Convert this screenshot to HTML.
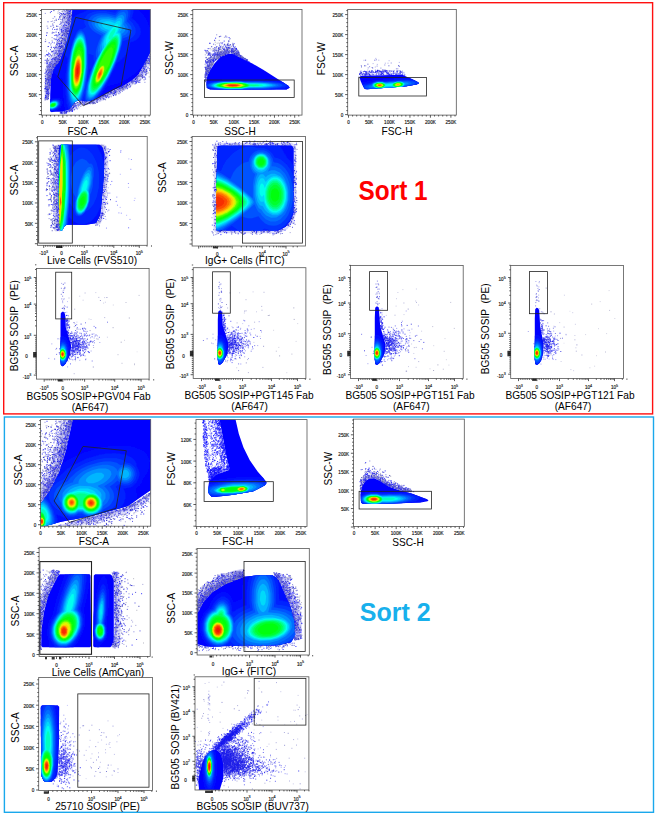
<!DOCTYPE html>
<html><head><meta charset="utf-8"><style>
html,body{margin:0;padding:0;background:#fff;width:659px;height:816px;overflow:hidden}
svg{display:block;font-family:"Liberation Sans",sans-serif}
</style></head><body>
<svg width="659" height="816" viewBox="0 0 659 816">
<defs><filter id="bl" x="-5%" y="-5%" width="110%" height="110%"><feGaussianBlur stdDeviation="0.45"/></filter></defs>

<rect x="3.7" y="2.7" width="648.9" height="411.2" fill="none" stroke="#ff1010" stroke-width="1.4"/>
<rect x="4.4" y="417" width="649.1" height="395.3" fill="none" stroke="#1aa8ec" stroke-width="1.4"/>
<text transform="translate(358.6 200) scale(1 1.12)" font-size="24.35" font-weight="bold" fill="#ff0000">Sort 1</text>
<text transform="translate(359.8 620.7) scale(1 1.06)" font-size="25" font-weight="bold" fill="#18b0ec">Sort 2</text>

<clipPath id="c0"><rect x="41.4" y="9.4" width="108.9" height="105.7"/></clipPath><g clip-path="url(#c0)"><path fill="#2020e0" fill-opacity="0.20" fill-rule="evenodd" d="M72.5 9.2l-8.3 0-1.7 2-.7 9-2 10.3-4 13.7-4 10.6-4.6 6.7-1 2.3-1 10.7 0 25 .6.7 2 0 1-1.4 2-14.6 0-3.7 1.7-8 3-5.7 5.3-7.6 7.7-23 3-15z"/><path fill="#2020e0" fill-opacity="0.20" fill-rule="evenodd" d="M71.8 9.2l-3 0-1.3 1.6-1 10.7-2.3 11.7-3.7 12.3-4.3 11.7-5 7-3.7 7.3-1 5.7-.3 21.6.6.7 1-.3 3.7-25.7 2.7-5.7 6-8.6 3.6-9.7 4-13.3 3-14.4z"/><path fill="#2020e0" fill-opacity="0.20" fill-rule="evenodd" d="M70.8 10.8l-.6 2-.7 8.4-3.3 15.6-3.7 12-3.7 9.7-6 8.7-2.6 5.6-1 5 0 5.4.6-6.4 1.4-5 3-5.6 5.3-7.7 7.3-22 3-14.3z"/><path fill="#2020e0" fill-opacity="0.15" fill-rule="evenodd" d="M61.2 54.8l-4 .4-2.7 1-6 8.3-2.3 4.7-1.4 8-.3 21.3.7 1.3 2.6.4.7-.7 3.3-25 3-6.7 5.7-8 1.3-3.6z"/><path fill="#2020e0" fill-opacity="0.15" fill-rule="evenodd" d="M60.5 55.5l-2.7 1-1 2.3-4.6 6.4-3.4 6.6-1.3 6.7-.3 5.3 0 15 .6-.6.7-6 1-3.7.7-8 1.3-7.3 3-6 4.7-6.4 1.6-3.6z"/><path fill="#2020e0" fill-opacity="0.17" fill-rule="evenodd" d="M151.8 52.5l-.6-.3-1.4 1-11.3 21.3-6.7 5.7-9.6 6.3-9.7 4-19.7 9.7-5 1-6.3-.4-2 1-5.3 1.4-5 6-6.4 2.3-2.3.3-.7 1 .4 1 2.3.4 10-2.4 3-2 4.3-4 3.4 0 2.6-1 8.4-1.3 6-1.7 23.6-11 12.7-8.3 3.3-1.3 2-1.7 2-2.7 6-11.3 1.4-6.3.6-1z"/><path fill="#2020e0" fill-opacity="0.17" fill-rule="evenodd" d="M76.8 103.8l-2.3 0-4.7 5.7-5.6 2.3-3 .7-.4.7 1.4.3 9-2.3 2.6-2.7zM150.8 54.2l-.6 0-11.4 21-7.6 6.3-10 6.3-7 2.7-19.7 9.7-6.7 1.6-6-.3-1.3 1.3 2.3 1 4 0 9-2 18.7-9 8.3-3.3 11.4-7.3 4.3-3.4 3-3.6 8.3-15.7z"/><g filter="url(#bl)"><path fill="#0000ff" fill-rule="evenodd" d="M151.8 9.2l-79.3 0-1.3 13.3-2.4 11.7-4 13.6-4.3 11.7-5.7 8-3.3 7.7-.7 4-.6 15.6 0 16 .6 1 11.4 0 6.6-2.3 2.4-2 4.3-6 3-1.3 2.7 0 3.6 1.3 8.4-1.3 19.6-9.7 9.7-4 9.7-6.3 6.3-5.4 12-22.6 1.3-1.4z"/><path fill="#0010ff" fill-rule="evenodd" d="M60.8 98.8l-2.3-1-4.3 0-4 1.4 0 11.6.6 1 1 .4 3.4-1 3-1.7 2.6-2.3 2-4-.3-2.4zM138.2 9.2l-65.7 0-1.3 13.3-2.4 11.7-4 13.6-4.6 12.4-5.4 7.3-2 4 3.4 3 7.3 5-.3 12.7.6 9.6 1.4 8.7 4.3-1.3 1.7-1.7 3-4.7 1.3-1.3 3-1.3 2.7 0 3.6 1.3 3.7-.3 4.7-1 6.3-3 7.3-11 11.4-3 8.6-4 8.7-6 7.3-7.7 3.4-5 4-9.3 1.3-6.7 0-9-1.3-6.7-4-9.3-3.4-5z"/><path fill="#0020ff" fill-rule="evenodd" d="M59.8 100.2l-2-1-4.3 0-3.3 1.3 0 10.3 2.3 0 2-.6 3-1.7 2.7-2.7.6-1.3 0-3zM133.5 9.2l-17.7 0-1 1-3.3-1-21.3 0-3 1-4 2.3-4.4 1.3-7.3 4.4-.3 4.3-2.4 11.7-4 13.6-1.6 4 1.3 3 3 3.4-2 18 0 16 1.3 11.3 1.7 6 2.7-2 4.3-6 3-1.3 2.7 0 4.3 1.3 6.7-1 5-2.3 5.3-7.4 5.3-9 6-12 2.7-6.6 3-2 5-5 1.7-2.4 2.3-4.6 1.3-4.4 0-2 5.7-2.3 3.7-3.3 1.6-4.4-.6-4.6-2.4-4.4-3.3-3.6-2.7-2 1.7-6.7zM90.2 68.8l.3 1.4-1.3 3 0-4z"/><path fill="#0036ff" fill-rule="evenodd" d="M58.8 100.5l-1.6-.7-3.7 0-3.3 1.4 0 9 2.3 0 2-.7 3.7-2.3 2-3.7-.4-1.7zM130.5 9.2l-11.7 0-3.6 3.6-11.4-2-9.3.7-5.3 2-2 1.3-2 2.4-1 2.6.3 4 1.7 3-3.7 2.4-2.3-.4-1.4.7-2.6 3.3-4 10-4 17.7-1.4 12-.3 14.7 1 11.3 1.3 6 1.7 3.7 5-6.7 3-1.3 3.7.3 2.3-7.3.3 6.3.7 2 6.7-1 2.3-1 2.3-2.3 6.7-9.4 4.7-8 8.6-18.6 3.7-10.4 2.3-9.6 8-2.7 2-1.3 2.4-3 .6-2-.3-4-2.7-4.7-3.6-3.7 1.3-6zM88.5 53.8l5 1.4 0 4.6 1 2-4.3 10.4-3 9.6-.4-2.3 1.4-10z"/><path fill="#0052ff" fill-rule="evenodd" d="M58.8 101.5l-3-1.3-3 .3-2.3 1-.3 8.3 3-.3 3.3-1.7 2.7-3 .3-1.6zM81.2 30.5l-1.7.3-2 1.7-3.3 6.3-2.4 7.4-3.3 18-1 10.6 0 14.4 1.3 10.3 2.7 7 4-5 3-1.3 2.7 0 3.6-12.4 1.7-10 1-10.6-.3-21.7-2-10-1.7-3.3zM126.8 9.2l-5 .3-3.3 2.3-3.3 3.4-9.4-2-5.6 0-4 .6-4.7 2-3 3.4-.3 4.3 1.6 3.7 2.7 3 3 2.3 6 3.3-3 6.4-2 6.3-.7 3.7 0 4 .7 2.3-5.7 13.3-4 13.7-1 6 0 6.7.7 2 1 1 3.3-.4 2-1 4.7-4.6 5.3-7.4 6-10.3 5.7-12 5.3-14.3 3-12.7 5.7-2.3 3-3.4.3-4.3-.6-2-2.4-3.3-2-1.7 1.4-5.7 0-4z"/><path fill="#006eff" fill-rule="evenodd" d="M58.5 102.2l-1.7-1.4-3.6 0-3 1.4 0 7 2.6 0 4-2 2-3zM81.5 32.2l-2.3.3-2 2-3.7 7.7-2.7 10.6-2 14-.6 7.7.3 17.3 1.3 7.4 1 3 1.7 2.6 3-3.3 3-1.3 1.7 0 2.6-7.4 1.4-5.3 2-12.3 1-17.7-.4-10.3-1.3-8.4-1-3-1.3-2.3zM123.8 11.8l-3 .7-1.6 1-4 3.7-6-1.7-8-.3-3.4.6-3.6 1.7-2.4 2.7-.3 3.6 2.3 4.4 3 2.6 5.7 3 .7 1-2 4-2.7 7.7-.7 4 .7 4.7-5.3 11.6-5.4 16.7-1.3 8 0 4.3.3 1.7 1.7 2.3 2 0 3-1.6 5.7-6 6-9 6.3-12 5.3-12.7 4.4-14 1-7.7.6-1 3-1.3 2.4-2.7.3-3.6-1.3-3-2-2.4 1-7.6-.7-2z"/><path fill="#0092ff" fill-rule="evenodd" d="M58.2 102.5l-1.7-1.3-3.3 0-3 1.3 0 6.3 2.6 0 3-1.3 2.4-3zM81.5 33.5l-1.7 0-1.6 1-3.4 5.7-3 9.6-1.6 9.7-1.4 13 0 16 1.4 8.7 1.6 4.3 1.7 2 2-2 3.3-1.3 2-3.7 3-10.3 1.7-10 1-12.4 0-15.6-1-7-1.3-4.4-1.7-2.6zM122.2 14.8l-3.4 1-3.6 3-6.7-1.6-8.3.3-3 1.3-2.4 2.7 0 3.3 1.4 2.4 2.6 2.6 6.4 3.4-2.7 5.3-2.3 7-.4 5.3.7 1.4-3.7 7-4 9.6-4.3 14-1.3 10.7.6 3.3 1.7 1.7 1.3 0 3-1.7 6.7-7.3 6.7-10.7 5-10 4-9.6 4.3-14 1.3-8.7-.3-2.7 1.3-.6 2.4-2.7 0-3.3-2-3 1-3.7 0-3.3-.4-1z"/><path fill="#00b6ff" fill-rule="evenodd" d="M57.5 102.5l-1.3-1-3 0-2.4 1-.6.7 0 5.3 2.6 0 3.4-1.7 1.6-2.3zM81.5 34.8l-2.7.4-3.3 4.6-3.3 10.4-2 12.3-1 12.7.3 14 2 9.3 1.3 2.3 1.4 1 1 0 2.6-1.6 3-5.7 2.7-9.3 2-13.4.7-8 0-15-1.4-8-1.6-4.3zM120.8 17.8l-1.3 0-2 1-2.3 2-5.7-1.6-6.3 0-2.4.6-2.6 2.7 0 2.7.6 1.3 2.7 2.7 5 2.3.3.7-2.3 4.3-2.7 8 .4 5.3-6.7 13.4-5.3 15-1.7 7-.7 6.3.7 4 .7 1 1.3.7 2.3-.7 2.7-2 5.3-6.3 7.4-12 7.3-16.4 3.3-10 2-9.3 0-7-1-1.7 2-2.3-.3-4.3.7-1.7 0-4.3z"/><path fill="#00dafa" fill-rule="evenodd" d="M57.2 102.8l-1.4-1-2.6 0-2.4 1-.6.7 0 4.7 2.6 0 2.4-1 2-2zM80.5 35.8l-1.3.4-2 2-2.7 5.3-2.3 8.3-1.7 10.7-.7 9 0 15.7.7 5 1.3 4.6 1 2 1.7 1.4 2-.4 1.7-1.6 3-6.4 2.3-9 2-15.3 0-21-1.7-7-1-2zM119.5 20.8l-2.3.4-2.4 2-4.3-1.7-4-.3-3.3 1-1.4 1.6.7 2.7 2.7 2.3 3 1 .6 1-3.3 6-1.3 3.7-.7 3.3.7 3.4-2 3-5 10-6 16-2.4 10.3 0 6.7 1.4 2.3 2.3 0 2.3-1.3 6.7-7.7 5.3-8.7 7.7-16.3 4-12 1.7-8 0-6.7-.7-1.6-1.7-1 1.4-2.7 1.3-5.3-.3-2.7z"/><path fill="#00fff0" fill-rule="evenodd" d="M56.8 103.2l-1-1-3 0-2.6 1.6 0 4 3 0 2-1 1.6-2zM80.8 37.2l-1 0-2.3 1.6-3 6-2.3 8.7-1.4 9-.6 10 0 13 1.6 9.3 1.4 2.7 1.3 1 1.7 0 1.3-1 3.7-7.3 2.3-9.7 1.7-13 0-20.3-1.7-6.7-1-2zM117.5 24.2l-2.3.6-3.4 3.4-2.6 4-2.4 4.6-1 3.4 0 3 .7 1-5 8-7 15.3-3.7 11.3-1.3 6.7 0 6.3 1.3 2.4 2.4 0 1.6-1 6.4-7 6.3-10.4 7-15.3 3.7-11.3 1.3-6.7-.3-7.3-1-1.4-2.4-.3 1.4-2.3 1-3.4 0-3z"/><path fill="#00ffbe" fill-rule="evenodd" d="M56.5 103.2l-1-.7-3.7.3-1.6 1.4 0 3 4 0 2-1.7zM80.8 38.5l-2 .3-1.6 1.7-2 4-2.4 7.7-1.6 10.3-.7 11 .3 14 1.7 7 1 1.7 1.3 1 1.7-.4 1.7-1.6 2.3-4.7 2.3-8.7 2-14.3 0-19.7-1.3-5.6-1.3-2.7zM115.2 28.5l-1.4.3-3.3 4-2 5 .3 1.7 1.7 0-4 5-3.7 6-5.3 10.7-3.3 8.3-2.4 7.3-1.6 7.7 0 6.3 1.3 2 2 0 2.7-1.6 6.3-7.7 6.7-11.7 5.6-13.3 2.4-7.3 1.6-7.7 0-6.3-1.3-2-2 0-2.3 1.6-.7-.3 2.3-4 .7-2.3z"/><path fill="#00ff8c" fill-rule="evenodd" d="M56.2 103.5l-.7-.7-3.7.4-1.6 1.6 0 2 4 0 2-2zM80.8 39.8l-1.6 0-2 2-1.4 2.4-2.6 8.3-1.7 10-.7 11.7.4 12.3 1.3 6 1 2 1.7 1.3 1.3-.3 1.7-1.7 3-7 1.6-7 1.7-12.3 0-18.7-1.3-5.6zM116.8 36.5l-1.6 0-2.4 1.3-4.3 4.7-5 7.7-5 9.6-3.3 8-3.4 10.7-1 5.3 0 5.4 1.4 2.3 1.6 0 2.4-1.3 4.3-4.7 5-7.7 5-9.6 3.3-8 3.4-10.7 1-5.3 0-5.4z"/><path fill="#00ff57" fill-rule="evenodd" d="M55.8 103.8l-1.6-1-1.7.4-2 1.6-.3 1.4 1.6 1 1.7-.4 2-1.6zM80.5 41.2l-1.3 0-2 2-1.7 3.3-2 6.3-1.7 10-.6 11.7.3 11 1.3 6 1 2 1.4 1 2.3-1 2-3.3 1.3-3.7 1.7-7 1.7-12.3 0-17.4-1.4-5.6-1-2zM115.5 37.8l-3 1.4-6 7-3.7 6-6.3 13.3-3.7 11-1.3 7 0 4 .7 1.7 1.3 1 3-1.4 6-7 3.7-6 6.3-13.3 3.7-11 1.3-7 0-4-.7-1.7z"/><path fill="#00ff2d" fill-rule="evenodd" d="M55.2 103.8l-1-.6-2.4.6-1 1 0 1.4 1 .6 2.4-.6 1-1zM79.8 42.5l-2.3 1.7-2.3 4.6-1.7 6-1.3 8.7-.7 11 .3 10.3 1.4 5.7 2 2.7 1 0 1.6-1.4 2.7-5.6 2-8.7 1.3-11 0-15.3-1.3-5.7-1-2zM114.8 39.5l-3.3 1.7-4.3 5-4 6.3-4.7 9.3-4 10.7-2 8.3 0 6 1.7 1.7 3.3-1.7 4.3-5 4-6.3 4.7-9.3 4-10.7 2-8.3 0-6z"/><path fill="#00ff0f" fill-rule="evenodd" d="M51.2 105.2l.3 1 2 0 1-.7.3-1.3-2.3-.4zM80.5 44.5l-1.7 0-2.6 3.7-2.4 7.6-1 6-1 18 1.4 9 2 3 1.3 0 1.7-1.6 1.3-2.7 2-6.7 1-5.6 1-10.4 0-11.3-.7-4.3-1-3zM114.2 41.5l-2.7 1-4 4.3-4.7 7.4-3.3 6.6-4.3 11.4-1.7 7 0 6 1.3 1.3 2.7-1 4-4.3 4.7-7.4 3.3-6.6 4.3-11.4 1.7-7 0-6z"/><path fill="#12ff00" fill-rule="evenodd" d="M54.2 104.5l-1.4-.3-1 .6 0 .7 1.4.3 1-.6zM79.8 46.5l-2 1-2.6 5.7-1.7 8-1 8.6 0 13.4 1.3 5.6 1.4 1.7 2-.3 2.3-4 2-7 1-7 .3-18.4-1-4.6-1-2zM113.2 43.8l-2 .7-3.4 3.3-3.6 5.4-4 7.6-3.4 8.4-2 7.3-.3 6 1 2 1.7 0 2.3-2 5.3-7.7 4-7.6 3.4-8.4 2-7.3.3-6z"/><path fill="#36ff00" fill-rule="evenodd" d="M79.8 49.8l-1.3 0-1 1-1.7 3.7-3 15 0 13 1.4 5.3 1.6 1.7 2-1.3 1.7-3.4 1.3-4.3 1.4-8 0-15.3-.7-4.4zM111.8 47.2l-2 .6-3.3 3.7-3.3 5.3-3.4 7-4.6 14-.4 3.4.4 1.6 1 1 2-.6 3-3.7 8-15.3 2.3-6.4 1.3-6 0-3z"/><path fill="#5aff00" fill-rule="evenodd" d="M103.8 65.2l-2 .3-1.6 1.7-3.4 6-1.3 4.6 0 4 .7 1 2-.3 1.6-1.7 3.4-6 1.3-4.6 0-4zM79.2 53.8l-.7 0-1.7 1.7-1 2-1.6 5.7-1 6.3 0 12.3 1 4.4 1.6 2 .7 0 1.7-1.7 1-2 1.6-5.7 1-6.3 0-12.3-1-4.4z"/><path fill="#b2ff00" fill-rule="evenodd" d="M103.2 65.8l-1.4.4-2 2-2.6 5-1.4 5 0 2.6 1 1.4 1.4-.4 2-2 2.6-5 1.4-5 0-2.6zM79.2 55.2l-2 1-1.4 2.6-2.3 10.7 0 11.7 1 4 1.3 1.6 2-1 1.4-2.6 2.3-10.7 0-11.7-1-4z"/><path fill="#e9f000" fill-rule="evenodd" d="M103.2 66.8l-1.4 0-2 2-2.3 4.4-1.3 5.6.6 2.4 1.4 0 2-2 2.3-4.4 1.3-5.6zM79.2 56.5l-1 0-1 1-1.4 2.7-2 9.3 0 11 .7 3 1.3 2 1 0 1-1 1.4-2.7 2-9.3 0-11-.7-3z"/><path fill="#ffcf00" fill-rule="evenodd" d="M102.8 67.8l-1.3 0-1.7 1.7-1.6 3-1.4 4.3.4 3.4 1.3 0 1.7-1.7 1.6-3 1.4-4.3zM78.8 57.8l-.6 0-1 1-1 2-2 9 0 9.7.6 3 1.4 1.7.6 0 1-1 1-2 2-9 0-9.7-.6-3z"/><path fill="#ffa000" fill-rule="evenodd" d="M102.2 68.8l-1.7.7-2.3 4-.7 2.3.3 3.4 1.7-.7 2.3-4 .7-2.3zM78.8 59.2l-.6 0-1 1-1 2-1.7 8 0 8.3 1 3.7.7.6.6 0 1-1 1-2 1.7-8 0-8.3-1-3.7z"/><path fill="#ff7200" fill-rule="evenodd" d="M101.8 70.2l-1 0-2.3 3.6-.3 4 1 0 2.3-3.6zM78.8 60.8l-1 0-1 1.4-1.6 6-.4 9 1.4 4 1 0 1-1.4 1.6-6 .4-9z"/><path fill="#fd4900" fill-rule="evenodd" d="M100.8 71.8l-1.6 2 0 2.4 1.6-2zM78.5 62.5l-.7 0-1 1.3-1.3 5-.3 6 .3 2.7 1 2 .7 0 1-1.3 1.3-5 .3-6-.3-2.7z"/><path fill="#f72f00" fill-rule="evenodd" d="M78.2 64.5l-1.4 1.3-1 4.7 0 4.7 1 2.3 1.4-1.3 1-4.7 0-4.7z"/><path fill="#f01400" fill-rule="evenodd" d="M78.2 67.5l-.7 0-.7 1.7 0 5.3.7 0 .7-1.7z"/></g><path stroke="#0808a0" stroke-opacity="0.90" stroke-width=".9" stroke-linecap="square" d="m63.6 9.6h0m4.3.3h0m.2.2h0m-14.2.5h0m12.9.2h0m-3.8 4h0m8.5.9h0m-2 .5h0m-10 .8h0m10 .2h0m-5 .4h0m3.6 2h0m-11.9.7h0m9.8 1.2h0m4.3.1h0m-2.5 1.5h0m1.3.4h0m-4.4 2.5h0m-8.2.2h0m10.7 2.2h0m1.4.4h0m-1.9 1.8h0m1.3.2h0m-.5.1h0m1.4.4h0m0 0h0m-2.1.1h0m-.9.4h0m-7.4.8h0m8.1.3h0m1 .6h0m-.9 2.7h0m-2 2.4h0m-2.1 0h0m-1.1 2.1h0m-4.2 4.3h0m2.1 1.4h0m2.4 1h0m-7.1 1.2h0m8.8.3h0m-2.4 2h0m-9.1.3h0m-.1.8h0m5.7 1.5h0m1.7 1.4h0m-4.6.1h0m-3.3.9h0m5 1.2h0m-.8.6h0m4.1 1.8h0m-.7.7h0m-10.9.2h0m9.8.2h0m-11.1 1.1h0m7.6 2.2h0m-.2.5h0m-3.4.6h0m5 .1h0m-7.1 1h0m4 .1h0m-3.8 2.9h0m-.9.2h0m5.6.5h0m-5.6 5.3h0m0 2.1h0m2.4.2h0m.1 1.2h0m-2.4.7h0m-2.2 1.1h0m3 .7h0m-1.1 1.7h0m2.3 2.6h0m-4.4 2.2h0m.7 1.6h0m1.1 4.3h0m-2.4 6.4h0"/><path stroke="#1a1aff" stroke-opacity="1.00" stroke-width=".9" stroke-linecap="square" d="m72.2 9.6h0m-5.5 0h0m4 .8h0m-.5.3h0m.1.6h0m-.8.1h0m-18.2.1h0m17.5.3h0m.6 1.4h0m0 .2h0m-5.7.1h0m-2.8.1h0m7.3.3h0m.7.1h0m.6 1.7h0m-8.7 0h0m10.6.1h0m-3.4 0h0m2.7.6h0m-7 .5h0m-3.6.1h0m6.1 1h0m2.6.3h0m-10.2 1h0m10.1.3h0m.1 1h0m1.5.9h0m-.2.3h0m-2.2 0h0m1.9.1h0m-2.9.5h0m3.2 1.6h0m-5.6.1h0m-4.5.3h0m8.5.2h0m-3.2.4h0m-1.7.4h0m3 .1h0m3.5.1h0m-1.7.7h0m-1.2 1.4h0m-2.3 0h0m3.2.2h0m-5.9.2h0m1.7.6h0m3.5.1h0m-1.3.4h0m-4.9.2h0m-6.4.1h0m6.9.2h0m4.6.1h0m-4.9.2h0m7.5.1h0m-3.3 0h0m1.8.5h0m-4.2.2h0m.3.1h0m-1.9.3h0m.5.1h0m6.1 0h0m-1.4.5h0m-10.7.3h0m-3.9 1h0m14.9.1h0m-2.6.3h0m.1.1h0m-.6.2h0m1.3.3h0m1.2 0h0m-2.6.4h0m-4.6 0h0m8.9.3h0m-5.7.3h0m-4.4 0h0m-11.6.3h0m8.4.1h0m7.7.1h0m-.9.1h0m2.9 0h0m-7.4.4h0m8.2.7h0m1.6.5h0m-6.9.6h0m1 .1h0m-4.8 1.1h0m8.5.8h0m-.4.3h0m-7 .2h0m2.2.6h0m5.8.7h0m-13.1.4h0m-3.1.7h0m12.4 0h0m-.2.4h0m-.2.3h0m-2.5.2h0m6.2.3h0m-8.3.3h0m8.5.6h0m-3.2.6h0m.4.8h0m-3.3.2h0m4.1 0h0m-14.7 0h0m13.5.4h0m-5.7.1h0m7.4.1h0m-9.9.3h0m9.4.5h0m-2.5.1h0m-1.6 1.1h0m3.5.4h0m1.2 0h0m-4.4 1.3h0m3.8.1h0m-9.4.1h0m-1.4.5h0m6.6 0h0m1 .5h0m3 .4h0m-14.4.7h0m5.7.1h0m1.5.2h0m2 0h0m4.2.3h0m-1 0h0m-1 0h0m1.2.1h0m-11.4 0h0m12.1.2h0m-1.8.2h0m-13.3.4h0m.6.2h0m12.3.1h0m-9.2 0h0m8.2.5h0m-.4 0h0m2.8 1.1h0m-11.9.1h0m10.5.8h0m-4.4.6h0m-2.1.8h0m-.6.1h0m5.7 0h0m-1.4 0h0m-5.1.7h0m-6.5.7h0m10.1.5h0m1.1.8h0m.3.3h0m-6.1.3h0m-1.1.7h0m-2.4.2h0m9.3.2h0m-9.2.4h0m9.2.3h0m-6.1 0h0m-1.3.7h0m7.4 0h0m-6.9.1h0m4.6 0h0m-1.4.1h0m1 0h0m1.9.9h0m.2.1h0m-2.6 1.2h0m.5 0h0m-5.8.1h0m6.6.2h0m-4.6 2.4h0m1.1.4h0m-1.8.5h0m.3.5h0m-3 0h0m4.3.2h0m1.6.5h0m-1.1.2h0m-2.6.4h0m-3.7.8h0m2.9.5h0m3.5 1.1h0m-1.5.7h0m.4 1.2h0m-1.4.3h0m1.4 1.2h0m-4.6.3h0m-.3.1h0m4.8.6h0m-1.7.9h0m1.6.3h0m-1.6 1.7h0m1.8.3h0m-2.8.7h0m-2 .4h0m4.8.4h0m-3 .1h0m2.2 0h0m-.7 1.1h0m-2.6 1.5h0m-.5.5h0m3.3 1.1h0m-3.3.1h0m-.6.1h0m-.1.4h0m3 .6h0m-.6.3h0m-.1.3h0m.1.9h0m.3.1h0m0 .7h0m-1 .1h0m2 .3h0m-2.2 1.2h0m.8.2h0m1.2.7h0m-2.5 1.2h0m.2 1.2h0m-.5.2h0m.1.4h0m-.3.3h0m-.4.6h0m3.3.4h0"/><path stroke="#2b2bd8" stroke-opacity="0.90" stroke-width=".9" stroke-linecap="square" d="m72.1 9.5h0m-5.6.4h0m-7.6.1h0m8.9 1.9h0m-17.4.7h0m9.4.1h0m7.3.1h0m.3.4h0m1.3.1h0m-2.6 0h0m-4.8.2h0m2 .1h0m7.1.1h0m-1.2.2h0m-4 .3h0m-.6.4h0m3.7 0h0m-6.6.1h0m3.5 0h0m6.2 0h0m-4.2 1.1h0m-1.8.6h0m-10.7.4h0m14.2.4h0m-4.7 0h0m5.1.6h0m1.7.2h0m-.5.7h0m-1.2.1h0m-6.8.3h0m5.6.3h0m-5.3.7h0m6.7.1h0m1.8 0h0m-3.5.4h0m-19.8 1.2h0m14.2.2h0m1.9.2h0m4.4.4h0m-2 .1h0m-5.1.3h0m7.9 1.1h0m-.1.1h0m-16.1 1.5h0m16.4.5h0m-6.4.1h0m-12.2 0h0m6.9 0h0m5.5.9h0m-9.6.2h0m15.5.4h0m-3.5 0h0m-17.9.4h0m18.7.6h0m-9.4.2h0m12.5.1h0m-17.1 0h0m4.5.6h0m8.1 0h0m0 .4h0m.2 1.6h0m-.4.3h0m-3 .7h0m.9.1h0m-15.9.1h0m21.7.3h0m-4.7.4h0m4.3 0h0m-.2.2h0m-.8.2h0m1.1.2h0m-12.3.7h0m.4.3h0m10.3 0h0m-1.8.2h0m-3.5 2.5h0m1.6.6h0m2.6.5h0m-10.8 0h0m4.4 0h0m6.1.1h0m-7 .4h0m4.9.1h0m-7.3.1h0m6.5.5h0m3.1.1h0m.7.9h0m-.8 0h0m-4.5.2h0m-15.6.2h0m16.1.5h0m-.2.1h0m5 .1h0m-.7.2h0m-7.7.3h0m-3.5.1h0m11.3.5h0m-6.4.1h0m4.4.2h0m-3.8 0h0m4.7.3h0m-4.5 0h0m-.4.2h0m5.8.4h0m-5.6.1h0m-.4.7h0m2.5.1h0m-1.7.8h0m.1.1h0m1.7.2h0m-1.3 0h0m-.1.1h0m1.5 0h0m-10.7.4h0m7.3.1h0m-1.7.1h0m-1.3.2h0m7.3.3h0m1.2.3h0m-5 .2h0m1.3.2h0m2.5.1h0m-5.9.2h0m-6.6.9h0m12.6.5h0m-5.1.4h0m1.1.1h0m1.9.1h0m-4.9 0h0m3.3.1h0m1.5.5h0m-4.4.7h0m5.6.9h0m-.9.1h0m-1.3.2h0m.1 0h0m-2.2.7h0m-.7.1h0m5.2.2h0m-14.1.2h0m-.8.7h0m13.9 0h0m-16 .7h0m13.5.2h0m1.7.1h0m-2.1.3h0m-10.9 2.3h0m-.2.3h0m12.3 0h0m-2 .1h0m-2.9 0h0m.2 0h0m4 .1h0m-3.7.4h0m-1 0h0m1.3.6h0m-8.7.3h0m10.3.7h0m1.3.2h0m-6.5 0h0m6.7.5h0m-11.6.9h0m10.8.2h0m-2.4.3h0m-4 0h0m4.7.6h0m-1.2 0h0m.6.2h0m-.8 1.2h0m-4.8.7h0m.6.4h0m2.3.2h0m-5.8.2h0m2.5.4h0m2.5.6h0m-.6 1.6h0m2.1.1h0m-.7.7h0m-5.1.2h0m4.5.6h0m-5.9.1h0m2.8.7h0m-2.9.4h0m5.8.3h0m-1.6.3h0m1.1.7h0m-.4.1h0m-1.1 0h0m.4.6h0m-3.6.1h0m4.2.3h0m-1.1 1.3h0m-4.7.1h0m3.9.5h0m-.1.2h0m1.9.6h0m-3.3 1.2h0m-.5.4h0m2.1.3h0m-2.3 0h0m.2.1h0m3.1 1.1h0m-4.4.4h0m.4.1h0m-.3.6h0m4.4.4h0m-.5.4h0m-.1 1.2h0m-.8 1.8h0m.2.9h0m-1.5.5h0m-1.6.4h0m3.3.5h0m-1.6 1h0m-2.4.1h0m3.1.3h0m-1.6.3h0m1.5.2h0m-.9.9h0m-.8.9h0m1.2 1.9h0m1.4.1h0m-.5.8h0m-.7.1h0m.3 1h0m-2.8.1h0m3 1.2h0m-2 .5h0m.4 0h0m1.2 1h0"/><path stroke="#5a5ad0" stroke-opacity="0.80" stroke-width=".9" stroke-linecap="square" d="m69.3 10.4h0m-4.8.3h0m-2.4.6h0m8.9 1.2h0m-.3.2h0m-3.1.3h0m1.2.3h0m-23.5.1h0m16.6.8h0m8.9 1h0m0 1.8h0m-3.1.5h0m-4.4.7h0m-3.5 0h0m-6.7.2h0m11.2.1h0m2.9.2h0m-2.2.4h0m-8.8.1h0m4.7.2h0m9.2.3h0m-.6 1.5h0m-3.1 0h0m-15.2.3h0m18.8.2h0m-9.5.2h0m8.3.1h0m-14.6.4h0m6.3 1h0m-7.7 1.3h0m12.6.8h0m-18.3.6h0m13 .9h0m7 .6h0m-7.5.7h0m4.5 1.5h0m-4.7.1h0m2.8.1h0m4.1 1.6h0m-4.7.5h0m-9 .1h0m1.3.3h0m9.6.1h0m-9.7.1h0m-6.6.1h0m11.5.5h0m6.1.4h0m-.3.1h0m-2 .7h0m3.7 1.7h0m-.1.5h0m1 .2h0m-15 .7h0m12.1.8h0m-10.3.3h0m8 1.6h0m-2.4.2h0m6.1.7h0m-8.7.7h0m7.9.2h0m.4.5h0m.6.4h0m-1.7 0h0m.8.1h0m-4.9.2h0m-2.7.1h0m-.5.6h0m7.7.4h0m-13.8.5h0m10.9.6h0m-1.5 1.7h0m-5.3.1h0m-3.5.2h0m.1.4h0m12.9.2h0m-2.4 1.7h0m-2.4.4h0m-4 .6h0m1.4.1h0m6.3 0h0m-3.5.2h0m2.4.9h0m-2.9.2h0m-3.6.3h0m2.9.3h0m-1.3.6h0m-.6 3.8h0m-1.6.4h0m-.1.6h0m4.3.1h0m-4.9.1h0m-.8.1h0m1.1.1h0m1.3.1h0m-.2 1.7h0m-3.5.3h0m.5.6h0m3.4.5h0m-8.5.2h0m10.9.2h0m-.8 0h0m-5.3.7h0m5.2.3h0m-6.8 1.2h0m2.9 1.1h0m.8.8h0m-7.2.3h0m1.5.4h0m2.4.2h0m1.9 0h0m.6.2h0m-.7 1.4h0m-5.5.1h0m-2 .4h0m4.1.5h0m.8.4h0m1.2.8h0m-1.5 1.4h0m-4.2 0h0m1.9 1.2h0m3.1.6h0m-3.2.6h0m3.1.9h0m-5.3.8h0m4 .3h0m-.7 1.3h0m-1.4 1h0m-1.2 1h0m.6.2h0m-1.7 2.2h0m2.2 1.1h0m-1.8 1.2h0m-.5 1.4h0m2.1 1.2h0m2.3 1.1h0m-4.3 2.7h0m.9.6h0m1.3 2.1h0m-.4 4.1h0m-.6 1h0m1.3.5h0"/><path stroke="#8080c8" stroke-opacity="0.80" stroke-width=".9" stroke-linecap="square" d="m60.8 9.7h0m8.6.3h0m-6.4.7h0m2.1.6h0m.6.1h0m3.2 1h0m-.5.5h0m-10.4.4h0m8.8.9h0m-7.1 0h0m9.2.5h0m-9.4 0h0m7 .4h0m2.5 0h0m-4.3 1.1h0m-3.9.2h0m10.7.1h0m-1.2 1.8h0m-.6.2h0m0 .2h0m-9.5.6h0m8.3.1h0m-6.6.3h0m5.6.3h0m-2.6.2h0m-10.2.4h0m7.9.4h0m-10 .1h0m14.1.3h0m1.6 0h0m.8.1h0m1.9.3h0m-.2.1h0m-1.6.1h0m-6.1.3h0m2.4.3h0m2 0h0m2.6.3h0m-4.7.1h0m-12.7.7h0m17.2.6h0m-.1.9h0m-5.2.2h0m3.8 1.1h0m.8.1h0m-1.9.2h0m-.1.8h0m.7.1h0m.2.1h0m-2.8.4h0m1.4.7h0m-10.1.6h0m10.8.1h0m1.4 0h0m-6.1 2.3h0m6.2 0h0m-3.7.6h0m2.6.1h0m-7.6 1.1h0m5.9.7h0m-1.5.4h0m-.9.3h0m2.2.7h0m-4.3.4h0m6 .1h0m-10.7 1h0m4.9.4h0m-.4.2h0m4.3 0h0m-1.1.3h0m.6.2h0m.3.5h0m1.4 0h0m-.8.1h0m.8.8h0m-3.2 1h0m-5.6.2h0m5.1.2h0m-17.4 0h0m15.9 0h0m1.1.9h0m1.4.4h0m.3.7h0m-13.4.3h0m8.6 1h0m2.6.5h0m1.4.6h0m-.4 0h0m.1.4h0m-15.6.6h0m15.6.3h0m.7.1h0m-1.4 0h0m1.2.7h0m-6.1.2h0m6.8.1h0m-2 .1h0m.9.3h0m-9 .1h0m8.1 1h0m-.2.2h0m.6.3h0m-1.5.1h0m1.5.4h0m-16.5.5h0m13.4.7h0m1.8.1h0m.3.1h0m-6.2 1.6h0m2.8.4h0m-9.9 1.5h0m10.3 1.7h0m-5.4.3h0m6.4.9h0m-.6.1h0m-2.6 1.3h0m-10.2.3h0m1.6.4h0m9.2.2h0m1.2 0h0m-3.6.7h0m-3.5.5h0m-6.4 1.2h0m11.9.7h0m-.4 0h0m-1.1.3h0m-6.1.4h0m5 .4h0m.4.3h0m-3 .1h0m-4.3.2h0m5.4 1h0m-1 1.3h0m-1.8.2h0m2.6.6h0m-4.2 1.1h0m-2.3 1.2h0m4.5.1h0m-1.9.7h0m1.9 2.1h0m-.7.6h0m-.5.2h0m-1.1 2.1h0m2 .9h0m.5.5h0m-5.1 2.1h0m4.4.4h0m-3.9.8h0m.2.7h0m1.3.1h0m2 1.2h0m-3.1.2h0m.4.8h0m-1.2 1.1h0m2.4.6h0m-2.9 1.5h0m2.8.4h0m.7.4h0m.1.5h0m-1.3 2.8h0m-1.4 5.2h0m1.1 2.6h0"/><path stroke="#8c8ca0" stroke-opacity="0.70" stroke-width=".9" stroke-linecap="square" d="m67.7 11.2h0m-5.4.5h0m-4.2.1h0m12.9 1.9h0m-3.1.9h0m3.4.3h0m-3.8.1h0m-1.6 2h0m-4 0h0m5.3.8h0m-3.2.4h0m6.6.4h0m.4 1.9h0m-1.3 3.9h0m-8.3 1.2h0m8.3 0h0m-.6.2h0m-2.3 1.3h0m-.2 3h0m.8.5h0m-.7 1.3h0m-.9 1.3h0m-2.4.6h0m3.1.3h0m-1.6 0h0m-3.8 1.1h0m.5 1.5h0m2.3 1h0m1.5.2h0m.7 1.1h0m-20.6.4h0m16.6.9h0m-10 .1h0m6.4 1.2h0m7.7.1h0m-.8.5h0m-9.9 3.7h0m6.4 3.9h0m-8.2 1.2h0m3.5 2.8h0m3.7.3h0m-3.5.1h0m-.8.3h0m-4 .6h0m7.1 3.4h0m-4.5 2.3h0m-4.5 3.2h0m3.4.5h0m.9.6h0m-1 .4h0m-7.1.9h0m2.5 3.6h0m-1.4.6h0m1.9.5h0m.1 3h0m-2.9 1.2h0m2.8 1.1h0m.3 1.4h0m-2.7.5h0m3 4.3h0m-2.4 2.1h0m.3 1.2h0m.8 2.7h0m-2.6 1.8h0m.8 4.4h0m1.6.5h0m-.6 1.6h0m-1.9 1.1h0m.5.7h0"/><path stroke="#0808a0" stroke-opacity="0.90" stroke-width=".9" stroke-linecap="square" d="m146.5 60.4h0m-.2.6h0m2.6 2.3h0m-5.7 3.2h0m1.5 2.5h0m1.1 2h0m-8.7 5.5h0m0 .8h0m5.5.3h0m-7.4.7h0m.3.8h0m-.1.3h0m-3.3 1.9h0m4.4.9h0m-8.4 3.6h0m-1.6.1h0m4.1.2h0m-7.7.9h0m-1.2 1h0m-1.8.3h0m3 .7h0m-6.8 2h0m-1.4 1h0m-4.1 0h0m5.4.2h0m-2.6 1.1h0m-13.8 4.6h0m-1.3 1.2h0m2.5.1h0m-9.2 1.6h0m1.6 1.4h0m3.9 0h0m-5.2 0h0m2.3.4h0m-16.6.1h0m12 .4h0m5.6.2h0m-20.7.1h0m14.5 0h0m4.3.2h0m-18.3.3h0m-2.3 1.6h0m.8 2h0m-4 2.5h0m1.6.3h0m-4.5 1.1h0m-2 .2h0m1.8.7h0m-4.8.1h0m-.9 0h0"/><path stroke="#1a1aff" stroke-opacity="1.00" stroke-width=".9" stroke-linecap="square" d="m149.8 56.7h0m-2.2 1.8h0m.9.4h0m1.6 0h0m-2.4 0h0m1.9.1h0m-.8 1.7h0m.7 1h0m-.6 1.1h0m-3.4.7h0m3.4.1h0m-4.2.5h0m.7.2h0m-.4.1h0m-1.5 1.3h0m7.4.5h0m-6.9.7h0m1 .1h0m3 .9h0m-5 .3h0m.7.2h0m1.1.7h0m-.7.6h0m-.6 1h0m-2.6 0h0m3.2.5h0m2.9.1h0m-5.1.9h0m3.3.2h0m1.6.9h0m-5.2 1h0m4.4.5h0m-7.4.8h0m3.9.4h0m2.1 1h0m.5.9h0m-9.1.3h0m.1.7h0m1.5.9h0m-4.6.3h0m-1.4.6h0m4.8.2h0m-2.1.1h0m-3.2.1h0m3.9.2h0m.8.2h0m-4.4.3h0m6.9.5h0m1.5.1h0m-3.4.6h0m-.8 0h0m-8.7 1.4h0m.6.2h0m2 0h0m-5.9 1.9h0m1.7.4h0m1.2.1h0m3.4.1h0m-7.5.4h0m-3.4.9h0m8.3.3h0m-4.4.1h0m-3.3 0h0m-1.8.7h0m-2.9.9h0m.1.7h0m-1.1.2h0m-3.4.7h0m4.9.1h0m0 .5h0m-3.6.2h0m-3.2.5h0m5.8.2h0m-6.7.3h0m5.8 1.4h0m-5.8.1h0m-3.6.1h0m-.3.1h0m1.4 0h0m.9.8h0m-.6.5h0m-4.3.2h0m5.2.4h0m2.3.3h0m-10.8.4h0m2.5 0h0m3.6 1h0m-7 .1h0m.3.7h0m-3.9.9h0m-3 .3h0m-.1.5h0m-7.4.1h0m-5.5.7h0m12.5.1h0m-9.5.3h0m9.4.5h0m-5.7.6h0m-3.8.1h0m3.9.7h0m-5.4.2h0m-2.8.7h0m-2.8 0h0m2.7.3h0m-1 .5h0m-1 .4h0m-.8.9h0m-.8.6h0m-1.3.5h0m1.7.2h0m-2.3.1h0m-2 .6h0m1.6.3h0m2.5.5h0m-6.5.6h0m3.4.2h0m3 .2h0m-5.3 0h0m-4 .4h0m2 .1h0m-.4.2h0m-.1.2h0m.5.1h0m-4.3 0h0m.3.3h0m-.5.1h0m5.2.1h0m-3.6 0h0m4.3 0h0"/><path stroke="#2b2bd8" stroke-opacity="0.90" stroke-width=".9" stroke-linecap="square" d="m150.3 54.6h0m-1.5 1.5h0m1.8.7h0m-.5.4h0m-1.7 1.1h0m2 .4h0m-1.4 1.3h0m.7.3h0m-2.7.1h0m.5.8h0m-2 .8h0m1 .3h0m-1 .1h0m.6.9h0m-1.4.6h0m.6 2.1h0m-2.2 1.7h0m6.2 1h0m-2.9.8h0m4.1.5h0m-3.8.2h0m2.9.1h0m-8.2.1h0m5 1h0m-2.1.6h0m-1.6.2h0m0 1.8h0m3.1 0h0m-4.4.7h0m4.2.2h0m-3.3.6h0m-1.9.4h0m-1 .1h0m.8.1h0m1.5.3h0m-3.3 0h0m4.7 1h0m-6.8.4h0m.7.6h0m8.6.7h0m-10.6 0h0m9.1.7h0m-11.5.2h0m7.1.7h0m-1.7 0h0m-5.3.2h0m.9.3h0m4.2.2h0m-6.1.9h0m-2.6.8h0m-1.9.9h0m7.8 0h0m-9 1h0m1.5.1h0m-2.5 1.1h0m1.1.6h0m-3.4.6h0m-1.8.1h0m1.1.1h0m-1.6.5h0m3.5 1.8h0m-5 .1h0m1.7.1h0m-6.1.3h0m-.1.9h0m5.2.1h0m-8 .2h0m-.9.7h0m.9.4h0m8.6 0h0m-5.6.2h0m-3.7.7h0m8 .1h0m-6.3.3h0m3.4.1h0m-6.2.2h0m5.1.4h0m-9.2.4h0m10.1.1h0m-2.3.3h0m-8.3.1h0m8.3 0h0m-11 .5h0m1.1 0h0m3.8.2h0m-4.4.1h0m.5 2h0m.3.5h0m-6.9.7h0m-2.4.5h0m-12 1.2h0m14.3.1h0m-16.4 0h0m9.8.2h0m-3.4.1h0m5.5.5h0m-7 .3h0m4.4 0h0m-7.4.2h0m.5 0h0m-2.3.2h0m8.6 0h0m-4.2.2h0m-8.7.2h0m-2.2.5h0m6 .1h0m-4.9 0h0m11.9.4h0m-2.9.1h0m1.7.2h0m-12.2 2.2h0m2.7 1.1h0m-4 .2h0m-1.7.6h0m6.7.2h0m-5.7.6h0m2.9.2h0m-3.7.7h0m-3.7.4h0m4.2.3h0m-10.8.9h0m1 1.2h0m3.1.4h0m-1.7.3h0"/><path stroke="#5a5ad0" stroke-opacity="0.80" stroke-width=".9" stroke-linecap="square" d="m149.4 55.5h0m-2.1 5h0m2.8 2.5h0m-2.9.1h0m.4.2h0m3.1.1h0m-5.7.4h0m-1 2.5h0m2.4.1h0m4.2 1.3h0m-8.4 3.3h0m1.4.5h0m2.7.7h0m-6.4 1.1h0m2.9 2.9h0m-1 .2h0m-1.5 2.8h0m-.6 1.4h0m-8.4.9h0m1.5.7h0m12.1.1h0m-12.2.1h0m0 1.2h0m-6.2 2h0m-2.1.4h0m.1.1h0m-.1.7h0m.5.6h0m2.9.4h0m-3.5.1h0m1.4.8h0m-4.7.1h0m-3.1.2h0m4.6 2.2h0m-4.6.6h0m-8.8 1.1h0m-1.9 2.2h0m-.3.3h0m.5 0h0m-2.9.2h0m-.1.7h0m3.8.3h0m1.4.2h0m-9 .6h0m2 .5h0m-3 .7h0m-1.7.4h0m7.4.6h0m-9.1.4h0m1.1.4h0m2.6.3h0m-15.8 1.5h0m5.3.3h0m8 0h0m-7.4.1h0m2.3.8h0m-18 .2h0m19.9 0h0m-15.3.3h0m4.1 0h0m-8.9.1h0m-.2 1h0m3.3.3h0m1.8.2h0m-4.5.2h0m.1.2h0m1.6 1.1h0m-5.5 1.2h0m1.6.1h0m0 1.6h0m-3.7.4h0m1.8.3h0m-2.3.5h0m-3 2.5h0m-3.9 0h0"/><path stroke="#8080c8" stroke-opacity="0.80" stroke-width=".9" stroke-linecap="square" d="m150.1 54.6h0m-2.6 6.1h0m-1.2 1.7h0m1.2.2h0m1.8 1.5h0m-4.1.8h0m4.8.1h0m.4.2h0m-6 1.1h0m1 1h0m5 .7h0m-5.8 3.1h0m-1.7.3h0m-2.2.3h0m2.2.1h0m-3.1.6h0m1.1 2h0m-2 .1h0m1 .1h0m.8 0h0m.9.3h0m-1.8.1h0m2 .7h0m-2.7.4h0m-.1.4h0m1.7 0h0m3.1 0h0m5.4.4h0m-7.3.1h0m.6 1.4h0m-7.3.3h0m2.7.1h0m-3.6.2h0m3 0h0m.1.4h0m-4.2 1.1h0m1.3.3h0m3.3.9h0m-6.7.5h0m-5.1 2.4h0m-1.9 1.1h0m-.1.6h0m1.4 0h0m-.7.3h0m-1.2.7h0m-3 .5h0m3.3.6h0m-5.2 0h0m4.2.9h0m-4.3.1h0m-3.9 1.5h0m-.2.8h0m-1.2.9h0m-4.9 1.3h0m2 .1h0m-2.2.6h0m-2.2 2.1h0m5.4.1h0m-9.7.4h0m1 .5h0m1.1.4h0m-1 .7h0m-4.4 0h0m-.2.1h0m5.5.8h0m2 .1h0m-12.5.8h0m-.8.8h0m-4.7.2h0m3.7.1h0m1 0h0m4.5.1h0m-5.7.1h0m-9.2.1h0m-.3.1h0m-2.9.3h0m-.8.5h0m9 0h0m4.2.3h0m-4.9 0h0m6.2.6h0m-1.9 0h0m-2.7.1h0m-4.4.4h0m-10.6 1.4h0m5.8.6h0m2.2.2h0m-10.5 2.7h0m3.9.2h0m-9.1 3.3h0m-4.9.3h0"/><path stroke="#8c8ca0" stroke-opacity="0.70" stroke-width=".9" stroke-linecap="square" d="m148.2 61.8h0m-1.3.6h0m2 .2h0m-2.6 2.4h0m-4.2 4.4h0m1.9.7h0m3 2.7h0m1.5.1h0m-1.9 1h0m-6 1.6h0m-1.8.3h0m1.2 4h0m-6.7 3h0m-10.4 5.7h0m0 .5h0m-6.3.5h0m5 .9h0m-8.5 1.3h0m.1.5h0m-5.3 1.1h0m8.6.9h0m-30.8 7.5h0m-6.2.8h0m.3.5h0m5.9.1h0m-8.1 1.4h0m-4.5 1.7h0m5.8 1.7h0m-7.6 2.6h0m-6.9 1.9h0m-4.2.5h0"/></g><polygon points="75.7,17.4 130.9,30.1 121.2,85.4 83.3,105.8 57.8,76.8" fill="none" stroke="#222" stroke-width="0.8"/><rect x="41.4" y="9.4" width="108.9" height="105.7" fill="none" stroke="#555" stroke-width=".8"/><path stroke="#333" stroke-width=".8" fill="none" d="M46.41 115.1v1.4M50.52 115.1v1.4M54.62 115.1v1.4M58.73 115.1v1.4M66.95 115.1v1.4M71.06 115.1v1.4M75.16 115.1v1.4M79.27 115.1v1.4M87.49 115.1v1.4M91.6 115.1v1.4M95.7 115.1v1.4M99.81 115.1v1.4M108.03 115.1v1.4M112.14 115.1v1.4M116.24 115.1v1.4M120.35 115.1v1.4M128.57 115.1v1.4M132.68 115.1v1.4M136.78 115.1v1.4M140.89 115.1v1.4M149.11 115.1v1.4M42.3 115.1v2.6M62.84 115.1v2.6M83.38 115.1v2.6M103.92 115.1v2.6M124.46 115.1v2.6M145 115.1v2.6M41.4 110.6h-1.4M41.4 106.59h-1.4M41.4 102.59h-1.4M41.4 98.58h-1.4M41.4 90.58h-1.4M41.4 86.57h-1.4M41.4 82.57h-1.4M41.4 78.56h-1.4M41.4 70.56h-1.4M41.4 66.55h-1.4M41.4 62.55h-1.4M41.4 58.54h-1.4M41.4 50.54h-1.4M41.4 46.53h-1.4M41.4 42.53h-1.4M41.4 38.52h-1.4M41.4 30.52h-1.4M41.4 26.51h-1.4M41.4 22.51h-1.4M41.4 18.5h-1.4M41.4 10.5h-1.4M41.4 114.6h-2.6M41.4 94.58h-2.6M41.4 74.56h-2.6M41.4 54.54h-2.6M41.4 34.52h-2.6M41.4 14.5h-2.6"/><text x="42.3" y="124" text-anchor="middle" font-size="4.6" fill="#111" stroke="#111" stroke-width="0.14">0</text><text x="62.84" y="124" text-anchor="middle" font-size="4.6" fill="#111" stroke="#111" stroke-width="0.14">50K</text><text x="83.38" y="124" text-anchor="middle" font-size="4.6" fill="#111" stroke="#111" stroke-width="0.14">100K</text><text x="103.92" y="124" text-anchor="middle" font-size="4.6" fill="#111" stroke="#111" stroke-width="0.14">150K</text><text x="124.46" y="124" text-anchor="middle" font-size="4.6" fill="#111" stroke="#111" stroke-width="0.14">200K</text><text x="145" y="124" text-anchor="middle" font-size="4.6" fill="#111" stroke="#111" stroke-width="0.14">250K</text><text x="37" y="96.98" text-anchor="end" font-size="4.6" fill="#111" stroke="#111" stroke-width="0.14">50K</text><text x="37" y="76.96" text-anchor="end" font-size="4.6" fill="#111" stroke="#111" stroke-width="0.14">100K</text><text x="37" y="56.94" text-anchor="end" font-size="4.6" fill="#111" stroke="#111" stroke-width="0.14">150K</text><text x="37" y="36.92" text-anchor="end" font-size="4.6" fill="#111" stroke="#111" stroke-width="0.14">200K</text><text x="37" y="16.9" text-anchor="end" font-size="4.6" fill="#111" stroke="#111" stroke-width="0.14">250K</text><text x="82.6" y="134.5" text-anchor="middle" font-size="10.15">FSC-A</text><text transform="translate(18.3 60.9) rotate(-90)" text-anchor="middle" font-size="10.15">SSC-A</text>
<clipPath id="c1"><rect x="192.8" y="9.5" width="109.2" height="105.6"/></clipPath><g clip-path="url(#c1)"><path fill="#2020e0" fill-opacity="0.13" fill-rule="evenodd" d="M248.2 60.8l-2-2-5-3.3-1.7-1.7-3-4.6-2.3-2-7.4 0-7.3 2.3-3 1.7-3.7 3.6-5 6-1.6 3-1.4 9.7.4 7.3 1.3-1.6 1-3.7 7.3-14.3 1.4-1.4 2-.6 4-3 4-1.4 3.6-2 1 0 16 8z"/><path fill="#2020e0" fill-opacity="0.13" fill-rule="evenodd" d="M243.8 58.5l-3-2.3-4-4.4-3.3-1.3-5.7 0-3.6 1-5.4 2.3-6.3 6.7-5.3 7.7-1.4 4-.3 5.6.7 0 .6-2.3 6-11.3 1.4-3.7 1.3-1.3 3-1 2.3-2 5.4-2 3.6-2.4 1 0 2.4 1.7z"/><g filter="url(#bl)"><path fill="#0000ff" fill-rule="evenodd" d="M206.5 80.2l.3 7 1 1.3 2.4 1 76.3 0 3-1.7 0-.6-2-2-24.3-15.4-11.4-6.6-19-9.4-4.3 0-8 3-6 6.7-4.7 7-2.3 4.7z"/><path fill="#0010ff" fill-rule="evenodd" d="M206.5 81.5l.3 5.7 1 1.3 2.4 1 76.3 0 3-1.7 0-.6-2-2-7.3-4.7-16-1-41.4 0-11.6 1z"/><path fill="#0020ff" fill-rule="evenodd" d="M206.5 82.8l.3 4.4.7 1 6.7 1.3 57.3 0 12.7-1.3 5-1.4-5.7-4.3-16.7-1.7-44.3-.3-12 1.3z"/><path fill="#0036ff" fill-rule="evenodd" d="M206.5 84.2l.7 3 5 1.3 7.3 1 45.3-.3 14.7-1.4 4.7-1 2.3-1.3-.7-1-2.6-1-8.4-1.3-19-1-10.3.3-5.7-.7-19 .4-9.6 1.3z"/><path fill="#0052ff" fill-rule="evenodd" d="M207.5 84.8l0 1 .7.7 2.3 1 6.7 1.3 7.3.7 17 0 4.7-.7 20.6-.3 11.4-1.3 2.6-.7 1.7-1-.3-.7-2.4-1-8.3-1.3-9.7-.7-17 0-5.6-.6-12.4 0-8.6.6-6 1z"/><path fill="#006eff" fill-rule="evenodd" d="M209.2 84.8l0 1 .6.7 2.7 1 11.3 1.7 18.4 0 4-.7 18.3-.3 11.3-1.4 3-1.3-.6-1-8.7-1.7-10.7-.6-14 0-5-.7-18.3.3-7 1-3.7 1z"/><path fill="#0092ff" fill-rule="evenodd" d="M210.5 85.2l1 1.3 2.7 1 5.6 1 9.4.7 13.6-.4 6-1 14.4 0 9-1 3.6-1.3-.3-.7-1.7-.6-6-1-10.6-.7-12 0-4-.7-20 .4-7.7 1.3z"/><path fill="#00b6ff" fill-rule="evenodd" d="M211.8 85.2l.4 1 2.3 1 12 1.6 13 0 9.3-1.3 13 0 6.7-.7 4.3-1.3-1-1-5.3-1-20.7-.7-9.6-1-15.7.7-6.7 1.3z"/><path fill="#00dafa" fill-rule="evenodd" d="M213.2 84.8l.3 1.4 2.3 1 9 1.3 16.4 0 8-1.3 15.3-.4 5.3-1.3-.3-.7-4.3-1-10.4-.6-6.3.3-9.3-1.3-16.7.3-4.7.7z"/><path fill="#00fff0" fill-rule="evenodd" d="M214.2 85.2l.3 1 4 1.3 9.3 1 15-.3 6.4-1.4 10.3 0 7.3-1.3-.6-.7-2.7-.6-15-.4-7.3-1.3-16.4 0-7 1-2.3.7z"/><path fill="#00ffbe" fill-rule="evenodd" d="M215.2 85.2l.3 1 1.7.6 8.3 1.4 15 0 5.3-.7 3.4-1 8.6 0 5.7-1-2-1-12.7-.3-3.6-1-6.7-.7-15.3.3-5.7 1z"/><path fill="#00ff8c" fill-rule="evenodd" d="M216.2 85.2l.3 1 1.7.6 10 1.4 14-.4 5.6-1 2-1 3.7.4 5.7-.7-1-.7-9.7-.3-2.7-1-5-.7-15.6 0-6.4 1z"/><path fill="#00ff57" fill-rule="evenodd" d="M216.8 85.5l1.4 1 7.6 1.3 14.4 0 7.6-1.3 1.4-1-.4-.7-2.6-1-7.7-1-14.7.4-4 .6-2.6 1z"/><path fill="#00ff2d" fill-rule="evenodd" d="M217.8 85.2l1.4 1.3 8.6 1.3 14-.3 5-1 1.4-1-.4-.7-2.6-1-10.4-1-12 .7z"/><path fill="#00ff0f" fill-rule="evenodd" d="M218.8 85.2l0 .6 2.7 1 10.3 1 11-.6 4.4-1.4-.4-1-1.6-.6-6.4-1-11.6 0-5 .6z"/><path fill="#12ff00" fill-rule="evenodd" d="M219.5 85.5l3 1.3 5.3.7 13.7-.3 3.3-.7 1.7-1-1.3-1-2.4-.7-7-.6-10.3.3-3.7.7z"/><path fill="#36ff00" fill-rule="evenodd" d="M220.5 85.2l.7 1 9.3 1.3 9.7-.3 3.6-.7 1.7-1-1-1-5.7-1-11.6 0-4.4.7z"/><path fill="#5aff00" fill-rule="evenodd" d="M221.2 85.5l2 1 4.3.7 11 0 4.3-.7 2-1-2.6-1.3-5.7-.7-10.7.3-3.3.7z"/><path fill="#b2ff00" fill-rule="evenodd" d="M222.2 85.2l.3.6 1.7.7 5.6.7 10-.4 4-1.3-1.3-1-3.7-.7-11.6 0z"/><path fill="#e9f000" fill-rule="evenodd" d="M223.2 85.2l1 1 3.6.6 10.4 0 3.6-.6 1-.7-1.3-1-4.7-.7-7.6 0-4.7.7z"/><path fill="#ffcf00" fill-rule="evenodd" d="M224.2 85.2l1 1 4.6.6 6.4 0 4.6-.6 1-.7-.3-.7-3-.6-11 0z"/><path fill="#ffa000" fill-rule="evenodd" d="M224.8 85.5l3.4 1 9.6 0 3.4-1-2-1-2.7-.3-7 0-2.7.3z"/><path fill="#ff7200" fill-rule="evenodd" d="M226.2 85.2l.3.6 3.7.7 5.6 0 4-1-.6-.7-1.7-.3-9 0z"/><path fill="#fd4900" fill-rule="evenodd" d="M227.2 85.5l2 .7 7.6 0 2-.7-1-.7-7.3-.3-2.3.3z"/><path fill="#f72f00" fill-rule="evenodd" d="M228.5 85.5l4 .7 5-.7-1.7-.7-5.6 0z"/></g><path stroke="#0808a0" stroke-opacity="0.90" stroke-width=".9" stroke-linecap="square" d="m219.4 36.7h0m9.4 4.2h0m-4.2 3.4h0m8.5.4h0m-5.7.1h0m.4 0h0m2.3.3h0m-18.4 1.6h0m16.1.5h0m-8.8.2h0m7.4.5h0m9.3.6h0m-8.8.6h0m.8.1h0m-1.4.7h0m-2 .4h0m7 .4h0m-12.8.1h0m15.4 0h0m.5.1h0m-4.8.1h0m-.8.2h0m5.2.2h0m-15.2 0h0m11.9.4h0m1.2 0h0m1.7.3h0m-5.3.2h0m.9.2h0m3.5.5h0m-4.2.1h0m-2.9.1h0m-17.4.1h0m29.1 0h0m-2.7.1h0m2.3.1h0m-.6.2h0m-26.6.3h0m26.8.1h0m-14.4.1h0m12.4 0h0m-9 .1h0m-2 0h0m15.7.6h0m-15.7.4h0m-10.8.1h0m9.6.1h0m.6.1h0m-5.6 1.3h0m-6.2.3h0m32.1.8h0m-29.4.4h0m2.6.3h0m28.2.1h0m.2.4h0m-31.7.2h0m-2.1.2h0m36 .5h0m-.3.2h0m-32.7 1.3h0m-6.8.1h0m6.4.2h0m-2 .3h0m.3.1h0m-2.2 2.3h0m.2.4h0m-1.5 1.5h0m-2.6 1.7h0m1.5 2.7h0m-1.3.7h0m3.3 0h0m-1.8 0h0m-.9 2.3h0m-1.3 1.9h0m.3 5.9h0"/><path stroke="#1a1aff" stroke-opacity="1.00" stroke-width=".9" stroke-linecap="square" d="m229.1 37.6h0m-13.5.6h0m-1.1 2.1h0m9.7.8h0m-14.2 2.2h0m12.1.4h0m12 0h0m-10 1.4h0m4 .3h0m-2.2.8h0m7.6.1h0m-13.2.3h0m5.4.3h0m8.5.4h0m-5.8.1h0m-1.7.4h0m2.3.1h0m-10.5.3h0m17.9.2h0m-28.2.2h0m24.4 0h0m3.9.1h0m-17.5.2h0m11 0h0m-6.4.6h0m13 .1h0m-12.4 0h0m8.8.4h0m-.8.2h0m-27.2.1h0m2.2.2h0m30.7.5h0m-24.9 0h0m19.3.1h0m.3.2h0m2.1 0h0m-9.2.1h0m6.4.2h0m-4 .1h0m-3.3 0h0m7.2 0h0m-8.6.1h0m3.2.2h0m11.9.2h0m-12 .2h0m3 .1h0m2.3.1h0m-11.4 0h0m8.5 0h0m-9.8.1h0m-1.2.1h0m18.5.1h0m1.7.1h0m1.2 0h0m-13.8 0h0m-7.5.2h0m6.2 0h0m-6.8.1h0m-2.4 0h0m10.5.1h0m8.7 0h0m-13.4.3h0m14.3 0h0m-9.8.1h0m-2.2 0h0m4.1 0h0m-4.6.1h0m-7.3 0h0m-2 .1h0m8.1 0h0m6.1 0h0m-16.4 0h0m-2.3.1h0m16.1 0h0m10.7.2h0m-10.8 0h0m-8.1.1h0m8.5 0h0m9.8 0h0m-16.3 0h0m-1.1.1h0m19.8.2h0m-18.2.2h0m-5.6 0h0m2.7 0h0m3.4.1h0m-1.8 0h0m1 .2h0m-10.8 0h0m29.4.1h0m-16.8.1h0m16.6 0h0m.3 0h0m2 0h0m-29.1.1h0m7.5 0h0m-3.4.1h0m25.8 0h0m-21.1.1h0m22.7.6h0m-21.5.2h0m20.3.1h0m-29.4.1h0m9.1 0h0m0 .1h0m-1.2.1h0m22 .1h0m-.4.1h0m0 .1h0m2 .1h0m-32.6.2h0m33.2.1h0m-1.1.1h0m-29.2.1h0m4.9.1h0m24.5 0h0m-24.2 0h0m-3.6 0h0m-5.7.7h0m2.2.8h0m4.5.2h0m-8.2 0h0m.4.1h0m8 .1h0m-.1.2h0m-2.1 0h0m33.8 0h0m-38.1 0h0m38.3.2h0m-32.7.3h0m-1.3.2h0m-.2 0h0m-.7.1h0m-4.2 0h0m1.1.2h0m-1.4 0h0m.6.3h0m-3.1.2h0m43.2 0h0m-35.3.1h0m-3.3 0h0m-2 .2h0m-1.5.8h0m.1.4h0m4.4.7h0m-4 .4h0m5.2.4h0m-3.4 0h0m2.8 0h0m-4 .9h0m1.8.2h0m1.7.1h0m-3 .2h0m-1.2.5h0m2.5 0h0m-4.5.8h0m.1.4h0m5.2.1h0m-1.7.3h0m-.3.4h0m-.1.1h0m.5.1h0m-.5.1h0m1.2.3h0m-4 .1h0m4.6 0h0m-3.7.2h0m3 .6h0m-2.4.2h0m2 .1h0m-2.6.7h0m1.1.1h0m.3.3h0m1.4 0h0m-.3.4h0m-.5.1h0m.3.3h0m-2.7.2h0m.1.3h0m-.2.5h0m1.7.2h0m.3.2h0m-2.1 1h0m0 .2h0m.5.1h0m.5.1h0m.6 0h0m-2.4 2.1h0m.7.6h0m.7.3h0m-.9.1h0m-.4 1.8h0m.8.1h0"/><path stroke="#2b2bd8" stroke-opacity="0.90" stroke-width=".9" stroke-linecap="square" d="m220.7 36.3h0m5.1.5h0m3 4.6h0m-7.8 1.4h0m-11.3.5h0m18.1.5h0m-14.1.4h0m16.6.3h0m2.9.7h0m-13.6 0h0m9.5.5h0m-12.2.9h0m18.4.3h0m-12.7.1h0m7.2.2h0m-13.4 0h0m3.9.5h0m-5.8.1h0m14.3.1h0m-13.4.1h0m13.9.2h0m-4.9 0h0m-5.7.2h0m4.1.1h0m10.4.4h0m-1.6 0h0m1.4.3h0m-5.5 0h0m-3.3.5h0m3.5 0h0m-8.6 0h0m-4 .1h0m16.4.1h0m-14.8.1h0m14.8.1h0m4.3 0h0m-9.8.1h0m9.6 0h0m-7.9.1h0m7.4 0h0m-7.9.1h0m-11 .2h0m-10.4.1h0m21.1 0h0m11 .3h0m-5.2.1h0m-14.6.1h0m3.8.1h0m10.9.1h0m1.6.1h0m-8.4.1h0m7.6.1h0m-13 0h0m15.9 0h0m-30.6.1h0m18.8 0h0m-10.3 0h0m24.3.2h0m-17.9.1h0m-.2.1h0m11.6.1h0m-8.3 0h0m.2.1h0m11.6 0h0m-9.6 0h0m-4.5 0h0m-11.8.1h0m13.6 0h0m-8.2 0h0m16.7.1h0m-10.4 0h0m3.4 0h0m13.7.1h0m-21.4.1h0m14.3.1h0m-2.2 0h0m8.3.1h0m-10.8.1h0m-18 0h0m27.2.2h0m-10.7.1h0m-5.9.2h0m19.4 0h0m-4.4.1h0m.5 0h0m-25.2.1h0m27.7 0h0m-23.6.1h0m23.6 0h0m-27.7 0h0m26.7.1h0m1.9 0h0m-12.4 0h0m-10.2.2h0m1.9 0h0m-.3.1h0m19.6 0h0m-.2.1h0m-15.5.1h0m-1 0h0m18.8 0h0m-1.5.1h0m-29 .1h0m5.9 0h0m1.5 0h0m8.7 0h0m14 .1h0m-26.2.1h0m5.4 0h0m2.9.2h0m-4.7.1h0m22.2 0h0m-1.9 0h0m4.1.2h0m-2.3 0h0m-14.9.1h0m-5.8.1h0m23.6.2h0m-26 0h0m24.1.1h0m-.9 0h0m-18.1.1h0m-1.1.2h0m-2.2.1h0m-2.2.3h0m26.3 0h0m-1 .2h0m.9.5h0m.2 0h0m-34.8.1h0m34.5.2h0m1.5.3h0m-32 0h0m33.5.1h0m-29.6.2h0m.2.1h0m2 0h0m28.7.1h0m-2.2 0h0m-33.8.2h0m5.6.1h0m-1.3.2h0m3.2.3h0m-2.9 0h0m-6.4.2h0m8.2 0h0m31.2.2h0m-34.4.5h0m34.2.1h0m-35.7.2h0m-5.2.2h0m7.1 0h0m-3.5.2h0m.7.1h0m1.5 0h0m-.7.4h0m-.2.2h0m-.4 0h0m-1.8.3h0m.5.2h0m4.6 0h0m-3.6.4h0m-2 0h0m-1.9 0h0m4.7.2h0m-2.8 0h0m3.8.1h0m-5.4.5h0m3.2.2h0m.3.3h0m3.4.1h0m-5.5 1.4h0m1.1.7h0m-1.2.2h0m2.5 1.4h0m-3.6 0h0m1.6.3h0m1.6.4h0m1.5.2h0m-2.6 0h0m-.8.1h0m1.1 0h0m-.8 0h0m2.7.1h0m-3.6.4h0m-1.2.3h0m.9.5h0m2.8.1h0m-3.4.5h0m2.4.2h0m-1.7.4h0m.7.7h0m1.5.2h0m-.8 0h0m.6.4h0m-.7.3h0m-.4.3h0m-1.8.5h0m2.4.1h0m-1.7.2h0m-1.4.5h0m0 1h0m1.8.5h0m-1.7 1.3h0m-.2.3h0m.6 0h0m.1.5h0"/><path stroke="#5a5ad0" stroke-opacity="0.80" stroke-width=".9" stroke-linecap="square" d="m216.7 34.8h0m10.2 2.3h0m3.3 1.6h0m-7.5 3.8h0m5.6.6h0m4.4.2h0m-5 1.4h0m5.4.3h0m-11.9 1.1h0m-.2 1.8h0m13.9.3h0m-6.5.3h0m-14.7.2h0m21.2.1h0m-3.4 0h0m-11.6.3h0m-1.6.1h0m9 0h0m-7.6.1h0m.7 0h0m6.1 0h0m-7.5.2h0m13.7.3h0m-18.2 0h0m12.5.1h0m8.1.1h0m-9.4.2h0m-10.6.1h0m20.7.2h0m-9.5 0h0m-1.6 0h0m9.9.1h0m-21.2 0h0m3.7 0h0m15.8 0h0m-17.9.3h0m-7.9.2h0m14.7 0h0m-5.6.1h0m9.4.1h0m-4.7 0h0m16.7 0h0m-29.3.1h0m29.6.2h0m-12.4 0h0m2.2.1h0m-3.6.4h0m-2.8.2h0m-13.2 0h0m25.7.2h0m-8.2.1h0m1.1.1h0m-6.8 0h0m12.8.1h0m-14.8.1h0m4.2 0h0m-4.9 0h0m7.9.1h0m-.1.1h0m8.1 0h0m-5.8 0h0m-6.7.1h0m2.5.3h0m-.7 0h0m11.1.1h0m-14.1.1h0m5.4.1h0m-9 0h0m4.1 0h0m4.2.1h0m14.6.3h0m-19.4.3h0m16.6 0h0m0 .1h0m-25.1.1h0m13.5.1h0m-7.8 0h0m22.7.1h0m-15.4.1h0m13.7.1h0m-15.5.2h0m-12.7.1h0m13 .2h0m-3.4.2h0m22 .1h0m-2.4 0h0m-27.8.3h0m9 .3h0m20 .1h0m-28 .1h0m7.8 0h0m-3.3.5h0m26.7 0h0m-36.8.4h0m36.8 0h0m-28.6.2h0m3.6 0h0m.1.1h0m24 .1h0m-24.5.2h0m.9.2h0m26.9.1h0m-32.3 0h0m1.7.2h0m29.6.2h0m-27.5 0h0m29.2.2h0m-35.8 0h0m35.1.1h0m-32.7.3h0m33 .1h0m-39 .2h0m-.2 1.9h0m3.4.2h0m1.8.6h0m-1.7.2h0m.3 1.6h0m-5.1 0h0m5.8.6h0m1.4.1h0m-.2.1h0m-2.5.1h0m-2 .3h0m1.1 0h0m.2.3h0m.7.2h0m-1.8 1.7h0m-1.4.2h0m1.2.2h0m3.2 0h0m-2.6.4h0m-2.6.3h0m3.4.1h0m.5.3h0m-2.1.6h0m2.2.4h0m-1.7.2h0m-.8.9h0m-.7.4h0m1 .8h0m-.9 2.8h0m-.1 1.9h0"/><path stroke="#8080c8" stroke-opacity="0.80" stroke-width=".9" stroke-linecap="square" d="m225.8 35.6h0m-1.4 1.7h0m5.2 1.8h0m-10.3 1.3h0m.3 3.4h0m5.9 1.4h0m6.5.9h0m-.8.4h0m-7.6.1h0m.1 1.5h0m5.9.1h0m-10.2.1h0m-9.2.1h0m25.2.2h0m-8.9 0h0m-17.4.1h0m14.5.2h0m11 0h0m-8.1.3h0m.1.3h0m10.9.5h0m-2.7.3h0m-1.1.1h0m-19.4.5h0m23 0h0m-7.8 0h0m-3.3.1h0m11.7.3h0m-19.4.1h0m1.7.2h0m1.9.1h0m-.3.1h0m2.2 0h0m.6.1h0m-17.7.1h0m22.5.1h0m3.3.1h0m-7.6 0h0m3.5.5h0m-22 .1h0m16.5 0h0m-4.6 0h0m6.3.2h0m10.7 0h0m-14.6.1h0m5.9.1h0m-20.4 0h0m20.4.1h0m-6.3.2h0m12.2.1h0m-14.3.2h0m17.7.1h0m-14.1.2h0m-.8.2h0m2.3.1h0m14.1.3h0m-32.3.1h0m17.8 0h0m.9 0h0m.2.3h0m-7.3 0h0m22.1 0h0m-18.1.4h0m-4.4.1h0m.2.2h0m22.1.1h0m-25 .1h0m24.4.2h0m-27.1.1h0m30.4 0h0m.3 0h0m-24.7.5h0m-3.7.2h0m26.7 0h0m-22.3.1h0m-4.4.2h0m3.9.2h0m26.1.1h0m-29.4 0h0m-5.6.6h0m5 .3h0m2.9.1h0m-2.2 0h0m-6.7.2h0m2.6 0h0m.2.5h0m-.2.3h0m34.7 0h0m2.8.5h0m-32.9.9h0m-5.4.1h0m-.2.2h0m.2 0h0m2.5.8h0m-3.6.5h0m4.6 0h0m-.8.4h0m-.7 0h0m1.1.7h0m1 .1h0m-3.8.3h0m1.6 1.4h0m.4.4h0m-.3 1h0m.4.1h0m-1.7.7h0m-3.7 2.3h0m3.4.3h0m-3.2.6h0m2.7 0h0m0 .4h0m-.2.5h0m-1.7.7h0m.3.1h0m.4.8h0m.3.1h0m-3.1 1.4h0m2.1.6h0m-1.9 1.8h0"/><path stroke="#8c8ca0" stroke-opacity="0.70" stroke-width=".9" stroke-linecap="square" d="m214.9 40.6h0m.4 1.6h0m3.6.8h0m-1.7.2h0m16.1 1.2h0m-17.8.4h0m11.1.3h0m-4.3 2.3h0m8.3.5h0m-13.8.6h0m-4.2.4h0m8.6.5h0m7.4.1h0m-15 .4h0m-2.6 0h0m11.5.8h0m12.3.7h0m-14.3.3h0m14.3.3h0m-16.7 0h0m13.8.1h0m-2.3.3h0m-4.3.6h0m13.6.2h0m-1.2.5h0m-19.7.1h0m2.4 1.6h0m1.8 0h0m-3.4.1h0m20.5.3h0m2.7.8h0m-24 .1h0m1.4.2h0m22.5.1h0m.2.4h0m-25.1.2h0m-8.3.3h0m10.5 0h0m-13 .2h0m12.2.4h0m-2.1.1h0m-4.5 0h0m5.6.1h0m-.3.5h0m-8.7 1.7h0m3.7 2.8h0m-2 .3h0m1 .4h0m.7 0h0m1 0h0m-.2.7h0m-6.6.8h0m3.9.8h0m-1.9.5h0m-1.7.2h0m2.8 1.4h0m-1.1.7h0m1.5.5h0m-1.8 1.2h0m-2 .2h0m.4 3.4h0m.3 2.9h0m-.5.6h0m-.3 2.1h0"/></g><rect x="204.4" y="80" width="89.8" height="17.5" fill="none" stroke="#222" stroke-width="0.8"/><rect x="192.8" y="9.5" width="109.2" height="105.6" fill="none" stroke="#555" stroke-width=".8"/><path stroke="#333" stroke-width=".8" fill="none" d="M197.55 115.1v1.4M201.6 115.1v1.4M205.64 115.1v1.4M209.69 115.1v1.4M217.79 115.1v1.4M221.84 115.1v1.4M225.88 115.1v1.4M229.93 115.1v1.4M238.03 115.1v1.4M242.08 115.1v1.4M246.12 115.1v1.4M250.17 115.1v1.4M258.27 115.1v1.4M262.32 115.1v1.4M266.36 115.1v1.4M270.41 115.1v1.4M278.51 115.1v1.4M282.56 115.1v1.4M286.6 115.1v1.4M290.65 115.1v1.4M298.75 115.1v1.4M193.5 115.1v2.6M213.74 115.1v2.6M233.98 115.1v2.6M254.22 115.1v2.6M274.46 115.1v2.6M294.7 115.1v2.6M192.8 110.6h-1.4M192.8 106.6h-1.4M192.8 102.6h-1.4M192.8 98.6h-1.4M192.8 90.6h-1.4M192.8 86.6h-1.4M192.8 82.6h-1.4M192.8 78.6h-1.4M192.8 70.6h-1.4M192.8 66.6h-1.4M192.8 62.6h-1.4M192.8 58.6h-1.4M192.8 50.6h-1.4M192.8 46.6h-1.4M192.8 42.6h-1.4M192.8 38.6h-1.4M192.8 30.6h-1.4M192.8 26.6h-1.4M192.8 22.6h-1.4M192.8 18.6h-1.4M192.8 10.6h-1.4M192.8 114.6h-2.6M192.8 94.6h-2.6M192.8 74.6h-2.6M192.8 54.6h-2.6M192.8 34.6h-2.6M192.8 14.6h-2.6"/><text x="193.5" y="124" text-anchor="middle" font-size="4.6" fill="#111" stroke="#111" stroke-width="0.14">0</text><text x="213.74" y="124" text-anchor="middle" font-size="4.6" fill="#111" stroke="#111" stroke-width="0.14">50K</text><text x="233.98" y="124" text-anchor="middle" font-size="4.6" fill="#111" stroke="#111" stroke-width="0.14">100K</text><text x="254.22" y="124" text-anchor="middle" font-size="4.6" fill="#111" stroke="#111" stroke-width="0.14">150K</text><text x="274.46" y="124" text-anchor="middle" font-size="4.6" fill="#111" stroke="#111" stroke-width="0.14">200K</text><text x="294.7" y="124" text-anchor="middle" font-size="4.6" fill="#111" stroke="#111" stroke-width="0.14">250K</text><text x="188.4" y="117" text-anchor="end" font-size="4.6" fill="#111" stroke="#111" stroke-width="0.14">0</text><text x="188.4" y="97" text-anchor="end" font-size="4.6" fill="#111" stroke="#111" stroke-width="0.14">50K</text><text x="188.4" y="77" text-anchor="end" font-size="4.6" fill="#111" stroke="#111" stroke-width="0.14">100K</text><text x="188.4" y="57" text-anchor="end" font-size="4.6" fill="#111" stroke="#111" stroke-width="0.14">150K</text><text x="188.4" y="37" text-anchor="end" font-size="4.6" fill="#111" stroke="#111" stroke-width="0.14">200K</text><text x="188.4" y="17" text-anchor="end" font-size="4.6" fill="#111" stroke="#111" stroke-width="0.14">250K</text><text x="240" y="135" text-anchor="middle" font-size="10.15">SSC-H</text><text transform="translate(172.6 58) rotate(-90)" text-anchor="middle" font-size="10.15">SSC-W</text>
<clipPath id="c2"><rect x="347.7" y="9.5" width="108.6" height="105.6"/></clipPath><g clip-path="url(#c2)"><g filter="url(#bl)"><path fill="#0000ff" fill-rule="evenodd" d="M418.8 83.5l-.6-1.3-15.7-7.4-40 1-2 .4-.7.6 0 1.7 1 3 3.4 6.7 1.6 1 40.7-3 10-1.7z"/><path fill="#0010ff" fill-rule="evenodd" d="M418.8 83.5l-.6-1.3-8.7-4.4-12.7.4-15.3 1.6-5 0-15 3 2.7 5.4 1.6 1 40.7-3 10-1.7z"/><path fill="#0020ff" fill-rule="evenodd" d="M418.8 82.8l-6-3.3-15.6 0-12.7 1.3-8.7 0-5.3 2-7.3 1.4-.7.6 2.3 4 2.7.4 39-3 10-1.7 2-.7z"/><path fill="#0036ff" fill-rule="evenodd" d="M418.8 82.8l-3.3-2-5.7-.6-10.6 0-13.7 1.3-8.7-.3-3.6 1-3 1.6-6.7 1.7-.3.7 1.6 2.6 2.7.4 39-3 10-1.7 2-1z"/><path fill="#0052ff" fill-rule="evenodd" d="M415.2 82.5l-2.4-1-5.6-.7-15.4.4-7.3 1-2-.7-5.7 0-2.6.7-3.4 2.3-4 1-1.3.7-.7 1.3 4 1.3 4 0 33.7-2.6 6.7-1.7 1.3-.7z"/><path fill="#006eff" fill-rule="evenodd" d="M411.8 83.2l-2.6-1.4-9.4-.6-13.6 1.3-3.4-.7-6 0-3.3 1-1.7 1.4-.3 1-1.7.3-1.6 1.3 1.3 1 4 .7 14.7-.7 14.6-1.3 7.4-2z"/><path fill="#0092ff" fill-rule="evenodd" d="M408.5 83.2l-1.3-.7-4.4-.3-2-.7-3.6 0-2 .7-7.7.6-9-1-2.3.4-3 1.3-1 1 0 1.3-.7.4 0 .6 6.7 1.7 24.6-2 2-1.3 3.7-1.4z"/><path fill="#00b6ff" fill-rule="evenodd" d="M405.5 83.5l-4-1.7-5 0-3.3 1-4.4 0-3.3.7-3.7-1.3-4.3 0-3.3 1-1 .6-.7 1.7 1 1.3 2.3 1 6.7.4 4.3-1 8.7 0 7-.7z"/><path fill="#00dafa" fill-rule="evenodd" d="M404.2 83.5l-2-1.3-4.4-.4-3.3.7-1 .7-8 .6-3-1.3-3-.3-5.3 1.3-1 1 0 1.3 1.3 1.4 4 1 4.3-.4 2.4-1 7.6-.3 2.7.7 6.3-.7 2.4-1.7z"/><path fill="#00fff0" fill-rule="evenodd" d="M403.8 83.5l-2.6-1.3-4.7 0-4 1.6-6.7.7-2.6-1.7-5.4-.3-3.6 1.3-.7.7 0 1.3 1 1 2.7 1 5 0 3.3-1.6 6.7-.4 3.3 1.4 6.7-1 1.6-1.4z"/><path fill="#00ffbe" fill-rule="evenodd" d="M373.8 84.5l0 1.3.7.7 4 1.3 4.3-.3 2.7-1.7 0-1.3-.7-.7-2.3-1-2.7-.3-3 .3zM392.2 85.2l.6 1 1.7.6 4.7 0 3.6-1.3.7-.7 0-1-1.7-1.3-4.3-.3-3.7 1-1.3 1z"/><path fill="#00ff8c" fill-rule="evenodd" d="M374.2 85.8l.6.7 2.7 1 4.7 0 3-1.7 0-1.3-.7-.7-2.7-1-5.3.4-2 1zM392.5 85.2l1.7 1.3 4.3.3 4-1.3.7-1.7-2.4-1.3-4.3 0-3.3 1.3z"/><path fill="#00ff57" fill-rule="evenodd" d="M374.5 85.8l.7.7 3 1 3 0 2.3-.7 1.3-1-.3-1.6-4-1.4-3.7.4-2 1zM392.8 85.2l2 1.3 4.7 0 3-1.3.3-1.4-1.3-1-4-.3-4 1.3z"/><path fill="#00ff2d" fill-rule="evenodd" d="M374.8 84.8l.4 1.4 2.3 1 4.7 0 2.3-1.4 0-1.3-2.7-1.3-4.3 0-2.3 1zM393.2 85.2l2.3 1.3 3.3 0 3.4-1.3.3-1.4-1.7-1-4.3 0-2.7 1z"/><path fill="#00ff0f" fill-rule="evenodd" d="M375.2 84.8l.3 1.4 2.7 1 3.3 0 2.7-1.4-.4-1.6-3-1-4 .3zM393.5 84.8l1.3 1.4 2.7.3 4.3-1.3.4-1.4-2-1-3 0-2.4.7z"/><path fill="#12ff00" fill-rule="evenodd" d="M375.5 85.8l1.7 1 3 .4 2-.4 1.3-.6.7-1-.7-1-1.7-.7-4.3 0-2 1.3zM393.8 84.8l1.7 1.4 3.3 0 2.7-1 .3-1.4-1.3-.6-4.3 0-2 1z"/><path fill="#36ff00" fill-rule="evenodd" d="M375.8 85.8l2 1 3.7 0 1.7-.6.6-1-.3-.7-2.3-1-3 0-1.7.7-.7.6zM394.2 84.8l1 1 3 .4 2.3-.7 1-1.3-1.3-1-3.4 0z"/><path fill="#5aff00" fill-rule="evenodd" d="M376.2 84.8l0 1 2.6 1 3.4-.3 1.3-1.3-1.7-1.4-2-.3-2.3.3zM401.2 84.2l-.7-.7-2.7-.3-1.6.3-1.7 1.3 1.3 1 3.4 0 1-.3z"/><path fill="#b2ff00" fill-rule="evenodd" d="M376.5 85.8l1.3.7 3.7 0 1.7-1.3-.4-.7-1.6-.7-3 0-1.7 1zM395.2 85.2l1.3.6 1.7 0 2-.6.6-1-1-.7-3 0-1 .3z"/><path fill="#e9f000" fill-rule="evenodd" d="M376.8 84.8l0 .7 1.7 1 2.3 0 1.7-.7.3-.6-1-1-1.3-.4-2.7.4zM400.5 84.5l-.7-.7-2-.3-2 .7-.3 1 3.3.3z"/><path fill="#ffcf00" fill-rule="evenodd" d="M377.2 84.8l0 .7 1 .7 3.3 0 1-1-1.3-1-3 0zM395.8 84.5l1.4 1 2.6-.7 0-.6-.6-.4-2 0z"/><path fill="#ffa000" fill-rule="evenodd" d="M396.5 84.8l2 .4 1-.7-2.7-.3zM377.5 84.8l0 .7 1.3.7 1.7 0 1.3-.7-.3-1-1.3-.3z"/><path fill="#ff7200" fill-rule="evenodd" d="M377.8 85.2l.7.6 3-.3 0-.7-.7-.3-2.3 0z"/><path fill="#fd4900" fill-rule="evenodd" d="M378.5 84.8l0 .7 1 .3 1.7-.6z"/></g><path stroke="#1818e8" stroke-opacity="0.30" stroke-width=".9" stroke-linecap="square" d="m396.5 71h0m-25.3.3h0m12.7.2h0m-22.9 1h0m32.8.3h0m-22.5.2h0m7.7 2.1h0"/><path stroke="#1818e8" stroke-opacity="0.50" stroke-width=".9" stroke-linecap="square" d="m383.1 70.2h0m-4.3.1h0m11.3.2h0m-12.3.2h0m11.3 0h0m-17.5.1h0m20.5 0h0m-14.6 0h0m24.9.3h0m-5.3.2h0m-32.4.1h0m21.3.1h0m-14.5 0h0m-11.2.1h0m25.3.1h0m-18.3 0h0m26 .1h0m-.2.1h0m-30 0h0m8.5.1h0m-2.9.1h0m21.6 0h0m-12.5.1h0m19 0h0m-23.7.1h0m30.8.1h0m-30.5 0h0m1.9.1h0m-.2 0h0m13.7.1h0m6.3.2h0m-18.1.1h0m16.6 0h0m-26.2 0h0m21 .1h0m-1.3.1h0m-8.7 0h0m19.1 0h0m2.5.1h0m-11.5 0h0m-26.8.1h0m17.4 0h0m-10.4.1h0m-.4.1h0m-.5.3h0m-6.8 0h0m41.9.2h0m-12.2.1h0m6.6 0h0m7 0h0m-21.7.1h0m-14.3 0h0m1.3.1h0m5.4 0h0m25.5 0h0m-12 .1h0m-7 .1h0m11.6 0h0m-26.6 0h0m5.6.2h0m1.1 0h0m13.6 0h0m-25.3.1h0m43.4 0h0m-19.8.1h0m-22 .3h0m3.9 0h0m-1.6.1h0m4.3.1h0m-9 .5h0m-1.7.4h0"/><path stroke="#1818e8" stroke-opacity="0.75" stroke-width=".9" stroke-linecap="square" d="m377.5 70.3h0m8.8.2h0m-6.5 0h0m5 .2h0m14.2.1h0m-11.4 0h0m-9.1 0h0m5.7.1h0m-1.2.1h0m10.9 0h0m6.4 0h0m-39.3.1h0m8.6.1h0m20.1.1h0m-20.1 0h0m7.3 0h0m8.3 0h0m15 0h0m-20.5.1h0m-13.4.1h0m19.6.2h0m-22.4 0h0m9.3.1h0m11.1 0h0m-8.4.1h0m12.3 0h0m-19 0h0m14 0h0m2.1.1h0m-6.2 0h0m1 0h0m-3.9.2h0m11 0h0m15.5.1h0m-19 0h0m3.7.1h0m-21.4.1h0m1 0h0m20.1 0h0m-5.5 0h0m-6.3.1h0m6.3 0h0m-10.1.1h0m28.4.2h0m-39.2.1h0m6.1 0h0m-5.8.1h0m12.2 0h0m-6 0h0m33.3.2h0m-17.3 0h0m4.4.1h0m-23.3.1h0m2.5.1h0m-5.4.1h0m37.6 0h0m-2 .1h0m-37 .1h0m32.4 0h0m-2.3.1h0m-26 0h0m38.8 0h0m-37.7.1h0m-4.9 0h0m23.8.1h0m7.5 0h0m-11.4 0h0m-20.1 0h0m-.1.1h0m31.8 0h0m4.8 0h0m-28.6 0h0m13.1.1h0m1 0h0m-15.6 0h0m3.1 0h0m12 .1h0m20.7 0h0m-2.2.1h0m-10 0h0m8.4 0h0m-21.8.1h0m19.3 0h0m-25.7.1h0m19.3 0h0m-1.9.1h0m-22.7.2h0m6.4 0h0m5.9.1h0m-7.7.1h0m35.4.1h0m-34.3.3h0m-9.6.2h0"/><path stroke="#1818e8" stroke-opacity="1.00" stroke-width=".9" stroke-linecap="square" d="m377.6 70.4h0m-5.5.2h0m13.4.2h0m-8.1.1h0m8.9 0h0m-10.6.2h0m21.6.1h0m-6 0h0m-26.7.1h0m15.5.1h0m-4 .1h0m-10.4 0h0m14.9.1h0m-3.3.1h0m16.3 0h0m-11.8 0h0m-8.7.1h0m27.5 0h0m-18.9 0h0m1.3.1h0m14.1.1h0m4.4.1h0m-31.5.2h0m1 0h0m-9.6.2h0m39.1.4h0m-23.8.2h0m4.7.1h0m.6.1h0m.6.1h0m-16.8.1h0m21.4.1h0m7.8.1h0m-6.8 0h0m5.1 0h0m-12.3.3h0m-18.3 0h0m25.9.1h0m-9.9.1h0m-9.1.1h0m13.8 0h0m-14.1.1h0m-3.5.1h0m7.3.2h0m16.6.1h0m-24.8 0h0m-2.4 0h0m33.8.2h0m-30.5.2h0"/><path stroke="#5050d0" stroke-opacity="0.50" stroke-width=".9" stroke-linecap="square" d="m375.8 58.4h0m3 1.8h0m-14.8.1h0m25.1.4h0m10.2 1.7h0m-11.3.8h0m-2.7 0h0m-12.2.4h0m4.2.8h0m21.6 1.1h0m-23.6 1.5h0m.1 2.9h0m10.2 0h0m-17.8.1h0m26.3.4h0m-12 0h0m15.2.2h0"/><path stroke="#5050d0" stroke-opacity="0.75" stroke-width=".9" stroke-linecap="square" d="m376.4 59.8h0m14.8 3.2h0m-6.4 2h0m13.7.5h0m-37.2.1h0m4.4.2h0m11.4.3h0m-7.5.6h0m2.5.8h0m-3.9.4h0m12.7.2h0m15.5.7h0m1.4 0h0"/><path stroke="#5050d0" stroke-opacity="1.00" stroke-width=".9" stroke-linecap="square" d="m365.6 60.2h0m9.2 0h0m-6.9 4h0m-3.4 1.6h0m24.4 0h0m10.3.7h0m-37.7.4h0m11.2 1.1h0m10.1 1.9h0m1.5.2h0"/></g><rect x="358.8" y="77.4" width="67.6" height="18.6" fill="none" stroke="#222" stroke-width="0.8"/><rect x="347.7" y="9.5" width="108.6" height="105.6" fill="none" stroke="#555" stroke-width=".8"/><path stroke="#333" stroke-width=".8" fill="none" d="M352.6 115.1v1.4M356.69 115.1v1.4M360.79 115.1v1.4M364.88 115.1v1.4M373.08 115.1v1.4M377.17 115.1v1.4M381.27 115.1v1.4M385.36 115.1v1.4M393.56 115.1v1.4M397.65 115.1v1.4M401.75 115.1v1.4M405.84 115.1v1.4M414.04 115.1v1.4M418.13 115.1v1.4M422.23 115.1v1.4M426.32 115.1v1.4M434.52 115.1v1.4M438.61 115.1v1.4M442.71 115.1v1.4M446.8 115.1v1.4M455 115.1v1.4M348.5 115.1v2.6M368.98 115.1v2.6M389.46 115.1v2.6M409.94 115.1v2.6M430.42 115.1v2.6M450.9 115.1v2.6M347.7 110.6h-1.4M347.7 106.6h-1.4M347.7 102.6h-1.4M347.7 98.6h-1.4M347.7 90.6h-1.4M347.7 86.6h-1.4M347.7 82.6h-1.4M347.7 78.6h-1.4M347.7 70.6h-1.4M347.7 66.6h-1.4M347.7 62.6h-1.4M347.7 58.6h-1.4M347.7 50.6h-1.4M347.7 46.6h-1.4M347.7 42.6h-1.4M347.7 38.6h-1.4M347.7 30.6h-1.4M347.7 26.6h-1.4M347.7 22.6h-1.4M347.7 18.6h-1.4M347.7 10.6h-1.4M347.7 114.6h-2.6M347.7 94.6h-2.6M347.7 74.6h-2.6M347.7 54.6h-2.6M347.7 34.6h-2.6M347.7 14.6h-2.6"/><text x="348.5" y="124" text-anchor="middle" font-size="4.6" fill="#111" stroke="#111" stroke-width="0.14">0</text><text x="368.98" y="124" text-anchor="middle" font-size="4.6" fill="#111" stroke="#111" stroke-width="0.14">50K</text><text x="389.46" y="124" text-anchor="middle" font-size="4.6" fill="#111" stroke="#111" stroke-width="0.14">100K</text><text x="409.94" y="124" text-anchor="middle" font-size="4.6" fill="#111" stroke="#111" stroke-width="0.14">150K</text><text x="430.42" y="124" text-anchor="middle" font-size="4.6" fill="#111" stroke="#111" stroke-width="0.14">200K</text><text x="450.9" y="124" text-anchor="middle" font-size="4.6" fill="#111" stroke="#111" stroke-width="0.14">250K</text><text x="343.3" y="117" text-anchor="end" font-size="4.6" fill="#111" stroke="#111" stroke-width="0.14">0</text><text x="343.3" y="97" text-anchor="end" font-size="4.6" fill="#111" stroke="#111" stroke-width="0.14">50K</text><text x="343.3" y="77" text-anchor="end" font-size="4.6" fill="#111" stroke="#111" stroke-width="0.14">100K</text><text x="343.3" y="57" text-anchor="end" font-size="4.6" fill="#111" stroke="#111" stroke-width="0.14">150K</text><text x="343.3" y="37" text-anchor="end" font-size="4.6" fill="#111" stroke="#111" stroke-width="0.14">200K</text><text x="343.3" y="17" text-anchor="end" font-size="4.6" fill="#111" stroke="#111" stroke-width="0.14">250K</text><text x="397" y="135" text-anchor="middle" font-size="10.15">FSC-H</text><text transform="translate(325.3 58.7) rotate(-90)" text-anchor="middle" font-size="10.15">FSC-W</text>
<clipPath id="c3"><rect x="37.5" y="136.4" width="109.7" height="108.9"/></clipPath><g clip-path="url(#c3)"><path fill="#2020e0" fill-opacity="0.17" fill-rule="evenodd" d="M58.2 144.2l-3.7 1.6-.7 1.7-.3 59.3 1 22.4 1.7 1.6 3.3.7.7-.3.3-1.7-.7-2-1-23 0-43.7.4-11.3 1-5z"/><path fill="#2020e0" fill-opacity="0.17" fill-rule="evenodd" d="M58.5 144.8l-1.3 1-.7 2.4-.3 57.6 1 23 .6 1.4 1.7.3.3-1-.6-2-1-23 0-43.7.3-11.3 1-4-.3-.7z"/><path fill="#2020e0" fill-opacity="0.15" fill-rule="evenodd" d="M101.8 143.8l-1.3.4-.3.6 3 4 1.3 6-.7 22-3.3 36.4-3.7 8.3-2 2.7.7 1.6 2 0 3-2 3.3-6.6 2-14.4 2-24.3.7-17.3-.3-9.7-1.7-5.7-2-1.3z"/><path fill="#2020e0" fill-opacity="0.15" fill-rule="evenodd" d="M102.5 144.8l-1 0 0 .7 2.3 3 1.4 6-.7 22.7-3.3 36.3-3.7 8.3-1.7 2 .4.7 1.3-.3 1.3-1.7 2.7-5.3 1-3.4 3.3-36.3.7-23.3-1.7-7z"/><g filter="url(#bl)"><path fill="#0000ff" fill-rule="evenodd" d="M99.5 144.8l-38.7 0-1.3 1.7-.7 13.7 0 45 1 23 1 2.3 1.4-.3 2-3.7 2-1.7 20 0 9.3-1.6 1.3-1.4 3-6 .7-2.3 3.3-36.3.7-22.7-1.7-6.7-2-2.3z"/><path fill="#0010ff" fill-rule="evenodd" d="M99.5 144.8l-38.7 0-1.3 1.7-.7 13.7 0 45 1 23 1 2.3 1.4-.3 2-3.7 2-1.7 20 0 9.3-1.6 1.3-1.4 3-6 .7-2.3 3.3-36.3.7-22.7-1.7-6.7-2-2.3z"/><path fill="#0020ff" fill-rule="evenodd" d="M96.5 144.8l-35.7 0-1.3 1.7-.7 13.7 0 45 1 23 1 2.3 1.4-.3 2-3.7 1.3-1.3 2.7-.4.3-5.3.7-2.3 4.3 4.3 3.7 2 2.3.7 5 0 5-2 2.7-2 4.3-5 4.7-9 2.6-29 .4-12.7-3-10.7z"/><path fill="#0036ff" fill-rule="evenodd" d="M69.5 144.8l-8.7 0-1.6 9-.4 51.4 1 23 1 2.3 1.4-.3 2-3.7 1.3-1.3 2-.4 2-21.3.3-.3 1.7 2.6 2.3 2.7.4 3.7 1 2.6 1.3 1.4 3.7.3 1.6-.7 4-4.3 3-1.7 4.4-5 3.3-7 2.3-10 .4-12.3-.7-5.3-2-8-4-8-5-5-3-1.4-3-.3-3 .7-3.3 2-2.7 2.6-2 3-.7-2.6z"/><path fill="#0052ff" fill-rule="evenodd" d="M82.8 158.8l-3 .4-4 3-3 5.3-2 9 0 7 .7 4.3 1.3 4.7 2.7 4.7-.7 8 .4 5.6 1.3 3.4 2.3 1.6 3.4-1 2.3-2.3 3.7-6.7 1.6-6.3.4-5.3 1-1.7 1.6-6.3.4-7 .6-3.4 0-6.6-1-4-1.6-1.7-2 .3-2.7-3.3zM68.5 144.8l-7.7 0 0 3.7-2 13.7 0 43 1 23 1 2.3 1.4-.3 2-3.7 1.3-1.3 1.3-.4 1.7-14.3 1.3-21.7 0-30.3z"/><path fill="#006eff" fill-rule="evenodd" d="M90.2 166.8l-2.4.7-4 5.3-3 6.7-2.6 8.7-1.4 9.3-1.3 5-.3 5 1 5 2.3 2.3 2.3 0 3.7-3 3-5.3 1.7-5.3.6-5-.3-4.4 2-7 1-6.6-.3-8.7-.7-1.7zM67.8 144.8l-6.6 0-.7 10-1.7 12.7 0 37.7 1 23 1 2.3 1.4-.3 2-3.7 2-1.7 2.3-20.3 1-19.3 0-21.7-.7-11.3z"/><path fill="#0092ff" fill-rule="evenodd" d="M89.2 169.8l-1.4.4-2.3 2.3-1.7 2.7-3 7-2 7-1 7-2 6.3 0 7.3 1 2.7 1.7 1.7 2.3 0 3.7-3 2.7-4.7 1.6-5.3 0-10.4 2-7.3.7-6.3-.7-5.7zM66.8 144.8l-5.6 0-2.4 28 .4 42.4.6 13 1 2.3 1.4-.3 3.3-5.4 2.7-22 1-32.3-.7-15z"/><path fill="#00b6ff" fill-rule="evenodd" d="M88.2 172.8l-2.7 2-3.3 6.4-2.4 7.6-.6 5-1 1.7-1.7 5.3-.3 8.7.6 2 2 2 2.4 0 3.3-3 2.3-4 1.7-5.3.3-8.7-.6-2.3 1.6-6.4.4-8-.7-2zM65.2 144.8l-4 0-2.4 30.7.4 39.7.6 13 1 2.3 1.4-.3 1.6-2.7 1.4-5 1.6-11 1.4-16.3 0-35.4-1-8.6z"/><path fill="#00dafa" fill-rule="evenodd" d="M87.8 176.2l-1.3.3-1.3 1.3-2 3.7-2 5.7-.7 4.6-2.7 5.4-1 3.6-.3 8 1 2.7 1.3 1.3 2.4 0 2.3-1.6 2.7-4 2-6 .3-8-1.3-3 1.6-6.4 0-6zM64.5 144.8l-3 0-.3.7-1 18.7-1.4 13.6.4 37.4.6 13 1 2.3 1.4-.3.6-1.7.7-5.3 1-2.4 1-5 1.3-10.6 1-14.7-.3-29.3z"/><path fill="#00fff0" fill-rule="evenodd" d="M86.5 179.8l-1.7 1.4-1.6 3.3-1.4 4.7 0 1.6-3.3 5.7-1.3 4-.4 8 .7 2 1.7 1.7 2 0 2.6-2 2.7-4.7 1.3-4 .4-8-.7-2-1.3-1.7 1.3-5 0-3.6zM63.2 144.8l-1.7 0-2.7 36 .4 34.4.6 13 1 2.3 1.4-.7 1.3-7 .7-8 2-11.6 1-15 0-17-.7-8.4-.7-2.6 0-5.4-1-7.3-.6-1.7-1-.3z"/><path fill="#00ffbe" fill-rule="evenodd" d="M85.5 190.5l-1.7 0-2.3 1.7-1.7 2.3-2 5-.6 3 0 5.3 1 2.7 1.3 1 1.7 0 2.3-1.7 1.7-2.3 2-5 .6-3 0-5.3-1-2.7zM63.2 144.8l-1.7 0-2.7 39 .4 31.4.6 13 1 2.3 1-1.3.7-2.4 1.7-11 1.3-16.6.7-17-.4-24-1-8.7-.6-1.7-1-.6z"/><path fill="#00ff8c" fill-rule="evenodd" d="M85.2 191.2l-2 .3-2.4 2.3-2.6 5.7-.7 3.3 0 4 1 3 1.3 1 2-.3 2.4-2.3 2.6-5.7.7-3.3 0-4-1-3zM63.2 144.8l-1.4 0-.3.7-2.7 42.3.4 27.4.6 13 .7 2 0-1.4 1-.6.7-1.7 1.3-7 1.3-13 1-18.3 0-25.7-1-10.7-.6-2-1-.6z"/><path fill="#00ff57" fill-rule="evenodd" d="M84.8 192.2l-1 0-2.3 1.6-2.7 5-.6 2.7 0 5.7.6 1.6 1.4 1 1 0 2.3-1.6 2.7-5 .6-2.7 0-5.7-.6-1.6zM62.8 144.8l-1 0-1 8.7-2 38.7.4 23 1 14.3.3-2.7 1-.6.7-1.7 1-5 1.3-11.3 1-16 0-31-1-8.4-1.3-1.6z"/><path fill="#00ff2d" fill-rule="evenodd" d="M84.5 193.5l-1.7.3-1.6 1.7-2 4.3-.4 6.7.7 1.3 1 .7 1.7-.3 1.6-1.7 2-4.3.4-6.7-.7-1.3zM62.8 144.8l-.6 0-.4.7-1 9.3-2 39 .4 21.4 1 14.3.3-4.7 1.7-2.6 1.6-10 1.7-25.7-.3-25.3-1-6.7-1-1z"/><path fill="#00ff0f" fill-rule="evenodd" d="M84.2 196.2l-1.4 0-2 2.6-.6 2 0 4 .6 1 1.4 0 2-2.6.6-2 0-4zM62.5 145.2l-.7 1.6-1 9-2 40 .4 19.4 1 14.3.6-8 1-1 .7-2.3 1.3-9 1.4-20.7 0-21-1.4-10.3-1-.7z"/><path fill="#12ff00" fill-rule="evenodd" d="M62.2 146.8l-1.7 14.7-1.7 36.7.4 17 1 14 .6-11.4 1.4-2.3 1.3-8 1.3-20.7-.3-20.6-.7-4-1-1.4 0-11z"/><path fill="#36ff00" fill-rule="evenodd" d="M62.2 148.5l-1 6.3-1 13.4-1.4 33 1 27 1.4-12 1.3-28 .3-35.4z"/><path fill="#5aff00" fill-rule="evenodd" d="M62.2 150.5l-1.7 14-1.7 40.7 1 23 1.4-13.7 1.3-28.7.3-27.6z"/><path fill="#b2ff00" fill-rule="evenodd" d="M62.2 153.2l-1.4 8.6-1.6 33.4 0 20 .6 11 1.7-19 1-25z"/><path fill="#e9f000" fill-rule="evenodd" d="M61.8 156.2l-1 8-1.3 24.6-.3 26.4.6 8.3 1.4-13.3 1-21 .3-28.7z"/><path fill="#ffcf00" fill-rule="evenodd" d="M61.8 160.5l-1.3 11.7-1 22.3.3 24.7 1-7.7 1-18z"/><path fill="#ffa000" fill-rule="evenodd" d="M60.8 195.5l-.6 2.7.3 8.3.7-2z"/><path fill="#ff7200" fill-rule="evenodd" d="M60.8 196.2l-.6 3 .3 6.6.7-2.3z"/><path fill="#fd4900" fill-rule="evenodd" d="M60.8 197.2l-.6 3.6.3 4 .7-2.6z"/></g><path stroke="#0808a0" stroke-opacity="0.90" stroke-width=".9" stroke-linecap="square" d="m56.9 148.2h0m.9.1h0m1.5.2h0m-4 .3h0m2.9 0h0m-3.2.1h0m-.2 1.4h0m-1.3 5.4h0m-2.4 3.8h0m-1.3 1.5h0m.9.1h0m5.2.3h0m.6 3.5h0m-.4 2.1h0m-6.2.4h0m-2.8 1.8h0m7.9.1h0m-.1.1h0m1.9 2.4h0m-1.5 1h0m2.1.4h0m-1.6 0h0m-2.7 1.9h0m-5.1 1.5h0m-1.1 1.6h0m5.9 4.7h0m-3.5 3.7h0m3.3 0h0m-6.1 2.4h0m1 .6h0m8.2.1h0m.4 4.1h0m2.5.4h0m-5.3.4h0m5 .9h0m-6.9 1.5h0m3.4.2h0m-4.4 1.9h0m6.2.2h0m-2 .9h0m-3.2.9h0m4.7.4h0m-1.9.2h0m3.4.9h0m-3.3 4.4h0m3.6 2.5h0m-.4 10.2h0m-2.7.4h0m-.5.4h0m3 .4h0m.9 1h0m-3.5 1.5h0m-2 .1h0m3.9 1.8h0m-5.5.3h0m5.9 1.3h0m0 .4h0m-3.8.3h0"/><path stroke="#1a1aff" stroke-opacity="1.00" stroke-width=".9" stroke-linecap="square" d="m53 145h0m6.2 1.7h0m-4.9 1.4h0m2 .2h0m2 .1h0m-.2.1h0m-2.5 1.5h0m.7.6h0m2.5 0h0m-2.4 1.4h0m-6.3.5h0m3.2.1h0m5.5.4h0m-3.5.8h0m-5 .1h0m4 .3h0m4.5.1h0m-3.2 1.4h0m.7 1.8h0m.6.1h0m-.6.6h0m-4.7.2h0m6.7 1h0m-1.4 0h0m-2.3.6h0m-3.3 0h0m3.8.4h0m2.4.1h0m-5.1 0h0m1.1.4h0m4.5.3h0m.3.1h0m-3.3 0h0m1.3 2.1h0m-1.4.1h0m-6.8.1h0m1.2.5h0m8.3.1h0m.5.1h0m-7.8.2h0m-2.1.8h0m9 .2h0m-6.4 1.3h0m7.7 1.8h0m-.6.3h0m-2 .3h0m2 .6h0m-3.7.2h0m-3.6.3h0m6.6 1.2h0m1 .6h0m-2.3.2h0m1.9 1h0m-6.5 1h0m7.3.2h0m-2.2.4h0m-1.4 1.2h0m2.7.6h0m.9.3h0m-.4.6h0m-4.8.5h0m-5.2.7h0m2.7.5h0m7.3.6h0m-1.9.1h0m-.7 1h0m-.4.6h0m-6.5 0h0m8 1.4h0m-1.8.1h0m2.7.5h0m-6.4.1h0m7.1 1h0m-11.3 1h0m2.4.1h0m8.5 1.2h0m-1.1.4h0m-4.7.2h0m2.1.3h0m0 1.9h0m-7.8.1h0m6.8.1h0m1.2.3h0m3.5 1.1h0m-2.2 1.7h0m-1.2 1.4h0m1.4.8h0m-8.9.3h0m4.5 0h0m4.6.1h0m-2.3 2.1h0m-4 1.8h0m8 .4h0m-2.2.1h0m.9 1h0m-2.9 1.2h0m3.1.3h0m-.3.8h0m1.1.1h0m-2.1.2h0m.8.4h0m-1.2.1h0m-3.7.3h0m1.9.3h0m-.6.1h0m-3.7 0h0m6.5.9h0m1.3.8h0m.1.6h0m1.4 1.3h0m-1.5.3h0m1.9.1h0m-4.7.4h0m3 .2h0m-2.2.1h0m2.7 1h0m-.1.5h0m-3.4.5h0m3.8.8h0m-1.6 1.5h0m-6.7.4h0m9.4.4h0m-5.4.8h0m2.5.6h0m1.9.8h0m.5.7h0m.5 1.2h0m-1.5.4h0m-.7.3h0m.8 1.2h0m1.3.3h0m-.3 2.4h0m.5.7h0m-1 0h0m-4.6.6h0m3.9.1h0m-5.7.4h0m7 .1h0m-1.8 1h0m-.1.2h0m-.5.2h0m3.1.2h0m-1.5.1h0m-6.8.3h0m4.2.3h0m3.6 1.2h0m-1.8.6h0m.6.2h0m.6.7h0"/><path stroke="#2b2bd8" stroke-opacity="0.90" stroke-width=".9" stroke-linecap="square" d="m53.3 145.6h0m5.7 0h0m-.5 0h0m-2.6.6h0m-.6.4h0m-.7.2h0m-1.3.4h0m2.2.3h0m-1.3.7h0m1.8 1.7h0m-4.7 1.1h0m5.3.3h0m-.8 0h0m-1 .2h0m3.7 2.1h0m-3.9.1h0m3.6 1.3h0m-2 1h0m-3.3.8h0m2.6.1h0m3 1h0m-10.1 1h0m5.7 1.8h0m1 .7h0m.4 0h0m.9.2h0m-4 .8h0m5.6.9h0m-4.3 1.8h0m-2.8.5h0m4.3.7h0m-.5.3h0m-2.5.7h0m2.9.7h0m-.6.5h0m3.5 1.3h0m-1.8.8h0m.5.1h0m-7.5.3h0m-1.8 0h0m9.9.5h0m-6.5.2h0m3.7.4h0m-3.6.1h0m6.2.7h0m-1.4 0h0m-3.7.3h0m3.5.6h0m-7.1 0h0m5.5.5h0m-2 .1h0m4.5.8h0m-2.5.7h0m4.5 1.2h0m-9.3 1.3h0m-.3.1h0m3.5.3h0m2.3.1h0m-1 .3h0m2.8.4h0m.7.2h0m.6.1h0m.7.6h0m-4.4.1h0m4.6.1h0m-7.1.1h0m6 1h0m-4.9.7h0m3.3.1h0m-8.2.3h0m-.6.1h0m6.7 0h0m4.7.2h0m-2.9.2h0m-8.6.5h0m8.4 1h0m1.5.3h0m-.2 1.3h0m-3.2.3h0m5.1 0h0m-2.3 0h0m-1.4.2h0m1.4 1.4h0m-1.2.7h0m-3.4 1h0m5.4.1h0m-4.7.8h0m-.2.4h0m1.3 1.4h0m3.8.7h0m-.5.1h0m-6.7.3h0m0 .5h0m8.2.1h0m-.4.4h0m-1.7 0h0m-1.7.4h0m2.1 1h0m.8.5h0m-3.1 1.3h0m-.6 1.1h0m-5.3.6h0m2.5.1h0m5.8 4.1h0m-.2 2.6h0m1.5.9h0m-1.6 0h0m-3.5.6h0m2.5.7h0m2.8.1h0m.7.7h0m-7.6.6h0m5.8.3h0m-4.8.3h0m6.1.3h0m-1.5.3h0m.1 1.8h0m-6.9.9h0m8.2.6h0m-1.4.7h0m1.9 0h0m-1.7.5h0m-2.7.7h0m-.8 1.7h0m-1 .7h0m4.2.4h0m.7.6h0m-6.3.1h0m1.4 1.2h0m4.2.3h0m-4.7.7h0m6.7 2.1h0m-1.8.2h0m-.4 0h0m2.4.2h0m-1.5.3h0m-1.3.9h0m0 1h0m.6.1h0m-2.9.7h0m5.2.1h0m-.3.2h0m-4.7.3h0m4.4.8h0m-.2.4h0m1.5.1h0m-2.1.8h0m-.4.1h0"/><path stroke="#5a5ad0" stroke-opacity="0.80" stroke-width=".9" stroke-linecap="square" d="m59.6 145.7h0m-1.3 2.4h0m.2 3.7h0m-5.4.1h0m-3.2 2.3h0m9.1 1.2h0m-.8 1.5h0m-7.9.2h0m7.6.3h0m.1.6h0m-8 .8h0m4.3.2h0m1.9.4h0m-3.5.5h0m-3.1.3h0m4.6.3h0m3.6.3h0m-10.9 2.1h0m7.2.4h0m-.2 1.6h0m1.9 1.6h0m-3 1h0m2.2.1h0m-2.4 0h0m2.8.5h0m2.8.2h0m-10.8.6h0m8.8 1.3h0m-8.9 2.1h0m.4 1h0m8.4 0h0m-2.3 0h0m-2.4.4h0m-.2.2h0m-1.1 1.4h0m6.8.7h0m-1.1 1.4h0m-2.9 1.1h0m1.9 1.1h0m3.1 1.1h0m-4.8.9h0m1.4.9h0m-.7 1.3h0m0 .6h0m-1.6.7h0m6.3 1.3h0m-1.7.7h0m1.6.1h0m0 .8h0m-8.7.9h0m4.9.2h0m2.3.1h0m-4.9.9h0m-5.7.5h0m10.9 2.1h0m-7.4.3h0m4 .7h0m3.7.1h0m.1.8h0m-1.1 1.3h0m1.2 4.5h0m-6.2 1.5h0m1.8 1.6h0m1.3.4h0m.6.2h0m2.4.4h0m-3.4.3h0m1.7 0h0m-6.2.1h0m8.9.6h0m-1.2.4h0m-8.5.1h0m8.6 1.5h0m-.1 3.3h0m-3.8 0h0m-1.7.2h0m4.1.7h0m-2.4 4.1h0m-4.5 2.8h0m6.4.2h0m-.4.5h0m.2.2h0m.3 0h0m1.5 0h0m1.7 1.2h0m-4 1h0m1.6 1.4h0m2.2.7h0m-5.6.7h0m1.9.7h0m3.4.8h0m-6.5.3h0m7.7 3.2h0m-2.3.2h0"/><path stroke="#8080c8" stroke-opacity="0.80" stroke-width=".9" stroke-linecap="square" d="m54 145.9h0m3.2.4h0m-.8 2h0m-.5.1h0m.9.1h0m-3.3.1h0m-3.4.4h0m7 .9h0m-4.7 3.7h0m-1.4 3.5h0m7.7 0h0m-1.5.6h0m-1.6 1.2h0m-6.4.5h0m1 .2h0m7.8 1.1h0m-7.4.7h0m6 .7h0m-3.7 2.3h0m2.9.1h0m2.6 4.3h0m0 2.3h0m-7.7.2h0m2.7.8h0m-2.4 2.6h0m7.2.4h0m-5.6 0h0m1.3.2h0m3.1 1.2h0m-.8.8h0m-3.9.9h0m5.1 1.3h0m-.2.4h0m-1 .2h0m2.4.1h0m-5.5.3h0m-2.5.5h0m3.7.4h0m-5.7.2h0m2.4.9h0m2.5 2.4h0m-.9 1.2h0m-2.6.4h0m6.8.1h0m-2.8 1h0m3.6.8h0m.3.2h0m-8.1 1.5h0m6.4 0h0m-1.1 6.1h0m-4 0h0m-.4 1.7h0m7.9.2h0m-4.9.5h0m4.1.2h0m0 .4h0m-.4.7h0m-2.4 0h0m-3.4.3h0m2.7.5h0m.4.2h0m2.4 1.2h0m-2.5.3h0m3.2.9h0m-5.2 3.8h0m.5 0h0m3.9.2h0m-1.4.9h0m-3 .7h0m3 0h0m.6.1h0m1 0h0m-.7.2h0m-5.3 1.1h0m7.2 0h0m0 1.3h0m-1.6.2h0m1.5 1.4h0m-4.4.1h0m-4.7.2h0m4.5.8h0m-5.5.4h0m8.9.1h0m-.3 1.4h0m-1.4 1.7h0m-4.5 1.7h0m.6 0h0m7.4.9h0m-5.9.1h0m.5.1h0m2.3.3h0m-3.1 1.4h0m1.9.5h0m.1.5h0m.2.3h0m3.9 1.3h0m-4.5 2.5h0m1.2 0h0m-.3.7h0m-.4 1.7h0m-2.5.8h0m-.1 0h0m3.8.1h0"/><path stroke="#8c8ca0" stroke-opacity="0.70" stroke-width=".9" stroke-linecap="square" d="m56.5 146.3h0m-1.4.5h0m-1.1 1h0m4.4 2.4h0m-.4 1.9h0m-3.5.7h0m1.8 1.7h0m.8 4.6h0m-1 2.7h0m-4.3.7h0m4.1.3h0m1.3.6h0m1.5.5h0m-9.5 1.3h0m2.9 3.4h0m2 1h0m3.9 2.4h0m-5.8 2.3h0m-4.7 0h0m7.5 1h0m-1.5 7.4h0m.1 3.4h0m3.2 1.6h0m.1.5h0m-5 .3h0m-2 .2h0m6 .5h0m1.7.3h0m.9 5.6h0m-4.5 1.5h0m0 1.6h0m-2.8.1h0m5.1 1.3h0m.8 4.5h0m-1.6.2h0m-2.1.5h0m5.1 6.3h0m-6.9 2.2h0m6.9 2.9h0m-7.5 3h0m6 .2h0m2 3.6h0m-.6.6h0m.9 1.9h0m-.1.1h0m.5 2.8h0m-1.1.2h0m1.2 2h0"/><path stroke="#0808a0" stroke-opacity="0.90" stroke-width=".9" stroke-linecap="square" d="m104.5 148.2h0m4.1 3.4h0m-1.6 1.8h0m-1.5 5.1h0m-.7 5.7h0m1.4 7.4h0m3 1.8h0m-3.4 1.3h0m-.9 2.8h0m0 .2h0m1.4 6.9h0m-3.1 1.3h0m-.3 6.9h0m1.2 3.1h0m6.4 3.8h0m-7.9 13.7h0m.4.2h0m-3.2 2.5h0m-.9 2.3h0m1.2 3.3h0"/><path stroke="#1a1aff" stroke-opacity="1.00" stroke-width=".9" stroke-linecap="square" d="m105.4 147h0m-.5 1.6h0m5.2.9h0m-4.8.5h0m3.3 1.9h0m-2.4.6h0m3.4 2.9h0m-4.3 1.6h0m.6.3h0m.4.4h0m-1.3 1.8h0m5.1 1.2h0m-5.5 7.8h0m1.5 6.3h0m1.6 3.5h0m-2.1 1.6h0m1.6 0h0m-3.1 5.4h0m-.2 2.1h0m1.5 2.3h0m-.8 1.8h0m-1.1 1.1h0m1.5 4.3h0m1.8.2h0m-3.8 2.3h0m3.4.1h0m-2.6 3h0m.6 0h0m-2.6.7h0m5.8.5h0m-2.2.5h0m-3.3 8.5h0m-.5.9h0m.6 1.5h0m-1.1.3h0m.2.9h0m2.4 2.2h0m-5 2.2h0"/><path stroke="#2b2bd8" stroke-opacity="0.90" stroke-width=".9" stroke-linecap="square" d="m101 145.3h0m3.4 1.8h0m3.7 1.8h0m1.3 2.2h0m-3.9 12.6h0m.6 1.2h0m2.2 3.6h0m-3.3 1.4h0m3.1 5h0m-.3 1.2h0m-3.1 1h0m-.5 1.9h0m3.7 2.6h0m-2.9 6h0m-1.2 2h0m.1 1h0m4 2.5h0m-4.9 2.1h0m2.7 3.6h0m-2.8.5h0m-1 7.7h0m3.3.7h0m-3.6.6h0m4.8 1.2h0m-2.3 4.8h0m-1.6.8h0m-1.4 2.1h0m.3.1h0m.1 1h0m-1.9.6h0m1.3 1.2h0m-4.3 2.4h0m.6 2.4h0"/><path stroke="#5a5ad0" stroke-opacity="0.80" stroke-width=".9" stroke-linecap="square" d="m101.9 145.7h0m1.7 3.2h0m1 4.2h0m2 4h0m.6 4.4h0m-.2 1.1h0m-1.5.3h0m.5 5.6h0m-1.7 4.8h0m3.8 2.8h0m-1.7 4.8h0m-1.6.9h0m-.6 4.4h0m2.3.7h0m-.4 15.7h0m-.4.8h0m-1.6 1.2h0m.5 2h0m4.2 3.5h0m-3.3 2h0m-2.4 3.2h0m2.1 1.1h0m-4.3 1.2h0m-1.4 8.3h0"/><path stroke="#8080c8" stroke-opacity="0.80" stroke-width=".9" stroke-linecap="square" d="m103.2 145.5h0m-2 .1h0m2.8 3.2h0m1.4.8h0m-.1.7h0m-.5 2.5h0m4.3 16.7h0m.5 3.5h0m-2.3 1.6h0m-.4.7h0m-.9 2.4h0m-1.6 1.5h0m-.1 4.3h0m.8 2.6h0m1.6 5.7h0m.8 3.3h0m-4.8 9h0m3.1 0h0m-6.3 13h0m-2.9 6.2h0m-.8 1.9h0m-.1.2h0"/><path stroke="#8c8ca0" stroke-opacity="0.70" stroke-width=".9" stroke-linecap="square" d="m104.6 146.9h0m-1.8.1h0m3.2 1.9h0m.4 4.4h0m3.3 20.3h0m-5 6.4h0m2.1 10.3h0m-1.9 3.3h0m-1.4.7h0m4.1 7.8h0m-4.9 6.2h0m-4.5 13.2h0m1.1 1.3h0"/><path stroke="#6060ff" stroke-opacity="0.50" stroke-width=".9" stroke-linecap="square" d="m128.8 158.9h0m-8.5 15.4h0m-13.3.2h0m1.5 2h0m-2.8 1.7h0m22.9 9.2h0m-20.4.4h0m26.8 10.5h0m-.7 2.2h0m-14.1 6.9h0m-12.5 3.7h0m18.9 4.2h0m-20.7 4h0"/><path stroke="#6060ff" stroke-opacity="0.75" stroke-width=".9" stroke-linecap="square" d="m120.9 150.6h0m10.5 8.9h0m-23 8.9h0m22.4.9h0m-2.4 14.2h0m-17.8 1.1h0m-.8 8.5h0m7 4h0m.7 8.1h0m1.4 7.7h0m2.4.3h0m8.7 6.2h0m-23.5 8.7h0"/><path stroke="#6060ff" stroke-opacity="1.00" stroke-width=".9" stroke-linecap="square" d="m120.7 152.1h0m-8.9 29.3h0m4.4 20h0m12.4 26.4h0"/></g><rect x="38.7" y="140.9" width="33.6" height="102.2" fill="none" stroke="#222" stroke-width="0.8"/><rect x="37.5" y="136.4" width="109.7" height="108.9" fill="none" stroke="#555" stroke-width=".8"/><path stroke="#333" stroke-width=".8" fill="none" d="M43.7 245.3v2.6M61.5 245.3v2.6M84.3 245.3v2.6M113.8 245.3v2.6M139.3 245.3v2.6M45.48 245.3v1.4M47.26 245.3v1.4M49.04 245.3v1.4M50.82 245.3v1.4M52.6 245.3v1.4M54.38 245.3v1.4M56.16 245.3v1.4M57.94 245.3v1.4M59.72 245.3v1.4M63.78 245.3v1.4M66.06 245.3v1.4M68.34 245.3v1.4M70.62 245.3v1.4M72.9 245.3v1.4M75.18 245.3v1.4M77.46 245.3v1.4M79.74 245.3v1.4M82.02 245.3v1.4M93.18 245.3v1.4M98.38 245.3v1.4M102.06 245.3v1.4M104.92 245.3v1.4M107.26 245.3v1.4M109.23 245.3v1.4M110.94 245.3v1.4M112.45 245.3v1.4M121.48 245.3v1.4M125.97 245.3v1.4M129.15 245.3v1.4M131.62 245.3v1.4M133.64 245.3v1.4M135.35 245.3v1.4M136.83 245.3v1.4M138.13 245.3v1.4M146.98 245.3v1.4M151.47 245.3v1.4M37.5 239.62h-1.4M37.5 235.55h-1.4M37.5 231.47h-1.4M37.5 227.4h-1.4M37.5 219.24h-1.4M37.5 215.17h-1.4M37.5 211.09h-1.4M37.5 207.02h-1.4M37.5 198.86h-1.4M37.5 194.79h-1.4M37.5 190.71h-1.4M37.5 186.64h-1.4M37.5 178.48h-1.4M37.5 174.41h-1.4M37.5 170.33h-1.4M37.5 166.26h-1.4M37.5 158.1h-1.4M37.5 154.03h-1.4M37.5 149.95h-1.4M37.5 145.88h-1.4M37.5 137.72h-1.4M37.5 243.7h-2.6M37.5 223.32h-2.6M37.5 202.94h-2.6M37.5 182.56h-2.6M37.5 162.18h-2.6M37.5 141.8h-2.6"/><text x="43.7" y="255.3" text-anchor="middle" font-size="4.6" fill="#111" stroke="#111" stroke-width="0.14">-10<tspan dy="-2.4" font-size="3.68">3</tspan></text><text x="61.5" y="255.3" text-anchor="middle" font-size="4.6" fill="#111" stroke="#111" stroke-width="0.14">0</text><text x="84.3" y="255.3" text-anchor="middle" font-size="4.6" fill="#111" stroke="#111" stroke-width="0.14">10<tspan dy="-2.4" font-size="3.68">3</tspan></text><text x="113.8" y="255.3" text-anchor="middle" font-size="4.6" fill="#111" stroke="#111" stroke-width="0.14">10<tspan dy="-2.4" font-size="3.68">4</tspan></text><text x="139.3" y="255.3" text-anchor="middle" font-size="4.6" fill="#111" stroke="#111" stroke-width="0.14">10<tspan dy="-2.4" font-size="3.68">5</tspan></text><text x="33.1" y="225.72" text-anchor="end" font-size="4.6" fill="#111" stroke="#111" stroke-width="0.14">50K</text><text x="33.1" y="205.34" text-anchor="end" font-size="4.6" fill="#111" stroke="#111" stroke-width="0.14">100K</text><text x="33.1" y="184.96" text-anchor="end" font-size="4.6" fill="#111" stroke="#111" stroke-width="0.14">150K</text><text x="33.1" y="164.58" text-anchor="end" font-size="4.6" fill="#111" stroke="#111" stroke-width="0.14">200K</text><text x="33.1" y="144.2" text-anchor="end" font-size="4.6" fill="#111" stroke="#111" stroke-width="0.14">250K</text><rect x="56" y="245.6" width="6.5" height="2.4" fill="#111" fill-opacity="0.85"/><text x="92" y="264" text-anchor="middle" font-size="10.15">Live Cells (FVS510)</text><text transform="translate(18 180) rotate(-90)" text-anchor="middle" font-size="10.15">SSC-A</text>
<clipPath id="c4"><rect x="192.1" y="136.4" width="113.3" height="109.6"/></clipPath><g clip-path="url(#c4)"><path fill="#2020e0" fill-opacity="0.17" fill-rule="evenodd" d="M216.2 143.8l-1.4 2.4-1.3 45.3 0 38.3 1 2 2.3 1.4 62.4 0 8-4 6-7 3-9 0-65.4-1.4-3-3-2-73.6 0zM218.5 145.8l72.3-.3 2 1.7.7 1.3 0 64-2.3 7.3-6.4 7.4-6.6 3.3-60.4 0-1.3-1 0-51.7 1-30.6z"/><g filter="url(#bl)"><path fill="#0000ff" fill-rule="evenodd" d="M218.2 145.8l-.7 1-1.3 46 .3 37 1 .7 60.7 0 7.3-3.7 5.3-6.3 2.7-8 0-64-.7-1.7-1.6-1.3z"/><path fill="#0010ff" fill-rule="evenodd" d="M218.2 145.8l-.7 1-1.3 46 .3 37 1 .7 60.7 0 7.3-3.7 5.3-6.3 2.7-8 0-64-.7-1.7-1.6-1.3z"/><path fill="#0020ff" fill-rule="evenodd" d="M220.8 145.5l-3 3.7-.6 2.6-1 41 .3 37 1 .7 60.7 0 7.3-3.7 5.3-6.3 2.7-8 0-46.7-3-4.6-3.7-4-5.3-9-2.3-2.7z"/><path fill="#0036ff" fill-rule="evenodd" d="M286.5 164.2l-5.7-4.7-3-1.3-3.3-.7-2-3.7-3.3-3.3-4.7-2.3-6.7 0-5-1.4-5.6 0-7.4 2-7 4.4-6.6 7.3-3 5-2 5-.7.7-3.7-2-.6 23.6.3 37 1 .7 7.3 0 7-4.7 6.7 4.7 23 0 3-2 6.7 2 3.6 0 4.7-1.3 5-3.4 5-6 4-8.6 0-34.4-3-7z"/><path fill="#0052ff" fill-rule="evenodd" d="M266.8 151.5l-3.3-1.3-5 0-3.3 1.3-2.4 1.7-2.3 3-1.3 2.6-.4 2.4-.6.6-3.4.7-3 1.3-5.6 4.7-2.7 3.7-3 6.6-.7 0-8.3-5.3-4.7-2-.6 21.3 0 36.4.6 1 4.7.3 11.7-7.3 9-7 2.6 1.3 3 .7 4.4 0 6.3-2 2.3 3.3 4 3.7 4 2 5 .6 3.4-.6 4-2 4-3.7 3-4.3 3.6-9.4 1.4-8.6-.4-9.7-2-8.7-2.6-6-3-4.3-2.7-2.7-3-2-2.3-1-3-.3-1-1.3-.4-2.4-3-5z"/><path fill="#006eff" fill-rule="evenodd" d="M266.5 153.5l-4.7-1.7-4.3.7-3 1.7-1.7 1.6-2.3 4.7-.3 5.3.6 2.7 2 3.7 2.4 2-1.4 4.3-1 6.3 0 13.4-8.6-7.7-10.7-8-10.7-6.7-6-2.6-.6 19.6 0 36.4.6 1 1 .3 5-2.3 10.7-6.7 14.3-11 6.7-6.3 2.7 6 1.6 2 1.7 1 1.3 2.3 3.7 3.7 5 2.3 5 0 2-.7 3-1.6 4.7-5 3-6 2-7.7.3-10.3-1.3-7.4-1.7-4.6-2.3-4.4-4.7-5-5-2.3-4-.3.3-4-.6-2.7-2-3.7z"/><path fill="#0092ff" fill-rule="evenodd" d="M216.8 174.5l-.6 18.3.3 36.7 8.7-4 11.3-7.3 14-11.4 3-4 0-1.6-2-3-11-9.4-13-9zM259.2 153.2l-4 2.3-2.4 3.3-1 3 0 4.4 1 3 1.4 2 3.3 2.6-1.7 3.7-1.6 9.3.3 9.7 1.3 6 3 5.7 2.4 1.3 2.3 3.3 2.7 2.7 5 2.3 5-.3 5.6-3.3 2.4-2.7 2.3-4.3 2-7.7 0-9-1-4.7-3-7.6-2-3-2.7-2.7-5-2.3-3.6 0-3 1.3-.4-.3 1.4-2 1-3 0-4.4-1-3-2.4-3.3-1.6-1.3-2.4-1z"/><path fill="#00b6ff" fill-rule="evenodd" d="M216.8 175.8l-.6 17 0 35.4 1.6-.4 7-3.3 13.4-8.7 8.3-6.6 3.7-3.7 1.6-3-.3-2-1.3-2-3.7-3.7-7-5.6-12.3-8.4zM260.8 174.2l-1.3 1-2 3.3-1.7 7 0 9 1.7 7 2.3 3.7 3 1 2 3.6 2.7 2.7 5 2.7 5 0 2.7-1.4 3-3 3.3-6.6 1-4.4.3-6-.6-5.3-1.7-5.3-2.3-4-3-3-5.4-2.4-3.6 0-3.7 1.7-1.7 1.7-2.6-3zM259.2 153.8l-2.4 1-2.6 3-1 4 .3 4.7 1 2.3 1.7 2 3.3 1.7 3 0 3.3-1.7 2.4-3.3.6-3.3-.3-4.4-.7-2-2.6-3-2.4-1z"/><path fill="#00dafa" fill-rule="evenodd" d="M217.2 177.2l-.7.6-.3 49 2-.3 7.6-3.7 10-6.3 9.7-7.7 3.7-4 1-2.3-.4-2-1.6-2.7-8.4-7.3-11.6-8zM261.2 178.2l-1 .6-1.7 3-1 4 0 8.4 1 4 1.7 3 1 .6 1.6 0 .7-.6 2.7 6.6 3.6 4.4 3.4 1.6 4.6-.3 2.4-1.3 3.6-4.4 2.7-7.6.3-7.7-2-8.3-2.3-4-2.3-2.4-3.4-1.6-3.6 0-2.4 1-2.6 2-2.4 2.6-.6-.3-1.4-2.7-1-.6zM260.2 154.2l-3.4 1.3-1.3 1.3-1.7 3.7 0 3 1 2.7 3 3.6 3.7 1 2.7-1 3-3.6 1-2.7 0-3-1-2.7-2-2.3-2-1z"/><path fill="#00fff0" fill-rule="evenodd" d="M216.5 178.5l-.3 47 1.6 0 12-6 11.7-8.3 6-6 1-2 0-2.4-1-2-3.3-3.6-8.4-6.7-10.6-6.7-7.4-3.3zM273.8 177.5l-2.6 1-3 2.7-2 3.3-1.4 3.7-1-3-1.3-1.7-1 0-1 1-1 3 0 5 .7 2.3 1.3 1.7 1 0 1.3-1.7.4.4.6 6.6 1.4 3.7 2 3.3 2 2 2.3 1.4 3.7.3 3.6-1.7 2-2 2-3.3 2-7.3 0-6.4-1.3-5.6-2.7-5-2-2-2.3-1.4zM259.8 154.8l-2.3 1-2 2-1 2.4 0 3.6 1 2.4 2 2 2.3 1 2.4 0 2.3-1 2-2 1-2.4 0-3.6-1-2.4-2-2-2.3-1z"/><path fill="#00ffbe" fill-rule="evenodd" d="M216.5 179.5l-.3 45 1.3 0 8.3-3.7 12.7-8.3 3.7-3 4-4.3 1-2.4 0-1.6-1-2.4-4-4.3-8.7-6.7-11-6.3zM273.2 179.2l-3.7 2.3-3 5-1.3 5 0 7 1.3 5 3 5 3.7 2.3 3.6 0 3.7-2.3 3-5 1.3-5 0-7-1.3-5-3-5-3.7-2.3zM259.5 155.5l-2 1-2 2.3-.7 4 .7 2.4 2 2.3 2 1 3 0 2-1 2-2.3.7-4-.7-2.4-2-2.3-2-1z"/><path fill="#00ff8c" fill-rule="evenodd" d="M273.2 180.8l-2.4 1.4-3 4-1.6 5.6 0 6.4 1 4 2.3 4.3 3.7 2.7 3.6 0 2.4-1.4 3-4 1.6-5.6 0-6.4-1-4-2.3-4.3-3.7-2.7zM216.5 180.5l-.3 43 1.3 0 9.7-4.3 9.6-6.4 7-6.3 1.7-2.7.3-2.3-2-4-8.3-7.3-8.3-5.4-7-3.3zM259.5 156.2l-2.3 1.3-1.4 2 0 5 2.7 3 4 .3 2.3-1.3 1.4-2 0-5-2.7-3z"/><path fill="#00ff57" fill-rule="evenodd" d="M273.8 182.5l-2 1-2 2-1.3 2.3-1 3.4-.3 5.3.6 3.7 2 4.3 3 2.7 3.4.3 2-1 2-2 1.3-2.3 1-3.4.3-5.3-.6-3.7-2-4.3-3-2.7zM216.5 181.5l-.3 41 1 0 4.6-1.7 6-3 9-6 6.7-6.6 1-3.7-2-4-4-4-4.3-3.3-6.4-4-6-3zM259.5 156.8l-2.3 1.7-1 2 0 3 2 3 1.3.7 3 0 2.3-1.7 1-2 0-3-2-3-1.3-.7z"/><path fill="#00ff2d" fill-rule="evenodd" d="M273.8 184.8l-3.3 2.7-1.7 4.3 0 6.4 1.7 4.3 2 2 1.3.7 2.4 0 3.3-2.7 1.7-4.3 0-6.4-1.7-4.3-2-2-1.3-.7zM216.5 182.5l-.3 39 1.3 0 9.3-4 10-6.7 4.7-4.6 1.3-2.4.4-2.3-1.7-3.7-4.7-4.6-4-3-10-5.7zM260.2 157.5l-2.7 2-.7 3.3.7 1.7 1.7 1.7 2.6.3 2.7-2 .7-3.3-.7-1.7-1.7-1.7z"/><path fill="#00ff0f" fill-rule="evenodd" d="M274.5 188.2l-2.3 1.6-1 2-.4 5 1.4 3.4 1 1 2.3.6 2.3-1.6 1-2 .4-5-1.4-3.4-1-1zM216.5 183.5l-.3 37 1.3 0 4.7-1.7 6-3 5.6-3.6 3.7-3 3-3.4 1-2 .3-2.3-1.3-3.3-1.3-1.7-5.4-4.7-5.6-3.6-6-3zM260.5 158.5l-2.3 1.7-.4 2.6 1.7 2.4 2 .3 2.3-1.7.4-2.6-1.7-2.4z"/><path fill="#12ff00" fill-rule="evenodd" d="M216.5 184.5l-.3 35 1.3 0 9.7-4 7-4.7 5-5 1.3-3 0-1.6-2.3-4.4-6.7-5.6-8.3-4.7z"/><path fill="#36ff00" fill-rule="evenodd" d="M216.5 185.5l-.3 33 1.3 0 5-1.7 5.3-2.6 5-3.4 4-3.6 1.7-2.4.7-3.6-.7-2-1.7-2.4-5.3-4.6-9-5z"/><path fill="#5aff00" fill-rule="evenodd" d="M216.5 186.5l-.3 31 1.3 0 5-1.7 5.3-2.6 5.7-4 3-3.4 1.3-3 0-1.6-2.3-4.4-6-5-7-3.6z"/><path fill="#b2ff00" fill-rule="evenodd" d="M216.5 187.5l-.3 29 1.3 0 5-1.7 5.3-2.6 3.4-2.4 3.6-3.6 1.4-2.4.3-2-1.7-4-5-4.6-7.3-4z"/><path fill="#e9f000" fill-rule="evenodd" d="M216.5 188.5l-.3 27 1 0 5.3-1.7 4-2 4.3-3 2.4-2.3 1.6-3 0-3-1.6-3-5-4.3-5.7-3z"/><path fill="#ffcf00" fill-rule="evenodd" d="M216.5 189.8l-.3 24.4 1.6 0 4.4-1.4 7.3-4.3 2.3-2.3 1.4-2.4 0-3.6-1.4-2.4-5.6-4.6-4-2z"/><path fill="#ffa000" fill-rule="evenodd" d="M216.5 191.2l-.3 21.6 2 0 5.6-2 3.7-2.3 3.7-4 .3-4-1-2-4.3-4-4.7-2.3z"/><path fill="#ff7200" fill-rule="evenodd" d="M216.5 192.5l-.3 19 1.6 0 4.4-1.3 4-2.4 3-3.3.6-3-1.3-3-2.3-2.3-4-2.4z"/><path fill="#fd4900" fill-rule="evenodd" d="M216.2 194.2l0 15.6 1.3 0 3.7-1 3-1.6 2.3-2.4 1-3.3-1-2.3-3.3-3-4-1.7z"/><path fill="#f72f00" fill-rule="evenodd" d="M216.2 196.5l0 11 1 0 4.6-1.7 2-2 .4-2.6-.4-1-2-2-3-1.4z"/></g><path stroke="#0808a0" stroke-opacity="0.90" stroke-width=".9" stroke-linecap="square" d="m266.6 141h0m-2.6.4h0m24.5.5h0m-34.5 0h0m12.1 1.7h0m.6.4h0m-12.5.1h0m16.3.3h0m-17.4 0h0m13.7.1h0m8.9 0h0m1.8.1h0m-62.1.1h0m81.3 0h0m-38.2.4h0m26.2.1h0m-67.8 1.4h0m-2.6.7h0m-1.4 2.4h0m.4.7h0m.4 7.1h0m1.5 5.6h0m1.1 8.4h0m78.2 5.1h0m-.4.6h0m-78.4 1.1h0m78.4 4.2h0m-79.4 1.4h0m81 .4h0m-.9 3.4h0m-82 8.2h0m84 4.6h0m-82.1 4.5h0m-1 1.4h0m80.8 1.3h0m2.1 1.2h0m-1 1.1h0m-82.1.7h0m1.6 2.3h0m77.9 5.1h0m-1.2.3h0m-3.4 6.3h0m-1.2.6h0m-4.4 4.3h0m-61.5 1.1h0m46.7.2h0m-14.8.1h0m24.9.7h0m-43 .3h0m43.3.6h0m-25.8.1h0m-39.7.2h0m28.5.1h0m34.8.5h0"/><path stroke="#1a1aff" stroke-opacity="1.00" stroke-width=".9" stroke-linecap="square" d="m254.8 141.1h0m-37.9.1h0m32.8 0h0m32.1.2h0m-31.7.8h0m13.1 0h0m20.6.1h0m-36.9.1h0m-7.6.3h0m48.2 0h0m-17 0h0m-35.2.1h0m46.4.3h0m-9.3 0h0m-45.7.1h0m45.9 0h0m.8.2h0m-28 0h0m11.9.4h0m-2.5 0h0m-29.8.2h0m28.3 0h0m16.5.1h0m-37.5 0h0m-2.9.1h0m37.9 0h0m22.9.1h0m-17.2 0h0m-2.1.1h0m-5.7.2h0m29.9 0h0m-30 .1h0m-9.9.1h0m-42.4.1h0m72.9.1h0m-61.7.1h0m19.8.1h0m23.1.1h0m-24.5 0h0m-26.9 5.2h0m78.6 1.1h0m-78 5.5h0m78.7 3.1h0m.4 1.1h0m-81.3 2.2h0m-1.3.2h0m81.7 1.5h0m-78.9 2h0m.8 2.5h0m80.3 2.1h0m-2.2 6h0m2 1.2h0m-1.7 1.4h0m-.3 1.9h0m1.2.2h0m.7 1.2h0m0 .7h0m-80.9 2.6h0m78.6.6h0m-80.7.2h0m2.1 1.7h0m.1.3h0m-.7.2h0m1.6.2h0m78.8 6.2h0m-81.1 1.6h0m80.6 2.1h0m-81.3.9h0m81.3.5h0m-79.6.3h0m1 2.9h0m-1.4.1h0m80 2.6h0m-.8 1.5h0m-78.8.2h0m81.3 2.4h0m-81.4 1h0m79.5.3h0m-81 .7h0m79.6.7h0m1 .4h0m-.5 2.8h0m.9 3.3h0m-79.4 2.4h0m.4.7h0m75 .6h0m-2 1.1h0m-74 .2h0m67.7 3.1h0m-1.3.9h0m4.2.5h0m-68.7.2h0m58.4.5h0m-6.2 0h0m9.1 0h0m-.6.1h0m-1.8.2h0m-55 .1h0m34.2.1h0m-15 .1h0m21.7 0h0m3 .1h0m-44.5.1h0m44.1 0h0m-7.2 0h0m.2.1h0m6.5.1h0m4.9.5h0m-41.4 0h0m-2 .1h0m52.2.3h0m-31.7.3h0m-1.1.3h0m28.9.1h0m-34.8.3h0m-17.3.8h0"/><path stroke="#2b2bd8" stroke-opacity="0.90" stroke-width=".9" stroke-linecap="square" d="m270.4 141.1h0m-47.6.4h0m64.8 0h0m-4.2.3h0m-13.8.8h0m2.3.1h0m15 .1h0m-2.8 0h0m-63.9 0h0m39.9.3h0m-41.7.1h0m78.1 0h0m-7.2.1h0m-39.7 0h0m35.4 0h0m-14.2.1h0m-2.3.1h0m9.3 0h0m-50.2.2h0m10.8 0h0m-4.2.1h0m21.2.1h0m21.8 0h0m-22.4.1h0m-24.8.1h0m5.1.1h0m-16.6.3h0m37.2.1h0m27.1 0h0m-62.5.2h0m62.6 0h0m4.3.2h0m-48 0h0m-.3 0h0m15.6 0h0m-23.3 0h0m23 .1h0m27.7.1h0m-67.7.8h0m79.8.9h0m.8.7h0m-80.5 1h0m1 4.7h0m-.3 1h0m1.9.9h0m-.2.5h0m78.9 0h0m-80.9.1h0m80.8 2h0m-.6 2.5h0m1.1 1.4h0m-81.3.2h0m1.5.1h0m-.8 1h0m79.3.7h0m-80.1 2.3h0m1.9 4h0m77.8.7h0m.2 0h0m-78.2 0h0m77.5 1.4h0m-80.2 0h0m81.8 1.3h0m-.6 4.7h0m-78.6 2.9h0m77.5.5h0m-78.9.2h0m1.4.5h0m79.5.3h0m0 4.8h0m-81.3.1h0m.8.3h0m1 1.7h0m-1.7.8h0m.8 1.1h0m80.6 1.6h0m.7 5.1h0m-1.3 4.5h0m-82.2.1h0m2.7 2.5h0m78.6.2h0m-79.4 1.8h0m79 .4h0m-78.2.5h0m-.9.3h0m0 1.3h0m79.5 1.1h0m-.2 1.1h0m-79.2 0h0m80.7.8h0m-1.2.5h0m-79.3 0h0m.5 3.3h0m76.9.5h0m.9.4h0m-.9 1.8h0m-77.7.3h0m.4.2h0m76.3 1.9h0m-.2.7h0m2.6.8h0m-.8.3h0m-3.1.4h0m-77.8 1.4h0m80.2 2.2h0m-11.3 2.5h0m-10.9 1h0m-39.5 0h0m-7 .4h0m57.2.1h0m-60.5 0h0m13.9 0h0m35 .1h0m-15.1.2h0m-42.2.1h0m55 0h0m-46.9.2h0m44 0h0m-29.8 0h0m-2.4.2h0m24.5.4h0m-29.9.5h0m-8.3.4h0m42.9 0h0m21 .1h0m-26.2.1h0m18.7.3h0m-30.7.1h0m-12.3 0h0m20.7.3h0m20.7.5h0m-59.4.2h0"/><path stroke="#5a5ad0" stroke-opacity="0.80" stroke-width=".9" stroke-linecap="square" d="m290.3 141.3h0m-63.9.6h0m31.5 0h0m23.5 1.2h0m-34.6.1h0m-31.4 0h0m20.5.3h0m6.7 0h0m19.4.1h0m-6.6.2h0m34.2.3h0m-38.8.1h0m24.9.1h0m-45.4 0h0m46.6.3h0m-32.4.6h0m39.4 0h0m-40.9.1h0m51.9.9h0m-79 2.2h0m79.2.3h0m-.9.2h0m2.8.5h0m-80 1.8h0m78.2.6h0m-80.5 1.9h0m80.3 1.2h0m1 3.9h0m-1.1.7h0m-79.7 5.5h0m-.7.2h0m1.1 5.9h0m80.8 7.1h0m-1.9 2.6h0m.5.2h0m0 2.5h0m-80.7 3.8h0m.1.5h0m81 4.5h0m-82 2.3h0m-.6.1h0m1.8.6h0m-.2 0h0m79.7 1.4h0m-81.2.2h0m2.5.6h0m79.2.8h0m-.6.7h0m0 .8h0m-.2.7h0m-78.4 2h0m-1.1 2.1h0m-1.6.4h0m83.3.3h0m-81 .6h0m79.2 2.9h0m-.3.3h0m2.2.2h0m-5.1 13.3h0m-75.6.8h0m79.7 1h0m-6.3.5h0m.4 1.4h0m-75.7 3.4h0m67.4.5h0m-16.9.5h0m-41.3.2h0m20.9.2h0m-25.8.1h0m62 .1h0m-.8 0h0m-9.8 0h0m-43.7 0h0m-6.9.2h0m22.1.5h0m14.5.1h0m-14.4.1h0m20.5.6h0m-16.1.3h0m24.7 0h0m-8.2.4h0m-26 0h0m-18.7.3h0m63.5 0h0m-23.6.4h0m-13.5.3h0m-27.6.1h0"/><path stroke="#8080c8" stroke-opacity="0.80" stroke-width=".9" stroke-linecap="square" d="m266.9 141.5h0m-6.6 1.7h0m-14.5.1h0m37.1.5h0m-48.6.1h0m24.5 0h0m-22.4.3h0m6.4.3h0m45.4.1h0m-26.8 0h0m-45.8.1h0m59 .2h0m-43.8.1h0m56.8 0h0m-55.1.1h0m25.5.1h0m-29.2 0h0m40.5.1h0m-53.3.9h0m-.1 1.6h0m79.2 1.3h0m-79.9.9h0m81 5.4h0m-1.1 2.5h0m-.1 1.1h0m-79.9.9h0m.4 2.5h0m79.7 3.3h0m-79.2 1.2h0m-1.4.2h0m-2 2.7h0m84 1.4h0m-82.9 4.5h0m80.5 4h0m-79.4 5.9h0m80.1 4.5h0m1.4.9h0m-2.6.6h0m-78 .5h0m-2.4 3.8h0m82.2.8h0m-1.1 1.4h0m-80.1.5h0m79.8 2.4h0m2.7 1.4h0m-84.2.1h0m81.2 7.8h0m-79.3.2h0m81 .6h0m-1.2 3.2h0m-2.1 3.2h0m1 0h0m-81.2.2h0m79 2.5h0m-75.8.1h0m75.1 6.2h0m-74.5 1.2h0m-.6 1.8h0m9.9 1.2h0m27.1.3h0m-20.9.1h0m43.6 0h0m-13.1.2h0m-3.8.3h0m20.5.3h0m-35.7 0h0m47.4.7h0m-22.7.1h0m-29.2.6h0m12.8.2h0m5.1.1h0m3.7.8h0"/><path stroke="#8c8ca0" stroke-opacity="0.70" stroke-width=".9" stroke-linecap="square" d="m235.7 142.4h0m-.3.3h0m38.9.6h0m-9.3.5h0m5.8.2h0m-20.7.2h0m4.7 0h0m-2.6.2h0m-14.6.3h0m24 0h0m-31.3.1h0m46.2.2h0m-59.8 16.8h0m78.7 1.5h0m-79.6 1.8h0m-.7 2.6h0m79.1 1.2h0m-79.2 3.9h0m-1.8 2h0m82.9 1.1h0m-80.6 4.2h0m79.8 9.9h0m-79.9 10.2h0m.3 1h0m-2.3 4.1h0m.8 1.1h0m-1.5 7.7h0m78.8 6h0m-75.7 2.3h0m-.1 3.9h0m7.9 4.5h0m43.8.1h0m-15.8.6h0m12.3 0h0m-45.9.1h0m50 .1h0m-5.8.5h0m14.9.2h0m-45.5.6h0"/></g><rect x="242.4" y="141.4" width="60.1" height="101.7" fill="none" stroke="#222" stroke-width="0.8"/><rect x="192.1" y="136.4" width="113.3" height="109.6" fill="none" stroke="#555" stroke-width=".8"/><path stroke="#333" stroke-width=".8" fill="none" d="M198.7 246v2.6M217.3 246v2.6M232.2 246v2.6M262.3 246v2.6M286 246v2.6M200.56 246v1.4M202.42 246v1.4M204.28 246v1.4M206.14 246v1.4M208 246v1.4M209.86 246v1.4M211.72 246v1.4M213.58 246v1.4M215.44 246v1.4M218.79 246v1.4M220.28 246v1.4M221.77 246v1.4M223.26 246v1.4M224.75 246v1.4M226.24 246v1.4M227.73 246v1.4M229.22 246v1.4M230.71 246v1.4M241.26 246v1.4M246.56 246v1.4M250.32 246v1.4M253.24 246v1.4M255.62 246v1.4M257.64 246v1.4M259.38 246v1.4M260.92 246v1.4M269.43 246v1.4M273.61 246v1.4M276.57 246v1.4M278.87 246v1.4M280.74 246v1.4M282.33 246v1.4M283.7 246v1.4M284.92 246v1.4M293.13 246v1.4M297.31 246v1.4M192.1 239.9h-1.4M192.1 235.8h-1.4M192.1 231.7h-1.4M192.1 227.6h-1.4M192.1 219.4h-1.4M192.1 215.3h-1.4M192.1 211.2h-1.4M192.1 207.1h-1.4M192.1 198.9h-1.4M192.1 194.8h-1.4M192.1 190.7h-1.4M192.1 186.6h-1.4M192.1 178.4h-1.4M192.1 174.3h-1.4M192.1 170.2h-1.4M192.1 166.1h-1.4M192.1 157.9h-1.4M192.1 153.8h-1.4M192.1 149.7h-1.4M192.1 145.6h-1.4M192.1 137.4h-1.4M192.1 244h-2.6M192.1 223.5h-2.6M192.1 203h-2.6M192.1 182.5h-2.6M192.1 162h-2.6M192.1 141.5h-2.6"/><text x="217.3" y="255.6" text-anchor="middle" font-size="4.6" fill="#111" stroke="#111" stroke-width="0.14">0</text><text x="262.3" y="255.6" text-anchor="middle" font-size="4.6" fill="#111" stroke="#111" stroke-width="0.14">10<tspan dy="-2.4" font-size="3.68">4</tspan></text><text x="286" y="255.6" text-anchor="middle" font-size="4.6" fill="#111" stroke="#111" stroke-width="0.14">10<tspan dy="-2.4" font-size="3.68">5</tspan></text><text x="187.7" y="225.9" text-anchor="end" font-size="4.6" fill="#111" stroke="#111" stroke-width="0.14">50K</text><text x="187.7" y="205.4" text-anchor="end" font-size="4.6" fill="#111" stroke="#111" stroke-width="0.14">100K</text><text x="187.7" y="184.9" text-anchor="end" font-size="4.6" fill="#111" stroke="#111" stroke-width="0.14">150K</text><text x="187.7" y="164.4" text-anchor="end" font-size="4.6" fill="#111" stroke="#111" stroke-width="0.14">200K</text><text x="187.7" y="143.9" text-anchor="end" font-size="4.6" fill="#111" stroke="#111" stroke-width="0.14">250K</text><rect x="212.9" y="246.4" width="4.9" height="2" fill="#111" fill-opacity="0.85"/><text x="244.8" y="264" text-anchor="middle" font-size="10.15">IgG+ Cells (FITC)</text><text transform="translate(166.3 177.6) rotate(-90)" text-anchor="middle" font-size="10.15">SSC-A</text>
<clipPath id="c5"><rect x="36.4" y="268.4" width="112.7" height="110.7"/></clipPath><g clip-path="url(#c5)"><g filter="url(#bl)"><path fill="#0000ff" fill-rule="evenodd" d="M63.5 311.8l-1.3 0-1.4 1.4-.3 7.6 0 39.4.3 4.6 1.4 1.4 1.3-.4 2-2 4.3-8.6 1.4-8.4-.4-3-5-16.6-.3-10-.7-3.7z"/><path fill="#0010ff" fill-rule="evenodd" d="M63.8 336.2l-2 0-1.3 1 0 23 .3 4.6 1.4 1.4 1.3-.4 2-2 4.7-9.6-.4-7-1.6-6-1.7-3z"/><path fill="#0020ff" fill-rule="evenodd" d="M63.5 339.5l-1.3 0-1.7 1.3 0 19.4.3 4.6 1.4 1.4 1.3-.4 2-2 3-6.3 0-8.7-.7-3-2.3-5z"/><path fill="#0036ff" fill-rule="evenodd" d="M62.2 341.5l-1.7 1.3 0 17.4.3 3.6 1.4 1 1.6 0 2-2 1.4-3.3.6-3.7 0-5.3-1.6-6.3-2-2.4z"/><path fill="#0052ff" fill-rule="evenodd" d="M62.8 342.8l-2.3 1.7 0 15.7.3 2 1.7 1.3 2-.7 1-1.3 1.7-5.3 0-5.7-.7-3.3-1-2.4z"/><path fill="#006eff" fill-rule="evenodd" d="M62.5 344.2l-2 2 0 14 1.3 1.6 1.7.4 1-.7 1.7-3 .6-2.3 0-4-1.6-6.4-1.4-1.3z"/><path fill="#0092ff" fill-rule="evenodd" d="M62.2 345.5l-1.7 2.3 0 12.4 1 .6 2.3 0 1.7-1.6 1-2.7 0-4.7-1-3.6-1.3-2.4z"/><path fill="#00b6ff" fill-rule="evenodd" d="M63.5 346.5l-1.7.3-1.3 2 0 10.7 1 1 2 0 1.7-1.3 1.3-4.4-.7-4.3-1.3-3z"/><path fill="#00dafa" fill-rule="evenodd" d="M63.2 347.5l-2.7 1.7 0 10 1.3 1 1.7 0 1-.7 1.7-3.7-.4-4.6z"/><path fill="#00fff0" fill-rule="evenodd" d="M61.8 348.5l-1.3 1 0 9.3 1.3 1 1.7 0 1.7-1.6.6-1.7 0-4.3-1-2.4-1-1z"/><path fill="#00ffbe" fill-rule="evenodd" d="M61.8 348.8l-1.3 1.4 0 8.3 1.3 1 1.7 0 2-2.7.3-4-1-2.6-1.6-1.4z"/><path fill="#00ff8c" fill-rule="evenodd" d="M61.8 349.2l-1.3 1.3 0 7.3 1.3 1.4 1.7 0 1.3-1.4.7-1.6 0-4-.7-1.7-1.3-1.3z"/><path fill="#00ff57" fill-rule="evenodd" d="M61.8 349.5l-1.3 1.3 0 6.7 1 1.3 1.3.4 2-1.7.7-4.3-1-2.7-1-1z"/><path fill="#00ff2d" fill-rule="evenodd" d="M62.5 349.5l-1.3.7-.7 1 0 6 1.7 1.6 1.3-.3 1.7-2.3-.4-4.7-1.3-1.7z"/><path fill="#00ff0f" fill-rule="evenodd" d="M62.2 349.8l-1.7 1.7 0 5.3 1 1.4 1.7.3 1.6-2 .4-3.3-.7-2-1-1z"/><path fill="#12ff00" fill-rule="evenodd" d="M62.2 350.2l-1 .6-.7 1.4 0 4 1.3 2 2-.4 1-2 0-3.3-1.6-2.3z"/><path fill="#36ff00" fill-rule="evenodd" d="M62.2 350.5l-1 .7-.7 1.3 0 3.3 1.3 2 1.4 0 1.3-1.6.3-3-.6-1.7-1-1z"/><path fill="#5aff00" fill-rule="evenodd" d="M63.2 350.8l-1.4 0-1.3 2.7.3 2.7 1.7 1.6 1-.3 1-1.7 0-3.3z"/><path fill="#b2ff00" fill-rule="evenodd" d="M62.5 350.8l-1.3 1-.4 1 0 3 1.4 1.7 1.3-.3 1-2-.3-3z"/><path fill="#e9f000" fill-rule="evenodd" d="M62.8 351.2l-1.3.6-.7 1.7.4 2.7 1 1 1.3-.4.7-1 0-3z"/><path fill="#ffcf00" fill-rule="evenodd" d="M62.2 351.5l-1 1.3 0 2.7 1 1.3 1 0 1-1.6 0-2-.7-1.4z"/><path fill="#ffa000" fill-rule="evenodd" d="M62.2 351.8l-.7.7-.3 2.3 1 1.7 1 0 .6-1 0-2.7-1-1z"/><path fill="#ff7200" fill-rule="evenodd" d="M62.2 352.2l-.7 1 0 2 .7 1 1 0 .6-2.7-1-1.3z"/><path fill="#fd4900" fill-rule="evenodd" d="M62.8 352.5l-1 .7-.3 1 .7 1.6 1.3-.6 0-2z"/><path fill="#f72f00" fill-rule="evenodd" d="M62.5 352.8l-.7 1.7 1 1 .4-2.3z"/><path fill="#f01400" fill-rule="evenodd" d="M62.5 353.5l-.3 1 .6.3z"/></g><path stroke="#1c1cf0" stroke-opacity="0.30" stroke-width=".9" stroke-linecap="square" d="m74.3 333.5h0m1.1.9h0m-2.3 1.2h0m-2.9.6h0m9.5 4.6h0m5.8 1.3h0m-14.3 1h0m7.8.6h0m3 .4h0m-4.3.4h0m-2.2 2.2h0m11.5 1h0m-11.8.6h0m7.4 2.6h0m1.1.4h0m-10.9 2h0m1.9 3.4h0"/><path stroke="#1c1cf0" stroke-opacity="0.50" stroke-width=".9" stroke-linecap="square" d="m71.7 331.6h0m2.7 1.3h0m.7.1h0m-2.6.2h0m11.8.4h0m9.6.3h0m-24.3.8h0m7.5.1h0m7 .1h0m-10.6 0h0m8.1 0h0m-7.3.7h0m3.3.2h0m10.4 0h0m-15.9.6h0m7.5 1.2h0m-1.6.2h0m-1.6.1h0m-6.7.1h0m5.8 0h0m3.6.2h0m-5.7.1h0m7.5.1h0m-3.2.5h0m2.7.1h0m-3.9.1h0m-4.9.1h0m-.5 0h0m2 .2h0m-2.1.1h0m5.7.1h0m-1.9.2h0m1.4.1h0m7.9 0h0m-12.2.2h0m-1.7.1h0m9.5.2h0m-6.7 0h0m21.4.1h0m-22.5 0h0m5.6 0h0m-.3.1h0m.5.1h0m2.5 0h0m-4.4.4h0m8.1 0h0m2.9.1h0m-11.5 0h0m7.5.1h0m0 .1h0m-7.2.1h0m-2.9.1h0m2.2.1h0m-1.4.1h0m-2.7 0h0m6.5 0h0m-4.7 0h0m3.5.1h0m3.5.1h0m3.1.1h0m-8.2.2h0m1 .5h0m3.1 0h0m7.6.2h0m3.3 0h0m-12.3.1h0m-4.2.1h0m12.4 0h0m-6.9.1h0m-1.7.1h0m8.2 0h0m-8.1.1h0m-.7.1h0m6.1.1h0m-6.8.1h0m.8.2h0m2.8.2h0m-5 0h0m8.6 0h0m2.7.1h0m-6.5 0h0m10.3.3h0m-16.7 0h0m1.7 0h0m-2.9.2h0m11.9.2h0m.9.9h0m-10.2.1h0m3.2.1h0m-.9 0h0m5 .2h0m-4.6 0h0m2.7 0h0m-3.1.1h0m3.7.1h0m-2.1 0h0m-.6 0h0m4.8 0h0m-1.6.1h0m-6.6.2h0m12.5 0h0m-9 .1h0m1.9 0h0m5.4.2h0m-10.9 0h0m-1.1.3h0m8.5.1h0m-9.1 0h0m14.8.2h0m-11.9 0h0m12.1 0h0m-5.9.7h0m-3.6 0h0m-3.8.1h0m5.3.1h0m-2.5.1h0m1.7.2h0m-2.5 0h0m7.4.1h0m-.5.1h0m-7.2.2h0m10 0h0m-7.9.1h0m-.1.4h0m-5 .5h0m.6.2h0m.4 0h0m6.1.2h0m-3.4.1h0m-4.4.1h0m.5.4h0m4 .4h0m9.3 0h0m-13.8 0h0m6.4 0h0m1.6.1h0m.7 1.4h0m-10.1.1h0m13.7.1h0m-3.5.6h0m-7.2.8h0m-3 .3h0m3.1.1h0m-3.2.1h0m.7.6h0m4.5.4h0m-5.9 1h0m0 1.7h0m16.4 0h0m-17.9 2.2h0"/><path stroke="#1c1cf0" stroke-opacity="0.75" stroke-width=".9" stroke-linecap="square" d="m77.3 327.7h0m-1.7 2.8h0m9.4.9h0m-9.2 1.5h0m4.1.3h0m-11.5.1h0m12.9.1h0m-13.2.3h0m2.3 0h0m6.2.1h0m8.5.9h0m-.2.7h0m-13.6.3h0m13 .2h0m-14.3.1h0m8.6 0h0m-7.6.1h0m8 1.4h0m-5.6 0h0m9.3.8h0m-10.7.1h0m-1.7.1h0m14.6.1h0m-15.3.3h0m12.4 0h0m-.2 0h0m-8.7 0h0m3.2.1h0m3.9.1h0m-7.4.2h0m3.1.6h0m-1.7 0h0m11.7.4h0m-9.3.1h0m.1.6h0m.5.1h0m-2 0h0m15.3.3h0m-6.1.1h0m-5.3 0h0m-3.7.2h0m-.1.1h0m7.5.2h0m-7.5 0h0m7.8.1h0m-12.4.2h0m7.7.2h0m-7.8 0h0m2.9.1h0m-1.6 0h0m-.6.1h0m.5.3h0m4.9.2h0m2 .3h0m.7 0h0m-.9 0h0m-4.8 0h0m1.4.2h0m11.2.2h0m-7.1.5h0m-6.5 0h0m10.2 0h0m-4.7.1h0m.4.1h0m.1 0h0m-3.1.1h0m-1 .1h0m1.2.2h0m8.1.1h0m-10.3.1h0m3.2.1h0m.2 0h0m-.1.1h0m-2.7 0h0m7.6.1h0m4.8 0h0m-14 .1h0m2.3 0h0m4.7 0h0m-4.4.2h0m-2.9.2h0m4.5.1h0m10.1 0h0m-11.7.1h0m-.8.1h0m1.5 0h0m-.8.2h0m3.3 0h0m8.5.2h0m-7 .2h0m4.7 0h0m-12.1.1h0m1.1.1h0m.3.4h0m9.2.1h0m-11.8 0h0m.8.1h0m2.6 0h0m11 .1h0m-.7.2h0m3 .1h0m-9.5 0h0m-6.3.3h0m1.1.2h0m4.1 0h0m-5.1.2h0m3.5.4h0m4.6.1h0m-5.1.1h0m-4.3.2h0m7.4.2h0m-4.8 0h0m3.2.1h0m8.1 0h0m-9.7.3h0m-1.4 0h0m6.7.1h0m-9.3.1h0m2.8 0h0m-2.9.2h0m5.9 0h0m5.7 0h0m-10.5.1h0m6.7 0h0m1.2.2h0m-5.8.4h0m-1.4.1h0m.5.3h0m1.3.4h0m2.6.2h0m-3 .2h0m15.1.1h0m-10.4 0h0m-7.6.6h0m1.5.4h0m-1.7.3h0m11.8.5h0m-7.3 0h0m-1.2.2h0m7.3 1h0m-9.2 1h0m5.2.8h0m-6.9 1.8h0m4.2.4h0m-4.6 4.3h0"/><path stroke="#1c1cf0" stroke-opacity="1.00" stroke-width=".9" stroke-linecap="square" d="m95.7 327.8h0m-11.5.4h0m-.5 2.7h0m-6.6 1.1h0m-9.4.7h0m3.4.9h0m-.2 1.9h0m1.3.1h0m14.2.4h0m-9.7 0h0m-3.3 1.7h0m-2.9.1h0m2.2.2h0m-2.2.6h0m6 .1h0m-4.4.1h0m4.4 1.5h0m2.3.3h0m-4.1.2h0m5.3 0h0m-1.3.1h0m-5.4.2h0m1.4.2h0m.3 0h0m-.5.2h0m-1.6.2h0m17.1.3h0m-5.5.2h0m-11.2 0h0m8.9.4h0m5.7 0h0m-17 0h0m7.1.1h0m-7 0h0m4.3.4h0m8.1.7h0m-9.7.1h0m-1.5.1h0m4.4.1h0m4.1.4h0m-2.2.1h0m.4.1h0m-5.8.2h0m4.7.3h0m11.3 0h0m-10.4.1h0m-5.7.2h0m4.5.3h0m-4.8.3h0m10.2.3h0m-5.9.1h0m-3.9.1h0m12.3.2h0m-7.2.1h0m-2.4.1h0m7.1.2h0m-4.5.2h0m-5.6.1h0m8 0h0m-2.3.2h0m-5.5.3h0m2.3.1h0m7.7.4h0m-6.1.4h0m-4.6.2h0m5.6.7h0m-5.7.3h0m8.1.3h0m-1.4.6h0m-4.6.2h0m-1.1.1h0m15 .2h0m.7.8h0m-11.3.1h0m-.5.5h0m-4.1 0h0m6.9.2h0m-2.7 1h0m-1.9.1h0m4.1.1h0m-9.2.3h0m2.5.3h0m10.9.4h0m-3 .6h0m-9.2 1h0m-2.2 1.7h0m6.2.3h0m-8 1.5h0"/><path stroke="#3a3ae0" stroke-opacity="0.30" stroke-width=".9" stroke-linecap="square" d="m76.9 322.1h0m-.6 20.2h0m6.9 11.7h0"/><path stroke="#3a3ae0" stroke-opacity="0.50" stroke-width=".9" stroke-linecap="square" d="m78.9 329.2h0m1.5.1h0m-10.3 3.8h0m19.4 2.6h0m7.9.2h0m-14.7.8h0m-2.6.1h0m2.4.6h0m8 .4h0m3.7.2h0m-23 1.5h0m8.2.7h0m11.5.5h0m-17.3.8h0m17.3.3h0m-11.2.4h0m-3 .1h0m5.2 0h0m-1.6.1h0m19.5.1h0m-48 1.4h0m21.2.2h0m11.1.2h0m-11.9 0h0m4.4 1.1h0m16.8.1h0m-13 1.6h0m-1.5 1h0m-3.4 1.1h0m-19.6.1h0m4.1.4h0m19.4.9h0m11.7.4h0m-10.8 1.2h0m-4.9.1h0m-16.3.5h0m11.4 1.7h0m14.5 1.4h0m-36.2 2.5h0m31 1.9h0"/><path stroke="#3a3ae0" stroke-opacity="0.75" stroke-width=".9" stroke-linecap="square" d="m107.5 322.2h0m-33.5.4h0m11.5.2h0m-8.8 1.9h0m-7.7 1.4h0m25.1.3h0m-26.3 3.8h0m.9 0h0m18.4 1.2h0m-15.5 1.4h0m3 2.1h0m13 .4h0m-5.9.5h0m13.3.3h0m-18.3.5h0m-1.2.4h0m-5.4.1h0m3.8.1h0m25.5.1h0m-21.7.8h0m-19.7.7h0m16.7.1h0m-14.4.1h0m27.2.1h0m-.1.3h0m-16.5.5h0m-.7.2h0m8.9.5h0m-4.7.7h0m16.8.1h0m1.9.1h0m-.6.7h0m-16.1 0h0m17.9.6h0m-14.3.8h0m8.2.6h0m-7.5.8h0m-7 1.5h0m-.7 0h0m10.8.1h0m-7.1 0h0m4 1.2h0m-3.4 0h0m-.8.4h0m-19.9.2h0m3 .3h0m26.5 1.1h0m-11.1.1h0m8.4 1h0m-23.9 1.8h0m.1 1.3h0m-3 .4h0m15.8.2h0m8.6.1h0m-8 .9h0m2.6 2.1h0m-21 1.3h0m31 .7h0m-12.8.1h0m19.4 1.2h0"/><path stroke="#3a3ae0" stroke-opacity="1.00" stroke-width=".9" stroke-linecap="square" d="m81.1 324.1h0m-5.6 1.5h0m7 2.8h0m3.1.6h0m-2.7.2h0m3.4 4h0m5.9 1h0m3.8.8h0m-6.3.1h0m-15.3.2h0m-1.3 1h0m7.6.1h0m-5.6 0h0m17 .4h0m-17.1 1.7h0m8.4 1.5h0m-6.3 1.3h0m-4.8 1.1h0m11.5.7h0m-10.6.6h0m-.4.1h0m8.3.7h0m-1.7 2.7h0m-3.2 1.9h0m8.6.2h0m-4.7.6h0m-5 1h0m9.4 1.6h0m-12.1.4h0m5.6 4.8h0"/><path stroke="#2020f0" stroke-opacity="0.30" stroke-width=".9" stroke-linecap="square" d="m67.5 301.6h0m-.6 10.6h0m.2 13.6h0"/><path stroke="#2020f0" stroke-opacity="0.50" stroke-width=".9" stroke-linecap="square" d="m64.2 309.8h0m.4 2.8h0m1.5 2.6h0m1.6.2h0m.8.5h0m-.7 2.4h0m-2 1h0m.7.2h0m2.4.6h0m-2.6.6h0m1.7.3h0m-2.2.1h0m3.3 0h0m-1.9 2.7h0m-.9.5h0m1.3 1h0m-1.2 1.5h0m.9.2h0m.4.3h0m-.6.8h0m.1.6h0m.7 3h0m0 .2h0m-.2.7h0m.5.1h0m-.6 34.2h0"/><path stroke="#2020f0" stroke-opacity="0.75" stroke-width=".9" stroke-linecap="square" d="m67.2 307.1h0m-2.1 5.5h0m2.2 7.1h0m-1.4.5h0m1.6.3h0m-1 .5h0m1.1.2h0m1.4 0h0m-2.3.1h0m.3 1.5h0m-.3.8h0m.8.3h0m-1.1 1.1h0m-.1 0h0m1.3 0h0m-1.3 1h0m1.9 1.7h0m-1.5.2h0m.7 4h0m.5.7h0m.7 2.4h0m-.2.5h0m1 2.1h0"/><path stroke="#2020f0" stroke-opacity="1.00" stroke-width=".9" stroke-linecap="square" d="m66.6 315.5h0m.8 4.7h0m-1.1.6h0m0 .4h0m1.6 1.5h0m1 2h0m-1.7.2h0m1.2.4h0m1.3 1.8h0m-.2.2h0m0 .8h0m-2 3.3h0m1.2 1.3h0m.3 2.9h0"/><path stroke="#4848d8" stroke-opacity="0.30" stroke-width=".9" stroke-linecap="square" d="m62.4 291.1h0"/><path stroke="#4848d8" stroke-opacity="0.50" stroke-width=".9" stroke-linecap="square" d="m61.6 283.4h0m2.1 6.9h0m.4 8.3h0m-.3 1h0m-1.1 3.1h0m1.9 2.8h0m.4 1.1h0m-1.3.7h0m-1.2 1h0"/><path stroke="#4848d8" stroke-opacity="0.75" stroke-width=".9" stroke-linecap="square" d="m64.9 283h0m-.1 4.3h0m.1.8h0m-3.5.2h0m2.1 4.1h0m-.4.2h0m-1.8 1.7h0m1.3 1.9h0m-.8 2.7h0m.8 2.2h0m1.4 7.1h0"/><path stroke="#4848d8" stroke-opacity="1.00" stroke-width=".9" stroke-linecap="square" d="m63.3 284.3h0m.8 4.4h0m-1.8 19.7h0m2.1.2h0"/><path stroke="#9090c8" stroke-opacity="0.50" stroke-width=".9" stroke-linecap="square" d="m95.8 292.6h0m-16.1 3.6h0m24.9 1.4h0m-21.5 2.6h0m22.3 2h0m-1.8.9h0m-14.6 15.9h0m2 .5h0m-16.9 3.1h0m3 6.6h0m.5 3h0m29.8 5h0m-31.9 23.6h0"/><path stroke="#9090c8" stroke-opacity="0.75" stroke-width=".9" stroke-linecap="square" d="m85.1 293h0m13.7 4.4h0m-29.8.6h0m5.7 11.2h0m30 8.4h0m-29.8 6.2h0m-.6 2.8h0m22.4 12.2h0m-3.1 8.7h0m-19.4 26.2h0"/><path stroke="#9090c8" stroke-opacity="1.00" stroke-width=".9" stroke-linecap="square" d="m106.9 297.5h0m-6.5 3h0m-23.4 28.4h0m13.1 1.7h0m-7.1 8h0m15 .5h0m-4.7 27.9h0"/><path stroke="#a0a0c0" stroke-opacity="0.30" stroke-width=".9" stroke-linecap="square" d="m137.1 351.8h0"/><path stroke="#a0a0c0" stroke-opacity="0.50" stroke-width=".9" stroke-linecap="square" d="m113.3 305h0m11.2 35.3h0m10 23.4h0"/><path stroke="#a0a0c0" stroke-opacity="0.75" stroke-width=".9" stroke-linecap="square" d="m139.1 295.4h0m-13.1 7.1h0m-8 52.2h0m4 8.6h0m12.5 1.4h0"/><path stroke="#a0a0c0" stroke-opacity="1.00" stroke-width=".9" stroke-linecap="square" d="m129.3 318h0m-16.2 9.7h0m8.1 14.5h0"/></g><rect x="55.7" y="272.2" width="16" height="46.7" fill="none" stroke="#222" stroke-width="0.8"/><rect x="36.4" y="268.4" width="112.7" height="110.7" fill="none" stroke="#555" stroke-width=".8"/><path stroke="#333" stroke-width=".8" fill="none" d="M44.2 379.1v2.6M62.8 379.1v2.6M84.6 379.1v2.6M114.7 379.1v2.6M141.1 379.1v2.6M46.06 379.1v1.4M47.92 379.1v1.4M49.78 379.1v1.4M51.64 379.1v1.4M53.5 379.1v1.4M55.36 379.1v1.4M57.22 379.1v1.4M59.08 379.1v1.4M60.94 379.1v1.4M64.98 379.1v1.4M67.16 379.1v1.4M69.34 379.1v1.4M71.52 379.1v1.4M73.7 379.1v1.4M75.88 379.1v1.4M78.06 379.1v1.4M80.24 379.1v1.4M82.42 379.1v1.4M93.66 379.1v1.4M98.96 379.1v1.4M102.72 379.1v1.4M105.64 379.1v1.4M108.02 379.1v1.4M110.04 379.1v1.4M111.78 379.1v1.4M113.32 379.1v1.4M122.65 379.1v1.4M127.3 379.1v1.4M130.59 379.1v1.4M133.15 379.1v1.4M135.24 379.1v1.4M137.01 379.1v1.4M138.54 379.1v1.4M139.89 379.1v1.4M149.05 379.1v1.4M153.7 379.1v1.4M36.4 375.1h-2.6M36.4 354.9h-2.6M36.4 335.3h-2.6M36.4 304.1h-2.6M36.4 277.5h-2.6M36.4 373.08h-1.4M36.4 371.06h-1.4M36.4 369.04h-1.4M36.4 367.02h-1.4M36.4 365h-1.4M36.4 362.98h-1.4M36.4 360.96h-1.4M36.4 358.94h-1.4M36.4 356.92h-1.4M36.4 352.94h-1.4M36.4 350.98h-1.4M36.4 349.02h-1.4M36.4 347.06h-1.4M36.4 345.1h-1.4M36.4 343.14h-1.4M36.4 341.18h-1.4M36.4 339.22h-1.4M36.4 337.26h-1.4M36.4 325.91h-1.4M36.4 320.41h-1.4M36.4 316.52h-1.4M36.4 313.49h-1.4M36.4 311.02h-1.4M36.4 308.93h-1.4M36.4 307.12h-1.4M36.4 305.53h-1.4M36.4 296.09h-1.4M36.4 291.41h-1.4M36.4 288.09h-1.4M36.4 285.51h-1.4M36.4 283.4h-1.4M36.4 281.62h-1.4M36.4 280.08h-1.4M36.4 278.72h-1.4M36.4 269.49h-1.4M36.4 264.81h-1.4"/><text x="44.2" y="389.9" text-anchor="middle" font-size="4.6" fill="#111" stroke="#111" stroke-width="0.14">-10<tspan dy="-2.4" font-size="3.68">3</tspan></text><text x="62.8" y="389.9" text-anchor="middle" font-size="4.6" fill="#111" stroke="#111" stroke-width="0.14">0</text><text x="84.6" y="389.9" text-anchor="middle" font-size="4.6" fill="#111" stroke="#111" stroke-width="0.14">10<tspan dy="-2.4" font-size="3.68">3</tspan></text><text x="114.7" y="389.9" text-anchor="middle" font-size="4.6" fill="#111" stroke="#111" stroke-width="0.14">10<tspan dy="-2.4" font-size="3.68">4</tspan></text><text x="141.1" y="389.9" text-anchor="middle" font-size="4.6" fill="#111" stroke="#111" stroke-width="0.14">10<tspan dy="-2.4" font-size="3.68">5</tspan></text><text x="31.4" y="378.5" text-anchor="end" font-size="4.6" fill="#111" stroke="#111" stroke-width="0.14">-10<tspan dy="-2.4" font-size="3.68">3</tspan></text><text x="27.9" y="358.3" text-anchor="end" font-size="4.6" fill="#111" stroke="#111" stroke-width="0.14">0</text><text x="31.4" y="338.7" text-anchor="end" font-size="4.6" fill="#111" stroke="#111" stroke-width="0.14">10<tspan dy="-2.4" font-size="3.68">3</tspan></text><text x="31.4" y="307.5" text-anchor="end" font-size="4.6" fill="#111" stroke="#111" stroke-width="0.14">10<tspan dy="-2.4" font-size="3.68">4</tspan></text><text x="31.4" y="280.9" text-anchor="end" font-size="4.6" fill="#111" stroke="#111" stroke-width="0.14">10<tspan dy="-2.4" font-size="3.68">5</tspan></text><rect x="33.1" y="352" width="3.3" height="5.5" fill="#111" fill-opacity="0.85"/><rect x="57.8" y="379.3" width="4.5" height="2.2" fill="#111" fill-opacity="0.85"/><text x="88.6" y="399.9" text-anchor="middle" font-size="10.15">BG505 SOSIP+PGV04 Fab</text><text x="90" y="410.7" text-anchor="middle" font-size="10.15">(AF647)</text><text transform="translate(17.8 325.7) rotate(-90)" text-anchor="middle" font-size="10.15">BG505 SOSIP &#160;(PE)</text>
<clipPath id="c6"><rect x="193.2" y="267.7" width="112.7" height="110.8"/></clipPath><g clip-path="url(#c6)"><g filter="url(#bl)"><path fill="#0000ff" fill-rule="evenodd" d="M220.8 310.5l-1.3 0-1.3 1.3-.4 8 0 39.4.4 4.6 1 1 1.3-.3 2-1.7 4.7-8.6 1.3-8.7-.3-3-5.4-16.7-.6-13.3z"/><path fill="#0010ff" fill-rule="evenodd" d="M220.8 334.8l-1.3 0-1.7 1 0 23.4.4 4.6 1 1 2.3-1 1.7-2 4-7.6.3-2-.7-7.4-1-3.6-2-4z"/><path fill="#0020ff" fill-rule="evenodd" d="M221.2 338.5l-2 0-1.4 1 0 19.7.4 4.6 1 1 1.3-.3 2-1.7 3-5.6.3-2 0-6.4-1-5-2-4z"/><path fill="#0036ff" fill-rule="evenodd" d="M219.8 340.2l-2 1.3 0 17.7.4 3.6 2 1 2-1 1.6-3 1-3.6.4-5-1.4-7-1.6-3z"/><path fill="#0052ff" fill-rule="evenodd" d="M219.5 341.8l-1.7 1.4 0 16 .4 2 1.3 1 1.3 0 2-2 1-2.7.7-3.3 0-3.7-1.7-6.7-1.3-1.6z"/><path fill="#006eff" fill-rule="evenodd" d="M219.2 343.2l-1.4 1.6 0 14.4 1.4 1.6 1.6 0 2.4-3 1-3.6 0-2.4-1.7-7-1-1.3z"/><path fill="#0092ff" fill-rule="evenodd" d="M219.5 344.2l-1.7 2 0 12.6 1.4 1 1.3 0 2-1.6 1-2 .3-4.7-2-6.3-1.3-1z"/><path fill="#00b6ff" fill-rule="evenodd" d="M220.2 345.2l-1 .3-1.4 2 0 11 1.7 1 2.7-1.3 1.3-3 0-4.4-1.7-4.3z"/><path fill="#00dafa" fill-rule="evenodd" d="M219.5 346.5l-1.7 1.3 0 10.4 2.4 1 1.3-.7 1-1.3 1-4.7-1-3.7-1.3-2z"/><path fill="#00fff0" fill-rule="evenodd" d="M219.5 347.2l-1.7 1 0 9.6 2.4 1 2-1.6.6-1.4.4-4.3-1-2.7-1.4-1.3z"/><path fill="#00ffbe" fill-rule="evenodd" d="M219.5 347.5l-1.7 1.3 0 8.4.4.6 2 .7 2.3-2.3.3-5.4-.6-1.6-1.4-1.4z"/><path fill="#00ff8c" fill-rule="evenodd" d="M219.5 347.8l-1.7 1.4 0 7.6.4.7 2 .7 1.6-1.4.7-1.3.3-3.7-1-2.6-1-1z"/><path fill="#00ff57" fill-rule="evenodd" d="M219.2 348.2l-1.4 1.3 0 7 1.4 1.3 1.3 0 1.3-1.3.7-1.7 0-3.6-.7-1.7-1.3-1.3z"/><path fill="#00ff2d" fill-rule="evenodd" d="M219.2 348.5l-1.4 1.3 0 6.4.7 1 2 .3 1.7-2 .3-3.7-.7-2-1.3-1.3z"/><path fill="#00ff0f" fill-rule="evenodd" d="M219.2 348.8l-1.4 1.4 0 5.6.7 1 2 .4 1.7-2.4 0-3.6-1.7-2.4z"/><path fill="#12ff00" fill-rule="evenodd" d="M219.8 348.8l-1 .4-1 1.3 0 5 1 1.3 1 .4 1.7-1.4.7-1.6-.4-3.4z"/><path fill="#36ff00" fill-rule="evenodd" d="M219.5 349.2l-1 .6-.7 1.4 0 3.6 1 1.7 1.4.3 1-.6.6-1.4 0-3.6-1-1.7z"/><path fill="#5aff00" fill-rule="evenodd" d="M219.5 349.5l-1 .7-.7 1.3 0 3 1 1.7 1.4.3 1.3-1.3.3-3.4-.6-1.6z"/><path fill="#b2ff00" fill-rule="evenodd" d="M219.2 349.8l-1 1.4-.4 2.3.7 2 .7.7 1.3 0 1-1.4 0-3.6-1-1.4z"/><path fill="#e9f000" fill-rule="evenodd" d="M219.2 350.2l-1 1.6 0 2.4 1 1.6 1.3 0 1-1.6 0-2.4-1-1.6z"/><path fill="#ffcf00" fill-rule="evenodd" d="M219.2 350.5l-1 3 1 2 1.3 0 .7-1 0-3-.7-1z"/><path fill="#ffa000" fill-rule="evenodd" d="M219.8 350.5l-1.3 1.3 0 2.4 1.3 1.3 1-.7.4-1-.4-2.6z"/><path fill="#ff7200" fill-rule="evenodd" d="M219.8 350.8l-.6.4-.7 1.6.7 2 .6.4 1-1 0-2.4z"/><path fill="#fd4900" fill-rule="evenodd" d="M219.8 351.2l-1 1 0 1.6 1 1 1-1.3 0-1z"/><path fill="#f72f00" fill-rule="evenodd" d="M219.5 351.8l-.3 2 1 .4.3-1.7-.3-.7z"/><path fill="#f01400" fill-rule="evenodd" d="M219.5 352.5l0 1 .7 0 0-1z"/></g><path stroke="#1c1cf0" stroke-opacity="0.30" stroke-width=".9" stroke-linecap="square" d="m228.3 334.4h0m7.3 1.7h0m-1.2 0h0m3.6 2.4h0m3 .8h0m-11.4.7h0m9.8.1h0m-6.9.5h0m-2.2.8h0m0 .9h0m4.4.1h0m-1.7 2h0m6.2 5.2h0m-8 .7h0m1.3.6h0m1.3.8h0"/><path stroke="#1c1cf0" stroke-opacity="0.50" stroke-width=".9" stroke-linecap="square" d="m248.8 325.8h0m-14.5 5.3h0m-.8.5h0m1.3.2h0m-5.2.2h0m17.7 0h0m-16.3.4h0m.9.5h0m4 .1h0m-1.8.3h0m3.2.1h0m.8 0h0m-7.1.5h0m4.5.7h0m-3.3.1h0m-1.7.8h0m4.9 0h0m11.2.9h0m-5.5 0h0m-1.9.3h0m-11.2.1h0m4 .2h0m-1.9.1h0m8.4.1h0m-1.7 0h0m-8.1.7h0m11.7.2h0m-6.3 0h0m-6.4.3h0m2 .2h0m0 0h0m.8 0h0m8.8.3h0m-.6 0h0m-3.6.4h0m-6.8.2h0m8.7.1h0m-4.2 0h0m-2 .1h0m2.7.1h0m8.4.3h0m-12.1.1h0m6 .2h0m4.7.2h0m-10.3.1h0m8.9 0h0m-4.3 0h0m-.6.1h0m-.5.1h0m-1.4 0h0m-.9.3h0m7.9.5h0m11 .2h0m-21.1 0h0m6.1 0h0m.6 0h0m4.5.3h0m.6.1h0m-13 0h0m3.2.3h0m1.1 0h0m1.7.1h0m6.8.1h0m-2.6.3h0m-9.2 0h0m21 .1h0m-19.6.1h0m4.7 0h0m1.8.3h0m-6.3 0h0m1.4.3h0m2.3 0h0m-3.9.3h0m1.2.1h0m6.4 0h0m-9 .1h0m1.8.1h0m2.5 0h0m-3.9.1h0m5.9.1h0m8.4 0h0m-12.6.1h0m2 .1h0m-4.2.4h0m6.6.2h0m2.1 0h0m-5.5.1h0m4.9.1h0m-4.8.2h0m16.5 0h0m-19.1.1h0m-.1.2h0m3.7 0h0m-3.8.1h0m14.7 0h0m-11.7 0h0m6.1.1h0m-9.8.1h0m9.5.1h0m7.3.2h0m-12.7.1h0m8.4 0h0m-9.1.1h0m10.8.1h0m-8.9.2h0m6.7.1h0m-7.6.3h0m4.5.1h0m-5.6 0h0m6 .2h0m-8 .1h0m1.7 0h0m5.8.3h0m15.5.3h0m-16.8.4h0m-5.1.2h0m7.1.3h0m-4.9.2h0m.5.2h0m8.8.3h0m-8.8 0h0m.1.3h0m-5 0h0m4.2.1h0m7.7 0h0m4.6.1h0m-15.8.1h0m-.4 0h0m1.1.1h0m-1.6 0h0m-.5.1h0m10.4.2h0m3 0h0m-12.6.3h0m1.2.3h0m.5.7h0m-1.4.2h0m3.5.4h0m.1.2h0m-5.3.1h0m6.7 0h0m-4.5.4h0m2.6.3h0m3.4.2h0m-3.3 0h0m3.9 1h0m3.2.3h0m-12.5.3h0m8.1.2h0m-8.1 0h0m1 1.4h0m6.8 1h0m1.2.4h0m-3.3 1.4h0m-5.1 0h0m2.7.5h0m10.4 3.1h0"/><path stroke="#1c1cf0" stroke-opacity="0.75" stroke-width=".9" stroke-linecap="square" d="m244.7 320.8h0m-13.9.5h0m2.7 9.7h0m1.1 0h0m.7 1.2h0m9.8.7h0m-7.2.3h0m4.1.1h0m-16.6.3h0m13.3.5h0m-5.7.1h0m4.6.1h0m-6 0h0m19.1.6h0m-21.1.2h0m5 0h0m2.6 0h0m-9.3.2h0m10.8.3h0m-4.3 0h0m6.2.6h0m-7.7.1h0m-.6.3h0m-5 .5h0m.9.4h0m2.4 0h0m6.8.2h0m-10.2.2h0m10.6 0h0m-5 .1h0m2.9.4h0m-.2.2h0m-.5.1h0m-2.5.2h0m-3.5 0h0m8.3.1h0m-8.5.1h0m12.6.2h0m-13 .1h0m.4.1h0m11.9.1h0m-8.1.1h0m7.2 0h0m-.3.3h0m-5.1 0h0m-6.1.2h0m20.5.1h0m-13.2.1h0m1.3.1h0m-4.3.6h0m10.7.1h0m5.9.2h0m-7.7.4h0m-6.3.2h0m6.4.1h0m-7.1.1h0m-2.4 0h0m8.8.1h0m-9.6 0h0m1.4 0h0m-4.3.2h0m8.6.3h0m-5.9 0h0m3.1.2h0m-1.2.1h0m5.4 0h0m3.7.1h0m-11.5.1h0m1.8.4h0m10.5.1h0m-13.7 0h0m3.1.1h0m-.9.1h0m2 0h0m2.4.1h0m-.9.1h0m4.7.1h0m-9.6 0h0m4.3 0h0m.3 0h0m-4.4.1h0m14.9 0h0m-12.2.5h0m-2.7.1h0m7.7 0h0m-4.5.1h0m3.3.1h0m2.8.2h0m-10 .1h0m12.9.1h0m-13.5 0h0m17.4 0h0m-6.4.1h0m8.4.1h0m-17.6.1h0m6.2.1h0m-3.2.1h0m2.5.2h0m-7.8.5h0m4.4.1h0m2.8.1h0m-4.8.3h0m1.8 0h0m-2.2.1h0m1.8 0h0m5.9.1h0m-6.4.2h0m-3 0h0m4.6 0h0m.6.2h0m9.2.1h0m-2.8.3h0m-9.5 0h0m4.5.2h0m1.1.1h0m-2.7.2h0m-4.2.1h0m-.1.2h0m-1.2 0h0m3.4.1h0m-2.2.2h0m-1.4.3h0m7.2.1h0m-1 0h0m-5 .5h0m13.2.1h0m-5.9 0h0m-1.4.7h0m-.7.2h0m-5.8.1h0m6 .4h0m-2 .1h0m9.8 0h0m-6.8.6h0m-5.7.1h0m-.1.3h0m-.6.2h0m4 .2h0m.1 0h0m-5.5.1h0m3.5.6h0m9.7.2h0m-8.5 2.8h0m7.1.5h0m-8.9 1.5h0m.6.3h0m-.4.7h0m-5.2 1h0m6.4 1.6h0"/><path stroke="#1c1cf0" stroke-opacity="1.00" stroke-width=".9" stroke-linecap="square" d="m238.5 327h0m-10.8 1.1h0m.9 4.4h0m2.9.5h0m8.5.5h0m-7.2 1.8h0m12.5.6h0m-10.9 0h0m3.1.3h0m-2.8.8h0m-3.8.4h0m22.9.1h0m-24.4.3h0m2.5.2h0m6.4.2h0m-3.8.1h0m-.7.1h0m.4 0h0m-3 .5h0m2.2.3h0m-5.9.9h0m5.1.2h0m-1.6.1h0m3.5.2h0m1.2.9h0m9.6.1h0m-12.5.3h0m2.3.1h0m-5.5.1h0m6.1 0h0m0 .3h0m-6.2 0h0m8.3.4h0m-2.1.1h0m-7.2 0h0m5.5 0h0m-2.4.6h0m.1.1h0m1.3.8h0m-3.9 0h0m7.4 0h0m-1.4.2h0m-3.2 0h0m16 .2h0m-11.7.3h0m-6.5.1h0m9.7.2h0m.9.1h0m-9 0h0m9.5 0h0m-1.3.1h0m-3 0h0m1.7.4h0m-9.8.8h0m24.1.1h0m-22.7.2h0m1.8.1h0m1.1.5h0m6.1.2h0m4.4 0h0m-13.4.1h0m12.8.1h0m-7 0h0m0 .1h0m1.8.1h0m-1.6.2h0m2.7.8h0m-10.4.9h0m12.5.7h0m-1.4.1h0m-5.9.7h0m0 0h0m-5.5.7h0m16.4.8h0m-5.9.1h0m-5.6.2h0m-.5 2h0m9.1.1h0"/><path stroke="#3a3ae0" stroke-opacity="0.30" stroke-width=".9" stroke-linecap="square" d="m242.7 323.6h0m-10.7 3h0m-2.4 13.2h0m1.2 5.6h0m21.2 4.1h0m-13.8 5.6h0"/><path stroke="#3a3ae0" stroke-opacity="0.50" stroke-width=".9" stroke-linecap="square" d="m243.6 320.3h0m15.6 1.4h0m-18.5 6.6h0m13.5.4h0m-13.8.6h0m10.9.1h0m-22.2.5h0m7.4.1h0m1.7.4h0m23.3 1.6h0m-23 .7h0m-6.2.8h0m14 .2h0m-11.1.1h0m-22.2.4h0m31.1.6h0m11.4.3h0m-21 1.1h0m-4.8 0h0m7.1.4h0m-4.4 1h0m-19.4.4h0m16.2.2h0m13.4.3h0m17.9 0h0m-17.2 1h0m-27.6.3h0m25.9.4h0m-8.9.1h0m-4.2.6h0m18.2.1h0m-11.5 0h0m-6.7 1h0m10.3.9h0m-27.2.2h0m31.5.3h0m-30 .3h0m4.4.3h0m15.3 0h0m6 0h0m7.1.1h0m11.8 1.5h0m-23.1.6h0m8.2.3h0m-8.8.3h0m14.2.4h0m-11.6.4h0m5.2.3h0m6.6 0h0m-16.2.3h0m11.3 4.4h0m-12 .7h0m-4.1 1.9h0m17.3 1.6h0m3.8 1.7h0m-23.6.9h0"/><path stroke="#3a3ae0" stroke-opacity="0.75" stroke-width=".9" stroke-linecap="square" d="m237.2 327.3h0m-4.2.4h0m14.8 2.2h0m-2.7.7h0m2.8.1h0m-14.6.6h0m-1 .9h0m17.7.9h0m-24.1.4h0m.9 2.4h0m20 .3h0m-17.5.8h0m4.7.3h0m8.4.4h0m-.1.3h0m-5.3 0h0m-29.9.8h0m20.3 1h0m19.1 0h0m-15.2.6h0m-27.9.1h0m31.4.4h0m9.9.2h0m-11.3.8h0m14.3.9h0m-1.5.3h0m4.1.9h0m-8.7.1h0m-6.8.2h0m-4.7.5h0m3.1 0h0m14.4.2h0m7.1.6h0m-37.4 0h0m23.3.2h0m-10.1.1h0m-1 1.8h0m-11.9.3h0m13.2 1h0m2.4.1h0m11.1.2h0m-15 .7h0m7.8.9h0m14.1.3h0m-14.5 1.3h0m1.8.4h0m-8 0h0m.8 4.3h0m4.1 1.2h0m3.2 5.5h0"/><path stroke="#3a3ae0" stroke-opacity="1.00" stroke-width=".9" stroke-linecap="square" d="m247.3 329h0m-11.3.8h0m24.8.7h0m-15.5 2.5h0m-14.6 1.4h0m26.5 1.9h0m-12.8 1.3h0m-2.4.5h0m-3.3.1h0m2.8.9h0m-11.1 2.3h0m17.6 0h0m-4.2 2.3h0m-5.2.9h0m2.2 1.4h0m-12.1.2h0m.5.9h0m8.6 1.7h0m-1.4.2h0m4.1 3.2h0m-25.8 6.7h0"/><path stroke="#2020f0" stroke-opacity="0.30" stroke-width=".9" stroke-linecap="square" d="m223.5 320h0m.2 7.9h0"/><path stroke="#2020f0" stroke-opacity="0.50" stroke-width=".9" stroke-linecap="square" d="m221.7 311.2h0m2.3 2.9h0m.1 1h0m.2 2.6h0m.2 0h0m-.2.6h0m0 .9h0m.6 1.7h0m-1.1.7h0m1 0h0m-1.4 0h0m1.1 0h0m.7 1.8h0m.3.2h0m-2.2.2h0m.6.1h0m.1.7h0m-.6.3h0m.4 0h0m.3.1h0m0 .1h0m.9.2h0m-1.6.5h0m.1 1.3h0m.6.7h0m3.3.8h0m-2.9.6h0m2.5.6h0m-1.9.5h0m-.3 1h0m1.2.4h0m1.4.8h0m-1.6 1.1h0"/><path stroke="#2020f0" stroke-opacity="0.75" stroke-width=".9" stroke-linecap="square" d="m222.3 312.2h0m6.7 3.6h0m-6.1 0h0m1.4 4.7h0m.2.2h0m-.8 2.3h0m1.2.9h0m-1.5.7h0m1.4 1.3h0m-1.5 0h0m1.9 1.1h0m-1.4.7h0m2 1.3h0m.4 4.1h0"/><path stroke="#2020f0" stroke-opacity="1.00" stroke-width=".9" stroke-linecap="square" d="m223.6 315.2h0m.2.5h0m.5 1.7h0m-.4 1.5h0m1.8.3h0m-3 .3h0m2 .3h0m-1.2 2.5h0m1.5 3.6h0m.7 1.2h0m-1.7.1h0m.3.3h0m-.5.8h0m.3.5h0m0 .2h0m.9.5h0m.6.9h0"/><path stroke="#4848d8" stroke-opacity="0.50" stroke-width=".9" stroke-linecap="square" d="m218.9 287.2h0m2.6 1.4h0m-2 10.6h0m1.4.6h0m-.7 1.3h0m1.9 5.5h0m-.7 1h0m-2.9.1h0m1.3.7h0"/><path stroke="#4848d8" stroke-opacity="0.75" stroke-width=".9" stroke-linecap="square" d="m219.3 282.3h0m1.6 1.7h0m-1.1.8h0m-1 1.7h0m.4 2.1h0m2.2 2.5h0m-2.1 1.6h0m-.4 2.6h0m1.9 3.1h0m-.5 7.6h0m.2 4.2h0"/><path stroke="#4848d8" stroke-opacity="1.00" stroke-width=".9" stroke-linecap="square" d="m221.3 292h0m.3.1h0m.4 10.4h0m-3.6 1.4h0m2.5 3.5h0"/><path stroke="#9090c8" stroke-opacity="0.50" stroke-width=".9" stroke-linecap="square" d="m253.1 291.9h0m-13.5.9h0m16.9 19h0m-12.1 1.2h0m-11.5 23.3h0m27.1.1h0m-6.1 6h0m-20.1 1.5h0m1.3 15.3h0m1.6 8.6h0"/><path stroke="#9090c8" stroke-opacity="0.75" stroke-width=".9" stroke-linecap="square" d="m264 292.3h0m-18 7.4h0m15.7 6.7h0m-34.1 1.6h0m34.4 2.2h0m-15.9.6h0m8.5 11.4h0m-17.5.7h0m-8.2 14.5h0m18.7 22.2h0m-20.4 2.3h0m35.7 5.5h0m-14.5 5.2h0"/><path stroke="#9090c8" stroke-opacity="1.00" stroke-width=".9" stroke-linecap="square" d="m230 292.9h0m-3.5 11.6h0m18.2 6.6h0m18.9 35.2h0m-23.6 12h0m6.3 4.6h0m-7.7 7.7h0"/><path stroke="#a0a0c0" stroke-opacity="0.50" stroke-width=".9" stroke-linecap="square" d="m297.7 323.6h0m-24.1 6.7h0m22.5 11.1h0m-17.3 6h0m8 25.3h0"/><path stroke="#a0a0c0" stroke-opacity="0.75" stroke-width=".9" stroke-linecap="square" d="m269.5 315.3h0m6.8 35.9h0m15.6 2.9h0"/><path stroke="#a0a0c0" stroke-opacity="1.00" stroke-width=".9" stroke-linecap="square" d="m293.8 307.9h0m-25.5 7.6h0m25.9 3.9h0m-14.6 36.5h0"/></g><rect x="212.6" y="271.8" width="17.7" height="41.4" fill="none" stroke="#222" stroke-width="0.8"/><rect x="193.2" y="267.7" width="112.7" height="110.8" fill="none" stroke="#555" stroke-width=".8"/><path stroke="#333" stroke-width=".8" fill="none" d="M201.5 378.5v2.6M219.8 378.5v2.6M242.5 378.5v2.6M271.5 378.5v2.6M297.5 378.5v2.6M203.33 378.5v1.4M205.16 378.5v1.4M206.99 378.5v1.4M208.82 378.5v1.4M210.65 378.5v1.4M212.48 378.5v1.4M214.31 378.5v1.4M216.14 378.5v1.4M217.97 378.5v1.4M222.07 378.5v1.4M224.34 378.5v1.4M226.61 378.5v1.4M228.88 378.5v1.4M231.15 378.5v1.4M233.42 378.5v1.4M235.69 378.5v1.4M237.96 378.5v1.4M240.23 378.5v1.4M251.23 378.5v1.4M256.34 378.5v1.4M259.96 378.5v1.4M262.77 378.5v1.4M265.07 378.5v1.4M267.01 378.5v1.4M268.69 378.5v1.4M270.17 378.5v1.4M279.33 378.5v1.4M283.91 378.5v1.4M287.15 378.5v1.4M289.67 378.5v1.4M291.73 378.5v1.4M293.47 378.5v1.4M294.98 378.5v1.4M296.31 378.5v1.4M305.33 378.5v1.4M309.91 378.5v1.4M193.2 374.7h-2.6M193.2 354.2h-2.6M193.2 334.4h-2.6M193.2 303.7h-2.6M193.2 277.5h-2.6M193.2 372.65h-1.4M193.2 370.6h-1.4M193.2 368.55h-1.4M193.2 366.5h-1.4M193.2 364.45h-1.4M193.2 362.4h-1.4M193.2 360.35h-1.4M193.2 358.3h-1.4M193.2 356.25h-1.4M193.2 352.22h-1.4M193.2 350.24h-1.4M193.2 348.26h-1.4M193.2 346.28h-1.4M193.2 344.3h-1.4M193.2 342.32h-1.4M193.2 340.34h-1.4M193.2 338.36h-1.4M193.2 336.38h-1.4M193.2 325.16h-1.4M193.2 319.75h-1.4M193.2 315.92h-1.4M193.2 312.94h-1.4M193.2 310.51h-1.4M193.2 308.46h-1.4M193.2 306.68h-1.4M193.2 305.1h-1.4M193.2 295.81h-1.4M193.2 291.2h-1.4M193.2 287.93h-1.4M193.2 285.39h-1.4M193.2 283.31h-1.4M193.2 281.56h-1.4M193.2 280.04h-1.4M193.2 278.7h-1.4M193.2 269.61h-1.4M193.2 265h-1.4"/><text x="201.5" y="389.3" text-anchor="middle" font-size="4.6" fill="#111" stroke="#111" stroke-width="0.14">-10<tspan dy="-2.4" font-size="3.68">3</tspan></text><text x="219.8" y="389.3" text-anchor="middle" font-size="4.6" fill="#111" stroke="#111" stroke-width="0.14">0</text><text x="242.5" y="389.3" text-anchor="middle" font-size="4.6" fill="#111" stroke="#111" stroke-width="0.14">10<tspan dy="-2.4" font-size="3.68">3</tspan></text><text x="271.5" y="389.3" text-anchor="middle" font-size="4.6" fill="#111" stroke="#111" stroke-width="0.14">10<tspan dy="-2.4" font-size="3.68">4</tspan></text><text x="297.5" y="389.3" text-anchor="middle" font-size="4.6" fill="#111" stroke="#111" stroke-width="0.14">10<tspan dy="-2.4" font-size="3.68">5</tspan></text><text x="188.2" y="378.1" text-anchor="end" font-size="4.6" fill="#111" stroke="#111" stroke-width="0.14">-10<tspan dy="-2.4" font-size="3.68">3</tspan></text><text x="184.7" y="357.6" text-anchor="end" font-size="4.6" fill="#111" stroke="#111" stroke-width="0.14">0</text><text x="188.2" y="337.8" text-anchor="end" font-size="4.6" fill="#111" stroke="#111" stroke-width="0.14">10<tspan dy="-2.4" font-size="3.68">3</tspan></text><text x="188.2" y="307.1" text-anchor="end" font-size="4.6" fill="#111" stroke="#111" stroke-width="0.14">10<tspan dy="-2.4" font-size="3.68">4</tspan></text><text x="188.2" y="280.9" text-anchor="end" font-size="4.6" fill="#111" stroke="#111" stroke-width="0.14">10<tspan dy="-2.4" font-size="3.68">5</tspan></text><rect x="189.9" y="350.8" width="3.3" height="5.5" fill="#111" fill-opacity="0.85"/><rect x="215" y="378.7" width="4.5" height="2.2" fill="#111" fill-opacity="0.85"/><text x="249" y="399.3" text-anchor="middle" font-size="10.15">BG505 SOSIP+PGT145 Fab</text><text x="249.6" y="410.1" text-anchor="middle" font-size="10.15">(AF647)</text><text transform="translate(173.6 323.8) rotate(-90)" text-anchor="middle" font-size="10.15">BG505 SOSIP &#160;(PE)</text>
<clipPath id="c7"><rect x="350.5" y="265.4" width="112.7" height="113.1"/></clipPath><g clip-path="url(#c7)"><g filter="url(#bl)"><path fill="#0000ff" fill-rule="evenodd" d="M376.5 306.5l-1.3 1.3-.4 10 0 41.4.4 4.6 1 1 1 0 2.6-2 4.4-8.6.6-2.4.7-7.6-5.3-18-1.4-18.7-1.3-1z"/><path fill="#0010ff" fill-rule="evenodd" d="M376.5 334.8l-1.7 1 0 23.4.4 4.6 1 1 1.6-.3 2-1.7 4.7-9.6-.3-7-1.4-5.4-1.6-3.3-2.4-2.3z"/><path fill="#0020ff" fill-rule="evenodd" d="M378.2 338.5l-2 0-1.4 1 0 19.7.4 4.6 1 1 1.6-.3 2-1.7 3-6.6 0-8.4-.6-3.3-1.4-3.3z"/><path fill="#0036ff" fill-rule="evenodd" d="M377.2 340.2l-1.7.6-.7 1 0 17.4.4 3.6 2.3 1 2-1.3 2-4.3.7-3.7 0-5-.7-3.7-1.3-3.3-1.4-1.7z"/><path fill="#0052ff" fill-rule="evenodd" d="M376.5 341.8l-1.7 1.7 0 15.7.4 2 1.3 1 1.3 0 1.7-1.4 1.3-3 .7-3 0-5.3-.7-3.3-1.3-3-1.7-1.4z"/><path fill="#006eff" fill-rule="evenodd" d="M376.5 343.2l-1.7 1.6 0 14.4 1 1.3 2 .3 1.4-1 1.3-2.6.7-2.4 0-3.6-.7-4-1.3-3-1.4-1z"/><path fill="#0092ff" fill-rule="evenodd" d="M377.5 344.2l-1.3.3-1.4 2 0 12.3 1.4 1 2.6-.6 2-4 0-4.4-1.6-5.3z"/><path fill="#00b6ff" fill-rule="evenodd" d="M377.2 345.2l-2.4 2.3 0 11 1.7 1 1.7-.3 1.3-1.4 1.3-4.6-1.3-5.4-.7-1.3z"/><path fill="#00dafa" fill-rule="evenodd" d="M377.8 346.5l-1.3 0-1.7 1.7 0 9.6 1.7 1.4 1.7-.4 1-1 1.3-3.3-.3-4.3z"/><path fill="#00fff0" fill-rule="evenodd" d="M376.5 347.2l-1.7 1.3 0 9 1 1 1.4.3 1.3-.6 1.3-2 .4-5.4-1-2.3z"/><path fill="#00ffbe" fill-rule="evenodd" d="M376.5 347.5l-1.7 1.3 0 8.4 1 1 1.4.3 1.6-1 1-2 .4-3.3-1.4-3.7z"/><path fill="#00ff8c" fill-rule="evenodd" d="M376.5 347.8l-1.7 1.4 0 7.6 1 1 1.7.4 1.3-1 .7-1.4.3-4.6-1-2.4-1.3-1z"/><path fill="#00ff57" fill-rule="evenodd" d="M376.5 348.2l-1.7 1.3 0 7 1 1 1.7.3 1.7-1.6.6-4-1.3-3.4z"/><path fill="#00ff2d" fill-rule="evenodd" d="M376.2 348.5l-1.4 1.3 0 6.4 1.4 1.3 1.3 0 1-.7 1-2 0-3.6-1.3-2.4z"/><path fill="#00ff0f" fill-rule="evenodd" d="M376.2 348.8l-1.4 1.7 0 5 1.4 1.7 1.3 0 1-.7.7-1.3.3-3-1-2.7-1-.7z"/><path fill="#12ff00" fill-rule="evenodd" d="M376.8 348.8l-2 2 0 4.4 2 2 1.7-1 .7-1.7-.4-4-1-1.3z"/><path fill="#36ff00" fill-rule="evenodd" d="M376.5 349.2l-1.7 2 0 3.6 1.7 2 .7 0 1.6-1.6.4-3-.7-2z"/><path fill="#5aff00" fill-rule="evenodd" d="M376.5 349.5l-1.3 1.3-.4 3.4 1 2 1.7.3 1.3-2 0-3-1.3-2z"/><path fill="#b2ff00" fill-rule="evenodd" d="M376.5 349.8l-1.3 1.7 0 3 .6 1.3 1.7.4 1-1.4.3-2.6-.6-1.7-.7-.7z"/><path fill="#e9f000" fill-rule="evenodd" d="M376.2 350.2l-1 2 0 1.6 1 2 1.3 0 1-1.3 0-3-1-1.3z"/><path fill="#ffcf00" fill-rule="evenodd" d="M376.2 350.5l-.7 1 0 3 .7 1 1.3 0 1-1.7 0-1.6-1-1.7z"/><path fill="#ffa000" fill-rule="evenodd" d="M376.8 350.5l-1.3 1.7 0 1.6 1.3 1.7 1.4-1.3 0-2.4z"/><path fill="#ff7200" fill-rule="evenodd" d="M376.8 350.8l-1 1 0 2.4 1 1 1-.7.4-1-.4-2z"/><path fill="#fd4900" fill-rule="evenodd" d="M376.5 351.5l-.7 1.7.7 1.3 1 0 .3-2.3-.3-.7z"/><path fill="#f72f00" fill-rule="evenodd" d="M376.5 351.8l-.3 1.7.3.7.7 0 .3-2z"/><path fill="#f01400" fill-rule="evenodd" d="M376.8 352.5l-.3.7.7.3z"/></g><path stroke="#1c1cf0" stroke-opacity="0.30" stroke-width=".9" stroke-linecap="square" d="m389.9 334.9h0m-2.7 1.8h0m15.2.7h0m-12.6.6h0m-.5 3.3h0m17.9.8h0m-19.5 2.6h0m1.6 1.4h0m3.3.2h0m.3.9h0m-1.5 1.5h0m1.9 1.9h0m-4.7.7h0"/><path stroke="#1c1cf0" stroke-opacity="0.50" stroke-width=".9" stroke-linecap="square" d="m396.7 328.4h0m-12.2.2h0m19.5.3h0m-8.7 2.4h0m7.8.6h0m-6.8.6h0m4 .5h0m-1.3.2h0m-4.2 0h0m-10.2 0h0m6.1.4h0m8 .2h0m-.5.1h0m-3.8.1h0m-.1.1h0m1.4 1.3h0m.5.2h0m-11.8.3h0m1.9.1h0m7.3.2h0m4.6 0h0m-3.2 1.5h0m-8.4.3h0m.8 0h0m.8.1h0m-3.2 0h0m5.9 0h0m-.3.1h0m-6.3.1h0m1.9 0h0m2.9 0h0m1.2.1h0m9.5.2h0m-12.3 0h0m1.6 0h0m10.3 0h0m2.1.1h0m-8.5 0h0m-3.9.1h0m3.3.1h0m-2.5 0h0m2.7.1h0m-1.3.3h0m-6.6.1h0m4.7 0h0m16.6.4h0m-11 0h0m6.3 0h0m-8.7 0h0m-8.2.1h0m3.2.3h0m1.8.1h0m5.6 0h0m-6.4.2h0m5.2.1h0m-8.6 0h0m8.7 0h0m-7.8 0h0m3 .4h0m1.4 0h0m-.5 0h0m12.4 0h0m-8.1.2h0m-8.9 0h0m15.8.2h0m-15.3.1h0m7.8.1h0m-2.4.1h0m0 0h0m-3.5.2h0m2.7.5h0m-1.2.1h0m-.2.1h0m3.5 0h0m1.8 0h0m-5.8.1h0m-2.1.1h0m5.1.1h0m2.6 0h0m1.1.1h0m-3.2.2h0m3 0h0m-5.7 0h0m3.6.1h0m14.9 0h0m-15.8 0h0m-2.9.3h0m-2.6.2h0m4.8.1h0m14 0h0m-5.8 0h0m-9.2.7h0m5.6 0h0m-1.4.1h0m-1.5.2h0m-5.9.1h0m1.6 0h0m4.1 0h0m-1.9 0h0m-4.4.1h0m12.5.2h0m-9.6.1h0m-1.6.2h0m-.3 0h0m15.8.1h0m-17.9.4h0m3.8.2h0m-2.7.1h0m5.4.1h0m-4.4 0h0m1.5.3h0m.3.3h0m7.1 0h0m4.6.2h0m-14.7.1h0m2.8 0h0m1.6.2h0m4.6.1h0m-3.9.1h0m1.7.2h0m.7.5h0m-4.3.1h0m-.7 0h0m-1.7.1h0m-.1.2h0m3 0h0m-4.3 0h0m6 .1h0m-.2.1h0m1.4.3h0m-2 .3h0m-1.9 0h0m1 .1h0m5.2 0h0m-10 0h0m6 .1h0m5.6 0h0m-1.7.1h0m-.8.3h0m5 .1h0m-6.5.3h0m3.3.3h0m-7.1 0h0m8.3.1h0m-3.9 0h0m-1.1.3h0m-5.7.1h0m2.6 0h0m-3.7.1h0m-.2.4h0m2.5.4h0m8.1.4h0m-5.8.1h0m7.7.5h0m-4.4.1h0m-3.2.2h0m-4.8.3h0m4.5.3h0m.9.4h0m4.4.3h0m-1 1.1h0m-8.7.4h0m.5.1h0m-1.7.2h0m7 .1h0m-.9 1.3h0m3.3.1h0m-4.8.4h0m-1.4 1.1h0m-5 1.7h0"/><path stroke="#1c1cf0" stroke-opacity="0.75" stroke-width=".9" stroke-linecap="square" d="m401.5 324.6h0m-13.9 5.3h0m2.9 1.9h0m5 .5h0m-6.3 0h0m13.9.7h0m-15.6 1.1h0m6.8.2h0m-8.1.3h0m-1.5.2h0m-.1.8h0m11.6.2h0m1.7.2h0m-10.4.3h0m2.4.2h0m2 0h0m7.7.4h0m-14.5 0h0m14.3 0h0m-6.3.1h0m-7.7.4h0m10 .1h0m-8.4.2h0m15.1.3h0m-6.1.1h0m5.1.1h0m8.5 0h0m-21.9.1h0m7.6.2h0m8.2 0h0m-16.6.3h0m4.5.3h0m6.7 0h0m-5.1.2h0m-8.6 0h0m8.8.2h0m2.7.2h0m-5 .1h0m-.2.2h0m1.4.2h0m-5.1.1h0m10.1.1h0m-6.3.1h0m.4 0h0m-3 0h0m2.4.1h0m18.2 0h0m-14.4 0h0m-4.1.3h0m1 .6h0m4.1.1h0m-5.1.1h0m2.1 0h0m-3 .1h0m2.6.1h0m-2 .7h0m-1.4 0h0m.2.1h0m3.3.1h0m-.4.3h0m-4 .1h0m-1.3 0h0m11.2 0h0m-11 .5h0m7 0h0m3.2 0h0m-8.4.2h0m5.8 0h0m-5.2.2h0m-.7.1h0m2.2 0h0m1.2.3h0m-5.8.3h0m6 .1h0m-.4 0h0m-.7 0h0m1.2.2h0m-6 0h0m8.3.1h0m-7.4.2h0m7.5 0h0m-5.8 0h0m.2.1h0m7.8 0h0m-7.3.1h0m1.5 0h0m-1.6.2h0m5.6 0h0m3.2.1h0m-8.2 0h0m-.3.1h0m-.8.1h0m.3.1h0m3.9 0h0m-4.5.1h0m12.5.2h0m-3 .3h0m-12.3.1h0m12.5.1h0m-8.8 0h0m9.6 0h0m2.5.1h0m-4.3.1h0m-1.9.9h0m-1.2.2h0m-.8 0h0m-3.8.3h0m.9.2h0m-2.4.3h0m-1.5 0h0m8.3.1h0m-9.4 0h0m1.6.3h0m6.2 0h0m2.9.3h0m5.8 0h0m-8 .1h0m-4.1.5h0m2 0h0m3.4.5h0m-10.1.1h0m2.3.4h0m1.8.1h0m-2.5.4h0m3.2.7h0m9.1 0h0m-12.9.4h0m.6.3h0m4.9.2h0m.3 0h0m-.6 1.2h0m-3.7 1.3h0m1.1.1h0m-4 .2h0m7.3 1.7h0m1.3.6h0m-2.1.5h0m-6.9.8h0m.8 1.6h0"/><path stroke="#1c1cf0" stroke-opacity="1.00" stroke-width=".9" stroke-linecap="square" d="m394.3 330.4h0m3.8 1.2h0m-14.1.2h0m4.1.3h0m5.2.1h0m-4.8.1h0m4.4 1.9h0m-9.4 1.5h0m6.7.2h0m-6.4.3h0m9.1 0h0m-7.4.5h0m.5.6h0m3.7.2h0m-5.7.1h0m1.9 0h0m-1.4.4h0m1.5.4h0m10.8.2h0m-4.6.1h0m-7.5.1h0m5.6 0h0m-5.7.1h0m4.8.6h0m-3.7.5h0m9.1.1h0m-6.7.1h0m.4.1h0m-1.5.2h0m-1.3.2h0m7.4 0h0m3.1 0h0m-6.7.3h0m16.8.7h0m-18.8.4h0m2.2.1h0m8.9.3h0m-12.3 0h0m.1.6h0m2.1 0h0m7.6 0h0m-2.6.1h0m-7.3 0h0m6.1.1h0m-5.6.2h0m5.1.1h0m-4.1.1h0m11.4.1h0m-10.8.1h0m-.7.9h0m1 .3h0m-1.3 0h0m2.2 0h0m.7.1h0m9.3.4h0m1.4.3h0m-14.6.5h0m9.2.1h0m-1.6.5h0m9.5.6h0m-11 .3h0m1.9.1h0m-7.8.4h0m-.6.3h0m8.4.1h0m-4.8 0h0m-2.1.1h0m2.8.1h0m.6.8h0m4 .5h0m-9.5.3h0m10.4.1h0m-7.2.1h0m20.2 1.4h0m-19.7.2h0m-1.6.4h0m8.2.8h0m3.7 2.1h0"/><path stroke="#3a3ae0" stroke-opacity="0.30" stroke-width=".9" stroke-linecap="square" d="m388 330.4h0m22.1 2.3h0m-16.4 9.2h0m-5.8 10h0"/><path stroke="#3a3ae0" stroke-opacity="0.50" stroke-width=".9" stroke-linecap="square" d="m406.2 311h0m-3.8 10.2h0m-19 4.2h0m28.5 3.7h0m-3.8 1.1h0m1.4.1h0m-11.1.6h0m1.3.8h0m-4.8.6h0m4.1.1h0m-2.4 1.3h0m-11.5.4h0m11.1 1.1h0m-12.3.4h0m25.8.1h0m-9 1.1h0m-29.8.4h0m20.6.2h0m-2.4.7h0m18.4.8h0m-18.2.3h0m17 .3h0m.8.5h0m-10 1.2h0m-8.7.2h0m8.7.3h0m-6.9.1h0m3.7.2h0m15 .1h0m-10.2.1h0m-12.2.6h0m19.3.2h0m-8.4.9h0m-3.2 1h0m12.9 1.8h0m-5.2.3h0m-3.6.2h0m-26.3.1h0m16.2.9h0m-2.7.8h0m-11.5 1.7h0m26.5 1h0m-27 0h0m.4 1.5h0m-7.8 2.3h0m27.1 2.8h0m-25.3 5.4h0"/><path stroke="#3a3ae0" stroke-opacity="0.75" stroke-width=".9" stroke-linecap="square" d="m401.5 322.6h0m-6.2 3.3h0m23.1.1h0m-29.4 1.1h0m2.4.3h0m2 2.2h0m8.5 1.4h0m-5.4.2h0m-34.9 3.1h0m29.2.6h0m1.9.2h0m5.7 0h0m18.4.3h0m-10.5 1h0m-5.6.6h0m-17.3 0h0m-11.9.1h0m14.3 1.2h0m6.4.1h0m18.5 0h0m-21.6 1.1h0m31.9.1h0m-15.2.2h0m-18.2.2h0m-1.8.4h0m8 .1h0m1.1 0h0m-.9 0h0m19.8.1h0m-20 .5h0m-5.1.1h0m30.5.3h0m-26.5.4h0m8.1 1.3h0m-5.6 1.4h0m1 .8h0m-2.6 1.3h0m-3.5 1h0m16.4.5h0m-3.1 0h0m19 .6h0m-21.4.2h0m0 .1h0m-9.3.9h0m16.7.2h0m-17.5.3h0m.2.1h0m14.6.2h0m-10.5 1.3h0m.1.5h0m1.2.7h0m-6.4.2h0m3.7.1h0m-20.5 0h0m41.6 5.1h0"/><path stroke="#3a3ae0" stroke-opacity="1.00" stroke-width=".9" stroke-linecap="square" d="m411.3 324.2h0m-4.1 1.2h0m-5.4.5h0m-16.8 1.3h0m-2.1 1.5h0m19 1.1h0m-12.8 3.2h0m15.9 1.2h0m-15.6.2h0m5.8.9h0m4.2.3h0m16 .5h0m-9 2.5h0m-19.6.4h0m-.9 1.1h0m1.9.3h0m36 2h0m-31.7.9h0m16.7 2h0m-4.9.1h0m-1.9.4h0m7 .6h0m-17.2 2h0m13.6.9h0m-40.9 1.5h0m27.3 9.9h0m-10.3.7h0"/><path stroke="#2020f0" stroke-opacity="0.30" stroke-width=".9" stroke-linecap="square" d="m380.5 316.3h0m.9 8.8h0"/><path stroke="#2020f0" stroke-opacity="0.50" stroke-width=".9" stroke-linecap="square" d="m382 308.8h0m-2.2.6h0m0 1.5h0m2.3 4h0m-1.7 2.5h0m2 .7h0m-.4 1.4h0m.7.1h0m-2.4.1h0m.7 1.6h0m0 .1h0m.7 1.3h0m.2 1.2h0m-.5 1.4h0m.5.7h0m-1.2.1h0m.4.1h0m1.1.2h0m0 .1h0m-.6.1h0m.4.2h0m.6 2.6h0m0 0h0m.4 4h0m.1 1.1h0m-2.4 28.4h0"/><path stroke="#2020f0" stroke-opacity="0.75" stroke-width=".9" stroke-linecap="square" d="m379.5 296.7h0m2.3 16.1h0m-1.7 3.8h0m1.1 1.6h0m-1.3.7h0m2.4.3h0m-1.2 1.8h0m.4 1.1h0m.3.5h0m.8.1h0m-.6.6h0m.4.2h0m-.5 1.1h0m.5.7h0m-.3 1.7h0m.1 1.1h0m-.8.1h0m2.1 3.1h0m2.3 3.3h0m-4.6 27.6h0"/><path stroke="#2020f0" stroke-opacity="1.00" stroke-width=".9" stroke-linecap="square" d="m380.5 312.8h0m3.6 4h0m-3.2 0h0m-.8.8h0m-.3.2h0m-.1.9h0m1.5 1.9h0m-.5 1.6h0m1.9 1.1h0m-2.1 2.3h0m.2 1.2h0m.6.4h0m.9.7h0m-1.1.6h0m.7.3h0m1.6.7h0m.2 26.7h0m-1.2 8.9h0"/><path stroke="#4848d8" stroke-opacity="0.50" stroke-width=".9" stroke-linecap="square" d="m377.5 289.2h0m1.5 3.7h0m.4.9h0m-2.3.2h0m-1.2.2h0m1.3 2.8h0"/><path stroke="#4848d8" stroke-opacity="0.75" stroke-width=".9" stroke-linecap="square" d="m377.4 281.1h0m-1.4 2.9h0m2.7.8h0m-.5 6.7h0m-1.2 1.4h0m.2 4.4h0m-.6.2h0m.5 4.2h0m-1.3 1.3h0m3.3.4h0m-2 .1h0"/><path stroke="#4848d8" stroke-opacity="1.00" stroke-width=".9" stroke-linecap="square" d="m378.1 283.9h0m-1.2 3.1h0m-.7.5h0m2.8 1.6h0m-1.7 7.3h0m1 2h0m.7.5h0m-1.2 5.8h0"/><path stroke="#9090c8" stroke-opacity="0.50" stroke-width=".9" stroke-linecap="square" d="m416.4 289h0m-13.5.6h0m-5 2.9h0m-1.4 6.2h0m19.1 2.3h0m3 4h0m-22.5 1.1h0m7.9 8.5h0m-17.7.8h0m35.3 15.8h0m-30.8 2.4h0m20.8 10.4h0m-22.9 1.6h0m25.1 7.9h0m-5.3 13.1h0m7.6.7h0"/><path stroke="#9090c8" stroke-opacity="0.75" stroke-width=".9" stroke-linecap="square" d="m416.5 302.4h0m-12.6.6h0m-8.9 12.2h0m-1.9 13h0m-10.9.6h0m34 18.6h0m-1.9.2h0m-6.5 2.2h0m-.5 1.2h0m-22.6 6.6h0m34 4h0m-12.1 9.6h0"/><path stroke="#9090c8" stroke-opacity="1.00" stroke-width=".9" stroke-linecap="square" d="m408.2 309.1h0m-2 62.1h0"/><path stroke="#a0a0c0" stroke-opacity="0.50" stroke-width=".9" stroke-linecap="square" d="m445 338.6h0m-11.3 7.1h0m12.7 14h0m2.5 5.4h0m-18.9 3.7h0"/><path stroke="#a0a0c0" stroke-opacity="0.75" stroke-width=".9" stroke-linecap="square" d="m450.7 302.4h0m-18 24.2h0m21.6 1.8h0m-10.1 22.9h0m-.9 17.9h0"/><path stroke="#a0a0c0" stroke-opacity="1.00" stroke-width=".9" stroke-linecap="square" d="m437.9 364.9h0m-4.3 5.6h0"/></g><rect x="369.6" y="271.6" width="18" height="38.7" fill="none" stroke="#222" stroke-width="0.8"/><rect x="350.5" y="265.4" width="112.7" height="113.1" fill="none" stroke="#555" stroke-width=".8"/><path stroke="#333" stroke-width=".8" fill="none" d="M358.5 378.5v2.6M376.9 378.5v2.6M399.5 378.5v2.6M428.5 378.5v2.6M454.5 378.5v2.6M360.34 378.5v1.4M362.18 378.5v1.4M364.02 378.5v1.4M365.86 378.5v1.4M367.7 378.5v1.4M369.54 378.5v1.4M371.38 378.5v1.4M373.22 378.5v1.4M375.06 378.5v1.4M379.16 378.5v1.4M381.42 378.5v1.4M383.68 378.5v1.4M385.94 378.5v1.4M388.2 378.5v1.4M390.46 378.5v1.4M392.72 378.5v1.4M394.98 378.5v1.4M397.24 378.5v1.4M408.23 378.5v1.4M413.34 378.5v1.4M416.96 378.5v1.4M419.77 378.5v1.4M422.07 378.5v1.4M424.01 378.5v1.4M425.69 378.5v1.4M427.17 378.5v1.4M436.33 378.5v1.4M440.91 378.5v1.4M444.15 378.5v1.4M446.67 378.5v1.4M448.73 378.5v1.4M450.47 378.5v1.4M451.98 378.5v1.4M453.31 378.5v1.4M462.33 378.5v1.4M466.91 378.5v1.4M350.5 374.7h-2.6M350.5 353.7h-2.6M350.5 333.7h-2.6M350.5 303h-2.6M350.5 277.5h-2.6M350.5 372.6h-1.4M350.5 370.5h-1.4M350.5 368.4h-1.4M350.5 366.3h-1.4M350.5 364.2h-1.4M350.5 362.1h-1.4M350.5 360h-1.4M350.5 357.9h-1.4M350.5 355.8h-1.4M350.5 351.7h-1.4M350.5 349.7h-1.4M350.5 347.7h-1.4M350.5 345.7h-1.4M350.5 343.7h-1.4M350.5 341.7h-1.4M350.5 339.7h-1.4M350.5 337.7h-1.4M350.5 335.7h-1.4M350.5 324.46h-1.4M350.5 319.05h-1.4M350.5 315.22h-1.4M350.5 312.24h-1.4M350.5 309.81h-1.4M350.5 307.76h-1.4M350.5 305.98h-1.4M350.5 304.4h-1.4M350.5 295.32h-1.4M350.5 290.83h-1.4M350.5 287.65h-1.4M350.5 285.18h-1.4M350.5 283.16h-1.4M350.5 281.45h-1.4M350.5 279.97h-1.4M350.5 278.67h-1.4M350.5 269.82h-1.4M350.5 265.33h-1.4"/><text x="358.5" y="389.3" text-anchor="middle" font-size="4.6" fill="#111" stroke="#111" stroke-width="0.14">-10<tspan dy="-2.4" font-size="3.68">3</tspan></text><text x="376.9" y="389.3" text-anchor="middle" font-size="4.6" fill="#111" stroke="#111" stroke-width="0.14">0</text><text x="399.5" y="389.3" text-anchor="middle" font-size="4.6" fill="#111" stroke="#111" stroke-width="0.14">10<tspan dy="-2.4" font-size="3.68">3</tspan></text><text x="428.5" y="389.3" text-anchor="middle" font-size="4.6" fill="#111" stroke="#111" stroke-width="0.14">10<tspan dy="-2.4" font-size="3.68">4</tspan></text><text x="454.5" y="389.3" text-anchor="middle" font-size="4.6" fill="#111" stroke="#111" stroke-width="0.14">10<tspan dy="-2.4" font-size="3.68">5</tspan></text><text x="345.5" y="378.1" text-anchor="end" font-size="4.6" fill="#111" stroke="#111" stroke-width="0.14">-10<tspan dy="-2.4" font-size="3.68">3</tspan></text><text x="342" y="357.1" text-anchor="end" font-size="4.6" fill="#111" stroke="#111" stroke-width="0.14">0</text><text x="345.5" y="337.1" text-anchor="end" font-size="4.6" fill="#111" stroke="#111" stroke-width="0.14">10<tspan dy="-2.4" font-size="3.68">3</tspan></text><text x="345.5" y="306.4" text-anchor="end" font-size="4.6" fill="#111" stroke="#111" stroke-width="0.14">10<tspan dy="-2.4" font-size="3.68">4</tspan></text><text x="345.5" y="280.9" text-anchor="end" font-size="4.6" fill="#111" stroke="#111" stroke-width="0.14">10<tspan dy="-2.4" font-size="3.68">5</tspan></text><rect x="347.2" y="350.8" width="3.3" height="5.5" fill="#111" fill-opacity="0.85"/><rect x="372.1" y="378.7" width="4.5" height="2.2" fill="#111" fill-opacity="0.85"/><text x="410" y="399.3" text-anchor="middle" font-size="10.15">BG505 SOSIP+PGT151 Fab</text><text x="411.3" y="410.1" text-anchor="middle" font-size="10.15">(AF647)</text><text transform="translate(331.2 329.5) rotate(-90)" text-anchor="middle" font-size="10.15">BG505 SOSIP &#160;(PE)</text>
<clipPath id="c8"><rect x="510.7" y="265.4" width="112.7" height="113.1"/></clipPath><g clip-path="url(#c8)"><g filter="url(#bl)"><path fill="#0000ff" fill-rule="evenodd" d="M536.5 307.8l-1.3 1.4-.4 9.3 0 40.7.4 4.6 1 1 1 0 2.6-2 1.7-3.6 1.3-5.4.7-10.3-3.3-17-1-16.3-1-2z"/><path fill="#0010ff" fill-rule="evenodd" d="M536.5 334.8l-1.7 1 0 23.4.4 4.6 1 1 1 0 1.6-1 2.4-3.6 1.6-6.4.7-7.6-.7-5.4-1.6-3.3-2.4-2.3z"/><path fill="#0020ff" fill-rule="evenodd" d="M538.2 338.5l-2 0-1.4 1 0 19.7.4 4.6 1 1 1.6-.3 2-1.7 1.4-2.6 1.6-6.4 0-6-.6-3.3-1.4-3.3z"/><path fill="#0036ff" fill-rule="evenodd" d="M537.2 340.2l-1.7.6-.7 1 0 17.4.4 3.6 2.3 1 2-1.3 2-4.3.7-3.7 0-5-.7-3.7-1.3-3.3-1.4-1.7z"/><path fill="#0052ff" fill-rule="evenodd" d="M536.5 341.8l-1.7 1.7 0 15.7.4 2 1.3 1 1.3 0 1.7-1.4 1.3-3 .7-3 0-5.3-.7-3.3-1.3-3-1.7-1.4z"/><path fill="#006eff" fill-rule="evenodd" d="M536.5 343.2l-1.7 1.6 0 14.4 1 1.3 2 .3 1.4-1 1.3-2.6.7-2.4 0-3.6-.7-4-1.3-3-1.4-1z"/><path fill="#0092ff" fill-rule="evenodd" d="M537.5 344.2l-1.3.3-1.4 2 0 12.3 1.4 1 2.6-.6 2-4 0-4.4-1.6-5.3z"/><path fill="#00b6ff" fill-rule="evenodd" d="M537.2 345.2l-2.4 2.3 0 11 1.7 1 1.7-.3 1.3-1.4 1.3-4.6-1.3-5.4-.7-1.3z"/><path fill="#00dafa" fill-rule="evenodd" d="M537.8 346.5l-1.3 0-1.7 1.7 0 9.6 1.7 1.4 1.7-.4 1-1 1.3-3.3-.3-4.3z"/><path fill="#00fff0" fill-rule="evenodd" d="M536.5 347.2l-1.7 1.3 0 9 1 1 1.4.3 1.3-.6 1.3-2 .4-5.4-1-2.3z"/><path fill="#00ffbe" fill-rule="evenodd" d="M536.5 347.5l-1.7 1.3 0 8.4 1 1 1.4.3 1.6-1 1-2 .4-3.3-1.4-3.7z"/><path fill="#00ff8c" fill-rule="evenodd" d="M536.5 347.8l-1.7 1.4 0 7.6 1 1 1.7.4 1.3-1 .7-1.4.3-4.6-1-2.4-1.3-1z"/><path fill="#00ff57" fill-rule="evenodd" d="M536.5 348.2l-1.7 1.3 0 7 1 1 1.7.3 1.7-1.6.6-4-1.3-3.4z"/><path fill="#00ff2d" fill-rule="evenodd" d="M536.2 348.5l-1.4 1.3 0 6.4 1.4 1.3 1.3 0 1-.7 1-2 0-3.6-1.3-2.4z"/><path fill="#00ff0f" fill-rule="evenodd" d="M536.2 348.8l-1.4 1.7 0 5 1.4 1.7 1.3 0 1-.7.7-1.3.3-3-1-2.7-1-.7z"/><path fill="#12ff00" fill-rule="evenodd" d="M536.8 348.8l-2 2 0 4.4 2 2 1.7-1 .7-1.7-.4-4-1-1.3z"/><path fill="#36ff00" fill-rule="evenodd" d="M536.5 349.2l-1.7 2 0 3.6 1.7 2 .7 0 1.6-1.6.4-3-.7-2z"/><path fill="#5aff00" fill-rule="evenodd" d="M536.5 349.5l-1.3 1.3-.4 3.4 1 2 1.7.3 1.3-2 0-3-1.3-2z"/><path fill="#b2ff00" fill-rule="evenodd" d="M536.5 349.8l-1.3 1.7 0 3 .6 1.3 1.7.4 1-1.4.3-2.6-.6-1.7-.7-.7z"/><path fill="#e9f000" fill-rule="evenodd" d="M536.2 350.2l-1 2 0 1.6 1 2 1.3 0 1-1.3 0-3-1-1.3z"/><path fill="#ffcf00" fill-rule="evenodd" d="M536.2 350.5l-.7 1 0 3 .7 1 1.3 0 1-1.7 0-1.6-1-1.7z"/><path fill="#ffa000" fill-rule="evenodd" d="M536.8 350.5l-1.3 1.7 0 1.6 1.3 1.7 1.4-1.3 0-2.4z"/><path fill="#ff7200" fill-rule="evenodd" d="M536.8 350.8l-1 1 0 2.4 1 1 1-.7.4-1-.4-2z"/><path fill="#fd4900" fill-rule="evenodd" d="M536.5 351.5l-.7 1.7.7 1.3 1 0 .3-2.3-.3-.7z"/><path fill="#f72f00" fill-rule="evenodd" d="M536.5 351.8l-.3 1.7.3.7.7 0 .3-2z"/><path fill="#f01400" fill-rule="evenodd" d="M536.8 352.5l-.3.7.7.3z"/></g><path stroke="#1c1cf0" stroke-opacity="0.30" stroke-width=".9" stroke-linecap="square" d="m543.3 339.9h0m5.5 1.5h0m-4.1.1h0m7.4 5.7h0m-7.5 1.3h0m3.3.6h0m-.5 1.9h0m1.7 8.1h0"/><path stroke="#1c1cf0" stroke-opacity="0.50" stroke-width=".9" stroke-linecap="square" d="m541.8 333h0m2.5.8h0m7.4.2h0m-8.3.7h0m3.7 1h0m3.3.1h0m-1.7.5h0m-3.3.2h0m1.1.2h0m-1 .6h0m9.2 0h0m-10.3.1h0m3.9 0h0m-4.8.6h0m5.4.2h0m-4.3.9h0m11.4.2h0m-12.5.1h0m.6 0h0m5.9.7h0m.2 0h0m-3.9.1h0m-.2.3h0m2.4.1h0m-1.4.1h0m-2.2.2h0m1.5.1h0m-2.6.1h0m7.3.4h0m-7 .2h0m.2 0h0m2.9.2h0m-.5.7h0m-2.5.1h0m4.5.2h0m4.6.5h0m1.1.1h0m-3.4.3h0m-1.1 0h0m-3.5.1h0m-1.5.1h0m9.2.4h0m1.9 0h0m-9.4.1h0m7.9 0h0m-7.8 0h0m8.7.7h0m-6 .1h0m-2 0h0m-1.3.3h0m1.7.1h0m.8.3h0m-2.2.3h0m2.8.2h0m-.8.1h0m-.4 0h0m-1 .2h0m3.8.2h0m-1.4.2h0m.4.1h0m-5.9.5h0m4.9 0h0m-.3 0h0m-2.5 0h0m1 .4h0m1.1.1h0m-.4.3h0m-2 0h0m1.1.1h0m-2 0h0m-.4.1h0m14.4.3h0m-5.8.1h0m3 .3h0m-9.3 0h0m0 .1h0m7.7.2h0m-6.9.2h0m-2.3 1h0m7 0h0m-2.5.1h0m.2.5h0m-4 0h0m1.8.4h0m6.7.5h0m-9.9.3h0m11.2.8h0m-11.9.1h0m5.2.1h0m-.8.2h0m-5.5 1.3h0m9.8.6h0m-8.7 1.3h0m1.3 2h0m10.7.4h0"/><path stroke="#1c1cf0" stroke-opacity="0.75" stroke-width=".9" stroke-linecap="square" d="m542.9 332h0m.1 1.2h0m3.2 1.4h0m2.1 3.2h0m1.2 0h0m5.1 1h0m-5 0h0m-5.1.1h0m-.3.1h0m3.5.1h0m-2.6.2h0m3.4.1h0m-1.6 0h0m-2.9.4h0m2.9.1h0m7.1.1h0m-10 .1h0m-.7.2h0m6.7 0h0m-5.3 0h0m-.9.4h0m9.7.1h0m-9.7.1h0m-.7.2h0m9.8.1h0m-8.9.4h0m2.9.3h0m2.4.2h0m-4.5.2h0m.7 0h0m3.9.1h0m-3.6.3h0m1.8.1h0m-3.5.7h0m8.7 0h0m-8.8.3h0m5.9.1h0m4 .1h0m-6.7.3h0m.4.1h0m3.2.4h0m-3.6.4h0m.1.1h0m4.5.7h0m6.3.6h0m-7.2.1h0m-3.1 0h0m-1.4.1h0m2.2 0h0m-2.6.2h0m.8.4h0m4.5.3h0m-2.3.1h0m-1.7.2h0m3.7.1h0m-3.4.1h0m10.3.1h0m-8.2.1h0m4.7.1h0m-4.6.1h0m-1 .2h0m1.6.4h0m-2.5 0h0m-1.3.1h0m.8 0h0m-.9.5h0m11.3.4h0m-6.2.1h0m4.5.3h0m-3.9.1h0m-4.9.4h0m3.5 0h0m-2.9.2h0m.4.2h0m3 0h0m-5.3.2h0m4.7 1h0m-2.9 0h0m2 .3h0m-.9 0h0m4.9 1.7h0m-8.7.7h0m2.1.1h0m.2 2.5h0m5.1.1h0"/><path stroke="#1c1cf0" stroke-opacity="1.00" stroke-width=".9" stroke-linecap="square" d="m550.7 331.7h0m9.3 1.5h0m-9.1.5h0m-2.8 0h0m1.6.2h0m.5 2.4h0m-3.3.2h0m0 .9h0m7.2 1.7h0m-9.2 0h0m5.3.2h0m-7.1.3h0m.5.4h0m.8.6h0m5.9.6h0m2.3.2h0m-4.3.1h0m2.6 0h0m1.6.1h0m-6.9.1h0m-1.4.7h0m1.5.1h0m4 .1h0m-1.2.1h0m-2 .1h0m11.4 1h0m-12 .2h0m5.9.2h0m-6.6.1h0m4.3 0h0m-1.9 0h0m9 .3h0m-11.7.2h0m2.1.4h0m.6.1h0m-1.2.2h0m2.2.3h0m-.3 0h0m6.1.1h0m-5 0h0m-1.1.6h0m-2 0h0m1.2.1h0m-2.4.1h0m6.4.3h0m-.1.1h0m-4.1.1h0m-3.1.4h0m.8 2.6h0m8.9.2h0m-9 .2h0m5.1 0h0m-6.8.7h0m5.6.3h0m6.6.2h0m-12.4.8h0m5.7.1h0m7.2.3h0m-8.9 2.4h0m1.7.2h0m-.8.6h0m.4.2h0"/><path stroke="#3a3ae0" stroke-opacity="0.30" stroke-width=".9" stroke-linecap="square" d="m555.4 335.9h0m-8.5 17.7h0"/><path stroke="#3a3ae0" stroke-opacity="0.50" stroke-width=".9" stroke-linecap="square" d="m547.9 330.9h0m5.8.2h0m-4.2.1h0m-21.2.3h0m20.4 1.8h0m17.4 1.5h0m-8.6.9h0m-4.9 1.1h0m-4.8.5h0m5.2.3h0m-6.3 0h0m-3.4.2h0m0 .3h0m2.5 0h0m4.4.7h0m5 .2h0m-11.6.1h0m-.2.5h0m6.5.2h0m3 .9h0m-2.5.8h0m.5 1.4h0m2.5.1h0m-4.4.9h0m-2.3 1.5h0m-.9 3.4h0m.9.7h0m5.6 1.6h0m-5.8.6h0m4.5 1.8h0m-4.1.7h0m2.1 1.2h0"/><path stroke="#3a3ae0" stroke-opacity="0.75" stroke-width=".9" stroke-linecap="square" d="m542 321.1h0m5.7 1.8h0m.9 3.4h0m6.4.5h0m-1.6 1.4h0m-6 .7h0m2.2.1h0m-1.4 1.6h0m-.7 1.4h0m.3 1.5h0m7.6 0h0m7.1 4.7h0m-8.9.5h0m-6.1.3h0m9.6.4h0m-8.4.1h0m-5.7.5h0m7.4.3h0m-3.3 0h0m1.1 1.2h0m5.8.1h0m-.3.3h0m.2 1h0m-9.7.8h0m-10.2 0h0m14.5 1.8h0m-2.7.1h0m-11.3 1h0m10.9 2.1h0m4.7.2h0m-2.5 1.7h0m-1.3.5h0m6.8 8.1h0"/><path stroke="#3a3ae0" stroke-opacity="1.00" stroke-width=".9" stroke-linecap="square" d="m540.2 323h0m5.9 2.8h0m-3.5 2.6h0m1.5 1.6h0m5.2 1.2h0m2.1 4.2h0m-4.2 1.6h0m-3.7 1.7h0m2.2.6h0m.4.2h0m11.9 1h0m-10.2 5.1h0m2.5 1h0m-5.9.8h0m16.4 4.1h0m-13.6.2h0"/><path stroke="#2020f0" stroke-opacity="0.30" stroke-width=".9" stroke-linecap="square" d="m542.7 323.2h0m-2.4.2h0m3 .4h0"/><path stroke="#2020f0" stroke-opacity="0.50" stroke-width=".9" stroke-linecap="square" d="m539.7 308.8h0m1.6 3h0m-1.1 7.3h0m0 3.5h0m2.6 1.1h0m-1 1.1h0m.9.4h0m-.9.5h0m-.5 1h0m.3.2h0m-.7 1.3h0m1.9 1.6h0m-1.4 1h0m1 7.2h0m1.6.9h0m-3 25.2h0"/><path stroke="#2020f0" stroke-opacity="0.75" stroke-width=".9" stroke-linecap="square" d="m544.1 313.7h0m-3.1 6.1h0m-.3.3h0m2.9.5h0m-2.3 4.1h0m1 1.2h0m-.5 2.5h0m.5 1.3h0m1.3.5h0m-1.3.1h0m-.5.2h0m-.7.1h0m.9 1.3h0m.7 2.1h0m1 9.7h0m-.2 6.7h0"/><path stroke="#2020f0" stroke-opacity="1.00" stroke-width=".9" stroke-linecap="square" d="m542.2 320.5h0m-.2 6h0m.4.8h0m-1.2 1.4h0m.5 3.6h0m.3 25h0"/><path stroke="#4848d8" stroke-opacity="0.50" stroke-width=".9" stroke-linecap="square" d="m535.9 281.5h0m3.5 0h0m-.3 1.2h0m-2.5 2.4h0m2.2 1.8h0m-.9 1.6h0m.1 2.3h0m-1.5 2.7h0m2.2 1.6h0m-1.6 1.4h0m-1.3 1.1h0m2.7.3h0m-1.9 1.7h0m2.5 1.6h0"/><path stroke="#4848d8" stroke-opacity="0.75" stroke-width=".9" stroke-linecap="square" d="m537.2 286h0m1.2 5.2h0m-2.2 3h0m.2 2.2h0m.3 1h0m1 2.9h0m-1.4.3h0m2.4.5h0m-2.9 1.5h0m-.2 3.3h0"/><path stroke="#4848d8" stroke-opacity="1.00" stroke-width=".9" stroke-linecap="square" d="m539.2 289.6h0"/><path stroke="#9090c8" stroke-opacity="0.30" stroke-width=".9" stroke-linecap="square" d="m569.9 311.3h0m-5.9 31.9h0"/><path stroke="#9090c8" stroke-opacity="0.50" stroke-width=".9" stroke-linecap="square" d="m564.4 295.2h0m-22.3 16.6h0m30.6.9h0m-13 9.9h0m15.7 1.7h0m-21.5 1.9h0m12.1 8.1h0m8.9 1.2h0m1 12.3h0m-14.8 13.7h0m9.8 8.1h0m2.7 1.1h0"/><path stroke="#9090c8" stroke-opacity="0.75" stroke-width=".9" stroke-linecap="square" d="m554.4 314h0m9.7 13.1h0m-20.3 2.8h0m-2 .1h0m9 3h0m24.1 6.8h0m-29.8 4.1h0m31.2 7.3h0m-25.3 3.6h0m30.9.2h0m-38.3 4.1h0"/><path stroke="#9090c8" stroke-opacity="1.00" stroke-width=".9" stroke-linecap="square" d="m546.2 288.1h0m4.8 23.7h0m-8.1.5h0m17.7 26.1h0m16.3 6.5h0"/><path stroke="#a0a0c0" stroke-opacity="0.50" stroke-width=".9" stroke-linecap="square" d="m609.1 290.6h0m-8.9 11h0m14.6 16.9h0m-16.3 10.2h0m8.1 4.9h0m-21 1h0m10.9 21.1h0m-1.9 10.5h0m-4.7 1.6h0"/><path stroke="#a0a0c0" stroke-opacity="0.75" stroke-width=".9" stroke-linecap="square" d="m591.7 304.1h0m17.9 6.3h0m-4.1 41.6h0"/></g><rect x="529.6" y="271.6" width="18" height="42.1" fill="none" stroke="#222" stroke-width="0.8"/><rect x="510.7" y="265.4" width="112.7" height="113.1" fill="none" stroke="#555" stroke-width=".8"/><path stroke="#333" stroke-width=".8" fill="none" d="M518.5 378.5v2.6M536.9 378.5v2.6M559.5 378.5v2.6M588.5 378.5v2.6M614.5 378.5v2.6M520.34 378.5v1.4M522.18 378.5v1.4M524.02 378.5v1.4M525.86 378.5v1.4M527.7 378.5v1.4M529.54 378.5v1.4M531.38 378.5v1.4M533.22 378.5v1.4M535.06 378.5v1.4M539.16 378.5v1.4M541.42 378.5v1.4M543.68 378.5v1.4M545.94 378.5v1.4M548.2 378.5v1.4M550.46 378.5v1.4M552.72 378.5v1.4M554.98 378.5v1.4M557.24 378.5v1.4M568.23 378.5v1.4M573.34 378.5v1.4M576.96 378.5v1.4M579.77 378.5v1.4M582.07 378.5v1.4M584.01 378.5v1.4M585.69 378.5v1.4M587.17 378.5v1.4M596.33 378.5v1.4M600.91 378.5v1.4M604.15 378.5v1.4M606.67 378.5v1.4M608.73 378.5v1.4M610.47 378.5v1.4M611.98 378.5v1.4M613.31 378.5v1.4M622.33 378.5v1.4M626.91 378.5v1.4M510.7 374.2h-2.6M510.7 353.7h-2.6M510.7 333.3h-2.6M510.7 303h-2.6M510.7 277.5h-2.6M510.7 372.15h-1.4M510.7 370.1h-1.4M510.7 368.05h-1.4M510.7 366h-1.4M510.7 363.95h-1.4M510.7 361.9h-1.4M510.7 359.85h-1.4M510.7 357.8h-1.4M510.7 355.75h-1.4M510.7 351.66h-1.4M510.7 349.62h-1.4M510.7 347.58h-1.4M510.7 345.54h-1.4M510.7 343.5h-1.4M510.7 341.46h-1.4M510.7 339.42h-1.4M510.7 337.38h-1.4M510.7 335.34h-1.4M510.7 324.18h-1.4M510.7 318.84h-1.4M510.7 315.06h-1.4M510.7 312.12h-1.4M510.7 309.72h-1.4M510.7 307.69h-1.4M510.7 305.94h-1.4M510.7 304.39h-1.4M510.7 295.32h-1.4M510.7 290.83h-1.4M510.7 287.65h-1.4M510.7 285.18h-1.4M510.7 283.16h-1.4M510.7 281.45h-1.4M510.7 279.97h-1.4M510.7 278.67h-1.4M510.7 269.82h-1.4M510.7 265.33h-1.4"/><text x="518.5" y="389.3" text-anchor="middle" font-size="4.6" fill="#111" stroke="#111" stroke-width="0.14">-10<tspan dy="-2.4" font-size="3.68">3</tspan></text><text x="536.9" y="389.3" text-anchor="middle" font-size="4.6" fill="#111" stroke="#111" stroke-width="0.14">0</text><text x="559.5" y="389.3" text-anchor="middle" font-size="4.6" fill="#111" stroke="#111" stroke-width="0.14">10<tspan dy="-2.4" font-size="3.68">3</tspan></text><text x="588.5" y="389.3" text-anchor="middle" font-size="4.6" fill="#111" stroke="#111" stroke-width="0.14">10<tspan dy="-2.4" font-size="3.68">4</tspan></text><text x="614.5" y="389.3" text-anchor="middle" font-size="4.6" fill="#111" stroke="#111" stroke-width="0.14">10<tspan dy="-2.4" font-size="3.68">5</tspan></text><text x="505.7" y="377.6" text-anchor="end" font-size="4.6" fill="#111" stroke="#111" stroke-width="0.14">-10<tspan dy="-2.4" font-size="3.68">3</tspan></text><text x="502.2" y="357.1" text-anchor="end" font-size="4.6" fill="#111" stroke="#111" stroke-width="0.14">0</text><text x="505.7" y="336.7" text-anchor="end" font-size="4.6" fill="#111" stroke="#111" stroke-width="0.14">10<tspan dy="-2.4" font-size="3.68">3</tspan></text><text x="505.7" y="306.4" text-anchor="end" font-size="4.6" fill="#111" stroke="#111" stroke-width="0.14">10<tspan dy="-2.4" font-size="3.68">4</tspan></text><text x="505.7" y="280.9" text-anchor="end" font-size="4.6" fill="#111" stroke="#111" stroke-width="0.14">10<tspan dy="-2.4" font-size="3.68">5</tspan></text><rect x="507.4" y="350.8" width="3.3" height="5.5" fill="#111" fill-opacity="0.85"/><rect x="532.1" y="378.7" width="4.5" height="2.2" fill="#111" fill-opacity="0.85"/><text x="570" y="399.3" text-anchor="middle" font-size="10.15">BG505 SOSIP+PGT121 Fab</text><text x="573" y="410.1" text-anchor="middle" font-size="10.15">(AF647)</text><text transform="translate(489 328.8) rotate(-90)" text-anchor="middle" font-size="10.15">BG505 SOSIP &#160;(PE)</text>
<clipPath id="c9"><rect x="40.6" y="419.6" width="110.1" height="106.6"/></clipPath><g clip-path="url(#c9)"><path fill="#2020e0" fill-opacity="0.17" fill-rule="evenodd" d="M72.2 419.2l-5.7 0-.7.6-4 1-1 1.4-5 23.3-6.6 21.7-7.4 14.6-1.6 1.7 0 20 1.6-.7 8-11.6 9.7-19.4 7.3-24.3 5.7-25.7z"/><path fill="#2020e0" fill-opacity="0.17" fill-rule="evenodd" d="M71.2 419.8l-3 .7-1.7 1.7-5.7 26-6.6 21.6-8.7 17.4-3.3 5-2 1.6 0 9 .6 0 8.4-11.6 10-20 7-23.4 5.6-25.6 0-1.7z"/><path fill="#2020e0" fill-opacity="0.17" fill-rule="evenodd" d="M70.8 421.2l-1 1-5.3 25-7 23.3-9.7 19.3-5.6 8.4-2 1.6 0 2.4 1-.7 7.6-11.3 9.4-18.7 7-23 5.6-25.3z"/><path fill="#2020e0" fill-opacity="0.17" fill-rule="evenodd" d="M151.2 493.5l-.7-1-2 .7-22.3 14-36.4 9.3-30.3 8.7-1.7 1 5 .3 11.7-.7 11.3-1.6 13.7-3 31-8.7 18-12 1.7-2z"/><path fill="#2020e0" fill-opacity="0.17" fill-rule="evenodd" d="M149.8 493.8l-1.3.4-22 13.6-33 8.4-21 6.6 5.7-.6 15-3 35.3-9.7 19.7-13 1.6-1.7z"/><g filter="url(#bl)"><path fill="#0000ff" fill-rule="evenodd" d="M151.8 419.2l-79 0-6.6 30.3-6.7 22-9.7 19.3-8 11.7-1 1-.6 0 0 24.3 3.6-1.6 17.4-4.4 31.3-6 35-9.6 24-16.4z"/><path fill="#0010ff" fill-rule="evenodd" d="M147.5 455.5l-3-3.3-2.3-1.7-8-3.3-7.4-1.4-14 0-12.6 2-15.7 4.7-14 6.3-8.3 5-1 1.4-1.7 6.3-9.7 19.3-8 11.7-1 1-.6 0 0 24.3 3.6-1.6 17.4-4.4 35.3-7 31-8.6 5.7-3.7 3.3-3 .3-5-1.3-5.3 4.3-4 1.4-2 1.6-4.4 3.7-5 2.7-6.3.3-7z"/><path fill="#0020ff" fill-rule="evenodd" d="M134.8 460.5l-3-3-6.6-3-10.4-1.3-7 .3-8.3 1.3-13.3 4-11.4 5.4-7.3 4.6-8.3 7.7-3 1.3-6.4 13-8 11.7-1 1-.6 0 0 24.3 3.6-1.6 13.7-3.4 0-3-1-4.3.3-1 8 3.3 7 1.7 2.4 0 18.3-3.7 27.7-7.6 3.6-5 1.7-5.4-.3-5.3-1.7-4 6.3-1 2.7-1.3 4-3.7 2-3.7.7-2.6 0-4.4-.7-2.6-2-3.4-.3-3z"/><path fill="#0036ff" fill-rule="evenodd" d="M45.2 497.5l-4.4 6-.6 0 0 24.3 3.6-1.6 11.7-2.7 0-5-2-8-3.3-7zM135.5 468.5l-1.3-2-3.7-3-4-1-4-2.7-5.7-1.6-13 0-8.3 1.6-9 3-7.7 3.7-5.3 3.3-4.7 3.7-5 5.7-2.6 1-4.4 2.6-4.6 4.4-3 6-.4 3.6 1 4 2.4 4 3.3 3.4 6.7 4 3.6 3.3 3 1.3 4 .4 3-1 11.7.6 18.7-4.6 6.3-4 3.3-3.4 2.4-4 1-4-.4-3.6-2-4.7-1.3-1.7 3.3-2.6 3.4 1.3 3.3.3 3.3-.6 3.7-2 3-3.7 1-2.7.3-3.3z"/><path fill="#0052ff" fill-rule="evenodd" d="M44.2 498.8l-3.4 4.7-.6 0 0 24.3 3.6-1.6 10.4-2.4 0-5.3-2-8-3.7-7zM133.2 468.5l-2.7-2.7-3-1.3-3.3-.3-3.7 1-3.7-2.4-5.6-1.3-6.7 0-5 .7-11.3 3.3-6.4 3-5.6 3.7-5.7 5.3-2.7 3.7-5.3 2.3-5.7 4.7-2.6 5-.4 4 .7 2.6 2.3 4 4.4 3.7 1 2.7 1.6 2.3 3 2.3 2.7 1 4.3 0 2.7-1 1.7-1.3 3.6 0 4.4 2.3 2.3.7 10.3-2.3 2.7-2.4 1.7-2.3 5.6-3.3 2.4-2.4 2.3-4 .7-2.6-.4-4-1.3-3-2.7-3.7 4-2.7 3.7-3.3 2 1.7 4.7 1.6 3.3-.3 3-1.3 2.7-2.7 1.6-4.7-.3-3.3z"/><path fill="#006eff" fill-rule="evenodd" d="M43.8 500.5l-.6 0-2.4 3-.6 0 0 24.3 3.6-1.6 8.7-2 .3-1 0-5.7-1.3-5.7-4-7.6zM131.8 469.8l-1.6-2-2.4-1.3-4.6-.3-3.4 1.6-2.3 3.4-1-2.4-3.3-2.6-5.4-1.4-5.3 0-9.7 2-9 4-3.6 2.4-4.7 4.3-2 3-.7 2-2 .3-5.6 2.7-2.7 2-2.7 3-1.3 3-.3 3.3.6 2.7 2.4 3.7 0 2 1.3 4 3 3.6 4 2 4.3 0 2.7-1 2-1.6 3.7 0 2.6 2 3.7 1.3 5 0 3.7-1.3 3.6-3 2-3.4.4-1.6 4-3.4 2.3-4.3.3-3.3-.6-2.7-2-3.3-3-3 7.3-4.7 3-3 2.3-4 1.4 3.7 2.6 2.6 2.4 1 3.6 0 2.4-1 2-1.6 1.6-3.4 0-3.6z"/><path fill="#0092ff" fill-rule="evenodd" d="M42.5 501.5l-1.7 2-.6 0 0 24.3 3.6-1.6 7-1.7 1-3.3-.3-5.4-2-6.3-2.3-4-3.4-3.3zM110.8 471.2l-2-1.7-3-1-7 0-6.6 1.7-5.7 2.6-3.3 2.4-3.7 4-1 2.6 0 2-1.7 0-4.6 1.4-4 2-2.7 2-2.3 3-.7 1.6 0 3-1 3 .7 6.7 2.3 4.3 2.3 2 3.4 1.4 4.3-.4 3.7-2.3 4.6 0 2.4 2 4 1.3 3.6 0 5-2 3.7-4 1.3-4 0-2.3 2.7-4.3 0-4.4-.7-1.6-2.3-3-4.3-2.7-.4-.7 5.7-2.6 3.3-2.4 3-3 1.7-3.6zM123.8 467.8l-2.3 1-1.7 1.7-1 2.3 0 2.4 1 2.3 1.7 1.7 2.3 1 2.4 0 2.3-1 1.7-1.7 1-2.3 0-2.4-1-2.3-1.7-1.7-2.3-1z"/><path fill="#00b6ff" fill-rule="evenodd" d="M41.5 502.8l-1.3.7 0 24.3 1.6-1 4.4-1 2.6-1.3 1.7-3 0-5.7-1.3-4.6-2.4-4.4-3-3zM63.5 496.8l-1.3 5.4 1.3 6 2.7 3.3 2 1.3 2.3.7 4.7-.7 3-2.3 5 .3 2.3 2 2.3 1 6.4 0 3.3-1.6 2.7-2.7 1.6-3.3.4-4.7-1-3 .3-4-1-2.3-3.7-3.4-6.6-2.6-10.4-.4-5.3 1.4-4.3 2.3-5.4 5.3zM103.8 474.5l-2.3-1.7-5 0-4.3 1.4-3.4 2-2.3 2.3-.7 2 .4 1 2.3 1.7 5 0 4.3-1.4 3.4-2 2.3-2.3.7-2zM124.2 469.8l-2.4 1.4-1 2 0 1.6 1.4 2.4 2 1 1.6 0 2.4-1.4 1-2 0-1.6-1.4-2.4-2-1z"/><path fill="#00dafa" fill-rule="evenodd" d="M42.5 504.8l-2.3.4.3 22.6 1.3-1 4-1 .7-2.3 2.3-1.7.7-1.6 0-4.4-1.7-5.3-1.3-2.3-2.7-2.7zM101.2 499.8l-2-3.6-2.7-2.4-1.7-2.3-2-1.3-5-1.7-7.6 0-2.7.7-3 1.6-7.3 2.7-3.4 4-1 3.3 0 3.4 2 5 2.4 2.3 2 1 4 .3 2-.6 2.6-2.4 5 0 1.4 1.4 3.6 2 5 .3 3-1 2-1.3 2.7-3.4 1-3z"/><path fill="#00fff0" fill-rule="evenodd" d="M43.2 506.8l-2 0-1 1 .3 19.7 3-1 2.3-1.7.4-3 1.6-1.6.7-2.4-.3-3.3-1-3-1.7-2.7zM64.2 498.2l-.7 2 0 4.6.7 2 3 4 3 1.4 3 0 2-.7 3.3-2.7 4.7.4 3 2.6 2.6 1 4.4 0 3.6-1.6 2.4-2.4 1.6-3.6 0-4.4-.6-2-3.4-4-3.6-1.6-2.4 0-1.6-1-3.7-1-6.7-.4-5 1-2 1-1.6 0-3 1.4z"/><path fill="#00ffbe" fill-rule="evenodd" d="M43.5 509.2l-1.7 0-.6 1.3-1 .7.3 16 3-.7 2-2.3.3-5 1-1.4-.3-4.6-1.7-3zM64.2 499.5l-.4 4.3.7 2.7 2.3 3.3 3 1.7 4.7-.3 1.7-1 2-2.4 4.6 0 2.4 2.7 2.3 1.3 3 .7 3-.3 2.3-1 2.7-2.4 1.3-2.3.7-3-.7-4-3-4-3.3-1.7-4 0-5-1.6-7 0-4 1.3-4.7.3-2.6 2z"/><path fill="#00ff8c" fill-rule="evenodd" d="M40.5 511.8l-.3 14.7 1.3.7 1.7-.7 2-3 .3-5-2-5-1.7-1.7zM64.5 500.2l0 4.6 1.3 3 2.4 2.4 2.6 1 1.7 0 2.7-1 2-1.7 1.3-2.3 4 0 1.7 2.6 2 1.7 3.3 1.3 3 0 4.3-2 1.7-2 1.3-3.3-.3-4.3-1.7-3-2-1.7-3.3-1.3-3 0-2.3.6-2.7-1-4.3-.3-5.4 1.3-1-.6-3-.4-4 2z"/><path fill="#00ff57" fill-rule="evenodd" d="M40.8 512.5l-.6.7 0 13 1 .6 1.3 0 1.7-2 1-3 0-3-1.7-4.6-1.7-1.7zM88.8 494.8l-2.3 1-2.7 2.7-1 2.3 0 4.4 1 2.3 2.7 2.7 2.3 1 4.4 0 2.3-1 2.7-2.7 1-2.3 0-4.4-1-2.3-2.7-2.7-2.3-1zM70.2 494.5l-1.7.7-2.3 2.3-1.4 3.3 0 3.4 1.4 3.3 2.3 2.3 1.7.7 3 0 2.6-1.3 1.7-2 1-2.7 0-4-1-2.7-1.7-2-2.6-1.3z"/><path fill="#00ff2d" fill-rule="evenodd" d="M40.8 513.5l-.6 1.7 0 10.3 1 1 1.3 0 1.7-2.3.6-5-1.6-4.7-1-1zM89.5 495.2l-2 .6-3 2.7-1.3 3 0 3 .6 2 2.7 3 3 1.3 3 0 2-.6 3-2.7 1.3-3 0-3-.6-2-2.7-3-3-1.3zM71.2 494.8l-2.7 1-2 2-1 2-.3 3.7 1.3 3.7 2 2 4 1 2-.7 2.7-2.7 1-2.6 0-3.4-1-2.6-2.7-2.7z"/><path fill="#00ff0f" fill-rule="evenodd" d="M41.2 514.5l-.4 2.3-.6 1 0 7.4 1 1 1.3 0 1.7-2.7 0-5.7-1-2.3-1-1zM90.8 495.5l-4 1.3-2 2-1 2-.3 2.4 1.3 4 2 2 2 1 2.4.3 4-1.3 2-2 1-2 .3-2.4-1.3-4-2-2-2-1zM70.2 495.5l-1.4.7-2.6 3.3-.4 5 1 2.3 2 2 1.4.7 3 0 2.3-1.3 1.3-1.7 1-3 0-2-.6-2.3-1.7-2.4-2.3-1.3z"/><path fill="#12ff00" fill-rule="evenodd" d="M42.2 515.5l-2 2.7 0 6.6 1.6 1.4 1.7-1.4.7-2-.7-5.3zM89.5 496.2l-2.3 1-2 2-1 2.3 0 3 1 2.3 2 2 2.3 1 3 0 2.3-1 2-2 1-2.3 0-3-1-2.3-2-2-2.3-1zM71.2 495.8l-2 .7-2 2-1 2.3 0 3.4 1 2.3 2 2 3 .7 3-1.4 1.3-1.6.7-1.7 0-4-2-3.3-1.7-1z"/><path fill="#36ff00" fill-rule="evenodd" d="M41.5 517.2l-1.3 1.3 0 6 .6 1 1.4.3 1.6-2.3 0-4-.3-1-1.3-1.3zM90.5 496.5l-3 1-2 2-1 4 1 3 2 2 4 1 3-1 2-2 1-4-1-3-2-2zM70.5 496.5l-3 2.3-1 2.4 0 2.6 1 2.4 1.7 1.6 1.3.7 2.3 0 2-1 1.4-1.7.6-1.6 0-3.4-2-3.3-2-1z"/><path fill="#5aff00" fill-rule="evenodd" d="M41.5 517.5l-1.3 1.3 0 5.4.6 1 1.4.3 1.6-2.7 0-2.6-.6-1.7-1-1zM89.5 497.2l-2 1-2 2.3-.3 4 1 2 2.3 2 4 .3 2-1 2-2.3.3-4-1-2-2.3-2zM71.2 496.8l-1.7.7-1.7 1.7-1 3.6 1 3 1.7 1.7 2.7.7 2.3-1 1.3-1.7.7-4-.7-2-1.3-1.7z"/><path fill="#b2ff00" fill-rule="evenodd" d="M41.5 517.8l-1.3 1.7 0 4 .6 1.3 1.4.4 1.3-1.7 0-4-1.3-1.7zM90.2 497.5l-2.4 1-1.3 1.3-1 2.4 0 1.6 1 2.4 1.3 1.3 2.4 1 1.6 0 2.4-1 1.3-1.3 1-2.4 0-1.6-1-2.4-1.3-1.3-2.4-1zM70.8 497.5l-2.6 2-.7 1.7 0 2.6.7 1.7 1.6 1.7 3 .3 1.7-1 1-1.3.3-4.4-1.3-2.3-1.7-1z"/><path fill="#e9f000" fill-rule="evenodd" d="M41.5 518.2l-1.3 1.6 0 3.4 1.3 1.6.7 0 1.3-2 0-2.6-.3-1-1-1zM89.8 498.2l-1.6.6-1.4 1.4-.6 1.6 0 2.4.6 1.6 1.4 1.4 1.6.6 2.4 0 1.6-.6 1.4-1.4.6-1.6 0-2.4-.6-1.6-1.4-1.4-1.6-.6zM70.5 498.2l-2.3 2.3 0 4 1.6 2 3 .3 2-1.6.7-1.7 0-2-.7-1.7-1.3-1.3z"/><path fill="#ffcf00" fill-rule="evenodd" d="M41.5 518.5l-1 1-.3 2.7.3 1.3 1 1 .7 0 1-1.3 0-3.4-1-1.3zM90.8 498.5l-3.3 1.7-1 3 1.7 3.3 3 1 3.3-1.7 1-3-1.7-3.3zM71.5 498.5l-2.3 1.3-.7 1.4 0 2.6 1.3 2 2 .7 2.7-1.7.3-4-1.3-1.6z"/><path fill="#ffa000" fill-rule="evenodd" d="M41.5 518.8l-1 1.4 0 2.6 1 1.4.7 0 1-1.7-.4-3zM90.2 499.2l-2.4 1.6-.6 1.4 0 1.6 1.6 2.4 1.4.6 1.6 0 2.4-1.6.6-1.4 0-1.6-1.6-2.4-1.4-.6zM71.5 499.2l-2 1.3-.7 2 .7 2 1 1 1.3.3 2.4-1.6.3-2.4-1.7-2.3z"/><path fill="#ff7200" fill-rule="evenodd" d="M41.5 519.2l-.7.6-.3 2 .3 1.4 1.4.6.6-1 0-2.6-.6-1zM70.8 500.2l-1 1 0 2.6 1 1 1.7 0 1.3-2-.3-1.6-1-1zM90.2 499.8l-2 1.7-.4 2.3 1.7 2 2.3.4 2-1.7.4-2.3-1.7-2z"/><path fill="#fd4900" fill-rule="evenodd" d="M41.8 519.5l-1 1.3.4 2.4.6.3 1-1.3 0-1.4zM70.8 501.5l-.3 1.3.3.7 1.4.3.6-1.6-.6-1zM90.8 500.5l-2 1.3-.3 1.4 1.3 2 1.4.3 2-1.3.3-1.4-1.3-2z"/><path fill="#f72f00" fill-rule="evenodd" d="M41.5 520.2l-.3 2.3 1 .3.3-2-.3-.6zM90.2 501.8l-.4 2 2 .4.4-2z"/><path fill="#f01400" fill-rule="evenodd" d="M41.5 520.8l.3 1.4.4-1z"/></g><path stroke="#0808a0" stroke-opacity="0.90" stroke-width=".9" stroke-linecap="square" d="m70.3 420.8h0m1.5 1.3h0m-.9 2h0m-1.8.3h0m-12.3 1.4h0m8.3.2h0m-16.5.6h0m14.9 1.6h0m2.5 1h0m-10.7 0h0m10.5 1h0m3.6.1h0m-5.6.6h0m4.9.8h0m-22.3 1.2h0m21.3 2.7h0m.4.7h0m-23.7.9h0m16.2.7h0m7.2.6h0m-1.3.9h0m-1.6 2.8h0m-14 .3h0m6.3.7h0m3.5.1h0m5.1 1.8h0m-3.5 1h0m-13.8.6h0m3.1.6h0m3.6.2h0m6.9.4h0m2.7.6h0m-.9.1h0m1.5.3h0m-10.5.3h0m10.1.4h0m-7.7 0h0m7.9.1h0m-4.8.1h0m1 .4h0m3.2.4h0m-4.4.5h0m-1.2.1h0m.6.2h0m4.4.7h0m-.3 1.8h0m-6.5.1h0m-1.4 1.4h0m-3.1.9h0m6.2.6h0m-15.5.6h0m9.3.9h0m-8.3 1h0m16.7.1h0m-11.2.9h0m4 0h0m7 .4h0m-7.3.3h0m3.8.2h0m3.6.7h0m-9.6.3h0m9 1.7h0m-3.6 1.2h0m-8.2.4h0m-4 1.2h0m3 2.1h0m.2.3h0m-7.6.7h0m5.9.7h0m12.4.1h0m-3.9.7h0m-4.1 2.3h0m2.7.5h0m1.8.2h0m-14.3.5h0m14.2.6h0m-.5 1.5h0m1.2 1h0m-8.8.3h0m5.2.6h0m-2.6.4h0m3.3 1.4h0m-5.6 1.8h0m5.4.4h0m-12.5.1h0m11 .3h0m-4 .1h0m3.8 0h0m-5.8 1.6h0m3.2 3.9h0m-1.3.5h0m1 .5h0m-2.3 0h0m-.3.3h0m1.5.9h0m1.7 1h0m-4.8.3h0m-.4 1h0m2.1 3.2h0m-4.6 5.4h0"/><path stroke="#1a1aff" stroke-opacity="1.00" stroke-width=".9" stroke-linecap="square" d="m68.8 420.5h0m.9.1h0m0 .2h0m-1.2.2h0m3.5.1h0m-25 .2h0m21.5.3h0m.4.1h0m1.5.1h0m-11.3 0h0m12.7.4h0m.2.5h0m-5.4.1h0m3.3.1h0m-6.3.2h0m3 2.5h0m-1.1.5h0m4.3.4h0m-12.1.1h0m11.1.1h0m-2.1.1h0m3.7.9h0m-.9.1h0m-3.6 1.1h0m-.1.1h0m-8.3.6h0m11.1.3h0m-4.6.1h0m5.1 0h0m.4.4h0m-17.5 0h0m10.9.1h0m4.8.8h0m1.3.2h0m-17.8.1h0m18 .3h0m-4.8 0h0m-6.3.3h0m6.6.4h0m2.4.1h0m-6.1.4h0m-4.8.2h0m-10.4.1h0m17.5.4h0m1 .2h0m3 1.1h0m.4 0h0m1 .5h0m-11 .8h0m-2.5 0h0m10.8.5h0m-.4 0h0m-6.1.8h0m6 .2h0m-.9.2h0m3.4.2h0m-4 .2h0m2.4.3h0m.6.1h0m-6.1 0h0m-13.3 0h0m19.6.2h0m-6 1h0m-3.6 1.1h0m-15.2 0h0m24.9.3h0m-4.8.2h0m-4.9.2h0m7.5.2h0m2.4.1h0m-5.7.1h0m2 .1h0m0 .1h0m-9.9.3h0m12.1.1h0m-5.4.4h0m-20 .3h0m18.2.5h0m-.1.1h0m-11.8.6h0m18.2.1h0m-24 .4h0m11.3.4h0m-12.4.3h0m26.1.1h0m.4.5h0m-2 .1h0m-6.8.7h0m7.5.1h0m-2.2 0h0m-6.1.6h0m4 .1h0m1.8.5h0m-12.1.5h0m-5.4 0h0m4.8.5h0m-6.6 0h0m19.5.2h0m-2.3.2h0m-7.2 0h0m-5.3 0h0m9.1.1h0m7.1 0h0m-4.7.2h0m.9.1h0m4.7.1h0m-5.1.3h0m1.3.5h0m-11.6.4h0m4 .2h0m7.8.2h0m2.3.3h0m-4.3.4h0m-14.2.1h0m15.3.1h0m.8.1h0m-3.4.5h0m-2.1 0h0m6.6.3h0m.8 0h0m-21.1 0h0m20.9.2h0m-1.1.3h0m-8.4.1h0m5.1.1h0m-10.8.1h0m14 0h0m-1.9.3h0m3.4.2h0m-4.1.4h0m4.3.3h0m-3 0h0m-12.5.2h0m12.9.2h0m2.5.2h0m-8.4.5h0m8.3 0h0m-19.6.1h0m12.8 0h0m-4 .3h0m9.7.2h0m.4.5h0m-12.4 0h0m-2.9.3h0m2.1.3h0m3.5.6h0m-3.7 0h0m12.8.3h0m-3.3.5h0m2.8.2h0m-.3.1h0m-13.9.3h0m10.9.5h0m-3.8 0h0m.4 0h0m5.8 0h0m-1.2.2h0m-2 .2h0m1.2 1.1h0m1.2.4h0m-7.6.3h0m8.2.2h0m-.1.3h0m-.6.3h0m1 .2h0m-14.5.5h0m4.1 0h0m5.3.1h0m-6.5 0h0m1.6.6h0m5.2 0h0m1.5.1h0m-6.8.2h0m7.5.2h0m-6.1.7h0m4.4.1h0m4 .1h0m-4.6 0h0m-5.4.1h0m5.4.1h0m-9.2.1h0m7.3.1h0m4.6 0h0m-7 .1h0m-11.5.3h0m15.4 0h0m3.7.3h0m-6.6.3h0m2.1.4h0m4.8 0h0m-5.9.1h0m-5 .4h0m8.5.2h0m-3.5.6h0m.2.6h0m-1.9.1h0m5.6.1h0m1 .3h0m-7.7.5h0m-1.7.7h0m-.4.2h0m4.6 0h0m-11 .3h0m10.7.2h0m-8.4.3h0m12.7 1.1h0m-5.4 0h0m3.4.7h0m-12.8.1h0m10 .4h0m-.1 0h0m-1.2.2h0m4.2 0h0m.2.2h0m-6.5.3h0m.6.3h0m.2.2h0m-6 .2h0m-2.6.7h0m11.9.1h0m-8.5.6h0m8.8.3h0m.9 0h0m-2.3 0h0m-4.5.2h0m1.1 0h0m-4 .3h0m8.5.2h0m-7.8.5h0m6.7.3h0m-4.4.2h0m6 0h0m.1.4h0m-11.1.1h0m8.4.7h0m-1.5 0h0m-1.2.1h0m-7.3.8h0m8.8 0h0m-.7.2h0m2.7.1h0m-5.8.9h0m1.9.4h0m1.9.4h0m-4.7 0h0m.2.3h0m4.6 0h0m-6.1 0h0m7.1 0h0m.8.3h0m-4.4 0h0m1.2.4h0m-1.9 0h0m-.1.7h0m1.6.1h0m1.5.1h0m1.4.2h0m-2.9.8h0m-.3.3h0m-.4.2h0m1.5 1.2h0m-4.5.6h0m2.7.3h0m-1.7 1.1h0m-4.7.1h0m5 .3h0m2.6.2h0m-2 .5h0m1.1.2h0m-2.1.2h0m-3.3 0h0m3 1h0m2 .1h0m-3.6 1.3h0m-3.2.1h0m3.5.6h0m.4 1.6h0m-4.4.5h0m.6.4h0m2.3.2h0m.8.4h0m-3.4 1.9h0m.3 1.7h0m0 .5h0"/><path stroke="#2b2bd8" stroke-opacity="0.90" stroke-width=".9" stroke-linecap="square" d="m56.2 419.8h0m16.1.4h0m-2.5.1h0m-5.9.1h0m1.1.6h0m5.3.1h0m1.3.2h0m-15.7.1h0m4.8.5h0m9.3.5h0m-5.7 0h0m4.3.6h0m-11.9.1h0m14.4.2h0m-3.5 0h0m-.8.3h0m0 .3h0m-11.3 0h0m16.1.1h0m-7.6 0h0m6 .8h0m.4 0h0m-8.8.1h0m6.6.2h0m-4.3.5h0m1.6.2h0m5.5 0h0m-1.7.3h0m-.7.4h0m-12 .2h0m1.7 0h0m9.5.2h0m-16.9.1h0m9.6.2h0m-9.2 0h0m17.8 0h0m-22.5.6h0m21.7.2h0m1.8 0h0m-11.1.2h0m1.9.3h0m7.9 0h0m-10.5.7h0m2.7.1h0m5.8 0h0m-12.4 0h0m14.5.1h0m-13.4.2h0m11.4.4h0m-7.1.6h0m-18.3.3h0m26 .6h0m-6.6.3h0m8.5.1h0m-7.6 0h0m1.5.8h0m4.9.2h0m-3.7.2h0m-12.4.3h0m9.2.1h0m4.7.6h0m-6.1 0h0m1.9.2h0m-.6.3h0m-3.3 0h0m-8.6 0h0m-4 .1h0m19.8.2h0m2.6.3h0m-17.4.5h0m15.6.2h0m-13.4.1h0m5.3.5h0m-.7.2h0m5 .4h0m-16 .8h0m21.8.3h0m-.5.1h0m-10.5.2h0m7.5.4h0m-.6 0h0m1.8.1h0m-12.8.1h0m13.5 0h0m-.8.2h0m-11.6.1h0m3.9.1h0m-2.7.2h0m6.6.1h0m2.6.4h0m-8.1.1h0m6.1.1h0m-8.1.5h0m8.7.1h0m-17.7.6h0m19.5.5h0m-5.9.3h0m-.6.5h0m9.1 0h0m-1.5.5h0m-4.4.2h0m2.9.1h0m-2.8 1.2h0m-3.1.4h0m-12.2 0h0m17.8.3h0m.7.3h0m-.1.3h0m-3.3 0h0m3.8.1h0m-3.3.4h0m4.1.7h0m-10.9 0h0m6.6 0h0m-11.7.1h0m7.9.1h0m1.6.6h0m-14.2.3h0m15.1.4h0m4.2.5h0m-24.5.6h0m24 .3h0m.2.5h0m-2.8.1h0m-3.4.7h0m-6.1.5h0m-6.9 0h0m14.4.2h0m5.6.1h0m-6.7.1h0m-5.9 0h0m5.8.1h0m6.8.2h0m-16.8 0h0m10.2.2h0m-4.4.9h0m5.9.2h0m-5.7.4h0m-1.7 0h0m-6.3.1h0m8.9.2h0m4.1 0h0m3.2.5h0m-3 .1h0m-9 .1h0m6.1.5h0m6.4 0h0m-8.2.1h0m6.4 0h0m-13.3.5h0m2 .9h0m2.4.3h0m-4.8 0h0m13.9.2h0m-3.8 1h0m-2.8 0h0m5.7.3h0m-19.3.1h0m19.8 0h0m-3.4 0h0m3.7.1h0m-.2.6h0m-15.9.3h0m12.6.6h0m-10.6.1h0m-4.8.1h0m11.3.5h0m-.1.3h0m6.5.1h0m1.2.1h0m-13.8.1h0m.2.3h0m6.3.2h0m6.1.5h0m-12.7 1.4h0m11.9.4h0m-1.7.1h0m1.6.8h0m-11.9.7h0m-2.8.2h0m14.5 0h0m-5.9.7h0m3.7.2h0m-6.1.2h0m.1.1h0m-5.6 0h0m1.8.3h0m10.6.1h0m-2.1.2h0m-2 .2h0m1.8.2h0m-4.6.1h0m3.4 0h0m.6.1h0m-7.5.2h0m7.6.5h0m-3.5.1h0m1.5 0h0m-4.3.1h0m8.3.1h0m1.8.1h0m-5.9.1h0m-6.7.6h0m4.2.1h0m4.2.4h0m-3.8.5h0m2.8.4h0m-12.1.2h0m14.2.8h0m-14.8.4h0m13.7.2h0m-10.6.4h0m5.7.1h0m6 0h0m-1.4.6h0m-10.1 0h0m10.8.2h0m-8.3 0h0m-1.6.5h0m11.5.4h0m-4.3.2h0m2.5 1.3h0m-6.2.2h0m-5 .7h0m2.9.3h0m8.5 1.1h0m-5 .7h0m-2.3 0h0m5.8.9h0m-3.3 0h0m-7 .5h0m4.9.8h0m-6.3 0h0m10.5.5h0m-11.4 0h0m3 .2h0m8.8 0h0m-2.5.1h0m-6.7.1h0m7.2 0h0m-2.2.2h0m2 .4h0m-5.6.5h0m.8.7h0m4.6 0h0m-9.3.1h0m10.3.2h0m-5.9 0h0m2.6.2h0m-3.9.7h0m5.4.5h0m2 .1h0m-2.3.3h0m-6.2.4h0m7.6.2h0m-6.4.4h0m3 .8h0m-1.5.3h0m1.8.2h0m-4.2.4h0m3.5.1h0m-6.1.3h0m6.2.1h0m-2.4.3h0m2.3.1h0m1.5.5h0m-3.4.1h0m-.3.4h0m-.1 0h0m-.6.4h0m.5.3h0m-.7.3h0m1.5.3h0m-1.3.1h0m1.7.5h0m-1 .7h0m-2.9.3h0m1.8 1.6h0m-2 .5h0m-1.1 1.8h0m-.1.5h0m1.1.7h0m.7 0h0m-1.9.7h0m.3 1h0m-.4.2h0m0 .7h0"/><path stroke="#5a5ad0" stroke-opacity="0.80" stroke-width=".9" stroke-linecap="square" d="m65.9 420h0m6 .3h0m-11.9 1.3h0m9.5.3h0m-24.5.4h0m25.7.7h0m-5.9.8h0m-.4 1.7h0m1.8 0h0m1.4.6h0m2.4.1h0m-12.2.5h0m8.8.7h0m-8.5.1h0m2.5.1h0m6.6.4h0m-6 .4h0m4.1 1.8h0m4 .1h0m-12.6.5h0m12.8 0h0m-13.3 1.6h0m8.5.5h0m-15 .1h0m17.3.3h0m-24.7.5h0m21.8 0h0m3.7.1h0m-11.8.3h0m4.6.4h0m1 .4h0m4.9.3h0m-13.6 1.1h0m5.4.9h0m-12.4.6h0m8.5.1h0m1.9 0h0m5.9.3h0m5.6.2h0m-.6.5h0m-8.8.4h0m-.9.9h0m6.6.1h0m2.8 0h0m-8.6.5h0m2.9.3h0m5.9.5h0m-23.6.1h0m23.1.1h0m-4.2.5h0m2.1.2h0m-1.7.7h0m-19.1.6h0m21.1 1.8h0m-13.8 1.7h0m3.6.3h0m5.9.4h0m-12.7.1h0m17.6.2h0m-10.2.5h0m.3.1h0m-1.6.1h0m-10.9 1h0m12.1.4h0m-4.2.2h0m11.2.3h0m2.1 1.2h0m-21 .2h0m14.2.3h0m6.4.2h0m-3.3 1.5h0m1.1 0h0m-12.5.2h0m4.9 1.1h0m-8.7.4h0m16 .6h0m-9 .4h0m11 0h0m-3.1.4h0m2.9 0h0m-9.1.4h0m4.2.3h0m-4.5.5h0m6.9.1h0m-12.4.5h0m14 0h0m-17.2.7h0m8 .3h0m5.6 1.6h0m1.8.4h0m-9 1.2h0m7.8.8h0m-8.9.4h0m6.7.2h0m-.6 1.1h0m-5.4.4h0m2.2.1h0m-2.6 1.2h0m8.8 0h0m.7.1h0m-6.6 0h0m-.2.2h0m-8.6.2h0m.5.3h0m10.8.1h0m1.1 1.1h0m-14.3.9h0m14.4.4h0m-1.1.1h0m.7.1h0m-4.3.1h0m-9 0h0m11.2.2h0m-1.9.6h0m5.5.2h0m-16.1 0h0m11.4.4h0m-7 .2h0m10 .1h0m-.7.2h0m-8.9.1h0m-6 .4h0m13.4.1h0m-.9.6h0m-1.1 1.2h0m-9.6.4h0m13.5.8h0m-4.6.2h0m.3 2.6h0m-5.3.4h0m2.9.3h0m-1 .1h0m2.4.1h0m1.8.1h0m-5.2 0h0m-7.1.9h0m3.7.3h0m4.4 1h0m-8.1.3h0m7.5.1h0m-5.7.6h0m7.8.6h0m-6.1.3h0m3.8.1h0m.7 0h0m-3.3.2h0m6.3.3h0m.8.1h0m-.8.4h0m-4.9 1.6h0m3.9.3h0m-6.2 1.5h0m-.3.1h0m4.2.2h0m-.4.3h0m-1.3.1h0m-.2.9h0m1.4 1h0m.8.3h0m-7.2.9h0m2.5.2h0m.1.7h0m.6.1h0m-1.1.9h0m2.4.1h0m-1.1.5h0m.9 1h0m-2.1.8h0m-.6.6h0"/><path stroke="#8080c8" stroke-opacity="0.80" stroke-width=".9" stroke-linecap="square" d="m65.2 419.8h0m6.3.6h0m-2.5 0h0m-7.9.3h0m7.6.1h0m-9.7.4h0m12.2 1h0m-8.4 1.4h0m-.5 0h0m8.3 2.1h0m-10.4.1h0m9.5 0h0m-23.6.1h0m15.3.1h0m8.5 1.9h0m-2.7 1.3h0m-6.1.1h0m.8.4h0m5.5.3h0m-4.8 0h0m3.5.3h0m-9 .5h0m12.1.6h0m-14.8 2.1h0m3.2.7h0m-1.1 1.4h0m11.5.2h0m-5.3.1h0m-2.5.4h0m-18.7 0h0m16.2.1h0m10.9 0h0m-19.2 0h0m18.7.3h0m-.2.3h0m-22.5.1h0m22.2 1h0m-4.8 1.3h0m2.1.5h0m-.5.8h0m-.4.8h0m-5 1.3h0m-11.4 2h0m8.7.4h0m7.4.1h0m2.9.8h0m-1.8.4h0m-1.6.3h0m-2.8 1.5h0m-2.5.3h0m2.7.2h0m.2 1.6h0m-20.2.2h0m15.1 0h0m5.6.1h0m2.4.2h0m-14.1.5h0m5.1.4h0m10.3.9h0m-2.2.1h0m-1.7.1h0m.6.3h0m-3.2.4h0m-8.7 2h0m-3.5.7h0m11.1.1h0m6.2.4h0m-19.1.1h0m7.8.3h0m-1.5.3h0m10.3 0h0m-13.2.4h0m13.4 1.3h0m-17.1.2h0m6.1.1h0m11.7.2h0m-14.1 0h0m6.1.3h0m4.5.8h0m-16.2 1.2h0m4.7 0h0m8.1.4h0m-2.6 0h0m3.6.6h0m-4.6.4h0m3.4.1h0m3.5.6h0m-17 1.1h0m7.6.1h0m7.4.4h0m2.7.6h0m-4.5.2h0m-9.6.6h0m5.2.1h0m1.1.2h0m7.9.7h0m.5.4h0m-6.9.4h0m4.9.3h0m-1.9.4h0m2.9.9h0m-13.9.7h0m11.3.2h0m-8.2 0h0m10.2.1h0m-16.8 1h0m13.2.8h0m2 .1h0m-1.9.7h0m-2.8.3h0m1.9.4h0m3.6 0h0m-13.3 1.2h0m11.3 2.1h0m-7.3.7h0m-2.5.3h0m2.2.4h0m.7.6h0m3.1.6h0m-3.8.7h0m6.6.1h0m-11.6.4h0m9.7.1h0m-1.9.7h0m-5.5.2h0m-4.4 1.6h0m10.5.4h0m-7.6.1h0m2.7.4h0m1.6.4h0m4.1.2h0m-6.2.6h0m-2.7.3h0m1.8.2h0m2.4 1h0m.5.3h0m-4 .2h0m2.5.2h0m-4.3.4h0m2.6.4h0m.4.2h0m3.5.1h0m.2.4h0m.7.6h0m-3.6 0h0m-3.5.2h0m3.2.9h0m-3.5 1.1h0m3.5.7h0m-1 .2h0m-3 2.1h0m2.1 1h0m-.9 1.1h0m-2.7.2h0m1 .2h0m2.6 0h0m-.3.7h0m-.3.5h0m-1.9 1h0"/><path stroke="#8c8ca0" stroke-opacity="0.70" stroke-width=".9" stroke-linecap="square" d="m71.5 420.3h0m-3.5.4h0m2 .2h0m-6.3.2h0m8.4.1h0m-7.7.4h0m-4.5 1.3h0m-19.4.1h0m16.5 0h0m10.7 1.4h0m-1.8 0h0m2.2.4h0m-16.2.3h0m18 .7h0m-22.8.1h0m23.1 1.6h0m-9.5.5h0m-1.7.1h0m2.7 1.9h0m7.3.2h0m-16.2.1h0m12.9 1.2h0m-4.6.2h0m4.1.4h0m2.8 0h0m1.4.4h0m-.9.8h0m-5.3.7h0m-1.3 0h0m2 .6h0m-4.1 2.6h0m7.4.4h0m-6.2.2h0m-5.9 1.4h0m5.3.4h0m5.7.5h0m-6.7 1.4h0m6.8 0h0m-2.4 2.1h0m-1.4.1h0m-.1.1h0m-13.5 0h0m13.1.6h0m-1.1 1h0m3.9.6h0m-4.1.1h0m3 1.2h0m-4.9 0h0m-5.6.5h0m3.8 1.5h0m6.6.3h0m-1.9.4h0m-2.7.2h0m-4.2.3h0m-3.2 4.2h0m11 .9h0m.3 0h0m-1.3 3.1h0m-2.8.2h0m-9.3 1.6h0m9.9 2.3h0m2.3.1h0m-3.2.2h0m-.5 1.4h0m1.4.6h0m-19.2.2h0m14.4.4h0m1.2.6h0m-5.7 1.3h0m.6.3h0m-4.6 1.2h0m10.4.1h0m1.6.1h0m-15.2.4h0m5.3.1h0m5.8.4h0m3.5.3h0m-2.4.2h0m-8.8.9h0m12.1 2h0m-12 1.7h0m3.5.6h0m6.3.3h0m-14.1.9h0m.2 2.1h0m11.5 1.8h0m-4.1 1.3h0m-1 .8h0m2.2 3.5h0m-.8.1h0m-8.5 1.5h0m4.8 2.2h0m-3.8 1.7h0m3.5 1.4h0m-5.8 1.2h0m.7.5h0m4.5.1h0m-5.5.6h0m.3 1.4h0m1.4 3h0m-1.6 1.8h0"/><path stroke="#0808a0" stroke-opacity="0.90" stroke-width=".9" stroke-linecap="square" d="m148.7 495.3h0m-11.4 6h0m.3 3h0m-4.8.2h0m3.4.4h0m-6.6 1.7h0m.1.5h0m-3.1.4h0m-1.3.6h0m-2.2 1.1h0m-3.1 0h0m3.9.3h0m6.4.4h0m.2.1h0m5.2.7h0m6.2 1.7h0m-29.7 0h0m-2.2 1.9h0m-3.8.6h0m.4.3h0m-1.4.2h0m6.6.8h0m-19.6 1.3h0m14.4.7h0m-19.4.4h0m2.4 0h0m11.5 0h0m9.2.5h0m.9.4h0m-4.6 1h0m-34.9 1.2h0m15.2.1h0m-3.9.7h0m13.8.4h0m-7.8.1h0m-7.3 0h0m10 .3h0m14.7.1h0m5.3.2h0m-29.8 0h0m26.3 1.5h0m-48.5.3h0m44.5.4h0m-33.8.7h0"/><path stroke="#1a1aff" stroke-opacity="1.00" stroke-width=".9" stroke-linecap="square" d="m149.4 493.8h0m.1 0h0m-5.7 2.6h0m-.6 1h0m1.7.5h0m.8.8h0m1.6.2h0m1.3.1h0m-7.8.7h0m-1.7 1h0m-.2.2h0m4.8.8h0m-4.8 0h0m.1 0h0m5.4.4h0m-8.9.4h0m5.8.4h0m-6.4.3h0m6 .5h0m1.8.3h0m-9.7.8h0m-2 .7h0m14.2 0h0m-11.1.2h0m7.5.1h0m-9 .1h0m2 .1h0m-2.4.2h0m-1.5.3h0m12.5.1h0m3.7 0h0m-17.2.1h0m13.5.4h0m-8.5.9h0m-11.3.4h0m2.8.8h0m-1.9.1h0m8.3.2h0m-5.6.4h0m4.3.1h0m.1.3h0m4.2 0h0m-5.4.1h0m-12.6.1h0m-1.1.1h0m-1.4.1h0m5.8.1h0m3.7 0h0m-13.5 1h0m31 .1h0m-23.7 0h0m-5.4.7h0m14.5.1h0m-19.5.2h0m1.7 0h0m1.4.1h0m-5 .2h0m3.4.3h0m19.6.4h0m14.6.1h0m-29.2 1.1h0m-4.9.2h0m-8 .3h0m25.4.1h0m-25.1.2h0m-9 .2h0m11 0h0m-3.6.3h0m17.3.7h0m-22.4 0h0m6.8.1h0m25.3.3h0m-27.3.8h0m-1.8 0h0m-13.1.1h0m44.8.2h0m-36.4 0h0m21.3.4h0m-29.2.2h0m15.9.2h0m19.3 0h0m-35.3.3h0m6.2.5h0m27.6.1h0m-15.4 0h0m-19 .1h0m3.7 0h0m7.4.4h0m-10 .1h0m-5 .1h0m13.2.1h0m-15.5.2h0m-5.1.1h0m38.3.2h0m-20.4.1h0m-13.9.2h0m-.4.1h0m4.1.1h0m-2.6.7h0m19.2.2h0m-4.3.7h0m-28.1 0h0m24.9.5h0m-1.8.1h0m18 .2h0m-12.7.1h0m-16 .1h0m-10.7.1h0m-6.4.2h0m63.4.4h0m-19.2.2h0m-37.2.2h0m28.4.3h0m-37.7 0h0m18.9.1h0"/><path stroke="#2b2bd8" stroke-opacity="0.90" stroke-width=".9" stroke-linecap="square" d="m150.6 492.9h0m-1.5.8h0m.9.2h0m-3.6 1h0m2 .8h0m.6.4h0m-1.9.7h0m-2.3 1h0m1.3.2h0m-3.6.5h0m1.5 0h0m2 .9h0m-4.8.8h0m5.8.5h0m-.3.3h0m-2.9.1h0m-5 1h0m4.7 1.8h0m-10 .2h0m-2.4.4h0m4.1.3h0m-.9.2h0m-3.3.6h0m-1.8.2h0m9 .4h0m5.6 1.2h0m-2.6.6h0m-18 .3h0m12.9.1h0m1.6 0h0m.8.1h0m-14.7 0h0m-.5.4h0m11.1.3h0m-11.5.4h0m2.8.1h0m7 .5h0m-7.9.2h0m-7.6.3h0m6.1.1h0m14.5.2h0m-13.8.1h0m-11 0h0m6.9 0h0m-4.3.3h0m-7.7 1.2h0m.5 0h0m3.6 0h0m8.3.2h0m-1.5.7h0m.9 0h0m-.9.6h0m-3.4 0h0m25.6.1h0m-37.1.1h0m20.8.4h0m-26.4.2h0m23.5 0h0m-20.3.1h0m-.3 0h0m-1.3.3h0m31.9.2h0m4.9.3h0m-28 .3h0m8 .1h0m-19.7.4h0m.8.1h0m-6.1.3h0m44.9.2h0m-28.2.1h0m-20.5.2h0m15.5.1h0m4.5 0h0m-14.1 0h0m15.9.1h0m-5.2 0h0m4.5.1h0m-21.7 0h0m13.6.1h0m30.7.1h0m-37.6 0h0m2.2.1h0m10.1 0h0m.6.3h0m6.4.1h0m15.6.1h0m3.8 0h0m-44 .2h0m14.8.4h0m-8.6.1h0m-5 .4h0m2.6 0h0m8.5.3h0m-7.2 0h0m-11.7 0h0m-1.1.2h0m25.9 0h0m-8 .2h0m-18.7.3h0m13.4.1h0m10.8 0h0m4.9.5h0m23.2.1h0m-28.3.2h0m-2.1.2h0m-29.7 0h0m36.6.1h0m-30.5 0h0m19 .1h0m-25.9.2h0m-2.3.2h0m19.1.1h0m.2 0h0m11.5.2h0m-32.2.4h0m4.1.2h0m15.1 0h0m-15.8.4h0m18.4.5h0m-8.9.5h0m-11.1.9h0m-.6.1h0m.2.7h0"/><path stroke="#5a5ad0" stroke-opacity="0.80" stroke-width=".9" stroke-linecap="square" d="m149 493.6h0m0 1h0m-1.2.4h0m-1.9 1h0m-2 1.8h0m2.5.1h0m-6.7 1.6h0m.4 1h0m6.2.6h0m2 0h0m1.9.9h0m-9.2.3h0m2.9.7h0m-2.9.1h0m4.5.1h0m4.9.1h0m-16.5.1h0m.3.2h0m-1.4.7h0m-.3.2h0m8.4.1h0m-11.1.8h0m-.1.6h0m.1.5h0m-1.7.2h0m6.9 0h0m-3.4 1.2h0m9.8.6h0m-12.4.1h0m2.7.4h0m.4.1h0m-4.7.7h0m8.8.4h0m-18.5.1h0m7.1 0h0m15.9.2h0m-21.3.2h0m16.4 1.2h0m-27.2.1h0m-2.8 1.1h0m23.7.4h0m-23.8.1h0m2.9.1h0m11.9.4h0m-18.4.3h0m16.5 1.1h0m-25.5.6h0m18.3.8h0m15 .5h0m-6.4.1h0m-30.7.2h0m6 .4h0m-4.1.3h0m-7.3.6h0m4.2 0h0m34.7.2h0m-23.1.2h0m14.7 0h0m-13.1.2h0m29 .1h0m-48.9.2h0m20.8.2h0m-22.8.2h0m41.4.6h0m-38.1.2h0m-3.4.1h0m15.2.5h0m-3.4 0h0m2.4.1h0m-6.1 0h0m7.8 0h0m-20.8.1h0m15 0h0m21.8.3h0m-38.7.2h0m3.1.5h0m10.8.3h0m-10.1.4h0m19.2.7h0m-21.5.1h0m12.6.1h0m-10.8.7h0m5 .6h0m9.2.1h0m-21.5 0h0m.2 0h0m-4.9.5h0m2.9 0h0m9.2.1h0"/><path stroke="#8080c8" stroke-opacity="0.80" stroke-width=".9" stroke-linecap="square" d="m146.4 495.4h0m3.1.3h0m-2.8.3h0m-1.5.6h0m-2 1.2h0m-3.1 1.6h0m.3 1.5h0m8 .8h0m-10.4.5h0m-.7.5h0m13.3.6h0m-4.5 0h0m-14 .7h0m1.3.9h0m-1.5.3h0m-2.2.8h0m5.2 2.2h0m-9 .7h0m-3.1.2h0m8.6 1.3h0m13.1.1h0m-18.4 0h0m-8.5.4h0m-2.4 1.1h0m-2.2.1h0m21.2.5h0m-23.8.3h0m.3.2h0m1.9.2h0m-5 .2h0m4.5.2h0m21.8.1h0m-7.3 0h0m-1 .1h0m-14.6.1h0m-.5 0h0m-1.7.3h0m16.7.1h0m-2.7 0h0m-9 .5h0m-16.1.1h0m-1.5 1h0m7.2.1h0m3.3.3h0m16.5.1h0m-6.2.1h0m-26.6.4h0m8.7.2h0m-3.9.2h0m31.4 0h0m-18.4 0h0m-18.3.9h0m32.1.1h0m-36.2.4h0m37.6.2h0m-34.9.3h0m12.5.2h0m-16.7.3h0m-.7.2h0m13 .4h0m-17.5.4h0m-1.7.1h0m10.6.1h0m20.9.3h0m-18.1 0h0m.6.2h0m34 .3h0m-35.7 0h0m-7.1.1h0m27.6 0h0m-26.4.1h0m12.2.6h0m-25.9.1h0m16.2 0h0m-9.9.1h0m-9.3 1.8h0m13.3.1h0m-10.3 0h0m7.5.3h0m-9.7.4h0m5.1.1h0m-13 .3h0m51.4.1h0"/><path stroke="#8c8ca0" stroke-opacity="0.70" stroke-width=".9" stroke-linecap="square" d="m149.9 494.2h0m-1.2 1h0m-3.4 1.7h0m1.1.7h0m1.2.4h0m-8.1 2.8h0m-1.6 1.5h0m-3.4.3h0m-3 1.8h0m10.5.8h0m-7 .2h0m-3.9.7h0m.7.4h0m-4.4.2h0m1 .1h0m-9.7 3.4h0m1.1.9h0m-5.6.5h0m-5.6 1.4h0m-3.5.5h0m4.8 0h0m2.4.2h0m-4 .4h0m-5.8 0h0m2.4.3h0m18.9.6h0m-32 2.4h0m-3.1 0h0m2.2.6h0m-2.5.7h0m25.2.2h0m-21.9.7h0m-6 .2h0m4.3.5h0m-8 .1h0m15.9 1.5h0m-.6.1h0m-8 1.4h0m-21.1.3h0m-1.7 0h0m19.5.3h0m-11.8.4h0m5.8 1.3h0m-21.1.3h0m6.6 0h0m-9 .5h0"/></g><polygon points="83,446.4 126.3,450.7 116,508.3 69.4,522.4 54.1,501" fill="none" stroke="#222" stroke-width="0.8"/><rect x="40.6" y="419.6" width="110.1" height="106.6" fill="none" stroke="#555" stroke-width=".8"/><path stroke="#333" stroke-width=".8" fill="none" d="M44.62 526.2v1.4M48.73 526.2v1.4M52.85 526.2v1.4M56.96 526.2v1.4M65.2 526.2v1.4M69.31 526.2v1.4M73.43 526.2v1.4M77.54 526.2v1.4M85.78 526.2v1.4M89.89 526.2v1.4M94.01 526.2v1.4M98.12 526.2v1.4M106.36 526.2v1.4M110.47 526.2v1.4M114.59 526.2v1.4M118.7 526.2v1.4M126.94 526.2v1.4M131.05 526.2v1.4M135.17 526.2v1.4M139.28 526.2v1.4M147.52 526.2v1.4M40.5 526.2v2.6M61.08 526.2v2.6M81.66 526.2v2.6M102.24 526.2v2.6M122.82 526.2v2.6M143.4 526.2v2.6M40.6 520.7h-1.4M40.6 516.69h-1.4M40.6 512.69h-1.4M40.6 508.68h-1.4M40.6 500.68h-1.4M40.6 496.67h-1.4M40.6 492.67h-1.4M40.6 488.66h-1.4M40.6 480.66h-1.4M40.6 476.65h-1.4M40.6 472.65h-1.4M40.6 468.64h-1.4M40.6 460.64h-1.4M40.6 456.63h-1.4M40.6 452.63h-1.4M40.6 448.62h-1.4M40.6 440.62h-1.4M40.6 436.61h-1.4M40.6 432.61h-1.4M40.6 428.6h-1.4M40.6 420.6h-1.4M40.6 524.7h-2.6M40.6 504.68h-2.6M40.6 484.66h-2.6M40.6 464.64h-2.6M40.6 444.62h-2.6M40.6 424.6h-2.6"/><text x="40.5" y="535.1" text-anchor="middle" font-size="4.6" fill="#111" stroke="#111" stroke-width="0.14">0</text><text x="61.08" y="535.1" text-anchor="middle" font-size="4.6" fill="#111" stroke="#111" stroke-width="0.14">50K</text><text x="81.66" y="535.1" text-anchor="middle" font-size="4.6" fill="#111" stroke="#111" stroke-width="0.14">100K</text><text x="102.24" y="535.1" text-anchor="middle" font-size="4.6" fill="#111" stroke="#111" stroke-width="0.14">150K</text><text x="122.82" y="535.1" text-anchor="middle" font-size="4.6" fill="#111" stroke="#111" stroke-width="0.14">200K</text><text x="143.4" y="535.1" text-anchor="middle" font-size="4.6" fill="#111" stroke="#111" stroke-width="0.14">250K</text><text x="36.2" y="527.1" text-anchor="end" font-size="4.6" fill="#111" stroke="#111" stroke-width="0.14">0</text><text x="36.2" y="507.08" text-anchor="end" font-size="4.6" fill="#111" stroke="#111" stroke-width="0.14">50K</text><text x="36.2" y="487.06" text-anchor="end" font-size="4.6" fill="#111" stroke="#111" stroke-width="0.14">100K</text><text x="36.2" y="467.04" text-anchor="end" font-size="4.6" fill="#111" stroke="#111" stroke-width="0.14">150K</text><text x="36.2" y="447.02" text-anchor="end" font-size="4.6" fill="#111" stroke="#111" stroke-width="0.14">200K</text><text x="36.2" y="427" text-anchor="end" font-size="4.6" fill="#111" stroke="#111" stroke-width="0.14">250K</text><text x="93.9" y="545" text-anchor="middle" font-size="10.15">FSC-A</text><text transform="translate(22 470) rotate(-90)" text-anchor="middle" font-size="10.15">SSC-A</text>
<clipPath id="c10"><rect x="196" y="419.6" width="111" height="106.9"/></clipPath><g clip-path="url(#c10)"><g filter="url(#bl)"><path fill="#0000ff" fill-rule="evenodd" d="M219.5 419.2l7 37.6 3 12-1 1.4-12.7 4.6-6 5.7-1 2.7-.6 7.6.6 2.7 2.7 3.3 4.3 0 17.4-2 19.3-3.3 10.3-5 3.4-2.7 0-1.6-2.4-3.7-6-6.7-8-11.6-6.3-12.7-4.7-13.7-3.3-14.6z"/><path fill="#0010ff" fill-rule="evenodd" d="M266.2 482.2l-3.7-5-5-.4-18.7.4-18.3 2-10.7 2-.6.6-1 10 .6 1.7 2.7 3.3 4.3 0 17.4-2 20.3-3.6 11.3-6 1.4-1.4z"/><path fill="#0020ff" fill-rule="evenodd" d="M266.2 482.2l-1-1.7-14-1.3-13.4.3-15 1.7-13.6 3-1 7.6.6 1.7 2.7 3.3 4.3 0 17.4-2 20.3-3.6 11.3-6 1.4-1.4z"/><path fill="#0036ff" fill-rule="evenodd" d="M266.2 483.5l-2-1-6.4-1.3-10-.7-10.6.3-12 1.4-7.4 1.3-9 2.7-.6 5.6 2 3.7 11.6.7 11.4-1.4 20.3-3.6 9.3-4.7 2-1.3z"/><path fill="#0052ff" fill-rule="evenodd" d="M263.8 485.8l-1-1.3-2-1-5.6-1.3-22.4 0-7.6 1-12.4 3-4.3 2-.3 3.6 1 1.7 5.6 1.3 15.7.4 22-3.7z"/><path fill="#006eff" fill-rule="evenodd" d="M260.2 486.5l-.4-1-1.3-1-4.7-1.3-6.6-.7-12.4.3-8.3 1-10 2.4-4 1.6-2.7 2.7.4 1 1.3 1 4.7 1.3 6.6.7 12.4-.3 10-1.4 8.3-2 4-1.6z"/><path fill="#0092ff" fill-rule="evenodd" d="M256.5 486.2l-2.7-1.7-5.6-1-15.7.3-10 1.7-5.3 1.7-3.7 2.3 0 1.3 2.7 1.7 5.6 1 15.7-.3 6-.7 9.3-2.7 3.7-2.3z"/><path fill="#00b6ff" fill-rule="evenodd" d="M253.2 486.5l-2-1.3-6-1-12 .3-6.7 1-7 2-4 2-.7.7 0 1 2.7 1.3 4 .7 11.7 0 3.3-.7 5.3 0 4.4-1 2.6-1.7 3-1 1.4-1.3z"/><path fill="#00dafa" fill-rule="evenodd" d="M249.8 486.8l-.6-.6-3.7-1-11.3 0-10 2-3 0-4.4 2-1.3 1.3.7 1 1.3.7 6.7 1 18.6-1 4.7-1.7 2.3-2.7z"/><path fill="#00fff0" fill-rule="evenodd" d="M248.5 488.2l-.7-1-1.3-.7-3-.7-12 .4-10.7 1.3-3.6 2-.7 1.3 1.3 1 4.7 1 10 0 6-1 2.7.4 3.6-.7 2.4-1 1-1z"/><path fill="#00ffbe" fill-rule="evenodd" d="M248.2 488.2l-1.4-1.4-2.3-.6-14.7.3-9.3 1.3-3 2.4 0 .6 1.3 1 2.7.7 5 .3 7.7-.3 3-.7 5.6 0 4.4-1.6z"/><path fill="#00ff8c" fill-rule="evenodd" d="M247.8 488.5l-1-1.3-3.6-1-11 .3-8 1.3-3 0-2.7 2 0 1 2.7 1.4 10.6.3 6-1 3.4.3 3.6-.6 2.4-1.4z"/><path fill="#00ff57" fill-rule="evenodd" d="M247.5 488.5l-.7-1-2.3-1-13.3.3-10.4 1.4-1 .6-.3 2 2.3 1.4 11 0 5.4-1 4.3.3 3.3-1 1-.7z"/><path fill="#00ff2d" fill-rule="evenodd" d="M246.8 487.8l-3.6-1.3-4 .7-8.7 0-4.7 1-4.3 0-1.3.6-.4 1.7 1.7 1.3 12 0 3-.6 5 .3 4.3-1.3 1-1z"/><path fill="#00ff0f" fill-rule="evenodd" d="M246.5 488.2l-2.3-1.4-4 0-1.7.7-7 0-6.3 1.3-1.4-.6-1.6 0-2 1.3 0 1 2 1.3 1.6 0 1.4-.6 7.3.3 5-1 1.3.7 4 0 2.7-1 1-1z"/><path fill="#12ff00" fill-rule="evenodd" d="M220.5 489.5l0 1 1.3 1 2.4 0 1.3-1 0-1-1.3-1-2.4 0zM246.2 488.2l-1.4-1-1.6-.4-3.7.4-1.7.6-1 1 0 1 1.4 1 1.6.4 3.7-.4 1.7-.6 1-1z"/><path fill="#36ff00" fill-rule="evenodd" d="M220.8 489.5l0 1 1.7 1 2-.3.7-.7 0-1-1.7-1-2 .3zM237.2 489.8l1.6 1 4 0 2-.6 1-1 0-1-1.6-1-4 0-2 .6-1 1z"/><path fill="#5aff00" fill-rule="evenodd" d="M221.2 489.5l0 1 1 .7 1.6 0 1-.7 0-1-1-.7-1.6 0zM237.5 489.8l2.3 1 3.7-.3 2-1.3 0-1-2.3-1-3.7.3-2 1.3z"/><path fill="#b2ff00" fill-rule="evenodd" d="M221.5 489.5l.3 1.3 2.7-.3-.3-1.3zM237.8 489.8l1.4.7 3.6 0 1.7-.7.7-.6 0-1-1.4-.7-3.6 0-1.7.7-.7.6z"/><path fill="#e9f000" fill-rule="evenodd" d="M222.8 489.2l-1 1 1.4.6 1-1zM238.2 488.8l.6 1.4 1.4.3 3-.3 1.6-1-.6-1.4-1.4-.3-3 .3z"/><path fill="#ffcf00" fill-rule="evenodd" d="M238.5 488.8l0 .7 1 .7 3 0 2-1 0-.7-1-.7-3 0z"/><path fill="#ffa000" fill-rule="evenodd" d="M244.2 488.8l-.7-.6-2-.4-2.7 1.4.7.6 2 .4z"/><path fill="#ff7200" fill-rule="evenodd" d="M239.5 488.8l0 .7.7.3 2 0 1.3-.6 0-.7-.7-.3-2 0z"/><path fill="#fd4900" fill-rule="evenodd" d="M240.2 488.8l0 .7 2.6-.3 0-.7z"/></g><path stroke="#1010ff" stroke-opacity="0.30" stroke-width=".9" stroke-linecap="square" d="m212.5 421.1h0m3.7 1.6h0m2.6.1h0m-6.8.3h0m6.3.4h0m-7.1 2.3h0m3.3 1.5h0m-8.1.9h0m14.3 1.6h0m-1.3 3.5h0m-7.4 0h0m3.5.8h0m4.5.1h0m-2.4 6.6h0m5.6 3.1h0m-.7 3.6h0m-4.4.6h0m4.9 1.1h0m-.4 2.2h0m-1.1 2h0m4.2 4.3h0m-3.9 1.3h0m-1.2.5h0m5.5 1.5h0m-1.7.7h0m2.4 1.8h0m.4.1h0m-11.1 1.8h0m5.5 1.5h0m5 .8h0m1.1 1h0m-14.8.2h0m7.2.4h0m-.5.7h0m7.4.4h0m-5.2 1.2h0m-5.6.2h0m-6.4 2.2h0m4.7 1.1h0"/><path stroke="#1010ff" stroke-opacity="0.50" stroke-width=".9" stroke-linecap="square" d="m213.9 419.7h0m1.9.3h0m2.8.1h0m-2 0h0m2.3 0h0m-1 .3h0m1.1.1h0m-8.5.1h0m5.2.1h0m.5 0h0m-11.3.1h0m13.5.1h0m-6.3 0h0m4.8.1h0m2.3.2h0m-.3.1h0m-9.2.2h0m-5.8.1h0m6 .2h0m-.4.1h0m-.8.1h0m2 0h0m6.2.3h0m-.6.1h0m-7.5.4h0m10.8 0h0m-6.9.1h0m6.1.3h0m-4.9.1h0m3 .3h0m2.2 0h0m-1.8 0h0m2.3.2h0m.3.4h0m.2.1h0m-8.1.9h0m7.1 0h0m-.7.2h0m2.1.4h0m0 .1h0m-2.4.4h0m-7 .1h0m4.1.1h0m-3.1 0h0m5.9.2h0m-9.2.4h0m3.8.2h0m1.2.2h0m5.2.3h0m-3 .2h0m.9.3h0m1.3.1h0m-10.2 0h0m5.5.6h0m2.2.1h0m1.4.2h0m.8 0h0m.6 0h0m1.9 0h0m-9.5.2h0m-5.7 0h0m8.8.2h0m3.5 0h0m2 .1h0m-2.1.1h0m-1.8.1h0m5.5.1h0m-10.8 0h0m9.1.6h0m-8.9.4h0m8.8.3h0m-3.4.4h0m.2.4h0m4 .1h0m-2 .1h0m-1.6.4h0m2.8.2h0m-3.7.3h0m-4.2.2h0m-3.7.2h0m13.7.7h0m-6.8.7h0m2.7.1h0m4.1.3h0m-1.9 0h0m-4 .2h0m5.6.1h0m-1.5.1h0m1 .4h0m-9.2 0h0m10.1.1h0m-11.2.4h0m.7.2h0m.3.2h0m5.3.6h0m2.6.2h0m.4.2h0m3 0h0m-11.9.3h0m8.6.8h0m-2.9 0h0m4.7.1h0m-7.4.9h0m5.2.1h0m-3 .2h0m2.7.3h0m4.4.1h0m-3.2.1h0m1.4.1h0m1.4 0h0m-5.4.1h0m1.6 0h0m-12.7.1h0m7.1.2h0m1.5 0h0m-7.5.2h0m14.6.2h0m.1.1h0m-3.7 0h0m.5.2h0m-3.2.3h0m-5 .2h0m5.5.3h0m-7.9 0h0m11.4.2h0m-14.1 0h0m15.4.2h0m1.9.5h0m.3.1h0m-2.8.1h0m-2 .1h0m1 .1h0m2.9.2h0m-6.4.1h0m5.8.1h0m-9.5.1h0m7.3 0h0m-5.5.3h0m5.4.5h0m-7.4 0h0m2 .2h0m.7.4h0m3.1.1h0m1.5.3h0m3.6.2h0m.8.1h0m-13.4.1h0m11.6.3h0m0 .1h0m-2 0h0m.2.1h0m-.5.4h0m-1.7 0h0m4.1.1h0m-1.3.2h0m2.3.2h0m1.1.7h0m-7.7 0h0m-7.6.1h0m16.1.6h0m-3.6.4h0m-6.2.3h0m-.8.2h0m6.6.3h0m-2.4.3h0m-6.3 0h0m12.5.5h0m-16.1 0h0m16.9.4h0m-3.1.3h0m-4.2.4h0m-1.1.2h0m.4.4h0m6 .1h0m2 .2h0m-3.5.1h0m-7.7.1h0m5.7.2h0m5.7.1h0m-20.2 0h0m17.2.2h0m1.8.2h0m.5.1h0m-2.4.1h0m-1.6 0h0m-7.3 0h0m-2.2.1h0m8.1 0h0m-2.6 0h0m4.6.1h0m3.1.1h0m-3.6.3h0m-.7.4h0m.3.2h0m4.8.1h0m-13 .5h0m9.7.1h0m0 .1h0m1.8.1h0m1.9.2h0m.2.1h0m-5.2.2h0m4.5.3h0m.5.2h0m-4.5.1h0m3.3 0h0m-15 .2h0m15.2 0h0m-11.2.7h0m9.8.1h0m-1.6.2h0m.2.3h0m1.3.4h0m3.9 0h0m-12.9 0h0m5.6.1h0m-11.4 0h0m13.2 0h0m4.2 0h0m-2.4 0h0m-8.7.1h0m.5.2h0m7.6 0h0m4.1 0h0m-2.8 0h0m.4.2h0m-2.9.4h0m.7.5h0m-1 .2h0m-7.2.1h0m13 .1h0m-.6.3h0m-2.1.1h0m-4.3.2h0m6.1 0h0m-4.2.3h0m5.8 0h0m-6 .1h0m2.5.1h0m2.9.4h0m-7.8.4h0m-7.2.3h0m12.2 0h0m-14.2.3h0m-2.5.4h0m.6 0h0m20.3.3h0m-4.9 0h0m-6.8.1h0m-4.3.4h0m14.5.2h0m.2 0h0m-.7.1h0m.7 0h0m-12.2.3h0m10.1.3h0m-7.6 0h0m-6.4 0h0m17.7.1h0m-2 0h0m1 .1h0m-12.4.1h0m8.1 0h0m-1 .1h0m-1.4.2h0m1.2.2h0m6.2.3h0m-13.7.3h0m.8.1h0m.4.3h0m-7.7 0h0m17.6 0h0m-6 0h0m-6.8.2h0m7.8.2h0m3 0h0m3.3.1h0m-3 .1h0m-5.8.2h0m8.5 0h0m-19.9 0h0m12.9.1h0m-2.1 0h0m10.9.1h0m-1.8.2h0m-13.5 0h0m10.1.1h0m3.4.2h0m-4.3.2h0m-4.4 0h0m6.9 0h0m-14.5.1h0m4.9.1h0m7.8.4h0m-9 .2h0m-7.1 0h0m13.3.3h0m3.9.1h0m-.7.1h0m-9.6.1h0m9 .1h0m-1.1 0h0m-14.1.1h0m10.6.3h0m-4.1.1h0m3.3 0h0m3.4.1h0m-9.7 0h0m-4 .1h0m8.7.1h0m-6 .1h0m.8.4h0m6.9 0h0m-6.9.1h0m7.1.2h0m-2.8.1h0m1.1 0h0m-5 .4h0m-.1.4h0m.7.1h0m1.7.4h0m-.1.1h0m.6.1h0m-5.1.7h0m4 0h0m.8.1h0m-.1.1h0m-3.8.4h0m-1.5.1h0m4.3.2h0m.5.1h0m-2 .2h0m-3 .1h0m3.9.4h0m.4.1h0m-.5.4h0m-2.8 1.4h0m.8.2h0m-.4.2h0m0 .1h0m-.8.2h0"/><path stroke="#1010ff" stroke-opacity="0.75" stroke-width=".9" stroke-linecap="square" d="m218.9 419.7h0m-3.6.2h0m-7 .1h0m7.1.6h0m-2.7.3h0m2.8.2h0m-3 .1h0m4.2 0h0m2.7 0h0m-1.9.1h0m-.6.2h0m2.6.2h0m-4.3.3h0m.8.1h0m-.2.1h0m-3.7.1h0m7.6 0h0m-3.1.1h0m2.3.1h0m-6.4 0h0m6.2.2h0m-6.5.1h0m-.1.1h0m3.7.5h0m3.8 0h0m-.5.1h0m-2.9.4h0m-1.4.4h0m5.1.1h0m-5.5 0h0m5.6.3h0m-2.6.2h0m1.5 0h0m-9.1 0h0m6.3.1h0m1.9 0h0m-3.8.2h0m-5.8.2h0m10.3.1h0m1.7.3h0m-.4.7h0m-15.3.3h0m12.9.3h0m-.9.1h0m-3.5.2h0m6.3 0h0m-3.8.4h0m1.5.6h0m3.4 0h0m-8.7.1h0m7.7 0h0m-1.5.2h0m-1.6 0h0m-7.3.1h0m.6.3h0m9.7.1h0m.5.3h0m-1.2.1h0m1.3.2h0m-16.3.2h0m16 .1h0m.3.1h0m-4.1 0h0m-9.2.2h0m.1.1h0m8.1.5h0m-1.6.5h0m3.1 0h0m4.3.3h0m-5.4.1h0m5.4.2h0m.7.1h0m-9.8.7h0m6.6 0h0m-2.5.2h0m5.9 0h0m-11.6.1h0m5.3.3h0m-9.3.1h0m13 .2h0m-2.6.1h0m4.5.3h0m-6.6.1h0m-9.9.3h0m12.5.2h0m3.2.2h0m-3.8.2h0m-7.8.2h0m9.6.2h0m3.2 0h0m.3 0h0m-14.8.1h0m2.8 0h0m8.7.4h0m3.7.2h0m-1.6.1h0m-3.3.2h0m-12.1 0h0m17.1.1h0m-.1.2h0m-1.9.3h0m.4 0h0m.5.1h0m-5.3 0h0m4.2.1h0m1.9 0h0m-15.1.1h0m7.5.1h0m-8.2.3h0m5.6 0h0m10.5.2h0m-9.9.1h0m8.5.2h0m-13.4.1h0m14.5.1h0m-9.2.2h0m9.8 0h0m-10.8.4h0m-7.3.2h0m17.8.1h0m-6.8 0h0m.7.6h0m6.4.2h0m-.1 0h0m-5.8.1h0m4.4.2h0m-2.6.2h0m3.8.3h0m-4.5.8h0m4.2.3h0m.5.1h0m1.2.4h0m-13.1.1h0m10.5.1h0m.6.1h0m-.4.2h0m2 .2h0m.2.1h0m-2.5 0h0m1.9.2h0m-5.3.1h0m-9.1.1h0m12.2.1h0m-6.5 0h0m3 0h0m-6 .2h0m12.6 0h0m-6.5.1h0m-5.1.1h0m7.9 0h0m-.3.2h0m1.1 0h0m-5.1.2h0m8.1 0h0m-9.4 0h0m7.6.1h0m.7 0h0m-9.5 0h0m2.9 0h0m6.7.2h0m-6.4 0h0m-4.1.1h0m11.5 0h0m-3.5.1h0m-7.2 0h0m9.4.1h0m1.4.1h0m-.8.3h0m-7.9.4h0m2.2 0h0m-5.7 0h0m8.7.1h0m1.8.4h0m-5.6.2h0m.9.1h0m-12.5.1h0m7.8.1h0m8.9 0h0m.2.5h0m2.4.1h0m-4.6 0h0m4.3.1h0m-4.4.1h0m-1.5.2h0m-1.6 0h0m7.7 0h0m-1.7.2h0m-.4 0h0m2.1 0h0m-.2.4h0m-.1 0h0m-12.2.1h0m12.1.7h0m.5.4h0m-9.3 0h0m9.3.3h0m-11.7.1h0m11.1.1h0m-4.6.1h0m3.5.2h0m1.8.1h0m-4.7.3h0m5.4.5h0m-4.5.1h0m2.2.1h0m.4.1h0m-.4.1h0m-5.6.3h0m6 0h0m1.9 0h0m-10.4.1h0m-.1.1h0m3.5.1h0m-1.8.2h0m-3.2 0h0m8.6 0h0m-2.5.2h0m-10.5.1h0m16.8.4h0m-13.4.3h0m3.7.3h0m-3.3.2h0m13.1.3h0m-16.6.2h0m4.7.3h0m9.6 0h0m-13 .1h0m11.1.4h0m-1.1.4h0m.9.1h0m2.7.2h0m.6.1h0m-.4.2h0m.4.1h0m.9.1h0m-.9 0h0m-3.5.2h0m4.2 0h0m-1.2.1h0m-3.2 0h0m1.3.1h0m-8.6.3h0m8 .3h0m-5.2.1h0m8.5.5h0m-.3.3h0m-12 .4h0m11.6.1h0m-4 .1h0m3 .1h0m-13.2.1h0m11.7.1h0m1.9.2h0m.8.3h0m-2.4.1h0m5 .3h0m-.2.4h0m-13.7 0h0m8.7.2h0m5.2.1h0m-4.2.3h0m-16.1.1h0m14.3.5h0m-9.5.1h0m12.4.1h0m0 .1h0m-7 .6h0m7 .9h0m-6.4 0h0m-8.5.1h0m16.1.4h0m-14.1.3h0m7.5.2h0m2.1.1h0m3.3.1h0m-1.1.4h0m5.6 0h0m-3.8.3h0m2.7.1h0m1.3.2h0m-9.5.2h0m-10 .1h0m9.2.1h0m5.6.1h0m3.5 0h0m.1.1h0m-19.7 0h0m13.3 0h0m7 .1h0m-1.1.1h0m1.6.3h0m-13.9.1h0m9.5 0h0m-10.2.1h0m-5.1.1h0m19.2.3h0m-16 .1h0m2.4.1h0m4.5.2h0m2.7.1h0m6.1 0h0m-7.5 0h0m6.3.1h0m-17.2.1h0m2.9 0h0m4.3.2h0m7 .2h0m-.8.1h0m5.2.1h0m-4.7.1h0m-2.2.3h0m5.3 0h0m-9.1 0h0m11.2.2h0m-3.2 0h0m-9.7 0h0m9.3 0h0m-14.7.3h0m14.1 0h0m-5.7.2h0m-5.3.1h0m1.6.3h0m7.3 0h0m-8.5.1h0m-6.1.1h0m13 0h0m-10.8.2h0m12.1.1h0m-4.7.2h0m1.1 0h0m-10.6.2h0m2.9 0h0m9.8 0h0m-10 .1h0m9.4.1h0m-7.2 0h0m8.9.2h0m-1.4.1h0m-3.1.3h0m-4.9.1h0m3.6 0h0m-4.8 0h0m5.3.1h0m-2.2.1h0m1.8 0h0m2.3.2h0m2.2 0h0m-.8.2h0m-4.8.8h0m2.8 0h0m-6.3.1h0m2 .2h0m3.3 0h0m-.3.2h0m-3.3.1h0m-1.7.1h0m1.9.2h0m2.1.4h0m-.4 0h0m-4.6.1h0m2 .8h0m1 .3h0m-2.5.6h0m.1.1h0m.3.3h0m-2.5 0h0m3.9.1h0m-.6.3h0"/><path stroke="#1010ff" stroke-opacity="1.00" stroke-width=".9" stroke-linecap="square" d="m218.6 420.4h0m-4.9.5h0m.5 1.5h0m5.7.5h0m.1.4h0m-2.3.2h0m-9 .1h0m9 0h0m0 .1h0m1.1.1h0m.5 0h0m1 .6h0m-2.7.5h0m2 .2h0m-1 .3h0m-14.8.3h0m8.1.3h0m-.8.2h0m6.7 1h0m.1 1h0m.7.1h0m-14.6.1h0m17 .3h0m-5.3 0h0m3.2 1.6h0m-4.4 1h0m4.3.8h0m.7.7h0m1.2.1h0m-4 .1h0m-12.9.2h0m17.1.6h0m-3.6.3h0m-6.2.9h0m7.6.4h0m-5.1.3h0m-.1.1h0m1.7 2h0m-.3.4h0m4.9.5h0m2.9.3h0m-9 1.6h0m5.2.6h0m-4.8.1h0m-2.1.2h0m9.3.4h0m-.4.4h0m-5.7.8h0m-2.3 1.1h0m10.8 1h0m-1.9.5h0m-.5.7h0m-.3.1h0m2.8.2h0m-10.5.2h0m10.5.3h0m-1.8.1h0m1.1.1h0m-4.3.9h0m-6 .2h0m10.2 0h0m1.6 1h0m-4.2.3h0m-4.8.2h0m-.4.2h0m8.4.2h0m1.5.3h0m-7.7.8h0m6 .3h0m-7 .2h0m8.8.2h0m-2.6.5h0m.2.3h0m-2.7.3h0m5.4.4h0m-3.1.4h0m2.3.2h0m-7.2.1h0m4.6 1.3h0m-6.7.4h0m8.1.9h0m2.8 0h0m-16.6.2h0m16.9.4h0m-5.5.8h0m.9.5h0m-9.3.4h0m-5.4 0h0m17.5 0h0m-10.1 1.1h0m8.8.9h0m-5.9.2h0m-4.9.1h0m14.9.2h0m-8.3.5h0m7.6.5h0m-2.3.3h0m.2.2h0m-6.8 0h0m6.6.2h0m-16.1.1h0m2.8.2h0m-.4.1h0m11.4 0h0m-5.8.4h0m-8 .3h0m12.6.2h0m6.4.1h0m1 2h0m-19.2 0h0m17.7.3h0m.6.1h0m.4.1h0m-14.8.6h0m3.6.2h0m-7.3.1h0m9.8.2h0m9.8.1h0m-8.5.1h0m8.2 0h0m-3.7.4h0m-5.3 0h0m5.2.5h0m2.4 0h0m-1.1.2h0m-2.2.1h0m-3 .5h0m-12.5 0h0m2.1.3h0m8.9.2h0m-7.5.2h0m9.1 0h0m-7.2.1h0m-1.3.4h0m3.4.5h0m2.2 0h0m-3.8.1h0m4.8.6h0m-.5.3h0m-9 .1h0m4.6.2h0m-2.4 0h0m1.2.1h0m2.4.8h0m-.9.1h0m-3.1 1.6h0m1.4.9h0m-.7.1h0m-.9 1.2h0m-.4.8h0m-1.4.6h0m.3.2h0"/><path stroke="#1010ff" stroke-opacity="0.30" stroke-width=".9" stroke-linecap="square" d="m204.2 421.8h0m-.4 3.4h0m-.9.8h0m2 4h0m.1 3.1h0m.3 12h0m1.3.8h0m-1.6 3.3h0m2.9 3.5h0m-3.3.6h0m1.4 1.4h0"/><path stroke="#1010ff" stroke-opacity="0.50" stroke-width=".9" stroke-linecap="square" d="m204 420.4h0m-.8 0h0m.5.2h0m1.4 1.2h0m-1.7.4h0m-.5.2h0m.7.1h0m-.7.1h0m2.2 1.5h0m-.4.3h0m-.8 1.1h0m.8.9h0m-1 .1h0m2.8 1.3h0m-1.2.1h0m-1.2 1.4h0m1.2.3h0m-1.8 0h0m2.7.1h0m.6.2h0m-2.6.1h0m.2 1.2h0m1.1.6h0m-.4.2h0m-.5.3h0m-.8.1h0m1.6.3h0m0 .8h0m1.4.1h0m-3.7.2h0m1.1.2h0m.3.1h0m2.1.4h0m-2.6.4h0m.8 1.1h0m-1.5.5h0m3.1.2h0m-.8.3h0m-2.6 1.3h0m1.5.4h0m-.5.8h0m.2.7h0m2.4 1.2h0m-2.1.4h0m1.8.4h0m-2.4.2h0m1 .4h0m1.6.1h0m-1.6 1.5h0m1.2.8h0m-2.3.3h0m.9.1h0m1.6.4h0m-1.3.7h0m1.9 0h0m-1.1 1h0m.7.8h0m-1.5.8h0m2.8.5h0m0 .1h0m-.4.2h0m-2 .7h0m2.3.1h0m-2.9 1.1h0m1.1.1h0m-.5.1h0m1 1h0m-1.8.7h0m1.5.6h0m1.6 0h0m-.6.7h0m1 1.3h0m-.8 0h0m-1.6.8h0m.8.3h0m1.9.2h0m-.5.9h0m-3.2 0h0m.3.1h0m1.6 1h0m-1.2 1.4h0m1.2 1.3h0m2.1 3.5h0m-.1 1.8h0m-.9 2.7h0m-1 1.2h0"/><path stroke="#1010ff" stroke-opacity="0.75" stroke-width=".9" stroke-linecap="square" d="m203.9 420.7h0m.1.6h0m-.4 1.1h0m-.7.3h0m0 .3h0m.9.3h0m2.2.4h0m-1.2.4h0m.2.3h0m.3.9h0m1 1h0m-1 2.5h0m1.4.9h0m-1.9 1.1h0m.5 1.2h0m-.4.1h0m1.7 1.1h0m0 2.2h0m-3.3.5h0m.4.7h0m3.6.1h0m-3.9.6h0m1.3.3h0m-.6.4h0m.1 1.3h0m1.8.6h0m-1.1.4h0m1.2 1h0m.8.6h0m-2.9.1h0m1.7.4h0m-1.1.7h0m.4.3h0m.6.6h0m.9 0h0m-3 .5h0m.2 2.1h0m1.6.8h0m.7 2.5h0m1.3 2.2h0m.1.3h0m-.6 1.2h0m-.9 1.1h0m1.4.1h0m-2.9 0h0m1.5.1h0m-1.5.3h0m3.6.3h0m-2.9 1.4h0m1.2 1.8h0m-.3.3h0m1.6 1.2h0m-1.5 1.3h0m1.1.1h0m-1.5 2.5h0m0 .8h0m.7.2h0m-.7.6h0m1.9.4h0m-1.6.3h0m.4 1.8h0m1.3.9h0m-.2.5h0m1.1.2h0m0 .5h0m-1.1.2h0"/><path stroke="#1010ff" stroke-opacity="1.00" stroke-width=".9" stroke-linecap="square" d="m203.3 420.8h0m.1 1.1h0m1.8 5.2h0m1.3.1h0m-.7 2.1h0m.1.6h0m-.2 2.5h0m-.4 2.4h0m1.2.2h0m-2.7.7h0m-.6 1.1h0m3.8.8h0m-1.8 0h0m-1.7.2h0m2.7 1.9h0m-2.3.5h0m3 1.9h0m-.4.3h0m0 .1h0m.8 1.8h0m-.5 0h0m-2.5 1.3h0m-.2.3h0m2.8.3h0m-1.3 4.4h0m1.8.5h0m-1 .1h0m-1.7.2h0m2.3.7h0m-1.3 2.5h0m-.7 3h0m1.1 2.2h0m-.3 1.7h0m2.8 1.4h0m-2.5.7h0m0 1.7h0m2.7 4.7h0"/><path stroke="#1010ff" stroke-opacity="0.30" stroke-width=".9" stroke-linecap="square" d="m217.2 470.8h0m-6.8 1.4h0m2.1 2.9h0m.7.9h0m-1.5.4h0m0 .8h0m1.6.1h0"/><path stroke="#1010ff" stroke-opacity="0.50" stroke-width=".9" stroke-linecap="square" d="m220.8 466.4h0m.8.4h0m-.5.3h0m-3.9.3h0m3.1.1h0m-4.3.3h0m.4.8h0m-2.4.4h0m5.3.3h0m-5.6 0h0m.6 0h0m4.2.2h0m-3.9.3h0m-1.9.3h0m-2.2.3h0m3 .1h0m2.7.1h0m1.6.1h0m-7.3.1h0m7.2.1h0m-4.5.3h0m.2 0h0m1.9.1h0m3.7.5h0m-10.8.2h0m10 .2h0m.3 0h0m-8.8.2h0m-.3.1h0m9.2.1h0m-6.5.1h0m2.3.3h0m1.4.1h0m-4.1.1h0m4.1.3h0m-1.2.1h0m3.1.2h0m-4.5.9h0m.7.1h0m-4.3 0h0m1.6 0h0m3.3.1h0m-2.8.2h0m1.4.4h0m-1.5.4h0m-2.1.5h0m2.9.5h0m-2.9.2h0m.2.5h0m1.2.2h0m.5.3h0m-2.4.6h0m1.8.5h0m.1.1h0m-1.3 1.4h0"/><path stroke="#1010ff" stroke-opacity="0.75" stroke-width=".9" stroke-linecap="square" d="m219.5 466.8h0m-2.4.8h0m1.7.1h0m-1.2.3h0m-1.7.2h0m-.6.1h0m5.2.1h0m-5.4.1h0m4.7 0h0m-3.9.1h0m-2.4 0h0m7.2.3h0m-8 .1h0m2.7 0h0m1.1.1h0m-1.9.2h0m-2.6 0h0m-1.1.2h0m-.2.1h0m8.3.2h0m-6.5 0h0m1.5.1h0m2.2 0h0m-4.5.1h0m.5 0h0m4.2 0h0m-5.6.2h0m3.7.1h0m2.9 0h0m-2.5.1h0m-3.3.1h0m7.3 0h0m-2.9.1h0m-1.6.6h0m3.5.5h0m-.5.3h0m-3.9 0h0m.9.1h0m1.7.2h0m-1 .4h0m-6.7.1h0m10.2 0h0m-7.5.1h0m5.1 0h0m2.6 0h0m-3.5.2h0m-4.3 1h0m-.7.3h0m1.5.3h0m-3.3.2h0m4.3.5h0m-2.7.1h0m3.6.1h0m-3.8.4h0m2.1.3h0m-2.5.2h0m3.1.4h0m-3.2.4h0m1.7.7h0m.9.2h0m-.5 0h0m-2.8 1.6h0"/><path stroke="#1010ff" stroke-opacity="1.00" stroke-width=".9" stroke-linecap="square" d="m218.3 467.1h0m3.1.3h0m-3 .7h0m.3.3h0m-3.6.1h0m2.5.8h0m2.2.3h0m-.6.2h0m-8.1.1h0m-2.5.3h0m9.6 0h0m-6.7.3h0m-1.8 1.5h0m.7.2h0m4.4.1h0m-.2.9h0m1.9.3h0m-7.8.3h0m1.7.3h0m.2.5h0m1 1.6h0m-.8.5h0m1.1.2h0m-2.2 2.1h0m0 .5h0m-.1 1.3h0"/></g><rect x="204.1" y="481.7" width="69.2" height="19.8" fill="none" stroke="#222" stroke-width="0.8"/><rect x="196" y="419.6" width="111" height="106.9" fill="none" stroke="#555" stroke-width=".8"/><path stroke="#333" stroke-width=".8" fill="none" d="M200.77 526.5v1.4M204.94 526.5v1.4M209.12 526.5v1.4M213.29 526.5v1.4M221.63 526.5v1.4M225.8 526.5v1.4M229.98 526.5v1.4M234.15 526.5v1.4M242.49 526.5v1.4M246.66 526.5v1.4M250.84 526.5v1.4M255.01 526.5v1.4M263.35 526.5v1.4M267.52 526.5v1.4M271.7 526.5v1.4M275.87 526.5v1.4M284.21 526.5v1.4M288.38 526.5v1.4M292.56 526.5v1.4M296.73 526.5v1.4M305.07 526.5v1.4M196.6 526.5v2.6M217.46 526.5v2.6M238.32 526.5v2.6M259.18 526.5v2.6M280.04 526.5v2.6M300.9 526.5v2.6M196 520.77h-1.4M196 515.35h-1.4M196 509.93h-1.4M196 499.07h-1.4M196 493.65h-1.4M196 488.23h-1.4M196 477.38h-1.4M196 471.95h-1.4M196 466.52h-1.4M196 455.67h-1.4M196 450.25h-1.4M196 444.82h-1.4M196 433.97h-1.4M196 428.55h-1.4M196 423.12h-1.4M196 526.2h-2.6M196 504.5h-2.6M196 482.8h-2.6M196 461.1h-2.6M196 439.4h-2.6"/><text x="196.6" y="535.4" text-anchor="middle" font-size="4.6" fill="#111" stroke="#111" stroke-width="0.14">0</text><text x="217.46" y="535.4" text-anchor="middle" font-size="4.6" fill="#111" stroke="#111" stroke-width="0.14">50K</text><text x="238.32" y="535.4" text-anchor="middle" font-size="4.6" fill="#111" stroke="#111" stroke-width="0.14">100K</text><text x="259.18" y="535.4" text-anchor="middle" font-size="4.6" fill="#111" stroke="#111" stroke-width="0.14">150K</text><text x="280.04" y="535.4" text-anchor="middle" font-size="4.6" fill="#111" stroke="#111" stroke-width="0.14">200K</text><text x="300.9" y="535.4" text-anchor="middle" font-size="4.6" fill="#111" stroke="#111" stroke-width="0.14">250K</text><text x="191.6" y="506.9" text-anchor="end" font-size="4.6" fill="#111" stroke="#111" stroke-width="0.14">60K</text><text x="191.6" y="485.2" text-anchor="end" font-size="4.6" fill="#111" stroke="#111" stroke-width="0.14">80K</text><text x="191.6" y="463.5" text-anchor="end" font-size="4.6" fill="#111" stroke="#111" stroke-width="0.14">100K</text><text x="191.6" y="441.8" text-anchor="end" font-size="4.6" fill="#111" stroke="#111" stroke-width="0.14">120K</text><text x="237.8" y="545" text-anchor="middle" font-size="10.15">FSC-H</text><text transform="translate(175.3 468.8) rotate(-90)" text-anchor="middle" font-size="10.15">FSC-W</text>
<clipPath id="c11"><rect x="353.5" y="419.1" width="110.8" height="107.4"/></clipPath><g clip-path="url(#c11)"><path fill="#2020e0" fill-opacity="0.17" fill-rule="evenodd" d="M360.2 483.5l-.4 5.7.4.6.6 0 3.4-7 3-3 3-1.3 3.3-.3 6.7 3 7.6 5 8.7 3.3 10.7 3 3.6 0 2.4-.7 0-.6-6-3-15.4-5-9.3-5.7-7.3-3.3-6.7.3-3.7 1.7-3.6 3.6z"/><path fill="#2020e0" fill-opacity="0.17" fill-rule="evenodd" d="M360.8 485.2l0 2.3 2.7-5 3.3-3.3 2.7-1.4 4.7-.3 6.3 3 7.7 5 18 6 3.6 0-.3-.7-11-3-9-3.3-9-5.7-6-2.6-5.3.3-2.4 1-3.6 3z"/><g filter="url(#bl)"><path fill="#0000ff" fill-rule="evenodd" d="M360.5 492.2l.7 10.6 1.3 1 22.7 0 35.6-1.3 6.7-1.3 1-.7-1.3-1.3-15.7-5.7-14.7-4-8-3-9-5.7-5.6-2.6-4.7.3-3 1.7-2 2-2.3 4z"/><path fill="#0010ff" fill-rule="evenodd" d="M360.5 494.2l.7 8.6 1.3 1 22.7 0 34.6-1.3 3-1 3.7-2.3-15-5.7-9-2.3-16 0-6.3.6-9.4-.3-7.3 1.3z"/><path fill="#0020ff" fill-rule="evenodd" d="M360.8 500.8l.4 2 2 1 22 0 24.3-1 6-1.6 2.7-1.4 1.3-2-1.3-1.6-6-2-6.7-1-35.7-.4-3.6.7-5.4 2.3z"/><path fill="#0036ff" fill-rule="evenodd" d="M360.8 500.8l.7 1 3.7 2 20 0 16.6-.6 9.7-2.4 3.3-2 0-1.3-1.6-1.3-3-1-9-1.4-20.7.4-2.3-.7-8.4 0-3.3.7-4 1.6-1.7 1.7z"/><path fill="#0052ff" fill-rule="evenodd" d="M361.2 499.5l2 2.7 4 1.6 25.3-.3 13.3-2 5-2 .7-1.7-1-1-2.3-1-8.4-1.3-18.6.3-4-1-6.4 0-3.6.7-3.4 1.3-2 1.7z"/><path fill="#006eff" fill-rule="evenodd" d="M362.2 499.8l2 2.4 4.6 1.6 10.4 0 1.6-.6 12.7-.4 9-1.3 5.3-2 .7-.7 0-1-3-1.6-6-1-11.3-.4-6.4.7-5-1.3-5.6 0-4.7 1-2.7 1.3-1.3 1.3z"/><path fill="#0092ff" fill-rule="evenodd" d="M362.8 499.8l1.7 2 3 1.4 3 .6 7 0 4.3-1.3 9 0 6.4-.7 6-1.3 3-2-.7-1-1.3-.7-4.7-1-18 0-4.7-1.3-5.6 0-6 1.7-2 1.6z"/><path fill="#00b6ff" fill-rule="evenodd" d="M363.5 499.8l1.3 1.7 2.7 1.3 3 .7 7 0 3-.7 1.7-1 4.3.4 11-1 4.7-1.4 1.3-1 0-.6-2.7-1.4-3.6-.6-7.7-.4-7.3.7-5-1.7-6.4 0-4 1-2.3 1.4-1 1.3z"/><path fill="#00dafa" fill-rule="evenodd" d="M364.2 500.2l1.3 1.3 3 1.3 6.7.7 4.3-.7 2.7-1.3 8 0 5.6-.7 4.4-1.3.6-1.3-2-1-4.6-.7-12 .3-4.7-1.6-7 0-3.7 1-1.6 1-1 1.3z"/><path fill="#00fff0" fill-rule="evenodd" d="M364.5 499.5l1.7 2 2.3 1 3 .7 5 0 4-1 2-1.4 9 0 6-1.3.7-1-3.7-1.3-12 .3-1.3-1-3-1-6-.3-5.4 1.3-2 1.7z"/><path fill="#00ffbe" fill-rule="evenodd" d="M365.2 498.5l0 1.3.6 1 2.4 1.4 2.6.6 6.4 0 4-1.3 1.6-1.7 8.4.4 3.6-1 0-.7-2-.7-8 0-2 .7-2.3-2-4-1-7 .3-2.7 1z"/><path fill="#00ff8c" fill-rule="evenodd" d="M365.5 498.8l.3 1.4 1 1 2.4 1 3.6.6 7-1 1.4-.6 1.3-1.7-1-2-4.3-1.7-8 .4-2.7 1.3z"/><path fill="#00ff57" fill-rule="evenodd" d="M366.2 498.5l.3 2 2.3 1.3 2.7.7 6.7-.3 2.3-1 1.3-1.4 0-1.3-1.3-1.3-4.7-1.4-5.6.4-2.7 1z"/><path fill="#00ff2d" fill-rule="evenodd" d="M366.5 498.8l0 1 1 1 3.3 1.4 6.4 0 3.3-1.4 1-1 0-1-1-1.3-3.7-1.3-7 .3-2.3 1z"/><path fill="#00ff0f" fill-rule="evenodd" d="M366.8 499.2l.4 1 1.3 1 3.7 1 5.6-.4 2.7-1.3.7-1-1.4-2-4.3-1.3-6 .6-1.3.7z"/><path fill="#12ff00" fill-rule="evenodd" d="M367.5 498.5l0 1.3 1 1 2.7 1 5.6 0 2.7-1 1-1 0-1.3-1-1-3-1-5 0-2.3.7z"/><path fill="#36ff00" fill-rule="evenodd" d="M367.8 498.8l0 1 .7.7 4 1.3 4.7-.3 3-1.7-.7-2-4.7-1.3-4 .3-2.3 1z"/><path fill="#5aff00" fill-rule="evenodd" d="M368.2 498.8l0 .7 1.3 1.3 2 .7 5 0 2-.7 1.3-1.3 0-.7-1-1-2.6-1-4.4 0-2.6 1z"/><path fill="#b2ff00" fill-rule="evenodd" d="M368.8 498.5l0 1.3.7.7 3.3 1 4-.3 2.4-1.4 0-1.3-2.7-1.3-5 0z"/><path fill="#e9f000" fill-rule="evenodd" d="M369.2 498.8l.3 1.4 2.7 1 3.6 0 2.7-1 .3-1.4-1-1-2.3-.6-4.3.3z"/><path fill="#ffcf00" fill-rule="evenodd" d="M369.5 498.8l.7 1.4 3.6 1 2.7-.4 2-1.3-.7-1.3-1.6-.7-4.4 0z"/><path fill="#ffa000" fill-rule="evenodd" d="M370.2 498.8l.6 1.4 1.7.6 3 0 2.3-1.3-.6-1.3-2.4-.7-3.3.3z"/><path fill="#ff7200" fill-rule="evenodd" d="M370.5 499.2l1.7 1.3 3.6 0 1.7-1-.3-1-1.7-.7-3 0-1.7.7z"/><path fill="#fd4900" fill-rule="evenodd" d="M371.2 498.8l0 .7 1 .7 3.6 0 1-.7 0-.7-1.3-.6-3 0z"/><path fill="#f72f00" fill-rule="evenodd" d="M371.8 499.2l2 1 2.4-.7-.7-1-3 0z"/></g><path stroke="#0808a0" stroke-opacity="0.90" stroke-width=".9" stroke-linecap="square" d="m373 466.4h0m-3.8 5.4h0m4.8.2h0m15.7 3.6h0m-21.2.1h0m8.6 1.2h0m-5.9 0h0m-9.5.7h0m6.8.2h0m12.3.2h0m-19.8 1.6h0m22.1 0h0m-17.4.9h0m-4.1.3h0m2.3 1.8h0m22.7.6h0m1.4 1.2h0m-1.3.1h0m-.7.1h0m-23.5.2h0m27.9.3h0m-28 0h0m25.2.1h0m-27.1.2h0m29.7.3h0m-.8.4h0m9 .3h0m3.2.8h0m-2.8.7h0m-2.8.7h0m12.1.3h0m-2.5.1h0m-1.1.3h0m-1.5 1.3h0m2.4.2h0m1.9.3h0m-2.4.2h0m.4.1h0"/><path stroke="#1a1aff" stroke-opacity="1.00" stroke-width=".9" stroke-linecap="square" d="m365.7 462.6h0m3.4 5.5h0m5.3.1h0m-8.6.4h0m3.1.5h0m-.7.7h0m1.9.7h0m15.1.4h0m-7.7.5h0m-9.8.2h0m3.2.4h0m1.4.8h0m0 .6h0m4.8.1h0m-9.5 0h0m8.7.1h0m-1.7 0h0m-.5.1h0m-1.7.2h0m-6.5.4h0m1.1.1h0m-.4.1h0m9.4 0h0m-10.9.4h0m13.5.1h0m-11.1 0h0m14.9.3h0m-17.3.3h0m9.5.1h0m-5.2.1h0m2.2.1h0m-.1.2h0m-3.5 0h0m9.9.5h0m-3.8.3h0m-10.6.1h0m8.5.2h0m-5.8.2h0m21.9 0h0m-5.9.1h0m-7.8.1h0m-6.3 0h0m12.9.3h0m-7.1 0h0m-8.8.4h0m11.3.1h0m8.2.2h0m-2 0h0m-5 .4h0m-12.5 0h0m0 .1h0m17.5 0h0m-18.8.3h0m15.9.1h0m-1.2.1h0m-13.7 0h0m1.2.1h0m14.2.3h0m-14.8.1h0m.8.1h0m-5.3.2h0m24.4.1h0m-21.5.1h0m1.8 0h0m-4.6 0h0m4.1.2h0m15.3 0h0m10.5.1h0m.2 0h0m-10.5.1h0m-16.2 0h0m18 .2h0m-.3.3h0m-.1.1h0m-22 .1h0m.9 0h0m23.5.4h0m4.2.1h0m-4.9.1h0m7.9.2h0m-27.8.1h0m-2.3.2h0m30.1.1h0m-2.1.3h0m5.6.4h0m-10.1 0h0m12.6.2h0m-2.4 0h0m-1.8.3h0m-32.1.1h0m30 0h0m-4.9.2h0m1.7 0h0m4.3 0h0m-2.8.1h0m2.5 0h0m-1.4.4h0m3.4 0h0m4.9 0h0m-1.3.2h0m-8 .1h0m4 .2h0m-.4.1h0m-4.6.2h0m2.8.1h0m4 .4h0m-4.8.2h0m-.8.2h0m2.6.1h0m6.3.2h0m-6.6.2h0m9.6.1h0m-5.9 0h0m4.3.5h0m6 .1h0m-.3 0h0m-7.1 0h0m-.9.1h0m-4.6.1h0m-32.6 0h0m.1.3h0m40.5 0h0m6.9.1h0m-11.3.1h0m2.7.2h0m1.1 0h0m-4.8.2h0m14.3.2h0m-11.9.2h0m5.3.2h0m1.8.1h0m-5 .1h0m.9.3h0m5.3.2h0m-4.2.4h0m.1 0h0m6.7.5h0m.7.1h0m-6.1.1h0m9.9.4h0"/><path stroke="#2b2bd8" stroke-opacity="0.90" stroke-width=".9" stroke-linecap="square" d="m372.4 469.3h0m-4.2.3h0m-7 .1h0m7.5 1.3h0m.2.6h0m13.7.4h0m1.2.4h0m-7.3.2h0m-10.1.2h0m7.1.6h0m-7.9.3h0m8.7.2h0m-6.2 1.4h0m3.2.3h0m-7.5 0h0m7.7.5h0m-5.9.6h0m.8.1h0m2.8.1h0m17.1.1h0m-2.6.2h0m-4.6 0h0m-13.8.4h0m7.5 0h0m5.6.1h0m-2.8.1h0m-6.3.2h0m.8.2h0m10.5.6h0m-15.2.2h0m15.2 0h0m-14.9.3h0m-2.6 0h0m15.1.1h0m7.2.4h0m-5.4.5h0m8.9.1h0m-8.6.2h0m.3.3h0m-15.4.4h0m17.4.3h0m2.9.2h0m-3.3.1h0m.4.3h0m4.3.3h0m.6.2h0m8.2.1h0m-34.5.1h0m23.4.1h0m2.4.2h0m.1.2h0m-1.5.3h0m-.5.1h0m.5.5h0m1.4.1h0m7.7.4h0m-7.3 0h0m3.9.3h0m-29.5.1h0m29.1 0h0m-1.5.1h0m-2 0h0m.4.1h0m16.2 0h0m-7.7.1h0m2.3.2h0m1.2 0h0m-39.5 0h0m42.7.1h0m-12 .3h0m9.2.1h0m-5.1.1h0m-.8.1h0m4.8 0h0m-5.6.7h0m1.2.1h0m-1.4 0h0m8.9.2h0m-9.7 0h0m-30.9.2h0m35.5.1h0m-4 0h0m7.8.4h0m-39.9 0h0m36.6.2h0m1.8 0h0m3.4 0h0m2 .1h0m-8.3.2h0m7.1.1h0m-.1.1h0m1.4.1h0m.2 0h0m-1.9 0h0m-42.8.1h0m47.6.4h0m-3.2 0h0m-3.4.1h0m-.7.1h0m3 .1h0m3.8 0h0m-1.8.2h0m1.6.3h0m1.7.3h0m-4.2.1h0m3.5.1h0m-5.3 0h0m.5.1h0m.3.2h0m4.8.1h0m-2.4.3h0m4.9.1h0m-.4.1h0"/><path stroke="#5a5ad0" stroke-opacity="0.80" stroke-width=".9" stroke-linecap="square" d="m369.8 461h0m10.5 8.1h0m-17.9.4h0m3.1.2h0m.4 1.8h0m8.3.1h0m4.4.6h0m-9.2 0h0m-4.4 0h0m18.2.1h0m-13 .8h0m2.7.8h0m-7.9.4h0m10.9.1h0m.2.3h0m9.8 0h0m-5.2.1h0m-8.4.1h0m8.3.2h0m-7.1.2h0m.4.3h0m-5.1.1h0m12 .1h0m-6.2 0h0m-8 .3h0m2.7.1h0m-1 .2h0m-2.8.2h0m10.2.4h0m-11.6 0h0m12.9.1h0m-8.7 0h0m-3 .1h0m6.8.2h0m6 0h0m-5.1 0h0m-1.5.6h0m-3.3.1h0m10.2.2h0m2.7.4h0m-17.8.4h0m-2.6.2h0m4.2.3h0m17.9 0h0m-16.4.2h0m18.6.4h0m-20.6.3h0m-1.6.5h0m24 .7h0m.6 0h0m3.7.1h0m-27 .2h0m26.2 1.1h0m3.6 0h0m-6.3.2h0m-25.8.1h0m.6.7h0m24.9.5h0m-.5.1h0m8.5.3h0m-6.7.6h0m5.6.5h0m-.6.2h0m0 0h0m7.6.3h0m-9.1 0h0m-1 .2h0m6.5 1h0m-36 .2h0m45.6.4h0m-5.9 0h0m-6.3 0h0m10 .4h0m-7.4.1h0m-36.9 0h0m38.7.3h0m4.5 0h0m-43.1.5h0m42.4.3h0m5.8 0h0m-1.2.1h0m-1.2 0h0m1.4.1h0m-2.3.2h0m2.6 0h0m-4.1 0h0m6.9.4h0m.3.5h0"/><path stroke="#8080c8" stroke-opacity="0.80" stroke-width=".9" stroke-linecap="square" d="m374.4 469.1h0m1.5.2h0m3.7.9h0m-3.7 1.8h0m2.8 2.1h0m1.1.7h0m-7.7.2h0m9.4.4h0m-13.7.4h0m13.4.2h0m-6 .4h0m10.7.2h0m-12.1 0h0m-7.8.2h0m22.1.5h0m-22 .1h0m13.8.2h0m-3.4.5h0m-6.7.1h0m.1 0h0m6.4.3h0m1.9.2h0m-11.7.4h0m-.3.1h0m11.1 0h0m-.1.1h0m1.5.4h0m5.5.2h0m-23 0h0m23 .3h0m-1.6 0h0m-1.2.7h0m2.5.2h0m-21.9.4h0m32.3 0h0m-12.4.1h0m-20.6.1h0m3.2.2h0m20.6.3h0m-1.5.4h0m.2.1h0m7.4 2.2h0m-3.7.2h0m9.8 0h0m-35.7.1h0m39.9.1h0m-10.4.1h0m4.4.6h0m-4.1 1h0m.5.1h0m9.7.3h0m-4.8.2h0m5 .1h0m-4.4.1h0m2.9.2h0m-3.3.3h0m12.4.4h0m-4.1.1h0m-44.4.5h0m42.5 0h0m.7.1h0m4.7.3h0m1.8.1h0m-.2.1h0m-7 .2h0m7.6.1h0m-10.6.1h0m6.1.2h0m4.8.1h0m-8.6.1h0m1.4 0h0m2.9.1h0m-1.2.4h0m-.7.3h0"/><path stroke="#8c8ca0" stroke-opacity="0.70" stroke-width=".9" stroke-linecap="square" d="m365.2 463.4h0m2 7.6h0m-.5.9h0m8.4.9h0m5.4.6h0m-3.4.2h0m-5.8.6h0m5 1.3h0m.3.5h0m-2.4 0h0m8.8.2h0m7.7.2h0m-18.2.1h0m-9.2.1h0m17.9.3h0m.6.2h0m-18.9.3h0m11.6.3h0m-6.7.2h0m10.1 0h0m-14.4.4h0m19.5.7h0m-3.9.1h0m5.9 1h0m-2.6.2h0m1.1.8h0m-.3.3h0m-22.3.3h0m21.5.1h0m-19.3.2h0m20.6.1h0m10.3 1h0m2.7.1h0m-9.1.3h0m6.2 1.7h0m-.5.5h0m-33.2.7h0m30.2 0h0m-29.4.6h0m33.6.4h0m2.4.4h0m-36.5 1.5h0m38.8.1h0m.4.4h0m10.8.4h0m-5.6 0h0m3.5 0h0"/></g><rect x="359.1" y="491.3" width="72.4" height="17.7" fill="none" stroke="#222" stroke-width="0.8"/><rect x="353.5" y="419.1" width="110.8" height="107.4" fill="none" stroke="#555" stroke-width=".8"/><path stroke="#333" stroke-width=".8" fill="none" d="M358.31 526.5v1.4M362.52 526.5v1.4M366.72 526.5v1.4M370.93 526.5v1.4M379.35 526.5v1.4M383.56 526.5v1.4M387.76 526.5v1.4M391.97 526.5v1.4M400.39 526.5v1.4M404.6 526.5v1.4M408.8 526.5v1.4M413.01 526.5v1.4M421.43 526.5v1.4M425.64 526.5v1.4M429.84 526.5v1.4M434.05 526.5v1.4M442.47 526.5v1.4M446.68 526.5v1.4M450.88 526.5v1.4M455.09 526.5v1.4M463.51 526.5v1.4M354.1 526.5v2.6M375.14 526.5v2.6M396.18 526.5v2.6M417.22 526.5v2.6M438.26 526.5v2.6M459.3 526.5v2.6M353.5 523.31h-1.4M353.5 519.62h-1.4M353.5 515.94h-1.4M353.5 512.25h-1.4M353.5 504.87h-1.4M353.5 501.18h-1.4M353.5 497.5h-1.4M353.5 493.81h-1.4M353.5 486.43h-1.4M353.5 482.74h-1.4M353.5 479.06h-1.4M353.5 475.37h-1.4M353.5 467.99h-1.4M353.5 464.3h-1.4M353.5 460.62h-1.4M353.5 456.93h-1.4M353.5 449.55h-1.4M353.5 445.86h-1.4M353.5 442.18h-1.4M353.5 438.49h-1.4M353.5 431.11h-1.4M353.5 427.42h-1.4M353.5 423.74h-1.4M353.5 420.05h-1.4M353.5 527h-2.6M353.5 508.56h-2.6M353.5 490.12h-2.6M353.5 471.68h-2.6M353.5 453.24h-2.6M353.5 434.8h-2.6"/><text x="354.1" y="535.4" text-anchor="middle" font-size="4.6" fill="#111" stroke="#111" stroke-width="0.14">0</text><text x="375.14" y="535.4" text-anchor="middle" font-size="4.6" fill="#111" stroke="#111" stroke-width="0.14">50K</text><text x="396.18" y="535.4" text-anchor="middle" font-size="4.6" fill="#111" stroke="#111" stroke-width="0.14">100K</text><text x="417.22" y="535.4" text-anchor="middle" font-size="4.6" fill="#111" stroke="#111" stroke-width="0.14">150K</text><text x="438.26" y="535.4" text-anchor="middle" font-size="4.6" fill="#111" stroke="#111" stroke-width="0.14">200K</text><text x="459.3" y="535.4" text-anchor="middle" font-size="4.6" fill="#111" stroke="#111" stroke-width="0.14">250K</text><text x="349.1" y="510.96" text-anchor="end" font-size="4.6" fill="#111" stroke="#111" stroke-width="0.14">50K</text><text x="349.1" y="492.52" text-anchor="end" font-size="4.6" fill="#111" stroke="#111" stroke-width="0.14">100K</text><text x="349.1" y="474.08" text-anchor="end" font-size="4.6" fill="#111" stroke="#111" stroke-width="0.14">150K</text><text x="349.1" y="455.64" text-anchor="end" font-size="4.6" fill="#111" stroke="#111" stroke-width="0.14">200K</text><text x="349.1" y="437.2" text-anchor="end" font-size="4.6" fill="#111" stroke="#111" stroke-width="0.14">250K</text><text x="408" y="546" text-anchor="middle" font-size="10.15">SSC-H</text><text transform="translate(331.5 468.7) rotate(-90)" text-anchor="middle" font-size="10.15">SSC-W</text>
<clipPath id="c12"><rect x="39.1" y="547.3" width="111.1" height="109.1"/></clipPath><g clip-path="url(#c12)"><path fill="#2020e0" fill-opacity="0.15" fill-rule="evenodd" d="M58.8 570.2l-3.6.3-2 .7-1 1-10.4 20.6-1.3 5.7-1.3 2 0 49.7 1.3 0 1.3-2.4-.6-3 .3-14.6 2.7-18.7 4.3-16 7-14.7 3.3-5.6 1-4.4z"/><path fill="#2020e0" fill-opacity="0.15" fill-rule="evenodd" d="M58.2 571.5l-1 .3-2.7 3.4-9.7 19.6-3.6 13.7-1 6.3-1 2 0 32.4 1.3-.4.7-1.3-.7-3 .3-14 2.7-19 4-15.3 7.7-16 3-5z"/><path fill="#2020e0" fill-opacity="0.15" fill-rule="evenodd" d="M112.5 572.2l-.7 1 0 3 2 5 .4 37.6-.4 20.4-2 5.6 0 2.7.7.7 1.7 0 2.6-.7 2.4-1.7 1.3-4.3.3-53.7-.3-9-2-5.3-2-1z"/><path fill="#2020e0" fill-opacity="0.15" fill-rule="evenodd" d="M113.8 573.2l-1.3.6 0 2.4 2 5.3.3 37-.3 20.3-2 6 0 2 .7.7 2.3-1.7 1.7-5 .3-20-.3-41.3-2.4-5.7z"/><g filter="url(#bl)"><path fill="#0000ff" fill-rule="evenodd" d="M95.2 574.2l-1.4 1.3-.6 70.7 1.3 1 15.7 0 1.3-1 2.3-6 0-60-2-4.7-1.6-1.3zM59.8 574.2l-1.3 1-3 5.3-7.3 15.3-4.4 16.7-2.3 16.7-.3 16.6 1.3 1.4 47.3 0 1.4-1-.7-70.7-1.3-1.3z"/><path fill="#0010ff" fill-rule="evenodd" d="M104.8 576.5l-1.6 0-1.4 1.3-2.6 5.4-2.4 8.3-2.6 16.7-.7 8-.3 19.3 1 2.7 1 6 1.6 3 2.4 0 2.3-3.7 3.3-2.7 1.7-3.3 1-5.3-1-8.4 2-16 0-18-1.7-10zM89.8 574.5l-25 0-7.6 22.3-3.7 14.4-.3 3-3.7 6.3-1.7 5.3-.6 8 1 5.7 1 2 0 5.7 24.3 0 3-3 2.3-3.4 4-8 2-7.3.4-8-.7-3.7-1-2.3 0-1.7 1.7-5.3 3.3-15.7 1.7-11z"/><path fill="#0020ff" fill-rule="evenodd" d="M103.8 584.2l-1 0-1.6 1.6-3.4 9.7-2.3 15-.3 13.7-1.4 3.6 0 6.4 1 3.3 3 4 2 .7 1.7-.4 2.3-1.6 1.7-3 1-4-.3-6.4-1.4-3 1-4.6 1-9.7 0-15.7-1.3-7.3zM86.5 574.2l-17.3 0-2 3.6-6.4 17.4-3.6 13.6-.7 4.4-5 7.6-2 6.7-.3 6 .6 4 1.7 4.3 2.7 3.4.3 2 15 0 2.7-1.7 3-3 5-7.7 2-5 1.3-7-.7-8-2.3-5.6 2.3-8 2-10 1.4-9.7z"/><path fill="#0036ff" fill-rule="evenodd" d="M103.5 588.5l-1 0-1.7 2-2.6 8.3-2 14.4 0 10.3-1 1.7-1 4.3 0 3 1 4.3 1.3 2.4 2.7 2 1.6 0 2.4-1.4 2-3.3.6-2.7 0-5.6-.6-2.7-1-1.7 1.6-13 0-15-.6-4zM83.8 574.2l-12.3 0-2.7 5-4 9.6-3.6 11.4-2.7 12-4.7 6.6-2.3 5-1 4.4 0 6.6.7 3 3.3 6 4.3 3 7.4.4 5.3-2.7 5-5.7 4.3-8 1.4-5.3.3-6-1.3-6-2.4-4.7 2.4-8.3 2-10.7 1-11z"/><path fill="#0052ff" fill-rule="evenodd" d="M102.8 591.8l-1.6 1.4-1 2-1.7 6-1.7 12 0 10.3-1.3 2-1 5 1 6 1.7 2.7 2.3 1.3 2.7-.7 1.6-1.6 1.7-4.7 0-5-1-3.3-1.3-2 1.3-6 .7-6.4 0-12.3-1-5zM81.5 574.2l-7.3 0-3 4.3-5.7 12.7-3.3 10.3-2.4 10.3-3 3.7-3 5-1.6 4-1 5 0 4 1.3 5.3 1.7 3 2.6 2.7 3.4 1.7 6 0 4.6-2.4 3.4-3.3 3-4 2.3-4.3 2-7.4 0-6.6-1.3-4.7-2.4-3.3-.3-1.4 2.7-10 1.6-10.6.4-10z"/><path fill="#006eff" fill-rule="evenodd" d="M102.5 594.8l-1.3 1-2.4 7-1.3 9.7 0 11-1 1-1.3 3.7 0 5.6.6 2.4 1.7 2.6 1.7 1 2 0 2.3-2 1.7-4.6-.4-6-1.3-3-1-1 2-11.7 0-11.3-1-4.4zM77.8 575.5l-1.6.3-2.4 2-2.6 4-3 6-4 11-3 12.7-3 3.3-3.4 5.4-2.6 7-.4 5.6 1.7 6.4 2.7 3.6 2.3 1.7 2.7 1 5.3-.3 4.3-2.4 2.7-2.6 3.7-5 3-7 .6-3.4-.3-8-2-4.6-2.3-2.7 3.3-13.7 1-8.3-.3-8.3-1-2.7z"/><path fill="#0092ff" fill-rule="evenodd" d="M102.5 597.8l-1.3.7-2 6-1 7 .3 11.7-2 2-1.3 5.3.3 3.3 1 3 2.3 2.4 3-.4 1.7-1.6 1.3-3.7-.3-6.3-1-2.4-1.7-1.6 2-10.7 0-11zM76.8 579.8l-1 0-1.6 1-3 4-5 11.4-2.4 7.6-1.3 7-5 6-4 7.7-1 4.7 0 4 .7 3.3 2 4 2.6 2.7 2.7 1.3 5.7 0 4-2 3.3-3.3 3-4 3-7 .7-3.4-.4-7.6-2.3-5-2.7-2.4 2-6.3 2-11.7 0-8-.6-2.6z"/><path fill="#00b6ff" fill-rule="evenodd" d="M101.8 600.5l-1.6 3-1.4 7-.3 7 1 5.7-2.3 1.6-1.7 5 .7 5.4 1 2 2.3 1.6 1.3 0 1.7-1 2-4.3-.3-6.3-1.7-3-1.7-1 1.7-5.4 1-9.3-.3-5.7-.7-2zM75.8 584.2l-1.3 0-1 .6-2.7 3.7-4.3 10-2.3 8.3-.7 4.7-4.3 4-3.4 5.3-2.3 5.7-.3 7.3 1.3 4.4 3.7 4.3 2.6 1.3 5 0 2-.6 3-2 5.4-6.7 2.6-6 .7-3 0-6.7-.7-2.6-2-3.7-3-2.3 2-7 1.7-11-.3-5.7z"/><path fill="#00dafa" fill-rule="evenodd" d="M100.2 623.5l-1.4.3-1.6 1.7-1.4 4 0 3 .7 2.7 2.3 3 1.4.3 2.6-1.7 1.4-3.3-.4-6.3-1-2zM101.8 603.8l-1 1-1.3 5.7 0 8.3.7 1.4 1-1 1.3-5.7 0-8.3zM74.5 588.5l-1.3.3-1.4 1.4-2.3 4-2.7 7-2.3 10.3-2.7 2-2.6 3-4.4 7.7-1 3.3-.3 4 1.3 6 3 4 3.4 1.7 4.6 0 4-2 3-3 2.7-3.7 3-7 .7-5.7-1-5.3-1.4-2.7-4.3-3.6 2.3-7.7 1-6.3 0-5z"/><path fill="#00fff0" fill-rule="evenodd" d="M99.2 624.2l-1.4 1-1 1.6-.6 2.4 0 3.6 1.6 4 1.4 1 1.6 0 2-1.6.7-1.4.7-4.6-1.4-4.4-2-1.6zM101.2 608.5l-.7 2 .3 5 .7-2zM73.2 593.8l-1.7.7-2.7 5-2 6.7-.6 5.3-3.4 2-2.3 2.3-4 6-2 5-.3 6.4 1 3.6 1.3 2.4 2 2 4 1.6 4.3-.6 3-1.7 2.4-2.3 4-6 2-6 .3-5-1.3-5.4-2.7-3.3-3.7-1.7 1.7-4.3 1.3-6.3 0-5.4z"/><path fill="#00ffbe" fill-rule="evenodd" d="M99.8 624.5l-1.3.7-1.3 1.6-.7 2.4 0 3.6 1.3 3.4 2.4 1.3 1-.3 2-2.4.6-5-1-3.3-1.6-1.7zM71.2 611.8l-3.4 0-4.6 2.4-2.7 2.6-3.7 5.4-2 5.3.4 7.7 1.3 3 1.3 1.6 2.4 1.7 4.6.7 3-1 2-1.4 2.7-3 4-7 1.3-6-.6-6-1.4-2.6-2.3-2.4z"/><path fill="#00ff8c" fill-rule="evenodd" d="M99.5 625.2l-1.7 1.3-.6 1.3-.4 5.4 1 2.3 1 1 2 .3 1.4-1 1-2 .3-4-1.3-3.6-1.4-1zM72.2 613.2l-4.7-.4-4 2-5.7 6.7-1.6 3.3-1 3.7.3 6 2 4 1.7 1.7 2 1 5 0 4-2.4 2-2.3 4-7.7 1-5.3-.7-5-1.3-2.7z"/><path fill="#00ff57" fill-rule="evenodd" d="M99.2 625.8l-1 1-1 2.4 0 3.6 1 2.4 1 1 1.6 0 1.7-1.7.7-4.7-1.4-3.3-1-.7zM70.5 613.8l-4 .4-2.3 1.3-5.7 6-2.3 4.7-.7 5 1.3 5.3 3 3.3 2.4 1 3 0 3.6-1.6 3.4-3.7 3.6-8.3.4-6.4-1.7-4.3-1.7-1.7z"/><path fill="#00ff2d" fill-rule="evenodd" d="M99.2 626.5l-1.4 1.7-.3 4.3.3 1.3 1.4 1.7 1.6 0 1.4-1.3.6-4-1.3-3.4zM70.5 615.2l-3 0-3.3 1.6-5 4.7-2 3.3-1 3.7.3 5.7 1.7 3.3 3 2.3 3.6.7 3-1.3 3-2.7 2-3.3 2.4-7.4 0-4.6-2-4.4z"/><path fill="#00ff0f" fill-rule="evenodd" d="M99.5 627.2l-1.3 1.6-.4 3 .7 2 1 1 1 0 1-.6.7-1.4 0-3.6-1-1.7zM69.2 616.8l-2.4.4-6 3.3-2 2.3-1.6 3.7-.4 6.7.7 2 2.7 3.3 2.3 1.3 3 0 3.7-2.3 2-2.3 1.6-3.7 1-6 0-3.3-1.3-3.4-1-1z"/><path fill="#12ff00" fill-rule="evenodd" d="M99.5 628.5l-.7 1 0 3 .7 1 1 0 1-1.3 0-2.4-1-1.3zM67.5 619.2l-2.7 0-3 1.3-3 3.3-1.3 3.4-.3 4.6.6 2.7 3.7 4.3 1.7.7 2.6-.3 2.4-1.7 3-3.3 1.3-3.4.3-4.6-.6-2.7-3-3.7z"/><path fill="#36ff00" fill-rule="evenodd" d="M68.2 620.2l-3-.4-2.7 1-2.7 2.7-1.6 3.3 0 6.7 2 3.3 2.3 2 3.7-.3 3-2.7 2.6-4.6 0-6.7-1-2z"/><path fill="#5aff00" fill-rule="evenodd" d="M67.5 620.8l-3 0-3 1.7-1.3 1.7-1.7 4 0 3.6 1.7 4.4 2 2 1 .3 2.6-.3 3-3 2.7-5.4-.3-5-1-2z"/><path fill="#b2ff00" fill-rule="evenodd" d="M67.2 621.8l-3 0-1.4.7-2 2-1.6 4.3 0 3.4.6 2.6 1.7 2.4 2.3 1 1.7-.4 1.7-1.3 2-3 1.6-4.3-.6-4.7-1.7-2z"/><path fill="#e9f000" fill-rule="evenodd" d="M66.2 622.8l-2 .4-2.4 1.6-1.6 2.7-.7 2.3.7 4.7 1 1.7 2 1.3 1.6 0 2-1.3 3-7 0-2-1-2.7z"/><path fill="#ffcf00" fill-rule="evenodd" d="M66.2 624.8l-4 .7-2 3 0 5 1 2 1.6 1.3 3-.3 2-3 .4-6.3-.4-1z"/><path fill="#ffa000" fill-rule="evenodd" d="M63.8 625.5l-2 1-1 1.7-.3 4.6 1.3 2.7 2.4 1 2-1 1-1.7.3-4.6-1.3-2.7z"/><path fill="#ff7200" fill-rule="evenodd" d="M63.8 626.2l-1 .3-1.6 2-.4 4 .7 1.7 1.3 1.3 1.4.3 1-.3 1.6-2 .4-4-.7-1.7-1.3-1.3z"/><path fill="#fd4900" fill-rule="evenodd" d="M63.2 627.2l-1.7 2.3 0 3 1.7 2.3 1.6 0 1.7-2.3 0-3-1.7-2.3z"/><path fill="#f72f00" fill-rule="evenodd" d="M63.5 628.2l-1.3 1.6 0 2.4 1.3 1.6 1 0 1.3-1.6 0-2.4-1.3-1.6z"/></g><path stroke="#0808a0" stroke-opacity="0.90" stroke-width=".9" stroke-linecap="square" d="m52.2 570.5h0m6.5.6h0m-5.8 2.1h0m5.2.6h0m-3.9.8h0m-.4.1h0m2.5.6h0m.6 1.9h0m-6.8.9h0m5.7.1h0m0 .6h0m-14.5.4h0m13.4 0h0m0 .9h0m-4.8 1h0m3.1 1.7h0m-6.3.9h0m1.5 3.7h0m3 1.3h0m-1.2 0h0m-1.8 4.3h0m-1.5 0h0m1.9 1.5h0m-3 1.3h0m-1.3.8h0m-3.7.2h0m4.9 1.9h0m1 .5h0m-3.8 1.8h0m.2 2.8h0m1.1 3.6h0m-2.2 1.6h0m-1.5.3h0m3.3 1.2h0m-.1 1.2h0m-1.3 2.5h0m-2 .8h0m.1.7h0m.9 3.4h0m.8 1.4h0m-.4 1.7h0m-.8 1.8h0m-.1 3.7h0m.8.4h0m-.2 6.9h0m-.3 2.9h0m-.8 1.1h0m-.1 9.9h0"/><path stroke="#1a1aff" stroke-opacity="1.00" stroke-width=".9" stroke-linecap="square" d="m43.2 570.1h0m9.9.1h0m.6.9h0m-2.4.2h0m7.5.4h0m-5.8.1h0m5.8.3h0m-6.5.1h0m-12 0h0m16.7.1h0m1 .1h0m-1 .3h0m-2.6.2h0m-.1 0h0m3.5.5h0m-1 .7h0m1.5.4h0m-3.2.1h0m-3.3.2h0m3.7.3h0m-.2 1.5h0m0 1.1h0m-2.6.1h0m-4.5.3h0m6.9.8h0m-3.2.2h0m-6.4.4h0m4 .2h0m3.6 2.3h0m-3.9.1h0m1.9.2h0m2 1h0m-1.4 0h0m-.8 1.6h0m1.1.2h0m-.3.3h0m-10.7 1.4h0m3.2.1h0m3.5.8h0m-1.4.9h0m-4.6.6h0m2.3.5h0m6.4.2h0m-.5.4h0m-5 0h0m1 .8h0m4.4.1h0m-.5.1h0m-1.5.6h0m-1.2.7h0m.5.7h0m-.3.6h0m-6.1.8h0m2.9 0h0m3.7.1h0m.1 1.3h0m-3.2 1h0m2.9.7h0m-.4.1h0m-6.5.6h0m3.7 1.1h0m-2.8.5h0m3 0h0m-1.8 1.3h0m2.5.2h0m-1 .1h0m.4.8h0m-2.3.3h0m2.7 0h0m-1.3 1.4h0m.5 1.4h0m-3.4 1.1h0m-.6.3h0m2.7.2h0m-1.4.1h0m1.7.7h0m-.5.5h0m-.5.9h0m-1.4.2h0m.4.5h0m2 1.3h0m-3.7.6h0m2.7 0h0m-1 .6h0m1.4.1h0m-1.6.6h0m.9 1.5h0m.3 1.6h0m-1.1 1.2h0m-.6.9h0m-1 .4h0m-.2 1.4h0m-.1.1h0m2.7.6h0m-1.5.2h0m1 .3h0m-.2 3.2h0m-1.9 4.2h0m.4 2.4h0m.9.1h0m.3 1.1h0m0 0h0m-1.8 1.2h0m1.4.9h0m-.1 1.1h0m.8.4h0m-1.6 1.4h0m.8 1.6h0m-.1.4h0m.1.1h0m-.5 1.6h0m.1 1.5h0m-.4 2.8h0m0 .9h0m-.5.5h0m1.9 1.3h0"/><path stroke="#2b2bd8" stroke-opacity="0.90" stroke-width=".9" stroke-linecap="square" d="m53.3 570.4h0m3.5.1h0m.4.4h0m-1.7.8h0m3.8.1h0m-5.9.2h0m2.8.2h0m-5.2.5h0m7.4 1.7h0m-1.3 1.2h0m-6.8.4h0m-5.6.2h0m8 0h0m-2.2.7h0m-1.8 0h0m4.2.3h0m1.3.5h0m-5.7.4h0m3.4 0h0m2.4.7h0m-4.2.3h0m.5.5h0m-5.8 1.2h0m7.5 0h0m-.1.2h0m.5.5h0m-6.8.3h0m3.1 1h0m-1.5 1.2h0m-5.1.3h0m6.8.2h0m1.5.8h0m-7.5.4h0m3.7.6h0m-1 .5h0m.3 1.1h0m5.6 0h0m-1.4.2h0m-5.8.6h0m1.1.6h0m-.1.4h0m2.1.4h0m-4.9.6h0m7.5.1h0m-3.5.2h0m2.6 0h0m-5.3 1.5h0m-.2 1.2h0m2.9.7h0m.2.2h0m-1.5.2h0m.7 1.2h0m-1.5.1h0m-.9.4h0m1.8.2h0m1.2.2h0m.6.2h0m-3.1.8h0m-.9 1.2h0m.5 1.3h0m-2.8.4h0m5.2.4h0m-5.1.4h0m3 .6h0m-.7.5h0m-1.9.3h0m3.9.7h0m-2 .8h0m.8.4h0m1.2 0h0m-1.4.8h0m-1.2 0h0m1.3.6h0m-1.2.3h0m-1.5.7h0m-1.2 2.5h0m-.1.7h0m-.1.7h0m.4.1h0m2.5 0h0m-1.7 1.2h0m-.5.1h0m.3.7h0m1.6.4h0m-.9.8h0m-1.4 1.9h0m2.8.2h0m-1.6 1.4h0m-1.7.5h0m2.3.5h0m-.5 1.1h0m-.1 1.6h0m-.9.2h0m-.3.2h0m1.3 1.3h0m-1 .3h0m-.3 0h0m1.4 1.2h0m-1.6 1.3h0m-.5 1.2h0m-.3 2.3h0m.9 3.4h0m-.6.8h0m1.4 1.6h0m0 .6h0m-.2 1.3h0m-.2 1h0m-.4.3h0m-.7 0h0m.4.1h0m-.1.3h0m-.1.1h0m-.2 2.7h0m0 .3h0m.9.3h0m-1.1.7h0m0 .3h0m1.4.5h0m.1.2h0m-.5.2h0m-.6.8h0m-.2.3h0m.2 1.8h0m1.5 2.2h0"/><path stroke="#5a5ad0" stroke-opacity="0.80" stroke-width=".9" stroke-linecap="square" d="m53.9 570h0m.1.9h0m.3 0h0m5.3 1h0m-13.9 2.5h0m-2.2.3h0m3.2.2h0m4.4.2h0m3.7.2h0m3.2.5h0m-6.4 0h0m2.9.7h0m-4.6 1.1h0m-.2.3h0m.9.6h0m4.5.1h0m-2.2.3h0m-1.5 0h0m-11.2 1h0m14.3.4h0m-.4.3h0m-7.7.5h0m8.5.1h0m-1 0h0m-.5.3h0m-9.6.1h0m9.6.7h0m-3.7.3h0m4.1.1h0m-6.1.7h0m2.3 0h0m-1.2.6h0m-3.7.1h0m2.9 1.1h0m-2.6.9h0m4.3.2h0m-.9.5h0m1.7.1h0m-.7 1.4h0m-10.1 4.7h0m6.4.6h0m-.4.3h0m1.9.8h0m-5.6.4h0m2.3.4h0m1.3.4h0m-1.3.5h0m3 .1h0m-.7.4h0m-4.8.2h0m4.5.1h0m-3.5.3h0m1.8 1.4h0m.5.7h0m-3.8 1h0m2.7.9h0m2.1 1h0m-4 .1h0m1.3 0h0m-.5.3h0m-2 1.6h0m1.1.5h0m2.8.1h0m-3 3.4h0m-.3.3h0m-1.1 2.6h0m3.3.5h0m-3.4.3h0m1.8.2h0m-.1 1h0m-1 1.8h0m.3 2.2h0m-1.3.1h0m2.4 1.2h0m-1.3.2h0m1.1 4.4h0m-2 .4h0m1.7.2h0m-1.1 3.2h0m-.8.5h0m1.6 1.1h0m-1 3.7h0m-1.3.2h0m1.4.4h0m-1.2.1h0m-.3 4.5h0m2.1.5h0m-1.3 1.5h0m.2.7h0m.6 2.6h0m-1.3 2.2h0m.6 2.5h0m1.2 1.7h0"/><path stroke="#8080c8" stroke-opacity="0.80" stroke-width=".9" stroke-linecap="square" d="m54.5 572.6h0m-5.2 0h0m.2.4h0m6 0h0m3.3.5h0m-3.7.1h0m1.2.2h0m-8.1 3h0m2.7.9h0m-.7 2.1h0m4.3.1h0m-1.5.4h0m.9.7h0m-3.7 1.1h0m-3.4.2h0m1.7 1h0m3.9 2h0m-11 .8h0m5.2 2.7h0m3.9.4h0m-1.9.9h0m-4.6.8h0m1.4 1.7h0m3.5.2h0m-2.1.3h0m-6.3.4h0m2 0h0m4.1 1.1h0m-2.7 1.2h0m2.1.3h0m-3.3.2h0m4.7.2h0m-.1.1h0m0 .6h0m-1.3 2.4h0m-1.8.4h0m-.2 0h0m-3.9.5h0m.7.3h0m.1 1.4h0m5 .6h0m-5.4 1.4h0m3.6.7h0m-2.1.9h0m.8.1h0m-3.3.8h0m1.4 1.6h0m2.6.5h0m.7.5h0m-4.2.8h0m-.6 1h0m2.9 1.5h0m-1.2.8h0m2.1 3h0m-1.3.1h0m.4 0h0m.1.2h0m-.1.9h0m-.5 1.9h0m-.2 3.4h0m-.4 1.9h0m-1.3 1.7h0m.9 1.3h0m.4.9h0m-2 2.3h0m1.4.6h0m-1.1 2.5h0m-.3 2.6h0m.7 2.4h0m.9.2h0m-.9 2.9h0m.4 3.6h0m.9.7h0m-1.3 2.1h0"/><path stroke="#8c8ca0" stroke-opacity="0.70" stroke-width=".9" stroke-linecap="square" d="m46.9 570.9h0m3 .5h0m-1.7.4h0m5.6 3.2h0m.7.8h0m1.5.8h0m-1.9.4h0m-3 1.1h0m-7.9.1h0m9 .2h0m-2.7.3h0m2.8.3h0m3.9.2h0m-4.4 1.1h0m1.5 1.2h0m-4 .7h0m-.2.4h0m1.5 7.5h0m-1.3 0h0m-4.6.1h0m4.3 1.5h0m-5.8 2.8h0m3.6 1.3h0m1.1.1h0m-8.7.3h0m2.3 1.1h0m3.9 2.8h0m.5.8h0m-.7.2h0m.5.3h0m-6.5 2.2h0m4.8 1.8h0m-2.5.6h0m1.5 1.3h0m-2.1 2.1h0m.8 4.3h0m-.6 2.5h0m-1.5 1.5h0m1.9.7h0m.4.3h0m1 .3h0m-3.4 1.2h0m2 6.6h0m-.9.6h0m.4 3.2h0"/><path stroke="#0808a0" stroke-opacity="0.90" stroke-width=".9" stroke-linecap="square" d="m121.8 576.2h0m.1 4.4h0m-6.7.3h0m-.7.6h0m15.8 3.5h0m-15.7 1.5h0m6.7.8h0m-6.9 3.1h0m4.9.3h0m-.6.9h0m2.2.1h0m-4.1 1.1h0m5.2 3.5h0m1.2 1h0m-4.3 3.1h0m5 3.3h0m15 2.6h0m-16.8.1h0m-1.8.1h0m-3.2 1.7h0m2.2.2h0m-2 0h0m-2.7 2.4h0m3.6.3h0m.4 1.7h0m-1.6 4.7h0m-.3.5h0m1.2 1.8h0m.6.8h0m2 1.5h0m.3 1.6h0m-6.1 3.9h0m9.4 2h0m-6.9 1.3h0m-3.2 5.7h0m5.4.4h0m-6.2 5.5h0m3.7.7h0m-3.9 1h0m2.3.1h0m-2.4.4h0m3 .1h0m-1.1.5h0m3.5.7h0m-1.9.1h0m-2.4.7h0"/><path stroke="#1a1aff" stroke-opacity="1.00" stroke-width=".9" stroke-linecap="square" d="m113.8 572h0m2.6.3h0m-1.1.5h0m3.4.5h0m-4.2.2h0m-1.7.3h0m4 .9h0m.2.2h0m-.8 1.4h0m4.5.1h0m.7.5h0m-8.7 0h0m1.1.5h0m3.3.2h0m1.2.1h0m-1.9 0h0m-3.4.2h0m12.1.8h0m-5.5 2.8h0m-2.2 1.1h0m2.4.5h0m.6.7h0m-1 0h0m-1.6 1.9h0m.7.4h0m8.8 2.8h0m-9 .7h0m-1.3 2.7h0m-1.3.4h0m5.6.6h0m-6.1 0h0m2.2.4h0m24.2 0h0m-24.3.4h0m15.2.1h0m-12.5 0h0m-2.3 1.2h0m-3.2.3h0m14.4 1.6h0m-13 .7h0m2.9 1.2h0m-.3.9h0m4.1.2h0m-2.4 1.3h0m-3 .5h0m-2.5.4h0m.7.6h0m10 1.6h0m-3.1.1h0m-5.2.2h0m-.5.5h0m-1.4.1h0m.6.4h0m1.1 1.3h0m-1.6 1.2h0m1.6.2h0m-1.9 1.1h0m6.4.5h0m-5.9.1h0m2.4.4h0m3.7.8h0m-6.5 1.4h0m1.3 1.6h0m2 .6h0m-1.7.9h0m6.5.5h0m-8.3.8h0m2.1.4h0m1.3.5h0m4 .8h0m-5.1.2h0m-.9 0h0m1.3 1.4h0m.3.2h0m.7.5h0m-.3.4h0m-2.8 1.3h0m5.1.1h0m-.4.3h0m-5 .7h0m4.4.5h0m2.4.9h0m3.2.1h0m-3.3.8h0m-6 .4h0m-.8.9h0m9.1 3.8h0m-8.1.3h0m-.7 1.1h0m3.3.9h0m-4.5 3.6h0m1.5.5h0m6.3.1h0m-2.3.4h0m-1.7.5h0m-3.3.8h0m9.2.4h0m-1.2 1.1h0m-3.4.4h0m-5.8.4h0m4.4.4h0m.5.1h0m-5.1.1h0m2.7.6h0m16.1 1.8h0"/><path stroke="#2b2bd8" stroke-opacity="0.90" stroke-width=".9" stroke-linecap="square" d="m114.8 572.1h0m2.9.2h0m-2.6.6h0m-.9.4h0m2.1.1h0m-1.3 0h0m-.9.2h0m1.3.4h0m-.9.4h0m8.1.3h0m-7.9.1h0m8.3.7h0m-6.9.1h0m-2.5.7h0m3.3.7h0m3.2 1.7h0m-2 1h0m-2.3.7h0m6 .5h0m-7.6.5h0m10.7.3h0m3.2 1.5h0m-13 2.1h0m-1 0h0m17.3.2h0m.6.1h0m-15.2 0h0m5.8 1.4h0m-8.5.1h0m2.3 0h0m1.4.5h0m-.1 1.1h0m6.1.8h0m-6.9.4h0m1.9.5h0m-2.8.8h0m10.3.5h0m-10.3.7h0m19.6 0h0m-17.2.7h0m-2.6.2h0m1.7.1h0m-2 1h0m1.2.6h0m-2.2.5h0m6.3.9h0m-5.6.8h0m5.6 1.2h0m1.4.3h0m-3.1 2.3h0m-4.1 1.3h0m20 .7h0m-19.2.2h0m7.9.1h0m-7.3 1h0m.4.3h0m-1.9.5h0m4.4.2h0m-.7.2h0m-2.6.3h0m-.9.1h0m-.1 1.9h0m1.3 1.3h0m11 .3h0m-12.7.1h0m3.5.6h0m.1 1.1h0m1 .9h0m-4.5.5h0m0 .4h0m6.8 0h0m-5.1.4h0m1.1.6h0m2.3.4h0m1.4.8h0m-5 .6h0m-1.4 1.9h0m9.3.9h0m.8.4h0m-9.7.8h0m7.9.7h0m-6.8.8h0m7.4 2h0m.7.9h0m-8.3.4h0m2.3.5h0m-.9 2.4h0m-.9.2h0m.5.2h0m5.4.7h0m17.5 2.3h0m-23.8.1h0m10.1 1.2h0m-3.7 1.8h0m-6.6.5h0m-1.4 1.8h0m3.7.2h0m-2 1.4h0m-2.1.4h0m22.4 1.2h0m-17.8 1.4h0m-4.2.5h0m-1.2.4h0m1.7 0h0m0 1.7h0m4.5.6h0m-6.3.1h0m2.6 1.7h0m2.2 0h0m.2 1.7h0m-3.3.4h0"/><path stroke="#5a5ad0" stroke-opacity="0.80" stroke-width=".9" stroke-linecap="square" d="m113.6 573.1h0m4.1.4h0m-4.7 3.5h0m1.1.5h0m1.3 1.1h0m-.3.9h0m.5.2h0m12.1.1h0m-13.7 0h0m1.2 2.6h0m5.5 1.7h0m-4.4.4h0m1.9 0h0m5.8 4.3h0m-7.2 1.9h0m-2.4.6h0m2.3.6h0m-2.1 1.6h0m.9.3h0m13.5 0h0m-13.3.5h0m-1.2 1.2h0m.4.7h0m-.4.9h0m.9 2.5h0m1.7.1h0m-2.1 1.8h0m-.3 2h0m.8 1.8h0m6.9.2h0m-.2.3h0m-6 .6h0m-1.4.9h0m1.9.3h0m.1.7h0m-2.3 1h0m1.5 2.5h0m6 1.3h0m-6.8.3h0m-.2 1.1h0m5.7.2h0m-5.4.4h0m11.8.7h0m-12.5.7h0m3.2.2h0m-2.9 1.4h0m6.8.4h0m0 5.5h0m-1 0h0m-5.3.4h0m2.8.6h0m-1.6.3h0m14.7.9h0m-10.1.3h0m-4.2 0h0m1.1.7h0m-2.8 1.6h0m14.2.2h0m-9.5.8h0m-4.8.1h0m13.5.5h0m-9.9.5h0m-2.8.6h0m17.9.3h0m-12.3 1.5h0m7.1 1.4h0m-14.1.2h0m4.1 1.5h0m.8.8h0m-4.2 1.1h0m5.1.6h0m-3.3.3h0m2.1.4h0m-5.1 2.1h0m.6.3h0m5.1 0h0m-5.8 1.1h0m8.3.3h0m-3.4 1.7h0m7.6 1.1h0m-11.1.2h0"/><path stroke="#8080c8" stroke-opacity="0.80" stroke-width=".9" stroke-linecap="square" d="m126.5 572.2h0m-.5.4h0m-13.8.1h0m1.1 3h0m1.1 3.8h0m.2.2h0m6.9 1.4h0m21.3 3.3h0m-8.8 1.3h0m-14.5.2h0m2.2.3h0m-5.5.2h0m5.1 5.7h0m-1.5 1.1h0m-1.8.1h0m-3.2.4h0m9.1.1h0m-8.2 1.5h0m.3 1h0m7.8.2h0m2.7 2.2h0m-12 .6h0m4.7.1h0m-3.3.6h0m1.2 1.1h0m-1.3 0h0m.6.8h0m9.7.7h0m-8.9 2.8h0m1.1 1h0m9.7.2h0m-13.6 1.6h0m5.8.2h0m-2.9.3h0m4.8 3h0m-.5.3h0m-6.2 1.7h0m0 1.9h0m5.9.5h0m7.8 1.7h0m-11.4.7h0m-1 0h0m1.2.4h0m9.2.7h0m4.6.7h0m.9 1.7h0m-12.2 2.3h0m-2.6.5h0m18 .6h0m-16.5.6h0m-1 .9h0m-2.1 2.4h0m12.7 1h0m-13.9.4h0m6.1 0h0m-2 2.7h0m4 1.2h0m-8.5 1.9h0m.1.5h0m4.7.4h0m-4.2 1.1h0m5.7.5h0m-2.9 0h0m-2.7.5h0m1.7 1h0m-1.9.7h0m1.5.4h0m.2 2h0m-.2.1h0m-2.3.1h0m2.7.1h0m6.9.5h0m-11 1.1h0m-.5.9h0m2.7.1h0"/><path stroke="#8c8ca0" stroke-opacity="0.70" stroke-width=".9" stroke-linecap="square" d="m115.4 574.4h0m1.1 2.1h0m-3.2.6h0m-.2.3h0m.6 1.1h0m19.9.2h0m-18 2.8h0m6.2 1.2h0m4.9 4.8h0m-11.7.9h0m2.5.1h0m-2.4 7.2h0m3.5 1.3h0m.4 6.8h0m6.7.6h0m-9.9 5.5h0m21 .4h0m-20.9 2.9h0m4.4 2.4h0m-3.6 4h0m-.9.1h0m.3.5h0m.4 6.1h0m-2.2 2.6h0m1.2 1.3h0m12.4 1.7h0m-13.7.3h0m7.5.1h0m-5.5 2.7h0m3.6.7h0m5.9 5.3h0m17.8 2h0"/></g><rect x="39.8" y="561.6" width="51.7" height="92.7" fill="none" stroke="#222" stroke-width="1.1"/><rect x="39.1" y="547.3" width="111.1" height="109.1" fill="none" stroke="#555" stroke-width=".8"/><path stroke="#333" stroke-width=".8" fill="none" d="M56.5 656.4v2.6M89 656.4v2.6M114.5 656.4v2.6M140 656.4v2.6M59.75 656.4v1.4M63 656.4v1.4M66.25 656.4v1.4M69.5 656.4v1.4M72.75 656.4v1.4M76 656.4v1.4M79.25 656.4v1.4M82.5 656.4v1.4M85.75 656.4v1.4M96.68 656.4v1.4M101.17 656.4v1.4M104.35 656.4v1.4M106.82 656.4v1.4M108.84 656.4v1.4M110.55 656.4v1.4M112.03 656.4v1.4M113.33 656.4v1.4M122.18 656.4v1.4M126.67 656.4v1.4M129.85 656.4v1.4M132.32 656.4v1.4M134.34 656.4v1.4M136.05 656.4v1.4M137.53 656.4v1.4M138.83 656.4v1.4M147.68 656.4v1.4M152.17 656.4v1.4M39.1 650.42h-1.4M39.1 646.34h-1.4M39.1 642.26h-1.4M39.1 638.18h-1.4M39.1 630.02h-1.4M39.1 625.94h-1.4M39.1 621.86h-1.4M39.1 617.78h-1.4M39.1 609.62h-1.4M39.1 605.54h-1.4M39.1 601.46h-1.4M39.1 597.38h-1.4M39.1 589.22h-1.4M39.1 585.14h-1.4M39.1 581.06h-1.4M39.1 576.98h-1.4M39.1 568.82h-1.4M39.1 564.74h-1.4M39.1 560.66h-1.4M39.1 556.58h-1.4M39.1 548.42h-1.4M39.1 654.5h-2.6M39.1 634.1h-2.6M39.1 613.7h-2.6M39.1 593.3h-2.6M39.1 572.9h-2.6M39.1 552.5h-2.6"/><text x="56.5" y="667.2" text-anchor="middle" font-size="4.6" fill="#111" stroke="#111" stroke-width="0.14">0</text><text x="89" y="667.2" text-anchor="middle" font-size="4.6" fill="#111" stroke="#111" stroke-width="0.14">10<tspan dy="-2.4" font-size="3.68">3</tspan></text><text x="114.5" y="667.2" text-anchor="middle" font-size="4.6" fill="#111" stroke="#111" stroke-width="0.14">10<tspan dy="-2.4" font-size="3.68">4</tspan></text><text x="140" y="667.2" text-anchor="middle" font-size="4.6" fill="#111" stroke="#111" stroke-width="0.14">10<tspan dy="-2.4" font-size="3.68">5</tspan></text><text x="34.7" y="656.9" text-anchor="end" font-size="4.6" fill="#111" stroke="#111" stroke-width="0.14">0</text><text x="34.7" y="636.5" text-anchor="end" font-size="4.6" fill="#111" stroke="#111" stroke-width="0.14">50K</text><text x="34.7" y="616.1" text-anchor="end" font-size="4.6" fill="#111" stroke="#111" stroke-width="0.14">100K</text><text x="34.7" y="595.7" text-anchor="end" font-size="4.6" fill="#111" stroke="#111" stroke-width="0.14">150K</text><text x="34.7" y="575.3" text-anchor="end" font-size="4.6" fill="#111" stroke="#111" stroke-width="0.14">200K</text><text x="34.7" y="554.9" text-anchor="end" font-size="4.6" fill="#111" stroke="#111" stroke-width="0.14">250K</text><rect x="45" y="657" width="2" height="2.3" fill="#111" fill-opacity="0.85"/><rect x="51.7" y="657" width="3" height="2.5" fill="#111" fill-opacity="0.85"/><rect x="59" y="657" width="2.4" height="2.3" fill="#111" fill-opacity="0.85"/><text x="98" y="676" text-anchor="middle" font-size="10.15">Live Cells (AmCyan)</text><text transform="translate(18.5 611) rotate(-90)" text-anchor="middle" font-size="10.15">SSC-A</text>
<clipPath id="c13"><rect x="197.1" y="548.4" width="112.2" height="106.6"/></clipPath><g clip-path="url(#c13)"><path fill="#2020e0" fill-opacity="0.23" fill-rule="evenodd" d="M243.5 569.2l-2.7 0-7.6 1.6-11.4 4-15.6 9.7-6.4 7-2.6 2 0 18.7.6 0 1-1 4.4-8.7 9.3-10.3 13.7-8.4 17.6-6.6.7-.7 0-3z"/><path fill="#2020e0" fill-opacity="0.23" fill-rule="evenodd" d="M243.2 572.8l-2.4 0-17.3 6.7-13.7 8.3-12.6 14 0 9.7 1-.3 3.6-7.7 1.7-2.3 9-9.7 13.7-8.3 17-6.4.6-.6z"/><path fill="#2020e0" fill-opacity="0.23" fill-rule="evenodd" d="M242.5 575.5l-17.7 6.7-14 8.6-9 10-3.3 6.4-1.3 1 0 2.3.6-.3 4-8.4 10-11 12.4-7.6 18.3-7z"/><path fill="#2020e0" fill-opacity="0.20" fill-rule="evenodd" d="M273.8 572.5l.7 3.3 3.7 4 1.6 3 11 25.7 3 10.7.7 4.6.3 11.4-1.3 2.6 0 1 1.3 1.7 5.4-.7 1.3-1 .3-3.3-.3-17-1-6.7-2.7-9.3-11.6-26-1.4-1.3-3.3-1.4-5.3-1.3z"/><path fill="#2020e0" fill-opacity="0.20" fill-rule="evenodd" d="M274.8 573.5l1 3.3 2.4 2 2.3 4 10.7 24.7 3.6 14 .7 13.7-1.3 3.3.6 1 1.7 0 1.3-.7.7-1 .7-2.3-1-16.7-3.7-13-6.7-16-5.6-12-4-3.6z"/><g filter="url(#bl)"><path fill="#0000ff" fill-rule="evenodd" d="M278.5 579.8l-2-2-3.7-2.3-16.3 0-12.3 1.3-17.7 6.7-14.3 8.7-9 10-4.7 9.3-1.3 1 0 32 1.6 0 8 2.3 33-1.3 38-.3 13-3 2-2.7 2.4-4.7-1-15-4-14z"/><path fill="#0010ff" fill-rule="evenodd" d="M278.5 579.8l-2-2-3.7-2.3-16.3 0-12.3 1.3-.7 1-1.3 10.7 0 6.7-.7 4-7.7 3.3-3-6.3-3-3-2.3-1-5 .3-5 3.3-4 5.4-2.7 6.3-5.3 6-3 7.3-.7 5 .4 5.7 1.6 5.7 3 5.3 4 4 2.7.3 28.3-1.3 38-.3 13-3 2-2.7 2.4-4.7-1-15-4-14-5-11.6-1.4-.7 0-2.3z"/><path fill="#0020ff" fill-rule="evenodd" d="M276.5 577.8l-3.7-2.3-16.3 0-7 .7-1.7 6.3-1 8 0 14.3-9.6 4.4-4.4 3-1-1.4 0-3-1-4-1.6-3.3-1.7-2-3-1.7-3 0-4.3 2.4-3.4 4-2.3 5-2 1.3-4 4.3-3 6.7-.7 3 0 7 1.7 6 3 5 3 3 3.3 2 27-1 38-.3 13-3 2-2.7 2.4-4.7-1-15-3.7-13-2-4.6-6-1.4-2.7 0-.6-.6-.4-13-1.3-8z"/><path fill="#0036ff" fill-rule="evenodd" d="M272.8 575.5l-16.3 0-3.3.3-.7.7-2 7.7-1 8 0 11.6.7 4-8.7 4-3.3 2-4.7 4-3-4.6 0-3-1.3-5.4-1.7-3-1.3-1.3-2-1-3 0-2.4 1-2 1.7-2.6 3.6-1.4 3-2.6 1.7-4 4.3-2 4-1.4 5.4 0 5.6 1.4 5.4 2 4 4 4.3 2.6 1.7 4.4 1.3 3.6 0 4.4-1.3 2.6-1.7 2.4-2.3 3 3 2.6 1.6 42-.6 13-3 1-1 3-5.4.4-3-1-13-3-10.6-1-2-6-1.7-6.4-.7-1.6-.6 0-15.4-1-6.3z"/><path fill="#0052ff" fill-rule="evenodd" d="M269.8 575.5l-14 .3-2.6 7.4-1.4 7.6-.3 10 1.3 9.4-8 3.6-4.6 3-4.4 4-1.6 2.4-1.7-5.4-3-4.3-1-6.7-1.3-2.6-3.4-2.7-3 0-2 1-3 3-2 4-3 1.7-3.3 3.3-2 3.3-1.3 3.7-.7 6.7.7 4.3 1.3 3.7 2 3.3 3.3 3.3 3.7 2 2.7.7 3.6 0 2.7-.7 3.7-2 3.3-3.3 2-3.3 1.7 2.6 3.3 3.4 6 3.3 34.3-.3 6-1.4 5-2.6 5.4-4 1-2.4-1-15-2.4-7.6-7-3-11-2 .7-6.4-.7-12.6-1.6-7.4z"/><path fill="#006eff" fill-rule="evenodd" d="M223.8 603.2l-3 0-2 1-2.3 2.3-1.7 3.3-3 1.7-3.3 3-2.3 3.7-1.7 5.3 0 7 2 6 4 5 3 2 3 1 6.3-.3 4.7-2.7 4-5 2-6 0-7-1-3.7-2-4-2-2.3-.3-3.7-1.7-4.3zM260.2 575.5l-1.7 1.7-2.3 4.3-2.4 9.3-.3 11.4.7 5.3 1.3 4.7-9.3 4.3-3 2-4.4 4.3-2.3 4.4-.3 6 1.6 3.6 2.7 3 6.3 3.7 7.7 2 16-.3 7.7-2 6-2.7 4.6-3 4.4-4.3 1.6-2.7-.6-10.7-1-2-1.7-1.6-6.3-3.7-7.7-2-6.3-.7 1.3-7.6 0-8.4-2-10.6-2.3-5-2.4-2.7z"/><path fill="#0092ff" fill-rule="evenodd" d="M223.2 604.5l-2.4 0-2.3 1.3-2 2.4-1.3 2.6-3 1.4-3 2.6-2.7 4.4-1.3 4.3 0 7 2.3 6.3 1.7 2.4 3 2.6 5 2 5-.3 5-2.7 3.3-4 2.3-6.3 0-7-.6-2.7-1.7-3.6-3-3.7 0-2.3-1.3-4-1.4-1.7zM263.8 579.2l-2.6.3-2 2-2 4-1.4 5.3-.3 12 1.3 6.7 2 4.3-5 1.7-7.6 4.3-3.7 3.7-2.3 5 .3 5 2 3.3 2.7 2.4 3.6 2 4 1.3 6.7 1 8.3-.3 10.4-2.7 7.6-4.3 3.7-3.7 2.3-5-.3-5-2-3.3-2.7-2.4-3.6-2-4-1.3-11-1.3 2.3-9.4 0-9.6-2.3-9.4-1.4-2.3-2-2z"/><path fill="#00b6ff" fill-rule="evenodd" d="M289.8 624.5l-.6-1.3-2.7-2.7-3.3-2.3-4.4-2-7.3-1.4-7.3.4-7 1.6-7.7 4-3.7 3.7-1.6 3.7 0 3.6 1 2.4 2.3 2.6 5.7 3 7.3 1.4 10.7-.7 8-2.3 4-2 3.6-2.7 3-4.3zM222.8 605.8l-3.3.7-2.3 2.3-1.7 2.7-3 1.3-3 2.7-2.3 3.7-1.4 4.3 0 7 .7 2.7 2 4 4 4 5.3 2 4-.4 4.7-2.3 4-5 1.7-5 .3-4.3-1-5.4-2-4-2.7-3 0-1.6-1.3-4-1-1.4zM262.8 583.8l-1 .4-2 2-1.6 4-.7 3.6 0 8.4.7 3.6 1.6 4 2 2 1.4.4 1-.4 2-2 1.6-4 .7-3.6 0-8.4-.7-3.6-1.6-4-2-2z"/><path fill="#00dafa" fill-rule="evenodd" d="M247.2 632.2l1 2.3 2.6 2.7 4.4 2 4.6 1 11-.4 6.4-1.6 7-3.7 3.6-4 1-2.7 0-2-1-2.3-2.6-2.7-3.4-1.6-9-1.7-8.3 0-7.3 2-4.7 2.7-3 3-2.3 5zM222.5 607.2l-1.7 0-1.3.6-2 2-1.3 2.4-1.7.3-2.7 1.7-3 3.3-2.3 5.7 0 7.6 2.3 5.7 3 3.3 4.7 2.4 5 0 4.7-2.4 3-3.3 2.3-5.7.3-5.3-1-4.7-1.6-3.3-3-3.3-.4-2.7-1-2.3-1-1.4zM262.8 590.2l-1.6 1.3-.7 1.7-.7 6.3 1.4 5 2 1.3 1.6-1.3.7-1.7.7-6.3-1.4-5z"/><path fill="#00fff0" fill-rule="evenodd" d="M287.2 624.8l-1.4-2-1.6-1.3-5.4-2.3-3.6-.7-9.7.3-8 2.4-5 3-3 3.3-1 2.3 0 2 1.7 3.4 4 2.6 6.6 1.7 9.7-.3 8-2.4 5-3 2.3-2.3 1.4-2.3zM222.5 608.5l-2.7.3-3.3 4-1.7.4-2.6 1.6-3.4 4-1.6 4.4-.4 5.6 2 6.4 3.4 4 4.6 2.3 4.4 0 4.6-2.3 3.4-4 1.6-4.4.4-5.6-1.4-5-2-3.4-2.6-2.3-.7-4z"/><path fill="#00ffbe" fill-rule="evenodd" d="M285.8 625.2l-1.3-2-1.7-1.4-3.6-1.6-5-1-8.4.3-5.3 1.3-6 3-3.7 3.7-1 4 1.7 3.3 4.3 2.7 6 1.3 8.4-.3 7-2 5.6-3.3 3-4zM222.2 609.8l-2.7.7-2.3 3-2.7.7-4 3.3-2 3.7-1 4 .3 5.6 2 4.7 4.4 4.3 3.6 1.4 5-1 2.7-1.7 2.7-3 1.3-2.7 1-4 0-3.6-1-4-2-3.7-3-2.7-.3-2.6z"/><path fill="#00ff8c" fill-rule="evenodd" d="M284.5 625.8l-2.3-3-4-2-3-.6-10.4.3-4.6 1.3-5 2.7-2.7 2.7-1 2 0 3 2.3 3 4 2 3 .6 10.4-.3 4.6-1.3 5-2.7 2.7-2.7 1-2zM221.2 611.2l-1 .3-2.4 2.7-4 1.3-2.3 2-2.3 4-1 4 .3 5 2 4.7 3 3.6 3 1.7 3 0 6-3 2-2.3 1.3-2.7 1-4 0-3-1-4-2.3-4-3-2.7-.7-2.6z"/><path fill="#00ff57" fill-rule="evenodd" d="M282.8 626.2l-2-2.7-4.3-2-3.7-.7-6.6.4-5 1.3-5 2.7-2.7 3-.3 3.6 2 2.7 4.3 2 3.7.7 6.6-.4 5-1.3 5-2.7 2.7-3zM221.5 613.2l-1.7.3-1.6 1.7-2.4.3-2.3 1.3-2.7 3-1.6 4.4 0 5.6.6 2.4 2.7 5 2.7 2.3 2 .7 3-.4 4.3-2.6 2.7-3 1.6-4.4 0-5.6-.6-2.4-1.7-3-4-3.3 0-1z"/><path fill="#00ff2d" fill-rule="evenodd" d="M280.8 626.2l-2.6-2.7-4-1.3-4.4-.4-5 .7-4 1.3-3.3 2-2.3 3 0 3 2.6 2.7 4 1.3 4.4.4 5-.7 4-1.3 3.3-2 2.3-3zM217.2 616.2l-3.4 1.6-2.6 3.4-1 2.6-.4 4.4 1.4 5.3 1.3 3 3.7 3 3.6 0 4.4-3.3 2.6-3.4 1-2.6.4-4.4-1-4-3-4-3.4-1.6z"/><path fill="#00ff0f" fill-rule="evenodd" d="M257.8 631.2l2.4 2.3 3.3 1 7-.3 5.3-2.4 2.4-2.6 0-2.4-2.4-2.3-3.3-1-7 .3-5.3 2.4-2.4 2.6zM217.8 617.5l-2.6 1-2.4 2.3-1.3 2.7-.3 8.7 1.3 3.6 1.7 2 2.3 1.4 3 0 3-2 2.7-4 1.6-4 0-4.4-1.6-4-2.4-2.3-2.6-1z"/><path fill="#12ff00" fill-rule="evenodd" d="M219.8 619.8l-1.6 0-2.4 1-2.6 3-1.7 4 0 4.4 1.7 4 1.6 1.6 2.4 1 1.6 0 2.4-1 1.6-1.6 1.7-4 0-8-2.3-3.4z"/><path fill="#36ff00" fill-rule="evenodd" d="M217.8 621.5l-2.3.7-2.3 2.3-1.4 3.3 0 4.4 1.4 3.3 2.3 2.3 2.7.7 2.3-.7 2.3-2.3 1.4-3.3 0-4.4-1.4-3.3-2.3-2.3z"/><path fill="#5aff00" fill-rule="evenodd" d="M216.8 622.2l-2 1-2 2.6-.6 2.4 0 3.6 1 3 1.6 2 2 1 2.4 0 2-1 2-2.6.6-2.4 0-3.6-1-3-1.6-2-2-1z"/><path fill="#b2ff00" fill-rule="evenodd" d="M217.2 622.5l-1.7.7-1.7 1.6-1.3 3.4 0 3.6 1.3 3.4 1.7 1.6 3.3.7 1.7-.7 1.7-1.6 1.3-3.4 0-3.6-1.3-3.4-1.7-1.6z"/><path fill="#e9f000" fill-rule="evenodd" d="M216.5 623.2l-3 3-.7 2 0 3.6.7 2 2.3 2.7 3.7.3 3-3 .7-2 0-3.6-.7-2-2.3-2.7z"/><path fill="#ffcf00" fill-rule="evenodd" d="M217.2 623.5l-3 2.3-1 2.7 0 3 1 2.7 1.6 1.6 1.4.7 1.6 0 3-2.3 1-2.7 0-3-1-2.7-1.6-1.6-1.4-.7z"/><path fill="#ffa000" fill-rule="evenodd" d="M216.8 624.2l-2.3 2-1 3 0 1.6 1 3 1.7 1.7 3 .3 2.3-2 1-3 0-1.6-1-3-1.7-1.7z"/><path fill="#ff7200" fill-rule="evenodd" d="M216.8 624.8l-2.3 2.4-.3 4.6 2 3 3 .4 2.3-2.4.3-4.6-2-3z"/><path fill="#fd4900" fill-rule="evenodd" d="M217.2 625.5l-2 1.7-.7 3.6.7 2 1.3 1.4 2.3.3 2-1.7.7-3.6-.7-2-1.3-1.4z"/><path fill="#f72f00" fill-rule="evenodd" d="M217.8 626.2l-2 1.3-.6 3.3.6 1.7 1 1 1.4.3 2-1.3.6-3.3-.6-1.7-1-1z"/><path fill="#f01400" fill-rule="evenodd" d="M217.8 627.5l-1.3 1-.3 2 .3 1 1.7 1 1.3-1 .3-2-.3-1z"/></g><path stroke="#0808a0" stroke-opacity="0.90" stroke-width=".9" stroke-linecap="square" d="m243.5 570h0m.4.5h0m-.4.2h0m-7.9.7h0m7.8.3h0m-10.3.4h0m6.1 0h0m-6.8.4h0m7.5.3h0m-18 1.9h0m18.9.1h0m-12.2 0h0m14 .1h0m-8.8.2h0m6.3 0h0m-22.3 0h0m3.8.1h0m16.7.4h0m.8.2h0m-3.5 0h0m7 .3h0m-11.3.1h0m3.3.1h0m9.2.6h0m-6.3 0h0m-15.7 1h0m-4.2.5h0m10.6.7h0m-5.7.4h0m7.7 1.6h0m-.6.5h0m-.6.2h0m-4.2 0h0m-3.3.2h0m4.1.4h0m-6.4.2h0m4.3.1h0m-6.5.8h0m6.5.5h0m.9.1h0m-.5.6h0m-2 .2h0m-1.8.2h0m-12.5.2h0m11.5.4h0m-8.1.7h0m5.8.4h0m-5.4 0h0m-5 .4h0m9.3.4h0m-13.7.6h0m3.9 0h0m10.5.3h0m-.7.8h0m-1.5.3h0m-1.5.8h0m-.5.7h0m-10.9.2h0m7.2 1.4h0m-.2.5h0m-3.3 1.6h0m4 .1h0m-8.1.1h0m1.7 1h0m4.7.4h0m-3.1.4h0m-1 2.1h0m-2.7 2h0m2.3 1h0m-1.2 2.3h0m-3.4 2h0m1.1.5h0m-.7.7h0m-1.2 1.5h0m.2.1h0"/><path stroke="#1a1aff" stroke-opacity="1.00" stroke-width=".9" stroke-linecap="square" d="m238.2 572h0m-1.5.1h0m5.4.1h0m-2.4.4h0m-8.6.2h0m12.5.4h0m-8.5.2h0m1.3 0h0m-15.1.6h0m13.6.1h0m6.9.8h0m-3.9.2h0m1.1 0h0m-16.3.1h0m21.1 0h0m-.3.2h0m-8.3 0h0m4.2 0h0m-17.7.1h0m18.8.1h0m-16.9.2h0m10.5 0h0m-3.6 0h0m-6 .1h0m8.5.1h0m6 .1h0m1.5 0h0m-12.6 0h0m.5.5h0m-9 .1h0m3.1.1h0m-4.3 0h0m15.3 0h0m9.3.1h0m-3.3 0h0m1.5.1h0m-15.3.1h0m13.5.5h0m.1.2h0m-5.7.1h0m3.4.1h0m-16.6.1h0m14.8.1h0m-21.7.1h0m19.6.2h0m2 0h0m-15.8.1h0m11.1.3h0m3.6.2h0m-8.1.1h0m-1.8.2h0m-1.3 0h0m-4.4.1h0m9.6.1h0m-1.2 0h0m-10.9.2h0m14.1.1h0m-4.1.1h0m6.2.2h0m-9 .1h0m9.7.1h0m-.5 0h0m.9.1h0m-2.7.1h0m-17.1.1h0m15.4.1h0m1.5.2h0m-16.4.1h0m4.3 0h0m7.5.1h0m-.8 0h0m-7 0h0m3.7.2h0m-5.9.1h0m-3.9.1h0m14.6.2h0m-9.9 0h0m-4 .1h0m-5.2.2h0m1.4.2h0m14 .2h0m-13.8 0h0m18.1.1h0m-5.6 0h0m-2.8.2h0m6.7.1h0m-1.1.2h0m-1.4.1h0m-12.3.1h0m12.3.2h0m-9.6 0h0m8.8.1h0m3.5.1h0m-6.6.1h0m-4.9.2h0m3.7 0h0m7 .2h0m-5.3.1h0m4.5 0h0m-19.4.2h0m7.1.3h0m9.2.3h0m-.6 0h0m-12.6 0h0m12.8.1h0m-2.7.2h0m2.4.2h0m-5.9.1h0m6.2.1h0m-.6.2h0m.9.4h0m-1.1.4h0m-12.7 0h0m10.8.1h0m1.4.1h0m-1.2.4h0m-1.5.1h0m-3.9 0h0m4.8.1h0m-2.1 0h0m-4.4 0h0m4.6.1h0m-4.8.1h0m2.6.1h0m-9.8.1h0m-2.9.1h0m15 .1h0m2.3.1h0m-7.3 0h0m7.2.3h0m-4.6.3h0m3 .1h0m-7 0h0m3.4.1h0m-3.9 0h0m2.4.1h0m-2.2.1h0m7.1.2h0m-5.5.4h0m1.4.2h0m-9.5.1h0m4.4.2h0m3.3.3h0m3.8.1h0m-11.5.1h0m10.6.1h0m-3.2.2h0m-.2.1h0m.3 0h0m-4.3.2h0m-1.2.7h0m-4 .1h0m5.7.2h0m2 .1h0m-7.8 0h0m7.6.2h0m-8.3.1h0m10.2 0h0m-4.2.3h0m-4 .3h0m.5.5h0m-3.4.1h0m10.7 0h0m-8.1.2h0m8.3.1h0m-2 .2h0m-10 .1h0m9.2 0h0m-4.2.7h0m-2 .1h0m8.4.1h0m-2 .5h0m-3.6 0h0m0 .4h0m-2.8.4h0m5.7.1h0m-4.8.6h0m5.5.2h0m-3.7.7h0m3 .2h0m-3.5.1h0m-3.3.2h0m5.4 0h0m-2.6.6h0m-1.2.3h0m-1.8.1h0m2.2 0h0m3.3.1h0m-.8.4h0m-3.4 0h0m-1.4.1h0m2 .2h0m-2 .1h0m3.8.1h0m-.6.6h0m-4.5 0h0m4.4.6h0m-4.2 0h0m4.6.1h0m-3.3.1h0m1.6.1h0m.8.1h0m-3 0h0m3.1.2h0m-.7.1h0m-1 1.2h0m1.6 0h0m-3 .2h0m-.3.5h0m-.5.1h0m-.2.7h0m2.6.3h0m-.7 1.4h0m-.9 0h0m1.3.3h0m-1.7.3h0m1.7 0h0m-2.3 1.1h0m.4.2h0m0 .5h0m.4 1h0"/><path stroke="#2b2bd8" stroke-opacity="0.90" stroke-width=".9" stroke-linecap="square" d="m239.8 572.2h0m-4.4 0h0m7.3.3h0m-2.9.5h0m-11.4 0h0m11.8.2h0m-.6.2h0m-7.6.2h0m9.8.1h0m-18.9.2h0m17 0h0m2.3.1h0m-4.3 0h0m4.5.4h0m-10 0h0m4 .2h0m3.7.1h0m.4.1h0m-21.4.5h0m24.2 0h0m-20.6.2h0m18.1 0h0m.3 0h0m-26 .1h0m12.2.1h0m11.9.5h0m1.4 0h0m-18.4 0h0m.9 0h0m14.7.1h0m-2.4 0h0m-17.1 0h0m22.9.2h0m-3 0h0m-1 0h0m5.9 0h0m-3.7 0h0m-15.8 0h0m19.4.2h0m-14 .1h0m14.8 0h0m-8.3.3h0m4.4.1h0m-15.2 0h0m17.1.1h0m-19.8 0h0m13.3.1h0m6.6.1h0m-3.1 0h0m1.9 0h0m-23.5.1h0m7.1 0h0m12.7.1h0m-19.8.1h0m3.9 0h0m-6.2 0h0m19.4 0h0m-3.8.2h0m6.4.3h0m-3.9 0h0m-15.9.2h0m12 .1h0m-.1 0h0m-12.1.2h0m15.4.2h0m-10.5.1h0m15.8.1h0m-1.2.3h0m-9.5.1h0m-6.7.3h0m10.3.1h0m0 .1h0m-6.8.2h0m-11.2 0h0m11.8 0h0m9.9.1h0m.1.2h0m-1.6.1h0m-15.2 0h0m11.5.2h0m-4.1.1h0m-6.4.2h0m2.6 0h0m6.2 0h0m-3.5.1h0m-10.4 0h0m14.3.2h0m-15.2 0h0m18.3.1h0m-.3.2h0m-2.4.3h0m-1 0h0m-3 .6h0m2.9.3h0m-2.5.1h0m-4.6 0h0m.3.2h0m-8 .1h0m10 .5h0m1.8.3h0m-2.6.4h0m-2.7.2h0m4.7 0h0m-6.1.2h0m-.8.2h0m4 .1h0m-8.2 0h0m-5 .2h0m10 .1h0m-2.5 0h0m-10.3 0h0m10.5.2h0m-11.6.3h0m14.6 0h0m.1.2h0m-1.8.1h0m-6.9.3h0m10.8.1h0m-4.9.2h0m2.4.1h0m-5.9 0h0m7.7.1h0m-13.7.5h0m6.9 0h0m.2 0h0m4.8.1h0m-.5 0h0m0 .1h0m-14.3 0h0m9 .2h0m1 .2h0m-6.2.1h0m9 .3h0m.7.1h0m-4.4 0h0m3.9.3h0m-4.4.1h0m-4.3.1h0m8.1.6h0m-3.1 0h0m-12.4.5h0m2.7.1h0m7.1.5h0m-1.1.7h0m1.8.4h0m-1.3 0h0m-4.7.3h0m7 0h0m-1.5.3h0m-2 .1h0m2.8.2h0m-1.4.5h0m-3.9.4h0m2.1.2h0m2.6.1h0m-3.3 0h0m-1.8.3h0m.4.6h0m-3.7.4h0m1.2.3h0m-.9.2h0m3.4.4h0m-.6.4h0m-.1.1h0m1.2.1h0m-7.5.2h0m5.1.1h0m.6 0h0m-.1 0h0m2.9.4h0m-1 .1h0m-4.9.5h0m1.4.2h0m.7 0h0m3.3.2h0m-.4.2h0m-6 .1h0m5.2.1h0m-1.9 0h0m-1.3.3h0m-3.9 0h0m5.5.2h0m.5.6h0m-.8 0h0m-.4.2h0m.8.1h0m-4.1.2h0m1 0h0m-1.1.2h0m2.8.1h0m-.6.1h0m2 0h0m-4.2 1.4h0m-.9.9h0m2.9.5h0m-1 0h0m-.1 1.1h0m-1.5.1h0m.4.1h0m1.7 0h0m-1.6.1h0m1.5.2h0m-2.5 0h0m-1.2.2h0m3.5 1.1h0m-1.3.3h0m.1.1h0m-.5 0h0m.2.1h0m-.8 2.2h0m-1 1.3h0m.8.7h0"/><path stroke="#5a5ad0" stroke-opacity="0.80" stroke-width=".9" stroke-linecap="square" d="m240.4 571.4h0m2.3.1h0m-8.2.7h0m3.3.1h0m1.8 0h0m1.3.1h0m.2 0h0m1 .2h0m-13.3.4h0m9.8.2h0m-1.5.3h0m-13 .3h0m16.4.1h0m-13.6.3h0m12.7.1h0m3.9.6h0m-3.4.1h0m-2 0h0m-4.5.1h0m4.6.5h0m1.1.1h0m-2.7 0h0m-10.4 0h0m-1.8.1h0m12.8.2h0m2.8.1h0m-5 .4h0m-4.8.1h0m6.3.1h0m-.7.1h0m-10.1.1h0m-8 .1h0m23.9.1h0m-7.2 0h0m7.1.1h0m-2.6.4h0m.1.1h0m-20.6.1h0m13.4.1h0m8 .1h0m.4.1h0m-3.5.2h0m-11 0h0m13.3.3h0m-8.2 0h0m-8.1 0h0m6.2.2h0m8.7.2h0m-2.7.3h0m1.8 0h0m-3.9.4h0m-.9 0h0m-.6.1h0m-2.5.1h0m-10.6.1h0m14.1.3h0m-10.6 0h0m-2.1.2h0m2.7 0h0m8.7.3h0m-8.6.2h0m-6.7.1h0m11.9.1h0m2.6.6h0m-.3.5h0m-19.9.1h0m16.9.1h0m-8.3.5h0m1.9.1h0m-12.2 0h0m16.8.4h0m-3.4.5h0m.4.1h0m-13.5.1h0m13.4 0h0m-5 .2h0m1.7.2h0m-6.9.2h0m9.1.2h0m2.1 0h0m-14.4.1h0m2.1 0h0m-1.5.2h0m.4.3h0m3.8.5h0m5.6.2h0m-1.3.1h0m-5.6.3h0m-1.1.7h0m2.8.4h0m3.6 0h0m-6.1.2h0m5 .2h0m-2.5.8h0m-8.2.2h0m4.3.1h0m-11.6.5h0m9.3.2h0m2.9 0h0m-1.2.2h0m-9.2.1h0m-.1.3h0m8.4.1h0m4.6 0h0m-7.8.2h0m4.5.1h0m-1 .4h0m4.1.2h0m-10.6.1h0m4.6.6h0m2.8.3h0m-3.8.3h0m4.8.2h0m-.9 0h0m-5.2.1h0m2 .1h0m1.6.4h0m-2.3.2h0m1.4 0h0m-7.6 0h0m8.4 0h0m-4 .2h0m4.1.4h0m-3.5.1h0m2.2 0h0m.4.2h0m.7.4h0m-3.3.2h0m2.3.1h0m-8.3.4h0m2.3.2h0m5.5.2h0m-6 .4h0m.7.2h0m3.5.1h0m.6.1h0m-1.1 0h0m-1.1.1h0m.4.4h0m-2.5.2h0m-1.3.1h0m4.5 1h0m-5.9.1h0m-.1.9h0m.6.1h0m1.9 1h0m-2.9.2h0m3.8.5h0m-3 .1h0m3.2 1h0m-3.8.5h0m3.9.4h0m-3.3 1.4h0m0 .2h0m.6 2.2h0m-1.4 1.5h0m.4.3h0m.4.2h0"/><path stroke="#8080c8" stroke-opacity="0.80" stroke-width=".9" stroke-linecap="square" d="m239.3 571.1h0m-2.8.8h0m-.3.2h0m3.6.2h0m1.3.6h0m-14.1.6h0m13.4.6h0m-4.2.1h0m1.4.8h0m3.6 0h0m-4.2.2h0m3.5.3h0m-13.8.1h0m-4.6.4h0m6.6.4h0m14.8.1h0m-10.6 0h0m-11.3.4h0m.3 0h0m1.8.1h0m13.8.2h0m-12.8.6h0m-.2 0h0m14.9.2h0m-14.9.4h0m13.2.2h0m-21.1.2h0m-2.9.1h0m22.5.2h0m-12.5.5h0m1.8.5h0m4.2.3h0m-12.3.4h0m11.6.1h0m1.4 0h0m-2.1 0h0m3.2.2h0m-1.3.1h0m-1.3.1h0m-1.9.1h0m-3.9.1h0m-11.4.1h0m-4.1.2h0m6.1 0h0m.7.1h0m11.1 0h0m3.7.2h0m-3 .1h0m-8.5 0h0m5.7.2h0m3.4.2h0m1.2.1h0m-11.2 0h0m7.7 0h0m-6.3.1h0m-3.2.3h0m-2.5 0h0m-6.2 0h0m14.7.2h0m-12.9.2h0m10.6.2h0m-4.4.3h0m1.6.4h0m4 .1h0m-.7.2h0m-12.1 0h0m11.3.2h0m1.8.4h0m-3.1.1h0m3.2 0h0m-8.4.2h0m9.3.3h0m-13.9 0h0m-3.2 0h0m13.9.2h0m-15.1 0h0m8.9.2h0m-7.2 0h0m10.5.4h0m-1.8 0h0m6 .3h0m-8 .3h0m-2.6.4h0m6.7.3h0m-1.9.2h0m4.1.2h0m-14.3.2h0m3.5 0h0m-1.8.2h0m4.4.1h0m5.2.1h0m1.8.2h0m-4.2.2h0m2.8 0h0m-5.5.1h0m-7.1.2h0m4.3.1h0m4 .3h0m1.9.5h0m-8 .6h0m.5.1h0m1.3.2h0m-8.3.4h0m7.8 0h0m5.7.2h0m-5.7.1h0m-6.9.3h0m10 .1h0m-7.9 0h0m6.7 0h0m.8.2h0m.1 0h0m-5.3.5h0m.5.3h0m-1.7.5h0m-1.9.5h0m7 .1h0m-.9.7h0m-.7.1h0m-7.1 1.2h0m3.3 1.4h0m2 0h0m.2 2.2h0m-3.3.3h0m2.8.7h0m-.2.1h0m-4.3.5h0m-.4.2h0m3.5 1.4h0m-2.3.8h0m-1.9.1h0m.4 0h0m3.1.2h0m-.9 1.4h0m-1.2.5h0m-1.5 1.7h0m1 2.1h0"/><path stroke="#8c8ca0" stroke-opacity="0.70" stroke-width=".9" stroke-linecap="square" d="m243.7 571.5h0m-6 0h0m-4.3 1.3h0m10.4.4h0m-7.5.4h0m2.4.1h0m-5.5 0h0m-7.1.1h0m15.3.6h0m-13.1.2h0m11.2.2h0m-18.6.1h0m9.7.1h0m7.8 1.1h0m-6.3 0h0m4.6 1h0m-1.9 0h0m-7.8.7h0m8.2.1h0m-5.3.5h0m9 .1h0m-7.8.2h0m5.4.1h0m-.7 0h0m-.6.1h0m1.4.2h0m-1 .1h0m1.6.1h0m-14.8.1h0m6.5 0h0m-5.9 0h0m9.7.1h0m-3.2.5h0m-4.7.7h0m-9.1.2h0m6.1.3h0m7.6.1h0m2.9 0h0m-.8 0h0m-11.7 0h0m11 .1h0m-19.9.7h0m0 .4h0m16.2.2h0m-3.7.2h0m3.2 0h0m-2.4.2h0m2 .4h0m-21 .2h0m19.1.6h0m-6.1.2h0m-9 .1h0m12.4.3h0m-9.2.6h0m3.2.4h0m-7.7.1h0m4.1 0h0m-5.4.4h0m12.4.2h0m-8.6.3h0m6.3 0h0m-14.6.1h0m5.4.2h0m9.7.1h0m-4.3.1h0m3.7.9h0m1.1.3h0m-12 .5h0m8.3 0h0m2.3 0h0m.3 0h0m-15 .6h0m13.2.1h0m-17.7.4h0m12.6 1.3h0m-3.6.8h0m2.4.8h0m1.7.1h0m-8.1.3h0m7.5.6h0m-3.9.1h0m2.5.6h0m-2 .2h0m2.4.1h0m-3.7.4h0m-5.7 2.2h0m1.2 1.5h0m4.3.1h0m-3.5.3h0m-1.4 1.7h0m-.9 2.6h0m.2 1.1h0m-.1 1h0m-.1.7h0m-1.1.1h0m.3 2h0m-.1 1.9h0"/><path stroke="#0808a0" stroke-opacity="0.90" stroke-width=".9" stroke-linecap="square" d="m278.8 575.2h0m11.2.3h0m-13.3 1.1h0m1.2.6h0m9.7 4.1h0m-1.8 2.5h0m-1.9 2h0m-.1.9h0m2.8.2h0m6.8.6h0m-5.4.7h0m-3.2 1.8h0m8.7.1h0m-6.7.1h0m-1.4.2h0m4.3 1h0m3.9.3h0m-3.8 1.7h0m1.2 2.9h0m.9.5h0m-4.8.1h0m9.8.2h0m-2.2 1h0m-6.4.2h0m.6 2.4h0m9.7 1.4h0m-3.7 1h0m4.7 3.7h0m-1.3 1.3h0m-.8 5.1h0m-3.8.7h0m6.8.9h0m-1.8 1.2h0m.4 1.1h0m-4 1.5h0m4.8.2h0m1.8 4.3h0m-4 2.1h0m-1.7.2h0m1.2 1.4h0m-1.2.2h0m4.3.2h0m-.5 2.1h0m-2.4.8h0m3.6 6.8h0m-2.5 1.7h0m-.7.6h0m1 .4h0"/><path stroke="#1a1aff" stroke-opacity="1.00" stroke-width=".9" stroke-linecap="square" d="m278.8 573.5h0m-2.8.4h0m11.2.5h0m-3.7.4h0m-8.8.1h0m5.5.4h0m8.5.6h0m-5.5.2h0m-6.7.2h0m2.2.3h0m-1.1.6h0m7.4.1h0m-5.3 0h0m1.2.6h0m.3 1.2h0m10 .3h0m.4.1h0m-11.9.4h0m5.4.1h0m5.6.2h0m-4.8 1.7h0m.4.7h0m3.6.3h0m-.1.3h0m-5.3 0h0m-3.9 0h0m8.4.2h0m.6.4h0m-2.2.3h0m.4 1.4h0m-1.7 0h0m-2.5.3h0m.1.3h0m-1.2.7h0m2.7.5h0m-1.5.2h0m5.8 0h0m-6.4.2h0m2.2.2h0m10.3.2h0m-11.7.5h0m-.4.1h0m-.2.4h0m6 1.3h0m-2.7 0h0m1.2.3h0m-3 2h0m7.6.1h0m-6 0h0m7.1.2h0m-3.8.6h0m1.2.2h0m1.1.3h0m-2.6 0h0m.6.2h0m7.2.1h0m-8.5.4h0m-2.8.7h0m5.7.5h0m2.8.2h0m-5.9.8h0m1.7.3h0m5.3.3h0m-8.2.2h0m3.5.3h0m-2.1.3h0m-1.2.4h0m.2.1h0m6.1.1h0m5.8 1.8h0m-3.4.1h0m-1.4.5h0m-.3.3h0m-5.9.3h0m8.7.7h0m-7.8.1h0m7.3 0h0m-1.5 0h0m-5 .1h0m8.6.1h0m-6.8.2h0m-.8 0h0m1.1.5h0m7.7.4h0m-7.3 3h0m8.8.6h0m-5.9 1h0m5.1.2h0m-4.4.4h0m-1.4.2h0m1.8.2h0m-4 1h0m1 .6h0m-.4 1h0m-1.1 0h0m8.1 1.8h0m.3.1h0m-3.4 0h0m-.1.1h0m1.2.2h0m-4.8.1h0m-.6.4h0m.2.3h0m8.6.7h0m-7.4 1.1h0m-.5.4h0m4.9.3h0m-5.1.2h0m7.3.3h0m-1.7.2h0m-4.2.4h0m-.9.1h0m.4.6h0m4 .2h0m-.1.9h0m-3.9.5h0m1 0h0m0 .3h0m-1.1.6h0m.8.2h0m.1.3h0m2.4.4h0m4 .6h0m-6.7.2h0m2.7.2h0m-2.8.3h0m2.6.1h0m-2.3.2h0m.3.7h0m.3 0h0m2.4 2h0m-2.7.5h0m3 .1h0m-3.4.7h0m5.6.6h0m-4.1.3h0m2.7.1h0m-3.7.6h0m.8.3h0m2.9 0h0m1.6 0h0m-1.8 1.6h0m1.8 0h0m-.7.1h0m-.3 2.9h0m-3 .5h0m-2.7 1.4h0m7.4 1.2h0m-4.9.6h0m-.7.7h0"/><path stroke="#2b2bd8" stroke-opacity="0.90" stroke-width=".9" stroke-linecap="square" d="m274 572.5h0m2.6.4h0m3.1.7h0m-5 0h0m4.1.4h0m-3.8.8h0m.3 0h0m2.7.2h0m-.3.2h0m.3 0h0m-.7 0h0m-1.4.3h0m.9.2h0m1.4.3h0m1.1.5h0m10.6.1h0m-12.9.8h0m.9 0h0m-.5.2h0m4 .2h0m.9 0h0m1.7.1h0m4.4 1h0m-1 .1h0m2.9.8h0m-1.4.1h0m-6 1.7h0m.6 0h0m2.1 0h0m-3.7.1h0m-.9.1h0m7.6.1h0m-5.8 0h0m-1.6.3h0m1.2.2h0m-1.7 1.1h0m2.9.2h0m.5.1h0m.8 1h0m-2.1.6h0m10.3.9h0m-1.2.4h0m-9 .4h0m5.2.4h0m2.1 0h0m-3.3.4h0m5.7.1h0m.5.3h0m-9.5.2h0m10.8.2h0m-10.9.3h0m6 .2h0m.6.3h0m.3.2h0m-6.5.2h0m13.2.4h0m-8.9.1h0m2 .7h0m-2.7 0h0m-3.1.4h0m3.6.5h0m2.2.6h0m4.5.6h0m-9 .4h0m3.2.8h0m-.2.1h0m-1.4.2h0m5.8.8h0m-7.1.1h0m.1.6h0m3.4 0h0m-1.2.6h0m1.7.1h0m1.9.1h0m-2.5.3h0m-2.4.4h0m7.7.2h0m-5.3.2h0m-.5.1h0m.2.2h0m5.5 0h0m-3.6.1h0m.7.1h0m-3.9.9h0m10 .1h0m-9.1.3h0m1.3.4h0m-1.1 0h0m4.4.7h0m-2.6 1h0m2 .2h0m-.1.4h0m1.6.8h0m1.8.8h0m-2.8.7h0m4.6.2h0m-5.6.4h0m4.1.5h0m-3.2.3h0m5 .1h0m-6.7.1h0m5.1.7h0m.4.1h0m-4.5 0h0m1.1.5h0m.7 1.1h0m1.1.2h0m0 .2h0m.1 2.5h0m0 0h0m.7.7h0m4.7.4h0m-8.4.6h0m1.3.4h0m.9.9h0m5.6.2h0m-4.6.1h0m4.9.6h0m-5.7.2h0m2.2.1h0m-3.3.5h0m-.3.6h0m1.5 1h0m1.3.6h0m3.1.4h0m1.2.1h0m-2.9.5h0m-.8.8h0m-1.8.3h0m1.9 1.7h0m-.7.9h0m-.5.2h0m.5.1h0m1.7 1h0m-.8.3h0m-1.8.4h0m0 .5h0m0 1.6h0m1 .3h0m-.7 0h0m-.2.3h0m3.5.2h0m.9 1.9h0m-3.8.1h0m2.1.8h0m-3 .6h0m1.7.8h0m2.5.5h0m1.9 3h0m-1.2.3h0m-5.2 1.3h0m5.7.3h0m-5.1.1h0m-.6.1h0m5.6.2h0m-4.7.2h0m-1.3.3h0m2.3.1h0m-.8.7h0m-1.3.1h0"/><path stroke="#5a5ad0" stroke-opacity="0.80" stroke-width=".9" stroke-linecap="square" d="m276.5 573.4h0m2.9.3h0m3.3 1.5h0m-5 .3h0m7.5.8h0m-7.2.1h0m.6.3h0m-.5 1.2h0m12.3 0h0m-.7.2h0m-11.7 0h0m.8 0h0m-.5.2h0m.9.4h0m2.8 0h0m-3.3.7h0m2.7.9h0m-.7 0h0m2.4 1.7h0m-3.2.2h0m4.8.1h0m1.4.8h0m-.4.9h0m1 .6h0m5.9 0h0m-10.1.3h0m5 1.8h0m-1.2.4h0m3.4.6h0m-6.6.4h0m4.5.4h0m-4.7.5h0m1.9.5h0m1.8.2h0m-1.2.8h0m2.2.1h0m-2.8.9h0m1.6.8h0m1 0h0m1.6.2h0m-.4 0h0m-3.3 1.1h0m11.8.3h0m-1.3.7h0m-6.4.9h0m6 1h0m-6.8.2h0m.2 0h0m-2.1.5h0m12.3 0h0m-11.1.5h0m.7.8h0m-.7 1.3h0m1.3.2h0m-.7 1h0m8.7.1h0m.2 1.4h0m-7.7.5h0m5.1 2.9h0m-3.3.3h0m-.6.1h0m5.7.4h0m1.8 0h0m2.6.2h0m-4.7 2.3h0m-2.3.4h0m-.2.1h0m5 1h0m-1 .4h0m-2 .6h0m-3.7.8h0m1 1.2h0m.1 1.3h0m6.7 2.4h0m-2.1.4h0m-2.7.4h0m4.8 1.4h0m-1.6.2h0m-3 .3h0m.9.2h0m2 .1h0m-2.9.2h0m5.1.4h0m-2.3 0h0m-1.9 1.2h0m-.1.5h0m-1.3.5h0m.6.5h0m-.6.6h0m3.6.4h0m-1.3.2h0m.7 2.1h0m-2.2.1h0m1.2 1.5h0m0 .6h0m-1.7 1.1h0m3.8.1h0m1 .3h0m-2.7 1.6h0m3.1 2.9h0m-1.3.3h0m-.3.1h0m-.3 1.2h0m-1.8.8h0m-1.4 1.4h0m1.2.5h0m-1.2.1h0m0 .4h0"/><path stroke="#8080c8" stroke-opacity="0.80" stroke-width=".9" stroke-linecap="square" d="m278.2 573.5h0m.7 1h0m3.5.5h0m-5.5.3h0m-1.2 1.1h0m11.2 1.1h0m-4.6 0h0m7.7.1h0m-9.7.3h0m-.1.2h0m11.8.4h0m-10.2.1h0m-3.4.3h0m12.3.2h0m-5.2.3h0m-5.3.1h0m-.5.2h0m1.3 1.2h0m5.8.3h0m-3.2 2.9h0m-2 .6h0m2.5.4h0m1.9.4h0m5.7 2.6h0m-7.8.4h0m5.9.3h0m-.4.4h0m-5.7.8h0m6.8.5h0m5.6 0h0m.3.3h0m-9.6 1.7h0m1.4.7h0m-2.3 1.2h0m1 .2h0m2.5 1.2h0m8.3 1.2h0m-11.3.1h0m1.6 1.4h0m7 .9h0m-5.5 0h0m6.2.6h0m-6.7.4h0m8 1.5h0m-4.3.4h0m.9.4h0m-3.3 2.6h0m8.3.9h0m-4.9.1h0m2.5 1.3h0m1 .2h0m-4.9 1.7h0m.9.2h0m2.2.1h0m-2.8 1.2h0m-.1.2h0m4.2.6h0m-2.4.5h0m6 .3h0m-3.1 3.4h0m3.6.1h0m-5.8 1.8h0m-1.2.1h0m1.4.1h0m4.7.3h0m0 .1h0m-1.5.1h0m-3.2.2h0m2.2 1.3h0m3.4 1.2h0m-2.7.7h0m-2.9 1.7h0m4.9 2.1h0m-2.1.5h0m-2.6.8h0m1.8.9h0m.1.4h0m4.2 1.1h0m-4.4.8h0m3.3.1h0m-3.2.1h0m-1.2.2h0m-1 .3h0m3 1.7h0m-1.5.4h0m1 .2h0m4.2 1.7h0m.2.3h0m-5.7.3h0m1.3.3h0m-2.5.1h0m.6.3h0m1.8.2h0m.3 1.6h0m-.4.1h0m-3.3.1h0m2.4.2h0m-.8 1.3h0"/><path stroke="#8c8ca0" stroke-opacity="0.70" stroke-width=".9" stroke-linecap="square" d="m273.8 573.6h0m12.7.8h0m1.9 2.8h0m2.4.1h0m-5.3.7h0m2.1.2h0m-9.5 1h0m2.5 3.8h0m4.3 1h0m10.9 2.7h0m-10.9.8h0m11.1.8h0m-13 .2h0m3.9.4h0m2.7 2.2h0m-3.2 2.4h0m6.8 1.3h0m-1.3.9h0m8.1.3h0m-.7 3.2h0m.3 2.5h0m-9.1.9h0m11 0h0m-8 .4h0m7.4 1.7h0m-1.2 1.5h0m-6 2.8h0m2.9.7h0m-.6.6h0m4.8 1.8h0m.2 5.3h0m-4.2 1.2h0m-1.7 1.2h0m3.1 10.1h0m1.7.6h0m.5 4.4h0"/><path stroke="#0808a0" stroke-opacity="0.90" stroke-width=".9" stroke-linecap="square" d="m285.6 644h0m-6.4 1.1h0m12.9.2h0m-22.6.3h0m-17.4.4h0m-13.8 0h0m19.6.3h0m17.9.4h0m-50.6 1.8h0m12.6.1h0m-4.8.2h0"/><path stroke="#1a1aff" stroke-opacity="1.00" stroke-width=".9" stroke-linecap="square" d="m288.9 643.1h0m3.2.1h0m-95.1 1.5h0m2.3.4h0m76.1.3h0m-3.7 0h0m-9.6.1h0m-63.1.1h0m74.2.2h0m-75.1 0h0m68.6 0h0m20.6 0h0m-38.5.1h0m6.2.1h0m29.1.1h0m-13.8.2h0m6.6.2h0m-44.4 0h0m63.4 0h0m-48.6.1h0m-19.1.1h0m-23.8.2h0m-2.2 0h0m57.8 0h0m-58.1.1h0m46.5 0h0m-19.1 0h0m-15.8.1h0m-8 0h0m45.2.1h0m-15.3.8h0m-28.6 0h0m59.9.2h0m-2.8 0h0m-48.4.1h0m25.2.1h0m-27.7 0h0m-.6.1h0m38.6.1h0m-37.7 0h0m69.8.9h0m-80.6.6h0m37.4.4h0"/><path stroke="#2b2bd8" stroke-opacity="0.90" stroke-width=".9" stroke-linecap="square" d="m294.2 643.2h0m-10.1.8h0m2.7.5h0m-2.8.6h0m-85.1.2h0m.5.1h0m94.7 0h0m-46.6.6h0m-7.6.1h0m43.2 0h0m-51.1 0h0m14 .2h0m37.3.1h0m-82.9.1h0m31.8 0h0m46.3 0h0m-36.5.1h0m-9.2.1h0m-6.2.2h0m40.3 0h0m-61.4.1h0m-6.1.1h0m38.9.2h0m-30.1.5h0m74 .1h0m-30 .1h0m5.4.3h0m13.2.2h0m-67.3.6h0m65.4.2h0m-10.2.2h0m-43.5.1h0m46.8.1h0m-43.3 0h0m39.4.9h0m-58.9.1h0"/><path stroke="#5a5ad0" stroke-opacity="0.80" stroke-width=".9" stroke-linecap="square" d="m290.2 644.1h0m-4.7 1.4h0m-22.5.1h0m17.2.5h0m-25.4.1h0m13.8.5h0m-42.6.3h0m57.9.2h0m-35.9.1h0m19.2.1h0m-62.3.4h0m.4.1h0m18.2 1h0m54.5.3h0m1.6.3h0m-70 .2h0m-1.1.5h0"/><path stroke="#8080c8" stroke-opacity="0.80" stroke-width=".9" stroke-linecap="square" d="m287 645.1h0m.5.1h0m-87.8.3h0m70.1.1h0m10.1 0h0m-32 .4h0m-47.1 0h0m54.4 0h0m-12.2.3h0m17.5.2h0m-32.3.1h0m33.6.1h0m-55.2.1h0m61.9 0h0m10.4.1h0m-18.3.2h0m10.9 0h0m-49.9.1h0m23 .1h0m-1.4 0h0m-12.2.2h0m26.3 0h0m-46.4.4h0m29.3.8h0m-42.6.5h0m40.8.4h0m-41 .4h0m41.2.5h0m-31.8.2h0"/><path stroke="#8c8ca0" stroke-opacity="0.70" stroke-width=".9" stroke-linecap="square" d="m263.1 645.9h0m-32.2.1h0m47 .1h0m-9.2.6h0m13.6.4h0m-23.2.2h0m-29.6.2h0m39.9.1h0m-64.3.1h0m40.4.1h0m22.3.6h0m-31.3 1.4h0m9.1.4h0m33.6.4h0"/></g><rect x="244" y="561.6" width="61.2" height="89.9" fill="none" stroke="#222" stroke-width="0.8"/><rect x="197.1" y="548.4" width="112.2" height="106.6" fill="none" stroke="#555" stroke-width=".8"/><path stroke="#333" stroke-width=".8" fill="none" d="M213 655v2.6M249.5 655v2.6M275 655v2.6M300.5 655v2.6M216.65 655v1.4M220.3 655v1.4M223.95 655v1.4M227.6 655v1.4M231.25 655v1.4M234.9 655v1.4M238.55 655v1.4M242.2 655v1.4M245.85 655v1.4M257.18 655v1.4M261.67 655v1.4M264.85 655v1.4M267.32 655v1.4M269.34 655v1.4M271.05 655v1.4M272.53 655v1.4M273.83 655v1.4M282.68 655v1.4M287.17 655v1.4M290.35 655v1.4M292.82 655v1.4M294.84 655v1.4M296.55 655v1.4M298.03 655v1.4M299.33 655v1.4M308.18 655v1.4M312.67 655v1.4M197.1 648.72h-1.4M197.1 644.74h-1.4M197.1 640.76h-1.4M197.1 636.78h-1.4M197.1 628.82h-1.4M197.1 624.84h-1.4M197.1 620.86h-1.4M197.1 616.88h-1.4M197.1 608.92h-1.4M197.1 604.94h-1.4M197.1 600.96h-1.4M197.1 596.98h-1.4M197.1 589.02h-1.4M197.1 585.04h-1.4M197.1 581.06h-1.4M197.1 577.08h-1.4M197.1 569.12h-1.4M197.1 565.14h-1.4M197.1 561.16h-1.4M197.1 557.18h-1.4M197.1 549.22h-1.4M197.1 652.7h-2.6M197.1 632.8h-2.6M197.1 612.9h-2.6M197.1 593h-2.6M197.1 573.1h-2.6M197.1 553.2h-2.6"/><text x="213" y="665.8" text-anchor="middle" font-size="4.6" fill="#111" stroke="#111" stroke-width="0.14">0</text><text x="249.5" y="665.8" text-anchor="middle" font-size="4.6" fill="#111" stroke="#111" stroke-width="0.14">10<tspan dy="-2.4" font-size="3.68">3</tspan></text><text x="275" y="665.8" text-anchor="middle" font-size="4.6" fill="#111" stroke="#111" stroke-width="0.14">10<tspan dy="-2.4" font-size="3.68">4</tspan></text><text x="300.5" y="665.8" text-anchor="middle" font-size="4.6" fill="#111" stroke="#111" stroke-width="0.14">10<tspan dy="-2.4" font-size="3.68">5</tspan></text><text x="192.7" y="655.1" text-anchor="end" font-size="4.6" fill="#111" stroke="#111" stroke-width="0.14">0</text><text x="192.7" y="635.2" text-anchor="end" font-size="4.6" fill="#111" stroke="#111" stroke-width="0.14">50K</text><text x="192.7" y="615.3" text-anchor="end" font-size="4.6" fill="#111" stroke="#111" stroke-width="0.14">100K</text><text x="192.7" y="595.4" text-anchor="end" font-size="4.6" fill="#111" stroke="#111" stroke-width="0.14">150K</text><text x="192.7" y="575.5" text-anchor="end" font-size="4.6" fill="#111" stroke="#111" stroke-width="0.14">200K</text><text x="192.7" y="555.6" text-anchor="end" font-size="4.6" fill="#111" stroke="#111" stroke-width="0.14">250K</text><rect x="209.5" y="655.5" width="2.5" height="2" fill="#111" fill-opacity="0.85"/><text x="249" y="675" text-anchor="middle" font-size="10.15">IgG+ (FITC)</text><text transform="translate(175.3 608.2) rotate(-90)" text-anchor="middle" font-size="10.15">SSC-A</text>
<clipPath id="c14"><rect x="38.7" y="677.5" width="113.8" height="113"/></clipPath><g clip-path="url(#c14)"><g filter="url(#bl)"><path fill="#0000ff" fill-rule="evenodd" d="M42.2 705.5l-1.4 1.3.4 68.4 2.3 5.3 1 1 7 .3 2-1.6 3-4 1-4.7 1.3-28 .4-36.7-1.4-1.3z"/><path fill="#0010ff" fill-rule="evenodd" d="M42.2 705.5l-1.4 1.3.4 68.4 2.3 5.3 1 1 7 .3 2-1.6 3-4 1-4.7 1.3-28 0-31-1-7z"/><path fill="#0020ff" fill-rule="evenodd" d="M42.2 705.5l-.7.3-.7 2.4.4 67 2.3 5.3 1 1 7 .3 3-3 2.7-18.6.6-22-1.3-21-2-11.7z"/><path fill="#0036ff" fill-rule="evenodd" d="M43.8 705.5l-1.3 4.3-1.7 9.7.4 55.7 2.3 5.3 1 1 6.3.3 2.7-7.6 2.3-16.4.4-27-.7-8.3-1.3-9.3-2-7.7z"/><path fill="#0052ff" fill-rule="evenodd" d="M46.8 705.5l-1.3 1.7-1.7 4.3-1.6 7.7-1 8.6 0 47.4 2.3 5.3 1 1 4.3.3 2.7-4 1.7-6.6 2-20 0-18.4-1-11.3-2-10-2.4-5.3-.6-.7z"/><path fill="#006eff" fill-rule="evenodd" d="M48.2 709.5l-2 1.3-1 2-2.4 9.7-1.3 18 .3 12.3-1 3.4.4 18.3 1.3 3.7 1.3 2 1.7 1.3 2 0 2.3-2 1.4-2.3 1.3-4.7 1-7.7 0-8.3 1-13-.3-11.7-1.7-13.3-1.7-5.7-1-2z"/><path fill="#0092ff" fill-rule="evenodd" d="M48.5 713.8l-1 0-1.3 1.4-2.4 7.6-1.3 12 .3 16.4-1.6 5 0 16.3 2 5.7 2.3 2.3 2 0 2.3-2 2-5 1.4-8.3 0-35-2-11.7-1.4-3.3z"/><path fill="#00b6ff" fill-rule="evenodd" d="M48.5 717.8l-1 0-1.7 2.4-1.6 6.6-1 11.4.3 12.3-1.7 4-.6 4 .3 13.7 1.7 5 2 2.3 2 .3 1.6-1 1.7-2.6 1-3 1.3-7.7 0-7-.6-2.7.6-10-.3-13.3-1.7-10.3-1.3-3.4z"/><path fill="#00dafa" fill-rule="evenodd" d="M48.5 721.8l-1 0-.7.7-2 6.7-.6 5.6.3 14.7-1.7 3-1.3 5.7.3 14 1.4 4 2.3 2.6 1 .4 1.3-.4 2.7-3.6 2-9.4 0-7.6-1.3-5 .6-4 0-14.4-1.3-9z"/><path fill="#00fff0" fill-rule="evenodd" d="M48.2 725.8l-1.4 1-1.3 5-.7 6.7.4 11-1.7 2.3-1.3 4.4-.7 8.3 1 9 1.3 3 1.7 1.7 2 0 2-2 1.3-3.4 1.4-7 0-7.6-1-4.7-.7-1 .7-7-.4-11.3-1.6-7.4z"/><path fill="#00ffbe" fill-rule="evenodd" d="M48.5 731.2l-1 0-1.3 4.6-.4 8.7.7 5-2.7 2.7-1.6 5.6 0 13 1 3.4 2.3 3.3 2.7-.3 1.6-2.4 2-8.6 0-8.4-1.3-5-1.3-2 1-6.3 0-5-.7-5.7z"/><path fill="#00ff8c" fill-rule="evenodd" d="M47.8 750.5l-1.6 0-1 .7-1.7 3-1 4-.3 10.6.6 3.4 1.4 3.3 2.3 1.7 1.7-.7 1.6-2.7 1.7-8-.3-9.3-1.7-4.3z"/><path fill="#00ff57" fill-rule="evenodd" d="M46.2 751.5l-1.7 1.7-1.3 3.6-.7 5.7 0 7 1.3 4.7 1.7 2 1.7.3 2-2 1.3-4 .7-5 0-7-1.7-5.3-1.7-1.7z"/><path fill="#00ff2d" fill-rule="evenodd" d="M46.5 752.5l-1.3 1-1.4 3-1.3 10.3.7 4.7 1.3 3 1 1 1.7.3 1.3-1 1.7-4 .6-11-.6-3.3-1.4-3-1.3-1z"/><path fill="#00ff0f" fill-rule="evenodd" d="M46.5 754.2l-2 2.6-1.7 7 0 4.4 1.7 5.6 1.3 1.4 1.7 0 2-3 .7-2.7 0-9.7-1.4-4.3-.6-1z"/><path fill="#12ff00" fill-rule="evenodd" d="M46.5 757.2l-2 1.6-1 2.7-.3 7.3 1.3 4.4 2.3 1.6 1.7-1.3 1-2.3.7-3.4 0-3.6-1.7-5.7z"/><path fill="#36ff00" fill-rule="evenodd" d="M46.2 757.8l-1.7 1.7-1 3 0 7 1.7 4 2 .7 1.3-1.4 1-2.6.3-6.7-1.3-4.3-1.3-1.4z"/><path fill="#5aff00" fill-rule="evenodd" d="M45.8 758.5l-1.3 1.7-.7 2-.3 5.6 1 4 1.3 1.7 1.4 0 1.3-1.3 1-3 0-6.4-1-3-1.3-1.3z"/><path fill="#b2ff00" fill-rule="evenodd" d="M46.5 758.8l-1.3 1-1.4 3.7.4 6.3 1 2.4 1.3 1 1.3-.7 1.4-3 .3-2.3-.7-5.7-1-2z"/><path fill="#e9f000" fill-rule="evenodd" d="M46.2 759.5l-1 1-1 2.7 0 5.6 1 2.7 1 1 .6 0 1-.7 1-2.3.4-5.3-1.4-4z"/><path fill="#ffcf00" fill-rule="evenodd" d="M46.2 760.2l-1.4 1.6-.6 5 1 4 1 1 .6 0 1-.6 1-2.7 0-5-1-2.7z"/><path fill="#ffa000" fill-rule="evenodd" d="M46.2 760.8l-1.4 2-.3 4.7 1 3 .7.7 1 0 1.3-2.7 0-5-1-2.3z"/><path fill="#ff7200" fill-rule="evenodd" d="M46.2 761.5l-1.4 2.7 0 3.6 1 2.4 1 .3 1-1 .7-4-.7-3-1-1z"/><path fill="#fd4900" fill-rule="evenodd" d="M46.5 762.2l-1 1-.3 4.3.3 1.3 1.3 1 1-1.3.4-3.3-.7-2.4z"/><path fill="#f72f00" fill-rule="evenodd" d="M46.5 763.2l-1 1.6.3 3.4 1 .6.7-1 0-3.6z"/><path fill="#f01400" fill-rule="evenodd" d="M46.5 764.5l-.3 2.7.6.3.4-2.3z"/></g><path stroke="#1c1cf0" stroke-opacity="0.30" stroke-width=".9" stroke-linecap="square" d="m69.2 748.6h0m-9.7 3.9h0m5.3.4h0m-3.5 2.1h0m.2 3.8h0m4.5 3.7h0m3.2 1.4h0m4.1 1.3h0m-15.1.6h0m13.8.6h0m-8.1.2h0m-1.3 1.9h0m-2.1 1h0m5.9.5h0m-7.1 1.2h0m1.2 1.9h0m10.4 1.7h0m2.1 1.2h0m-15.8 9h0"/><path stroke="#1c1cf0" stroke-opacity="0.50" stroke-width=".9" stroke-linecap="square" d="m71.2 740.9h0m-1.5 1.7h0m-4 2.9h0m4.5.6h0m-7.2 2.8h0m1.1.7h0m1.3 1h0m-6.3.1h0m2.4.2h0m-1.4 1.3h0m8.8.4h0m-10.5.6h0m5.6.3h0m-1.8 0h0m5.6.8h0m-8.4 0h0m13.7 0h0m-10.2 0h0m5.8.1h0m-5.4.4h0m-2.5.3h0m8.8.6h0m1.3.2h0m-11 .8h0m11.1.4h0m-11.1 0h0m5.4.1h0m-1.4.3h0m6.7.1h0m-3.1 0h0m-4.4.1h0m9.8.3h0m-1.1.2h0m-8.9.2h0m-2.4 0h0m-.4.1h0m10.7.3h0m-4.8.1h0m-.9 0h0m-2.8.1h0m2.2.2h0m-.8 0h0m-2.6.6h0m9.1 0h0m-1.9.1h0m-2 .1h0m1.2.1h0m-7.7.1h0m6.2.3h0m-7.4.2h0m2.5 0h0m6.6.3h0m-6.1.1h0m4.3.4h0m-1.5 0h0m-2.1.1h0m1.7.6h0m7.6.2h0m-2.5.1h0m-2.8.1h0m-7.4.4h0m6.1 0h0m3.9.2h0m-6.5.2h0m-.3.2h0m.5.4h0m-2.4.2h0m3.9.3h0m-.3 0h0m2.6.1h0m-6.2.2h0m5.5.3h0m-6.4.1h0m11.8.3h0m.8.3h0m-8.2.1h0m7.8.1h0m-7.5 0h0m1.7.1h0m-2 .2h0m-1.1.5h0m.8.1h0m.6.1h0m-1.1 0h0m1.4.3h0m.8.1h0m6.4 0h0m-2 0h0m-6.1.1h0m4 .1h0m-9.3.2h0m4.5.2h0m-4.6.1h0m9.3.1h0m1.7.3h0m-3.6.1h0m-6.1.2h0m6.4 0h0m-5.8 0h0m6.5.1h0m4 .1h0m-4.9.2h0m-6.8.1h0m7.9 0h0m-1 .2h0m-5.8 0h0m6.7.3h0m9.4 0h0m-10.8.3h0m-2.8.1h0m-.4.3h0m12.1 0h0m-5.2.2h0m-9.6.2h0m-1.5.2h0m6.7.3h0m3 0h0m-4.7.3h0m1.2.3h0m1.9.1h0m-2.9.1h0m2.4.1h0m2.8.2h0m-6.5.1h0m4.3.1h0m.8.1h0m-9.4 0h0m9.4.4h0m.8.2h0m-3.8.2h0m4.8.2h0m-9 0h0m2.9.1h0m6.6.6h0m-8.1.2h0m-2.2.1h0m.2 0h0m5.8 0h0m-4.3.1h0m6.2.2h0m3.8 2.2h0m-2.9 1.5h0m-7.4 0h0m4.7 2.6h0m-1.9.1h0m.7.6h0m5.8 1.5h0m-10.9 2.1h0m-1.2.7h0"/><path stroke="#1c1cf0" stroke-opacity="0.75" stroke-width=".9" stroke-linecap="square" d="m69.9 741.7h0m3.7.2h0m-10.7 1.8h0m.3 1.5h0m-2.3 2h0m4.5.9h0m1.6.2h0m-6.8.2h0m3.4.9h0m.1.2h0m-3.8.6h0m4 .2h0m-5 .5h0m5.1 0h0m-1.3.2h0m-.9.4h0m-2.6.1h0m6.6.1h0m7.5.3h0m-9.5 0h0m2.3.8h0m3.6 0h0m-4.9.3h0m.4.7h0m-5.7.3h0m15.1.2h0m-10.3.4h0m-3.3.1h0m0 .2h0m15.5 0h0m-8.9 1.5h0m-3.8 0h0m2.6 0h0m5.1.1h0m-6.9.1h0m1.4.1h0m-.4.1h0m-6.8.5h0m1.4.4h0m4 .2h0m-3.4.1h0m-1.7.1h0m4.5.1h0m-3.4.4h0m1.6.1h0m7.9.2h0m-9.6.4h0m-1.6.1h0m9.2.2h0m-8.3.4h0m8.9.4h0m-9.4.2h0m10.6 0h0m2.7.2h0m-6.7.1h0m2.8.2h0m-8.9 0h0m9.6.1h0m-3.8 0h0m-6.6.4h0m2 .1h0m5.5.3h0m5.7.2h0m-12.4 0h0m2.6.2h0m-3.2 0h0m9 .3h0m-8.1 0h0m2.5.1h0m-.9 0h0m.7.1h0m3.3.1h0m-6 .3h0m15.7.2h0m-7.5.1h0m6.8.1h0m-9.2.1h0m4.3.2h0m1.7.4h0m-4.3.4h0m4.2.4h0m-9.5.1h0m2.5.3h0m-2.6.1h0m4.6.1h0m-4.8.1h0m4.8 0h0m3.8 0h0m4 0h0m-11 0h0m4.7.1h0m7.5 0h0m-8.3.1h0m-3.6.3h0m-4.4 0h0m4.3.3h0m5.4.1h0m-5.9.4h0m9.3.6h0m-10.5 0h0m6.2.2h0m-5.4.2h0m4.8.6h0m-7.2.2h0m8.7 0h0m-3.2.6h0m7 .4h0m-7.5.2h0m8.7.6h0m-7.7.3h0m-4.3 0h0m3.9 0h0m-5.6.3h0m.2 0h0m7.6.1h0m-5.3.4h0m-.1.8h0m-3.1 0h0m15.8.1h0m-8.5.1h0m-1.5.1h0m-6.4.1h0m-.6 0h0m6.2.3h0m2.1.2h0m-4.4.1h0m-2.4.1h0m19.2.3h0m-10.2.5h0m-6.5 0h0m.3.1h0m3.4.1h0m-4.6.4h0m-.9.2h0m1.9.1h0m3 .5h0m-5.3.1h0m4.9.1h0m-7.5 1.3h0m12.3.2h0m-13.8 0h0m.3.6h0m8.6.1h0m-3.4.8h0m5.5.4h0m-4.8.1h0m5.9.3h0m-13.4.5h0m24.5.4h0m-14.1.1h0m-10.1.1h0m5.1.3h0m8.7.5h0m-2 .4h0m-2.5.1h0m-10.5 1.4h0m12.4.4h0m1.7 2.4h0m-3.8 2.1h0"/><path stroke="#1c1cf0" stroke-opacity="1.00" stroke-width=".9" stroke-linecap="square" d="m61.5 746.4h0m3.5 5.8h0m-1.6.8h0m9.4.7h0m-4.9.3h0m3.9.7h0m-10.4.2h0m13 .1h0m-3 1.1h0m-10.2.5h0m2.6.1h0m-5.3.4h0m7.6.8h0m-4.5.4h0m-2.4.4h0m-.8.4h0m14.7 0h0m-4.2.1h0m-5.1.4h0m-2.7.5h0m4.7 0h0m-4.7.4h0m7.3.2h0m-6.6.8h0m-1.9.1h0m10.3.2h0m-3.2.3h0m1.1.1h0m-.9.1h0m-4 .1h0m3 .8h0m-2.1.3h0m.9.1h0m-5.8.1h0m11.7.4h0m3.2.1h0m-7.7.3h0m-4.6.4h0m2.6.3h0m4.9.6h0m-7.4.2h0m-1.3 0h0m4.3.4h0m4.7.1h0m-10 .2h0m6.2.3h0m14.5.7h0m-16.5.2h0m1.7.5h0m-1.8.9h0m2 1h0m-2 .2h0m1.9.2h0m7.3.5h0m-12.6.7h0m1.8.3h0m12.9.1h0m-14.8.1h0m4.6 1h0m-7.1.9h0m1.6.3h0m10.9.2h0m-8.3.2h0m-4.6 1h0m2.7 2.3h0m4.7 0h0m9.3 1.7h0m-14.5.8h0m2.2 1.1h0m7.3 1h0m-7.8.5h0m8.6 4.4h0m-7.6.1h0"/><path stroke="#2a2ae8" stroke-opacity="0.30" stroke-width=".9" stroke-linecap="square" d="m67.4 705.4h0m-3.8 25.4h0m3.6 7.2h0m-.3 12.3h0m-.8 5.3h0"/><path stroke="#2a2ae8" stroke-opacity="0.50" stroke-width=".9" stroke-linecap="square" d="m63.8 715.2h0m1.6 3.7h0m-4.6 3.3h0m3.3 5h0m3.7 1.8h0m-4.7 2.2h0m4.8 2.1h0m-.7.1h0m-.6.4h0m-6.9 1.5h0m15 1.6h0m-4.3.3h0m-9 .8h0m-2.3.5h0m7.5 1.9h0m-1.1 1.1h0m9.7.1h0m-5.5.3h0m-2.3.5h0m.7.7h0m-2.2 1.5h0m-3.3.3h0m8.1 0h0m-5.4.5h0m2.5 2h0m-3.8.7h0m-3.2 0h0m6.8.6h0m-1.8.4h0m-.5 1.2h0m-3.7.2h0m2.6.3h0m-2.2.4h0m4.5 1.1h0m-2.3.9h0m-.1.7h0m2.8.6h0m-4.9 3.1h0m4.8 1.2h0m.8 2.2h0m-2.7 2.1h0m1.1.2h0m4.5 5h0m-9.8.2h0m1.9 4.3h0m-1.6 7.7h0"/><path stroke="#2a2ae8" stroke-opacity="0.75" stroke-width=".9" stroke-linecap="square" d="m63.7 721.1h0m4.9 4.8h0m-3.2 1.9h0m-6.3 2.4h0m.1.2h0m9.2 1.9h0m4.5 1.4h0m-9.8.7h0m1.7 2.8h0m.8.8h0m-1.5 1.1h0m-.9 1.4h0m1.8.4h0m.5.2h0m-.5 2.8h0m5.7.9h0m-7.4.4h0m6 .1h0m-4.2.5h0m8.7.3h0m-11.5.7h0m7.9 2.4h0m-.1.1h0m-2 .2h0m9 .3h0m-13.8.2h0m6.4 2.6h0m-10.8.7h0m2.7.1h0m5.2 2h0m-5.7.4h0m7.9.1h0m-6.2 1.3h0m-1.2.6h0m7.5.9h0m-3.8.3h0m-3.4.1h0m4.8.7h0m-4.7 3.8h0m-.6 0h0m4 1h0m-4.5 1.2h0m6 1.7h0m-5.8.1h0m6.9 1.4h0m-9.5 17.7h0"/><path stroke="#2a2ae8" stroke-opacity="1.00" stroke-width=".9" stroke-linecap="square" d="m60.1 723.8h0m5.9.3h0m-1.8 2.2h0m.7 5h0m-3.8 1.2h0m.4 3.1h0m4.5.8h0m-6.2.5h0m-.2 1.8h0m1 1.1h0m.2 1.6h0m4.6.4h0m-3.9 5.6h0m3.9 3.8h0m-2.4 3.3h0m1 0h0m-1 1.3h0m.2 1.1h0m-.4 1h0m6.5 2.1h0m.2 3.3h0m-7.5 2.2h0m-1.9.6h0"/><path stroke="#7070d0" stroke-opacity="0.30" stroke-width=".9" stroke-linecap="square" d="m86.1 778.6h0"/><path stroke="#7070d0" stroke-opacity="0.50" stroke-width=".9" stroke-linecap="square" d="m108 720.9h0m-27.7 6.9h0m39.2 6.8h0m-1.7 1.2h0m-16.2 4.2h0m-11.5.3h0m26.8 1.5h0m-18.8.5h0m11.8.2h0m-3.5 1.8h0m-17.1 2.6h0m20.8.6h0m-4.6 2.2h0m-19.3.7h0m12.3 2.4h0m7.1 0h0m-13.6 1.1h0m22.4.5h0m-23.5 3.9h0m-4.5 2.1h0m14 1.9h0m8 2.7h0m2.7.1h0m-20.6 1.8h0m17.2 1.2h0m10.3 4.4h0m-5.8 2.7h0m-5.9 1.6h0"/><path stroke="#7070d0" stroke-opacity="0.75" stroke-width=".9" stroke-linecap="square" d="m91.9 725.2h0m-8.3.5h0m-.8.1h0m30.2.3h0m-13.6 3.6h0m-10.1.6h0m12.4 2.2h0m2.2.3h0m-2.9 2.7h0m8.1 8.6h0m-13.4 2.5h0m-16.3 4.5h0m4.8 4.1h0m12.3 4.8h0m-3.1 2.4h0m14.8 2.8h0m-8.5 1.8h0m18.3 1.9h0m-4 1.7h0m.3.8h0m-35.8.1h0m17.3 0h0m-15.8 4h0m14.7.6h0"/><path stroke="#7070d0" stroke-opacity="1.00" stroke-width=".9" stroke-linecap="square" d="m79.2 735h0m27.1 2h0m-7.8 20h0m-7 10.9h0m7 .6h0m8 3h0m-6.4.9h0"/></g><rect x="77.8" y="693.9" width="71.2" height="93.3" fill="none" stroke="#222" stroke-width="0.8"/><rect x="38.7" y="677.5" width="113.8" height="113" fill="none" stroke="#555" stroke-width=".8"/><path stroke="#333" stroke-width=".8" fill="none" d="M48.5 790.5v2.6M91.5 790.5v2.6M118 790.5v2.6M144 790.5v2.6M52.8 790.5v1.4M57.1 790.5v1.4M61.4 790.5v1.4M65.7 790.5v1.4M70 790.5v1.4M74.3 790.5v1.4M78.6 790.5v1.4M82.9 790.5v1.4M87.2 790.5v1.4M99.48 790.5v1.4M104.14 790.5v1.4M107.45 790.5v1.4M110.02 790.5v1.4M112.12 790.5v1.4M113.9 790.5v1.4M115.43 790.5v1.4M116.79 790.5v1.4M125.83 790.5v1.4M130.41 790.5v1.4M133.65 790.5v1.4M136.17 790.5v1.4M138.23 790.5v1.4M139.97 790.5v1.4M141.48 790.5v1.4M142.81 790.5v1.4M151.83 790.5v1.4M156.41 790.5v1.4M38.7 785.76h-1.4M38.7 781.52h-1.4M38.7 777.28h-1.4M38.7 773.04h-1.4M38.7 764.56h-1.4M38.7 760.32h-1.4M38.7 756.08h-1.4M38.7 751.84h-1.4M38.7 743.36h-1.4M38.7 739.12h-1.4M38.7 734.88h-1.4M38.7 730.64h-1.4M38.7 722.16h-1.4M38.7 717.92h-1.4M38.7 713.68h-1.4M38.7 709.44h-1.4M38.7 700.96h-1.4M38.7 696.72h-1.4M38.7 692.48h-1.4M38.7 688.24h-1.4M38.7 679.76h-1.4M38.7 790h-2.6M38.7 768.8h-2.6M38.7 747.6h-2.6M38.7 726.4h-2.6M38.7 705.2h-2.6M38.7 684h-2.6"/><text x="48.5" y="801.3" text-anchor="middle" font-size="4.6" fill="#111" stroke="#111" stroke-width="0.14">0</text><text x="91.5" y="801.3" text-anchor="middle" font-size="4.6" fill="#111" stroke="#111" stroke-width="0.14">10<tspan dy="-2.4" font-size="3.68">3</tspan></text><text x="118" y="801.3" text-anchor="middle" font-size="4.6" fill="#111" stroke="#111" stroke-width="0.14">10<tspan dy="-2.4" font-size="3.68">4</tspan></text><text x="144" y="801.3" text-anchor="middle" font-size="4.6" fill="#111" stroke="#111" stroke-width="0.14">10<tspan dy="-2.4" font-size="3.68">5</tspan></text><text x="34.3" y="792.4" text-anchor="end" font-size="4.6" fill="#111" stroke="#111" stroke-width="0.14">0</text><text x="34.3" y="771.2" text-anchor="end" font-size="4.6" fill="#111" stroke="#111" stroke-width="0.14">50K</text><text x="34.3" y="750" text-anchor="end" font-size="4.6" fill="#111" stroke="#111" stroke-width="0.14">100K</text><text x="34.3" y="728.8" text-anchor="end" font-size="4.6" fill="#111" stroke="#111" stroke-width="0.14">150K</text><text x="34.3" y="707.6" text-anchor="end" font-size="4.6" fill="#111" stroke="#111" stroke-width="0.14">200K</text><text x="34.3" y="686.4" text-anchor="end" font-size="4.6" fill="#111" stroke="#111" stroke-width="0.14">250K</text><rect x="43.8" y="791.3" width="5" height="2.5" fill="#111" fill-opacity="0.85"/><text x="97.6" y="810" text-anchor="middle" font-size="10.15">25710 SOSIP (PE)</text><text transform="translate(18.5 727.6) rotate(-90)" text-anchor="middle" font-size="10.15">SSC-A</text>
<clipPath id="c15"><rect x="195" y="676.8" width="113.9" height="113.2"/></clipPath><g clip-path="url(#c15)"><g filter="url(#bl)"><path fill="#0000ff" fill-rule="evenodd" d="M216.2 749.8l-2 0-4 1.4-4 4-3.7 7-3 11-1.3 8 1 9.6 20.3 0 3.7-12.3.6-12-1.3-7.3-2-5.7-2-2.3z"/><path fill="#0010ff" fill-rule="evenodd" d="M215.2 749.8l-5 1.4-4 4-4 8.3 0 7 1 10.3 1.3 6 1.7 4 6.6 0 2.7-8 1-7.3.3-12z"/><path fill="#0020ff" fill-rule="evenodd" d="M213.2 750.2l-3 1-4 4-2 3.6-.4 2 0 12.4.7 5.3 1.7 6.3 1 2 1.6 1.7 1.4 0 1.6-1.7 1-2 2-8.6.4-15.4z"/><path fill="#0036ff" fill-rule="evenodd" d="M211.8 750.5l-1.6.7-4.7 5-1 7.6 0 6.4 1.3 9.6 1.4 3.7 2 2 1.3-.3 1.7-2.4 1.6-6.3.7-6.3-.3-10.4-1-5.6z"/><path fill="#0052ff" fill-rule="evenodd" d="M210.5 751.2l-4 4-1.3 8.3 0 7 .6 5.7 1.4 4.6 2 2.4 1.3-.4 1.3-2 1.4-4.6.6-5.7 0-7-.6-5.7-1.4-4.6z"/><path fill="#006eff" fill-rule="evenodd" d="M209.2 752.8l-1.4 1.4-1.3 3.6-.7 4.4 0 9.6 1.7 7.4 1 1.6 1.3.4 1.4-1.4 1.3-3.6.7-4.4 0-9.6-1.7-7.4-1-1.6z"/><path fill="#0092ff" fill-rule="evenodd" d="M209.5 754.5l-1.7 1.7-1.6 8.3.6 10 1.4 4 1.3 1 1.7-1.7 1.6-8.3-.6-10-1.4-4z"/><path fill="#00b6ff" fill-rule="evenodd" d="M209.2 755.5l-1 1-1 2.7-.7 9.3 1.3 7.3 1.4 1.7.6 0 1.4-1.7 1-4.3 0-9-1.4-5.3z"/><path fill="#00dafa" fill-rule="evenodd" d="M208.8 756.2l-1.3 2.3-.7 3.7 0 8.6 1.4 5.4.6.6 1 0 1-1.6.7-2.7.3-9.7-1-5-1-1.6z"/><path fill="#00fff0" fill-rule="evenodd" d="M208.8 756.5l-1 1.7-.6 2.6-.4 9 1 5 .7 1.4 1 .3 1-1 1-3.7.3-7.6-1.3-6.7-1-1z"/><path fill="#00ffbe" fill-rule="evenodd" d="M209.2 756.8l-1 1-.7 2-.7 8.4.7 5 .7 2 1.3 1 1.3-2 .7-3 0-9.4-.7-3-.6-1.3z"/><path fill="#00ff8c" fill-rule="evenodd" d="M209.2 757.2l-1.4 2-.6 3 0 8.6.6 3 .7 1.4 1 .6 1-1.3 1-4.3 0-7.4-1-4.3z"/><path fill="#00ff57" fill-rule="evenodd" d="M208.8 757.8l-1 2-.6 3.4 0 6.6 1 4.4.6 1 1 0 1.4-3.7.3-7.7-1-5-.7-1z"/><path fill="#00ff2d" fill-rule="evenodd" d="M208.8 758.2l-1.3 3.6-.3 6.7 1 5.3.6 1 1 0 1.4-4 .3-5-1-6.3-.7-1.3z"/><path fill="#00ff0f" fill-rule="evenodd" d="M208.8 758.5l-1.3 4 0 8 1.3 4 .7 0 1-1.3.7-3 0-7.4-1-3.6z"/><path fill="#12ff00" fill-rule="evenodd" d="M209.2 758.8l-1 1.4-.7 3 0 6.6.7 3 1.3 1.4 1.3-2.7.4-7.7-1-4.3z"/><path fill="#36ff00" fill-rule="evenodd" d="M209.2 759.2l-1.4 2.6-.3 7 .7 3.7 1.3 1.3 1.3-3 .4-6-.7-4z"/><path fill="#5aff00" fill-rule="evenodd" d="M209.2 759.5l-.7.7-.7 2.3-.3 4.7 1 5.6 1 .7 1.3-3.3 0-7.4-.6-2.3z"/><path fill="#b2ff00" fill-rule="evenodd" d="M208.8 760.2l-1 3 0 6.6 1 3 .7 0 .7-.6.6-3 0-5.4-.6-3z"/><path fill="#e9f000" fill-rule="evenodd" d="M209.2 760.5l-.7.7-.7 3 0 4.6.7 3 1 .7 1-2 .3-5.7-.6-3.3z"/><path fill="#ffcf00" fill-rule="evenodd" d="M209.2 760.8l-1 2-.4 4.7.7 3.7 1 1 1-2.4 0-6.6-.7-2z"/><path fill="#ffa000" fill-rule="evenodd" d="M209.2 761.5l-1 2.3 0 5.4.6 2 .7.3 1-2.7 0-4.6-.3-1.7z"/><path fill="#ff7200" fill-rule="evenodd" d="M209.2 761.8l-1 3 0 3.4.6 2.6.7.4.7-1.4.3-4.3-.3-2.3z"/><path fill="#fd4900" fill-rule="evenodd" d="M209.2 762.5l-.7 1.3 0 5.4 1 1.3.7-1.7 0-4.6z"/><path fill="#f72f00" fill-rule="evenodd" d="M209.2 763.2l-.7 2 0 2.6.7 2 .6-.6.4-2.4-.4-3z"/><path fill="#f01400" fill-rule="evenodd" d="M209.2 764.5l-.4 3 .7 1 .3-2.7z"/></g><path stroke="#1818f0" stroke-opacity="0.30" stroke-width=".9" stroke-linecap="square" d="m226.7 742h0m-7.9 1h0m6.2.3h0m-7.8 1.8h0m18.2 3.2h0m-16.5.9h0m12.2.1h0m-3.2 1h0m-8.7.3h0m6 3.2h0m7.6 1.5h0m5.5.1h0m1.6.3h0m-16.5.4h0m.9 0h0m5 .4h0m-3.7.7h0m4.3 2.2h0m-2.5 1h0m-3.1 1.2h0m3.1 1.1h0m-.9 1h0m8.8 1.1h0m-7.6.7h0m8.6 2.2h0m-5 .2h0m2.9 1.3h0m2.8 5.3h0"/><path stroke="#1818f0" stroke-opacity="0.50" stroke-width=".9" stroke-linecap="square" d="m225.7 738.3h0m-14.9 1.7h0m10.3 2.1h0m2.6.1h0m7.2.3h0m-3.4.7h0m-5.1.3h0m1.8 0h0m-1.5.3h0m20.4.2h0m-21.3.1h0m-1.7.2h0m-15 .2h0m13.9.3h0m15.9 1.2h0m-10.8 0h0m2.8.3h0m-1.5.3h0m-4.9.6h0m6.8.1h0m4.1.1h0m-2.2.2h0m7 .1h0m-11.8.3h0m-1.2 0h0m-2.8.2h0m4.5.1h0m-8.6.2h0m9.7.2h0m-13.7.1h0m16.9.4h0m-7.6.2h0m11.4 0h0m-4.4.2h0m-6.5.1h0m4.4.1h0m2.6.1h0m-.7.1h0m-3.9.1h0m2.1 0h0m-4.5 0h0m1.7.1h0m10.9.1h0m-10.7 0h0m-3.2.1h0m8.1.2h0m-1.7 0h0m13.7.2h0m-14.6.1h0m4.3 0h0m-9.6.1h0m8.1.1h0m8.3.1h0m-10.8.2h0m-6.9.2h0m4.4 0h0m-.5.1h0m4.4 0h0m1.7 0h0m-7.8.2h0m9.8.1h0m-5.1.2h0m-.5.1h0m-1.3.1h0m-1.8.1h0m-1.4.1h0m14.6.1h0m-12.7 0h0m-2.9.2h0m3.2 0h0m1.1.1h0m-.7 0h0m9.2 0h0m-1.7.3h0m-6.4.2h0m3.3.1h0m-4 .3h0m-1 .3h0m3.1.2h0m3.5.1h0m-8.5 0h0m7.3 0h0m-2.6.1h0m4.2 0h0m-9.6.1h0m4.1.2h0m5.6 0h0m-1.1 0h0m7.1.3h0m-3.2 0h0m9 0h0m-16.1.1h0m2.4.1h0m-2.3.2h0m-3.6.1h0m8 0h0m-1.8.1h0m-4.2 0h0m-3.3.2h0m4.5 0h0m6.6 0h0m-1.5 0h0m-9.4.2h0m6.1.1h0m-1.2.1h0m6.5 0h0m-7.1 0h0m-.6.1h0m-1.9.1h0m1.8.1h0m2.6.1h0m-4.7 0h0m.1.1h0m1 .3h0m16.9.1h0m-4.2 0h0m-11.3.1h0m1.5 0h0m-2.4 0h0m5.5.1h0m-6.1.1h0m.8.1h0m-20.7 0h0m35.1 0h0m-6.4.2h0m-7.5.1h0m5.9 0h0m-4.5.2h0m-3 0h0m7.5 0h0m-5.6.2h0m-3.3 0h0m3.8.1h0m11.1.1h0m-9.5 0h0m-4.4 0h0m5.2.1h0m2.2.1h0m-2.8.1h0m-4.4.1h0m.5.1h0m2.6.2h0m3.8 0h0m-.5 0h0m-.9 0h0m-4.5.1h0m11.1 0h0m-1.8.1h0m-9.6.1h0m.2 0h0m11.1 0h0m-9.2.2h0m2.2.2h0m-5.4.1h0m1.1 0h0m4.7 0h0m-1.6 0h0m4.5.6h0m-5.9.4h0m2.1.1h0m12.5.1h0m-12.1.2h0m-2.9 0h0m10.3.2h0m-6.4 0h0m.8.1h0m-2.4 0h0m-.8 0h0m-.4.2h0m-2.6.1h0m1.3.1h0m1.6 0h0m-2.6.2h0m6.5 0h0m-1.4.1h0m-5.2.1h0m8.6 0h0m-9 .2h0m12.8.1h0m-7.7.1h0m4.2 0h0m-10 .1h0m2.5.1h0m4.3.2h0m-6 0h0m14.5 0h0m-11.3 0h0m-1.4 0h0m4.7.2h0m-2.5.2h0m5 0h0m-8.7.1h0m5.2 0h0m-5.5.1h0m1.1.1h0m1.7 0h0m-3.2 0h0m13.5.1h0m-8.6.1h0m.8.1h0m-.5.1h0m-4.5.1h0m10.6.1h0m-8.9.1h0m2.9 0h0m.6.1h0m-3.2.2h0m2.7 0h0m-1 0h0m-2.6.1h0m3.9 0h0m-.9.6h0m.4.1h0m-1.7 0h0m-2.6.2h0m7.7 0h0m-.5.3h0m-3.7.2h0m3.2.1h0m.9.1h0m-.3.1h0m-6.1.5h0m.2.1h0m-1 .1h0m10.1 0h0m-8.5.1h0m1.9.2h0m-2.2.3h0m4 .1h0m10.6.5h0m-11.7.2h0m8.5.1h0m-10.5 0h0m-2.4.2h0m4 .2h0m-4.2.6h0m8.6.1h0m-2.9.3h0m-3.6.8h0m5.5.8h0m-6.6.1h0m-1.1 1.9h0m.9 0h0m1.1 2.9h0"/><path stroke="#1818f0" stroke-opacity="0.75" stroke-width=".9" stroke-linecap="square" d="m226.9 736.8h0m-7.5 2.7h0m15.6 1.8h0m-12.3.3h0m5 .5h0m-6.1 0h0m-5.8.8h0m12.5.5h0m-5.7.5h0m5.6.2h0m-13.2.5h0m-8.8.1h0m19 .4h0m9.1.5h0m-5.2 0h0m-1.2.1h0m1.4.1h0m-9.8.4h0m.2 0h0m1.1.1h0m7.9.2h0m1 .2h0m-17 .1h0m20.1.1h0m-10.3 0h0m-7 .2h0m10 .1h0m-6.1 0h0m6 0h0m6.9.1h0m-14.5.1h0m9.5.5h0m-5.8.1h0m-2.4.1h0m-1.3.1h0m23.8.1h0m-6.1.3h0m5.9 0h0m-6.7 0h0m-16.3 0h0m.4 0h0m19.6.1h0m-28.8 0h0m14.8.1h0m8.2 0h0m-16.3 0h0m-3.2.1h0m-2.1 0h0m19.5.1h0m-13.9 0h0m8.7.2h0m5.4 0h0m3.9.1h0m-7.6 0h0m-8 0h0m3.7.2h0m15 0h0m-21.1 0h0m23.6.1h0m-23.4 0h0m8.2.1h0m19.4.1h0m-19.7.1h0m.4 0h0m3.4.1h0m-3.3.1h0m-.7.1h0m-6.5 0h0m2.2.1h0m8.6.1h0m-4.2.2h0m-.4 0h0m-.8.1h0m3.6 0h0m1.2 0h0m-.8.1h0m-6.5 0h0m14.4.1h0m-7.5 0h0m3 .2h0m-1.5.2h0m2.6 0h0m-12 .1h0m6.9 0h0m1.7.1h0m4 0h0m-5.2 0h0m2.8.2h0m2.2 0h0m-.6.2h0m11.1.1h0m-16.3 0h0m2.1.3h0m-6.7.1h0m12.6.1h0m-10.7.1h0m8.4.1h0m-3.7 0h0m2.3 0h0m4.3.1h0m-11.8.1h0m-2.9 0h0m7.2.1h0m2.2 0h0m-23.3.1h0m16.3 0h0m11.1.2h0m-10.9.1h0m1.3.1h0m13.5 0h0m-12.2.1h0m-2.7 0h0m.8 0h0m3.1 0h0m5 .1h0m-31.1.1h0m25.6.1h0m6.9 0h0m-7.5 0h0m-3.6 0h0m1.6.1h0m6.8.2h0m2.5 0h0m-9.2.2h0m-2.3.2h0m1 .1h0m8 0h0m-5.7 0h0m2.8.3h0m5.6 0h0m.4.1h0m-7.9 0h0m2 0h0m-3.6.1h0m14 0h0m-16.5.2h0m7 0h0m-5 .1h0m-1.9.1h0m1.5 0h0m3.5 0h0m.6.1h0m-.3 0h0m-5.6.1h0m1.5 0h0m8 0h0m1.2.1h0m5.8.4h0m-9.8.1h0m-1.5 0h0m8.7 0h0m-5 .1h0m-3.3 0h0m-3.5 0h0m3.2.2h0m-1.2 0h0m10.2.1h0m-5.5.1h0m-.2.1h0m-7.3 0h0m7.1 0h0m-5.1 0h0m4.3.1h0m-6.2 0h0m.6 0h0m-.6.2h0m5.4 0h0m-2.1.1h0m4.2.1h0m-3.1 0h0m-.7 0h0m-4.5.1h0m1.5 0h0m4.2.1h0m5.8.1h0m-.8.1h0m-1.9.1h0m-6.3.1h0m1.7 0h0m-2.4.1h0m-1.5.1h0m.1.1h0m3 .1h0m1 0h0m2.1.3h0m3.1 0h0m1.9.1h0m-9.8 0h0m4 0h0m.1.1h0m2.7.1h0m-7.7 0h0m6 .1h0m2.8.1h0m-2.3 0h0m-5.6.1h0m3.7.1h0m2.9.1h0m-3.7 0h0m9.3 0h0m-5 .1h0m-1.7 0h0m1.1.2h0m-2.3.1h0m-2.4.1h0m2.2 0h0m-1 .1h0m3 0h0m-6.7.1h0m4.5.1h0m1.3 0h0m0 0h0m-3.7.1h0m-1 .1h0m-.1 0h0m8.2.1h0m3.8 0h0m-4.7.1h0m-1.6.2h0m10.5 0h0m-7 .2h0m-.6 0h0m-4.1.1h0m-1.6 0h0m2.8.1h0m-6 0h0m7.4.1h0m-.8 0h0m-5.4 0h0m4.1.3h0m-.4 0h0m10.4.1h0m-11.6.2h0m2.6.1h0m7 .1h0m-7.6.1h0m-3.3 0h0m6.3 0h0m-7.4 0h0m0 0h0m2.1.2h0m19.2 0h0m-16.1.2h0m11.8.1h0m-16.5 0h0m.3 0h0m1 0h0m-1.9.1h0m5.1.2h0m.5.1h0m2.3.3h0m-1.6.2h0m-5.6.1h0m7.5.3h0m2.3 0h0m-8.5.1h0m0 0h0m8.4.1h0m-7.7 0h0m9.5 0h0m2.2.2h0m-12.4 0h0m2.3.4h0m4.8.5h0m-4.5.1h0m-.1.1h0m-4.1.1h0m-1 0h0m5.7.4h0m1.5.5h0m-6.2 0h0m5.9.2h0m-5.6.4h0m-1 .3h0m20.8.5h0m-20.2.1h0m.2.2h0m2.8 0h0m-3.6.7h0m11.1.2h0m-3.1 0h0m.1.2h0m1.4 1h0m-7.9.4h0m-1.7 0h0m1.2.3h0m5.7.1h0m-7.1 1.3h0m4 1h0m6.2 3h0m-9.2 1h0"/><path stroke="#1818f0" stroke-opacity="1.00" stroke-width=".9" stroke-linecap="square" d="m225.2 736.5h0m-19.7 3.6h0m5 .7h0m16.5 2.6h0m-4.5.3h0m3.9 2.1h0m-4.5.4h0m-4.8.2h0m17.2.3h0m-10 0h0m8.1.2h0m-7.9 0h0m-1 .1h0m-4.9.4h0m-.6 1h0m7.1 0h0m-6.9.1h0m4.4.2h0m-5.5.4h0m12.1.1h0m-7.9.1h0m2.5.1h0m-1.8.1h0m7.7.2h0m8.4 0h0m-15 .1h0m4.3 0h0m-3.4.3h0m-2.1.1h0m7 .2h0m6 0h0m-11.5 0h0m-4.6.3h0m-9.6.4h0m25.7.1h0m-9.9.2h0m-4.6.2h0m9.1 0h0m-20.7.1h0m11.1.1h0m4.5.3h0m-1.9.3h0m4 0h0m.4.3h0m-4.2.1h0m3.6.2h0m6.3 0h0m-7.6.1h0m-4.1 0h0m7.9 0h0m-6.9.2h0m8.4.1h0m-7.9.1h0m-1.3.2h0m3.6.2h0m9 0h0m-11.2.1h0m8.7 0h0m1.1 0h0m2.8.1h0m3.1 0h0m-11.4.1h0m2.5 0h0m-1.5.2h0m-.7 0h0m3.1 0h0m-8.7.2h0m9.2 0h0m-7.2.2h0m5 0h0m-.4.6h0m2.9 0h0m-3.3 0h0m.9.3h0m-5.7.2h0m14.4.2h0m-13.6.5h0m1.9 0h0m-3.4.2h0m5.8.3h0m9.9.5h0m-12.1.1h0m7.3.1h0m2.5 0h0m-4.7.2h0m-5.3.3h0m.6.2h0m-1.6 0h0m21.2.1h0m-22.7.5h0m1.5.2h0m4.4 0h0m-25.7.3h0m22.6.2h0m.4.1h0m-3.3 0h0m3 .1h0m.2.1h0m-2.5.2h0m3.9 0h0m-4.5.2h0m7.7.1h0m-4.1.4h0m-23.7.3h0m32.2.4h0m-7.9.1h0m6.6.2h0m-7.7 0h0m-3.2.1h0m1.1 0h0m6 .3h0m-1.8.1h0m4.9.2h0m-8.6.3h0m16.2.2h0m-16.4.1h0m4.2.6h0m-4.5.4h0m1.7.1h0m4.9.4h0m-3.8.4h0m.1.9h0m7.2.2h0m-9.1.3h0m.6.3h0m11.7.3h0m0 .1h0m-10.7 0h0m11.7.4h0m-14 .4h0m5.3.1h0m-2.8.1h0m2.2.5h0m-3.4.2h0m.7 3.9h0m.2 2.7h0m-.7 4.2h0"/><path stroke="#1818f0" stroke-opacity="0.30" stroke-width=".9" stroke-linecap="square" d="m246.8 723.6h0m-9.4 2.4h0m3.9 1.5h0m-.7 3.9h0m-3.1 2.3h0m-1.9.7h0m-4 .3h0m-7.3.4h0m7.1.5h0m-5 .9h0m3.5 0h0m4.8.3h0m-8.3.8h0m1.5.1h0m.6 2.2h0m-.1 0h0m-1.9.4h0m-3.2.1h0m8.1 0h0m-6.3.3h0m4.3.4h0m-4.6 1.4h0m-2.3.2h0m3.4 1.1h0m-2.4.4h0m-5 .9h0m-3.1 1.3h0"/><path stroke="#1818f0" stroke-opacity="0.50" stroke-width=".9" stroke-linecap="square" d="m249.3 719.6h0m-6.3 4.3h0m-.2.7h0m1.8.4h0m-2.2.7h0m-4.7 0h0m8.5.1h0m-2.9.3h0m-9 .2h0m9 .3h0m-5.9.2h0m3.5.1h0m-6.5.1h0m2.6.3h0m3.2.1h0m-4.3.1h0m1.1 0h0m3.6.1h0m1.6.2h0m-.9.1h0m-1.5.4h0m-2.6.2h0m4.6.2h0m-2.7.1h0m-.5.1h0m-3.8.5h0m2.6.1h0m6.1 0h0m-4.6.2h0m-2.4.1h0m-.2.3h0m2.9.1h0m-4.1 0h0m5.2.6h0m-3.3.1h0m.2 0h0m-7.4.1h0m4.4.2h0m1 .1h0m4.3.1h0m-7.8 0h0m8 0h0m-8.1 0h0m4.6.1h0m.3.1h0m2.2 0h0m-4.2 0h0m.3 0h0m-2.3.1h0m1.4 0h0m3.2 0h0m-2.2.1h0m4.3 0h0m-6.7 0h0m3.8.2h0m.6 0h0m.6 0h0m2.9 0h0m1.8.1h0m-8.1.1h0m2.4.1h0m-.2 0h0m.2.1h0m-.2 0h0m1.8.1h0m-3.1.1h0m-1.9.1h0m-.8 0h0m1 .1h0m1.7 0h0m-1.9.1h0m2 .1h0m-2.6 0h0m3.2.2h0m-1.2.1h0m-1.6 0h0m2.7.1h0m-1.7.2h0m0 0h0m-3.9.1h0m1.9 0h0m1.8 0h0m-4.3.1h0m6.5.1h0m-7.3.1h0m3.7 0h0m-.7.1h0m-.8 0h0m.6.1h0m2.1 0h0m-2.2.1h0m2.1.1h0m.8 0h0m-4.3 0h0m-.4.1h0m.7.1h0m4.1.1h0m-2.3 0h0m-2 .1h0m-4.8.1h0m4.1.2h0m5.9.1h0m-3.4.1h0m-1.3.1h0m-1.1.1h0m1.4 0h0m-1.6.1h0m.2.1h0m.4 0h0m.4.1h0m-8 0h0m6.4.1h0m.9 0h0m-2.8 0h0m4.5 0h0m-4.7 0h0m7.7.1h0m-7.3.1h0m4 .1h0m-4.5.1h0m4.3.1h0m.6 0h0m-.6.1h0m-6.9 0h0m1.7 0h0m6.6 0h0m-1.3.1h0m-.2 0h0m-3.7 0h0m12.2.1h0m-14.1.1h0m5.4.1h0m-4.6 0h0m3.8.1h0m.3 0h0m.3 0h0m3.4.1h0m.6.1h0m-4 .1h0m-3.2 0h0m-1 .1h0m1.7.1h0m-3.4 0h0m-.4 0h0m6 0h0m-3.6.2h0m3.3.1h0m2 .2h0m-.3.2h0m-1.6.1h0m0 0h0m-5.4 0h0m5.9 0h0m1.1 0h0m-3.7 0h0m2.9.1h0m2.4 0h0m-7.3 0h0m-3 .1h0m14.1.1h0m-4.6.1h0m-4.2.1h0m-7.6 0h0m5.9 0h0m6.2 0h0m-6.5.1h0m1.4 0h0m-7.5 0h0m5.8.1h0m-.1 0h0m6.5.2h0m-5.9 0h0m0 0h0m-2.4 0h0m8.3 0h0m-9.9 0h0m6.4.1h0m-2 .1h0m-2.6 0h0m6.2.1h0m-4.1.1h0m1.3 0h0m-4.3.1h0m3.4.1h0m5.5 0h0m-7.3 0h0m1.8.1h0m3.1.1h0m-5.1 0h0m-1.1.1h0m4.9.1h0m-6 .1h0m4.3 0h0m1.1 0h0m3.5 0h0m-4.6.1h0m-1.3.1h0m4.9 0h0m-7 0h0m1 0h0m-3 0h0m7.3.1h0m-4.8.1h0m.1 0h0m9.6.1h0m-6.2.1h0m-.4.1h0m-3.2.1h0m-5.6.1h0m4.9.1h0m-.1 0h0m-.2 0h0m1.7 0h0m1.1.1h0m-3.7.1h0m6.8 0h0m-1.6 0h0m-1.5 0h0m-2.6 0h0m-1.9.1h0m.6.1h0m2.6.2h0m-2.2.2h0m2.1.2h0m-.5.1h0m1.1.1h0m-5.1 0h0m-1.1.2h0m3.7 0h0m1.7 0h0m-2.1 0h0m-2.9.1h0m4.1 0h0m5.5.1h0m-8.4.2h0m1 0h0m-.5 0h0m1.8.2h0m-1.6.1h0m.1 0h0m2.9 0h0m2.3.1h0m-3.1.1h0m-1 0h0m-.3.1h0m-2.3 0h0m5.3.1h0m-4.5 0h0m-1.6.1h0m8.4 0h0m-12.9.1h0m3.9 0h0m-3.3.3h0m6.2.1h0m-2.1.1h0m3.6.1h0m1.2 0h0m-6.5 0h0m6.1.1h0m-3.3.1h0m-5 .1h0m6 0h0m-3.1.1h0m2.8 0h0m4.7.1h0m-9.5.1h0m4.1 0h0m1.6.2h0m2.2 0h0m-.4 0h0m-5.6.2h0m2.8.1h0m-1.8 0h0m.7.2h0m-2.5.2h0m7.4 0h0m-4.9.1h0m-4.1 0h0m1.6.2h0m5.1.2h0m-4.5 0h0m5.5.1h0m-3.5.1h0m-5.5.5h0m4.3 0h0m4 .2h0m-4.4.4h0m8.7.2h0m-7.1 0h0m.5.2h0m-3.1.1h0m-.2.2h0m3.1.2h0m-4.6.2h0m-1.5 0h0m0 .1h0m3.2 0h0m1.6.2h0"/><path stroke="#1818f0" stroke-opacity="0.75" stroke-width=".9" stroke-linecap="square" d="m249 717.2h0m2 .7h0m3.4.6h0m-11.6 4.3h0m3.6.1h0m-1.4.3h0m1.9.2h0m-7.7.2h0m2.1.4h0m2.9.1h0m-.6 0h0m3.8.3h0m-2.5.7h0m-5.9.1h0m.7.5h0m.7 0h0m.9.5h0m3.3.3h0m-5.2.1h0m-.1.9h0m2.1.1h0m-4.1.3h0m-1.9.1h0m0 0h0m4.5.3h0m6.4 0h0m-9.3.1h0m-4.5.1h0m7.3.6h0m-4.7 0h0m4.3.1h0m-2.6 0h0m4.8 0h0m-9 .1h0m-.5.2h0m4.6 0h0m-2.3.1h0m3.1 0h0m6 .1h0m-7.5.1h0m2.9 0h0m-3 0h0m-8.3.1h0m7.8.1h0m-1.4 0h0m1.1.2h0m2.8 0h0m1.6.3h0m.7 0h0m-7.2.1h0m3.7 0h0m-.4 0h0m-3.6.2h0m2.7.1h0m-2.2 0h0m-.9.2h0m-2.7.1h0m6.7.2h0m-4.5.2h0m3.5.1h0m.3.2h0m-5.3 0h0m5.1.1h0m-3.5.1h0m4.9 0h0m-1.9 0h0m.6.1h0m-3.4.1h0m6.7 0h0m-8.8.1h0m5.6 0h0m2.8.1h0m.6 0h0m-3.6.1h0m-1.5.2h0m2.2.1h0m-3.4.1h0m3.5.1h0m-4.3.4h0m0 .2h0m7.5 0h0m-11.3.1h0m4.5.1h0m2.2.1h0m-4.2 0h0m2.8.1h0m-.9 0h0m-1.1.1h0m-.8.1h0m5 0h0m-2.4.1h0m-4.9.1h0m4.3.1h0m-4.4 0h0m4.1.1h0m2.6 0h0m-7.4 0h0m7.5 0h0m-2.9.3h0m.7.1h0m-.6 0h0m-.1 0h0m.1.2h0m-5.2.1h0m5.4 0h0m2.2.1h0m.4 0h0m-5.4.1h0m.3 0h0m3.3 0h0m-6.8 0h0m3.1 0h0m5.7.1h0m-8.4 0h0m8.5.1h0m-7.3 0h0m7.4.1h0m-6.2.1h0m2.6.1h0m-2.7 0h0m1.2.1h0m-.6.1h0m-5.1.1h0m3.7 0h0m-1.1 0h0m.2.2h0m-2.8.1h0m1.6 0h0m2.8 0h0m-.1 0h0m-.9.1h0m-1.4 0h0m2.9.1h0m-1.6.1h0m-2.7 0h0m3.3 0h0m-3.9 0h0m1.8.1h0m-.1 0h0m2.9 0h0m-4.5.1h0m-.7.1h0m2.6.1h0m.4 0h0m3.6.1h0m-1.7 0h0m-1.5 0h0m-1.9 0h0m1.3.1h0m8.8 0h0m-4.3 0h0m1.6.1h0m2.5 0h0m-9.1 0h0m2.3.1h0m-.8 0h0m.6.2h0m.3 0h0m-4.8 0h0m7.1.1h0m-11.9.1h0m6.9 0h0m2.7 0h0m-6.5 0h0m5.5.2h0m-3 0h0m5.9 0h0m-5.4 0h0m-.2.1h0m5.2 0h0m3.9.1h0m-9.1.1h0m-1.5.1h0m2.6 0h0m3.5.1h0m-.7 0h0m-.4.1h0m.2 0h0m-.4.1h0m1.7 0h0m-5.3.1h0m3.1 0h0m.3 0h0m1.3.1h0m-2.8 0h0m-7.4 0h0m11.9 0h0m-6.4 0h0m-2.6.1h0m4.7 0h0m-2.1 0h0m2.9 0h0m-3.9.1h0m7.4.1h0m0 .1h0m-6.9.1h0m5.6 0h0m-3.4.1h0m2.7 0h0m2.5 0h0m-5.1.1h0m-8.9.1h0m8.5 0h0m-6.3 0h0m7.6.1h0m-6.3 0h0m2.1.1h0m6.3 0h0m-7.7 0h0m4.6.1h0m2.3 0h0m1.4 0h0m-2 .1h0m-3.3 0h0m-.4.1h0m-.1 0h0m-1.2.1h0m2.3 0h0m4.7.1h0m-2.2 0h0m-1.1 0h0m2 0h0m-4.7.1h0m-.4.1h0m.6.1h0m.4.1h0m-.8.1h0m-.5 0h0m-2.1.1h0m5.3.1h0m-1.4.3h0m-1.4.1h0m-3.1 0h0m2.3.1h0m-2 0h0m4.7 0h0m-5.4.1h0m2 .2h0m1.1 0h0m-5.5.1h0m6.8 0h0m-1.9.1h0m3.4.1h0m-9.6.1h0m.5.1h0m6.6 0h0m3.6.1h0m-12.5.2h0m6.5.2h0m-.5 0h0m5.5 0h0m-1.7.3h0m-1.7 0h0m1.3.1h0m-1.3 0h0m-1.5.1h0m-5.5 0h0m2.4 0h0m6 .1h0m-2.1.4h0m-3.4 0h0m-2.6.3h0m5.1.1h0m-3 .1h0m4.7 0h0m-3.1.1h0m1.4 0h0m-12 0h0m11.6.1h0m3.8.1h0m-5.5.2h0m-6.4 0h0m6.1 0h0m.4.1h0m4.7.1h0m-5 0h0m2.3.1h0m-3.4.3h0m3.7 0h0m-2.9.1h0m-5 .6h0m5 .2h0m-3.7.1h0m3.7 0h0m.7.1h0m3.4 0h0m-7.2.1h0m1.5.1h0m4.8 0h0m-7.8.3h0m1.2.1h0m-.3.2h0m3.6.1h0m.2.1h0m3.4.1h0m-5.4.2h0m3 0h0m-4.2 0h0m.7 0h0m-3.1.1h0m-1.3.1h0m3.4.2h0m3.6.2h0m-5.1 0h0m3.7.1h0m-2.5.6h0m2.6 0h0m1.4.3h0"/><path stroke="#1818f0" stroke-opacity="1.00" stroke-width=".9" stroke-linecap="square" d="m251.7 719.7h0m-2.6 3.4h0m-2.5.8h0m-8.1 1.5h0m7.5.8h0m-7.8.1h0m2.5.4h0m-1 .4h0m.7.1h0m5.3.1h0m-9.4.1h0m5.5.6h0m-8.9.2h0m8.4.1h0m-5.5 0h0m6.7.1h0m-4.5.1h0m-1.5 0h0m-3.3.4h0m5 .3h0m-.3.3h0m.8.1h0m0 .5h0m-1.8.3h0m0 .3h0m-6.2 0h0m7.5.4h0m-.7.4h0m-3.1.1h0m1.1.4h0m2.1 0h0m-6.3 0h0m4.5.3h0m-2.8.1h0m.3.2h0m-.4.2h0m.2 0h0m.3.3h0m.4.1h0m3 .1h0m-.8 0h0m-7.2.1h0m3.1.1h0m-4.3.1h0m9.6.1h0m-.4.1h0m-12.6.1h0m6.2.1h0m-.5.1h0m-1.3 0h0m4.6.3h0m-.5 0h0m-.9.2h0m-6.6.2h0m1.9.1h0m6.1.1h0m-3.4.9h0m-1.2.2h0m-2.6 0h0m4.1.1h0m1.8 0h0m-1.4.1h0m-2.5.1h0m1.2 0h0m1.6.2h0m-.2.1h0m-.9.1h0m-4 0h0m1.3.1h0m6.8 0h0m-6.9.1h0m.2 0h0m3.1.1h0m-1.5 0h0m1.3.1h0m1.4.1h0m-6.3.1h0m4.3 0h0m2.9 0h0m-3.4.1h0m-1.1 0h0m.4.1h0m1.1.1h0m3.2.2h0m-.7.1h0m3.1 0h0m-2.7.1h0m-8.5 0h0m4.3.2h0m1.7.1h0m-3.1.2h0m4.3 0h0m-2.4.2h0m-5.7 0h0m2.8 0h0m-2.5.1h0m3.9 0h0m3.8.1h0m-5.9 0h0m3.9.2h0m-7.2.2h0m3.1.1h0m1.5 0h0m3.2.2h0m-.1 0h0m-7.7.1h0m4.3 0h0m-6.4.1h0m10.3.1h0m-4.7.1h0m5 .1h0m4.6 0h0m-8.1.1h0m-3.6.2h0m6.4.4h0m-5.3.3h0m.8.1h0m-.9 0h0m-1.4 0h0m-.4.1h0m9.7.1h0m-8.3.1h0m.3 0h0m.9.1h0m-1.7.2h0m3.9.2h0m-5.2 0h0m-.1.5h0m0 0h0m4.3 0h0m-6.9 0h0m2 .3h0m-2 .1h0m3 .1h0m2.2.2h0m-1 0h0m-2.1.2h0m1.7.1h0m-2.2 0h0m-.8.1h0m1.4.2h0m2.3.1h0m-4.2.3h0m2.1.1h0m-5.2.3h0m3.4.2h0m2.4.2h0m-.3.3h0m-4.8 0h0m3.7.3h0m-.6 0h0m.5.1h0m-3.9.1h0m2.8.1h0m-3 .1h0m2.8.1h0m-3.8.1h0m3 .1h0m1.3.1h0m-5.5.4h0m3.7.1h0m-.6.7h0m-.2 0h0m-.2 0h0m-1.3.4h0m-.1 1.4h0m-17.9 13.6h0"/><path stroke="#1818f0" stroke-opacity="0.30" stroke-width=".9" stroke-linecap="square" d="m246.4 718.4h0m-2.4 4.3h0m.2 1h0m-7.5 1.4h0m.6 1.4h0m-5.4 1.4h0m2.9.3h0m.9 1.3h0m2.6.1h0m-.1.6h0m-6.2.5h0m-.1 1.4h0m-10.3 11.8h0"/><path stroke="#1818f0" stroke-opacity="0.50" stroke-width=".9" stroke-linecap="square" d="m267.7 704.3h0m-.3 1.1h0m-4.7 1.5h0m-6.3 2.6h0m-2.8.9h0m4.2.3h0m3.6.5h0m-9.6.9h0m4.7.1h0m-1.3 0h0m3 .3h0m-6.8.4h0m7.5 0h0m-3.8.7h0m-.4.3h0m.8.4h0m-2.8.1h0m2.6 0h0m-1.6.7h0m1.3.1h0m-6.5.2h0m2.7.2h0m-.1.7h0m-5.9.2h0m3.7.3h0m-1.1 0h0m4 .1h0m2.5.4h0m-8.6.2h0m6.1.4h0m.3.7h0m-7.9.2h0m3.5 0h0m1.4.1h0m-3.8.2h0m-.8 0h0m7.3.6h0m-4.6.1h0m4.5.3h0m-6.2.1h0m6.4.5h0m-7.2.3h0m-.1.8h0m-1.9.1h0m-2 .1h0m3.9.1h0m3.5 1.1h0m-5 .5h0m1.9.1h0m4 .1h0m-1.7.3h0m-3.6.1h0m-1.9.1h0m-1.4.4h0m7.1.2h0m.8 0h0m-8.5.4h0m1.6.2h0m-2.6.2h0m.9.1h0m-4.9.1h0m8.2.1h0m-4.7 0h0m1.5.2h0m-.7 0h0m6 .4h0m-4.3.5h0m-4.7 0h0m1.5.2h0m-2.4.3h0m.1 0h0m2.6.2h0m.2.1h0m1.3.2h0m-6.8.2h0m5.4.2h0m.4.4h0m-.7.1h0m-2 .1h0m8.4.3h0m-7.8.6h0m.5.4h0m-2.5.4h0m-.9 0h0m-1.1 0h0m3.2 0h0m-2 .4h0m5.2.1h0m-4.2.6h0m0 .6h0m2.3 0h0m-5.5 0h0m.5.1h0m2 .4h0m5.4 0h0m-8.2.4h0m-.7 0h0m-4.3.8h0m8.9 0h0m-.6.1h0m-4.1 0h0m8.5.3h0m-9.5.2h0m.2.8h0m-4.1.3h0m2.8.7h0m-2 .2h0m-.2.8h0m.9.6h0m-2.6 2.1h0m.8.4h0"/><path stroke="#1818f0" stroke-opacity="0.75" stroke-width=".9" stroke-linecap="square" d="m268.5 701.9h0m-1.8 3h0m-8.9 1.3h0m.7 4.2h0m0 1.1h0m-4.6.1h0m5.5.4h0m1.4.3h0m-11 1.8h0m1.7.2h0m3.5.1h0m-1.7.1h0m1.7 0h0m-5.4 1.1h0m-1.1.1h0m2.4.1h0m3.3.6h0m0 .2h0m-2 .1h0m2.4.1h0m-5.2.1h0m4.1.2h0m-5.7.2h0m3.8.1h0m1.1 0h0m2 .2h0m-4.7.1h0m-.1.2h0m-3.3.2h0m2.7.1h0m.6.8h0m-5.2.1h0m-.1.4h0m2.7.3h0m-3.3.5h0m4 .5h0m-2.6.3h0m-1.2.2h0m-2.4.6h0m7 0h0m-3.8.1h0m0 .6h0m2.2.1h0m-3.1.1h0m-1.9.5h0m-1.9.1h0m2 0h0m-1.1.4h0m-3.9 0h0m2 .3h0m4.1.1h0m-.8.2h0m6.8.1h0m-4.9.2h0m-8.3.3h0m5.4.2h0m-5.2.6h0m3.7.1h0m-2.7.2h0m2.5.1h0m-1.4.1h0m-5.8.8h0m.8.3h0m4.2.3h0m2.5.2h0m-1.4.3h0m-3.2.5h0m1.3.3h0m5.4.7h0m-12.3.8h0m9.5 0h0m-8.7.1h0m-.4.3h0m2.1.2h0m3.7.1h0m-2.8 0h0m-3.5.3h0m1.2.9h0m6.4.8h0m-5.9 0h0m-5.2.6h0m1.1 0h0m2 .6h0m.7.4h0m1.1.3h0m0 .3h0m-1.2.2h0m.7.4h0m-12.2.6h0m12.1.2h0m-3.2 1.7h0m-3.2.3h0m-2 .8h0m4.7.1h0m-1.7 2.7h0m-4.7.3h0"/><path stroke="#1818f0" stroke-opacity="1.00" stroke-width=".9" stroke-linecap="square" d="m257.2 709.9h0m-.9 0h0m2.8 0h0m-3.9 2.4h0m5.2.7h0m-2.7 1.3h0m-6.3.4h0m2.7.3h0m-3.5 1.6h0m-.5.3h0m1.4 2.6h0m2.6 1.4h0m-2.2.6h0m-10.9.2h0m10 .4h0m-2.1.3h0m-6.8 1.6h0m2.7.3h0m-1.2.2h0m-.8.7h0m-2.5.2h0m7.4.6h0m-1 .1h0m-7.2.7h0m1.2.2h0m1.2.3h0m-1.9.6h0m-3.3.2h0m7 .2h0m-2.6.2h0m-.5.8h0m-6.1.3h0m-.3.1h0m2.8 1.2h0m-9.3 2.8h0m3.3 1h0m-2 1.8h0m2.6 0h0m-5.2 1h0m-3.9 2h0"/><path stroke="#2020e8" stroke-opacity="0.30" stroke-width=".9" stroke-linecap="square" d="m233.1 738.3h0m10.1 7.1h0m-17.6.6h0m4.2.9h0m-3.2 0h0m15.8.7h0m.9.2h0m-4.1.5h0m-20.8.3h0m39.7.3h0m-27.6.2h0m-9.1.2h0m23.1.6h0m-24.1.8h0m14.5.4h0m1.4 1.6h0m-3.3 3.5h0m-.7.3h0m5.2 3.2h0m7.3 1.3h0m10.4.5h0"/><path stroke="#2020e8" stroke-opacity="0.50" stroke-width=".9" stroke-linecap="square" d="m263.2 726.6h0m-33.5 5.6h0m24 1.2h0m-16.4 1.1h0m-9.3 1h0m5.6 2.2h0m7.3.1h0m13.2.2h0m-23.3.3h0m11.5.1h0m8.3.3h0m-9 .5h0m-3.7.1h0m7.6.5h0m-14.2.2h0m2.2.6h0m5.1.1h0m-4.2.1h0m13.7.1h0m-2.8 0h0m-12.2.4h0m9.2.1h0m.2.1h0m12.3 0h0m-21 .2h0m4.8.2h0m10 .3h0m-1.2.3h0m-4.9.2h0m-13.3.4h0m14.6.3h0m-7.1.1h0m15.9.1h0m-16.2 0h0m-10.5.4h0m3.1.7h0m-4.9.1h0m6 .2h0m12.6 0h0m-1.9.2h0m-3.2 0h0m1 .2h0m2.4.2h0m-6.6.3h0m9.9.1h0m.8.1h0m-6.5 0h0m-10.7.2h0m-8.8.3h0m16.9.2h0m12.1.3h0m-6.4.1h0m-4.6 0h0m-3.6 0h0m-8.7.1h0m18 .2h0m-26.1.3h0m43.8 0h0m-22.5.1h0m10.5.2h0m-16.2 0h0m3.6.1h0m-7.7 0h0m2.5.1h0m-2.4 0h0m17.3.3h0m-26.1.1h0m10 .1h0m5.7.1h0m19.7 0h0m-21.3.1h0m-10 .1h0m5.8 0h0m.6.1h0m6.1 0h0m-7.1.2h0m7.8.1h0m1.6 0h0m-3.3 0h0m-9.5.4h0m18.1.1h0m-.2 0h0m-20.9.2h0m14.9.1h0m-4.7.4h0m-5 .1h0m3.2 0h0m13.9.1h0m-22 0h0m4.4 0h0m13.8.1h0m-10.8.4h0m7.6.8h0m-9.9.3h0m-.2 0h0m2 .2h0m3.3 0h0m21 0h0m-24.2.1h0m10.8 0h0m-8.2.1h0m20.1 0h0m1.2 0h0m-15.3.1h0m-14 0h0m6.1.1h0m-2.6 0h0m9.9 0h0m-12.2.1h0m8.4.2h0m3.2.3h0m7.2.1h0m.2.3h0m-2.6.2h0m-6.3.2h0m-.9 0h0m-2.4.1h0m10.4 0h0m6.6 0h0m-17.3.3h0m7.9.1h0m-14.1.1h0m8.1.5h0m3.8.1h0m-4.4.1h0m2.9.1h0m16.6 0h0m-13.1.4h0m-6.8 0h0m-4.5 0h0m1.4.5h0m.4.2h0m.5.1h0m.7 0h0m8.8.2h0m6.6 0h0m-18.7.4h0m7.6 0h0m-8.8.2h0m17.5.1h0m-4.4.5h0m-2.1.5h0m-3.5.4h0m-.5.1h0m-1.1.2h0m-.8.4h0m2 0h0m-9.4.1h0m10.5.1h0m1.5 0h0m1.6.4h0m-10 .1h0m-2.6.2h0m6.7 0h0m3.1.3h0m6.1.1h0m-11.9.1h0m-.1.2h0m-3.2.1h0m4.7.1h0m9 .1h0m-3 0h0m-10.6.1h0m11.7.4h0m3.3 0h0m-13.9.8h0m9 .4h0m-4.3 0h0m5.7.6h0m7.5.5h0m-11.7.9h0m-1.4 1h0m10 .5h0m5.9.7h0m-5.6.4h0m-4.3.4h0m-3.4.7h0m3.2 0h0m-9.8 1.1h0m22.6 0h0m2.5.4h0m-19.7 2.8h0m-1.3 2h0m-3.6.1h0"/><path stroke="#2020e8" stroke-opacity="0.75" stroke-width=".9" stroke-linecap="square" d="m234.1 724.5h0m8.3 6.4h0m-8 .1h0m26.4 1.7h0m-12.3.6h0m-.2 2h0m1.7.4h0m-22.7.8h0m26 .2h0m-2.2.3h0m-33.2.5h0m17.9 0h0m-3.5 1.7h0m9.4.1h0m-3.9.1h0m2.8.3h0m11.3.1h0m-14.2.1h0m-7 .1h0m13.1.1h0m2.5.5h0m7.4.1h0m-17.6.2h0m11.2.4h0m-4.7.5h0m-7.1 0h0m-5.6.1h0m-5.6 0h0m-.7.4h0m.3.6h0m12.9 0h0m-4.6.2h0m3.4.4h0m3.6.3h0m5.3.3h0m-18.8.2h0m13.7.1h0m7.8.4h0m-7.6.6h0m2.8 0h0m-35.4 0h0m46.7.3h0m-7.6.1h0m-15.1.3h0m-5.6.1h0m13.6.2h0m-11.7.2h0m.1.1h0m-.1.1h0m-.2.1h0m17.9.3h0m5.8.1h0m-12.9 0h0m6.4 0h0m-15.4.4h0m-2.6.1h0m19.9.3h0m-.5.1h0m-5.9.3h0m-3.4.1h0m13.7.6h0m-22.8 0h0m9.2.1h0m-.9 0h0m18.4.1h0m-19.7 0h0m-4 .1h0m19 .2h0m-4.9.1h0m-27.1.1h0m11.3 0h0m-.3.1h0m-9.4 0h0m8.2.1h0m5.7.1h0m21.7.1h0m-17.7 0h0m-12.9.2h0m20.2 0h0m-13.3.1h0m.6.1h0m1 .2h0m11.7.3h0m-12.8.1h0m3.8.2h0m12.4.2h0m-23.5.2h0m16.6 0h0m-10.7 0h0m3.1.2h0m-5.5.3h0m17.5.1h0m-7.4.2h0m3.7.1h0m-5.2.1h0m6.5.2h0m-8.1 0h0m-12.3.1h0m20 0h0m-17.4 0h0m-2 .1h0m-.8.3h0m21.9.1h0m-18.2.2h0m29.5 0h0m-30.6.1h0m4.4 0h0m13.2.4h0m.4 0h0m-4.4.1h0m-5.2.1h0m12.6.1h0m-17 .2h0m3.7.3h0m5.4.2h0m1.7 0h0m.7 0h0m-8.3.1h0m4.5.2h0m-2.9 0h0m-2.5.4h0m-1.1.5h0m.9.3h0m5.5.1h0m-10.2.6h0m27.1.2h0m-5.9.1h0m-1.9.2h0m-18.5.1h0m2.8.2h0m2.3.1h0m18 0h0m-21.4 0h0m2.8.1h0m6.9.7h0m-4.9.2h0m3.2.1h0m-11.7.3h0m11.5.2h0m6.6.1h0m-17.8.1h0m14.4 0h0m2.7.1h0m-2.4 0h0m5.1.1h0m-9.5.1h0m6.4.3h0m-3.5.3h0m-9.4.6h0m13.3 0h0m-9.1.2h0m2.8.3h0m-10 .1h0m24.9.3h0m0 .1h0m-12.7.3h0m-10.5.4h0m29.4.2h0m-17.4.4h0m-4.7.7h0m15.7.1h0m-.7 1.1h0m-6 1.6h0m-17.5 2.1h0"/><path stroke="#2020e8" stroke-opacity="1.00" stroke-width=".9" stroke-linecap="square" d="m251.5 732.4h0m-30 2.4h0m20.4 3h0m-10.8 1.5h0m8.3.8h0m3.6.8h0m3.3.2h0m-21.5.6h0m16 .5h0m-7 .1h0m4.6.3h0m7.1.2h0m-.6.1h0m-18.3.5h0m11.3.4h0m1.4.8h0m.9.6h0m10.8.2h0m-4.4.9h0m-2.1.1h0m-10.8.2h0m15.4.5h0m-13.8.3h0m16.3.8h0m-12.6.1h0m-3.3.6h0m6.7.1h0m5 .5h0m-13.3 0h0m-2.5.4h0m3.2.2h0m-1.8.2h0m13.9.6h0m-7.5.3h0m-12.9 0h0m10.8 0h0m5.6.3h0m5.6.1h0m-20.9.2h0m9.5.2h0m-10 .1h0m12.8 0h0m-17.8.3h0m31.1 0h0m-.5.1h0m-21.3.7h0m-8.2.1h0m3.9.2h0m3.8 0h0m5.6.2h0m.2 1.5h0m-10.7 0h0m2.4.2h0m5.7.6h0m-3.8 0h0m-5.1.5h0m19.8 0h0m-5.7.3h0m-9.2 0h0m15.5.1h0m-10.6.3h0m-6 .4h0m1.1.4h0m3.9 0h0m-8.9.2h0m4.1 0h0m.7.1h0m3.2.5h0m10.9.1h0m-12 .9h0m19.6.5h0m-3.3 1.6h0m-21 .1h0m2.8 2.8h0m-1.2.1h0m25.9.2h0m-14.7.4h0m-5.8.1h0m4.6 2.1h0m11.5.9h0m-6.1 3.6h0"/><path stroke="#2020e8" stroke-opacity="0.30" stroke-width=".9" stroke-linecap="square" d="m237.6 753.3h0m-2.5 1.9h0m-8.4 1.6h0m10.3 1.5h0m-7.3.6h0m-3.8.8h0m2.7 0h0m9.7 1.5h0m-6.5.8h0m7.4.5h0m-7.1.4h0m2.3.9h0m14 .1h0m-21.1 0h0m11.2.1h0m-14.6.8h0m7.2.7h0m18.6.2h0m-15.3.6h0m-3.3.5h0m13.6.2h0m-12.9.4h0m11.5.5h0m-8.9.2h0m1.7.6h0m-4 .1h0m10.9 0h0m1.7.7h0m-13.8.4h0m3.3.3h0m-4.1.9h0m-2.5.3h0m5.4 0h0m-4.2.3h0m6 2.3h0m11.2 1.1h0m-15.2.1h0m3.9.1h0"/><path stroke="#2020e8" stroke-opacity="0.50" stroke-width=".9" stroke-linecap="square" d="m218.2 748.1h0m20.4 2.8h0m5 .3h0m-12.9.1h0m-6 .2h0m.5.2h0m3.8.9h0m-.4.1h0m19.8.5h0m-18.5.1h0m7.7.6h0m-9.3.1h0m11 0h0m-5.2.2h0m9.2.1h0m-.2.1h0m4.7.5h0m-20.2 0h0m-1.2 0h0m.7.1h0m-.3 0h0m-2.8.4h0m6.9 0h0m9.1.2h0m8 0h0m-4.4.2h0m10 .2h0m-19.6.1h0m13.5 0h0m-25.8.2h0m19.3.1h0m-.9.2h0m7.5.3h0m-25.8 0h0m12.1.1h0m2.3.2h0m12 .2h0m-8.3.1h0m-8 0h0m-8.5.3h0m18.1 0h0m-13.1 0h0m-.9 0h0m20.7.1h0m-14.7 0h0m-8.2.2h0m1.7.1h0m15.8.1h0m-13.5 0h0m6.1 0h0m5.5.1h0m-9.1.1h0m6.7.1h0m-7.1.2h0m9.6.2h0m-8.3 0h0m3.5.1h0m-34.5 0h0m40.7 0h0m-11.9.3h0m4.1 0h0m-6 0h0m-2.7.1h0m.4 0h0m9.4.1h0m-4.3 0h0m5.6.1h0m12 0h0m-4.7.1h0m-11.5 0h0m7.8.1h0m11.3 0h0m-11.7.1h0m-12.8.1h0m11.5.1h0m1.9.1h0m-7.6 0h0m-5.1 0h0m5.4 0h0m2.3.1h0m-11.5.1h0m-.2 0h0m15 0h0m-11.8 0h0m2.6.1h0m6.7.1h0m-5.6 0h0m-1.1.1h0m-3.9 0h0m8.8 0h0m-4.1.1h0m9.9 0h0m-9.1 0h0m6.7.2h0m-13.5 0h0m6.8 0h0m5.1 0h0m.9.1h0m-13.7 0h0m15.2 0h0m-.4.1h0m7.7 0h0m-21 0h0m2 .1h0m-4 0h0m16.2 0h0m-10.2 0h0m0 .1h0m3.5.2h0m6.1.1h0m3.6 0h0m-17.7.2h0m13.4 0h0m-9 0h0m-1.6.2h0m5.7 0h0m.3 0h0m-10.1 0h0m1.3.1h0m22 0h0m-3.8 0h0m-14.6 0h0m15.4 0h0m-7.7.3h0m5.7 0h0m-2 0h0m-8.7.1h0m-1.2 0h0m-3.8 0h0m15.1 0h0m-11.2 0h0m7.7.1h0m-10.3.1h0m5.6.1h0m-3.4.2h0m14.7 0h0m-15.8.1h0m10.2 0h0m10.3.1h0m-18 0h0m-6.7 0h0m3.7.1h0m-1.8 0h0m4.3 0h0m-3.5.1h0m9.9 0h0m6.1.1h0m-5.5.1h0m-7.5.2h0m3.2 0h0m3.6 0h0m12.3 0h0m-22.7.1h0m16.7 0h0m6.3 0h0m-21.6 0h0m21.9.1h0m-19.8 0h0m13.8 0h0m-6 0h0m16.5 0h0m-21.2.1h0m1.7.2h0m-7 0h0m3 .1h0m8 0h0m1 0h0m16.2.1h0m-20.5 0h0m3.5.1h0m-11.6 0h0m11.1 0h0m-3.2.1h0m-3.3 0h0m-8.1 0h0m17.1 0h0m-.4.1h0m-2.7.2h0m7.6 0h0m-3.9 0h0m-16.5 0h0m6.8.2h0m1.4 0h0m14.9.1h0m-.1 0h0m-18.3 0h0m12.9 0h0m-5.5 0h0m-9.7 0h0m-.6 0h0m-2 .1h0m5.5 0h0m13.9 0h0m-5 0h0m-2.9.2h0m-10.5 0h0m13.5 0h0m4.2 0h0m-5.6 0h0m-10.6.1h0m3.1 0h0m7.7 0h0m-.3 0h0m-11.8.1h0m-1.7.1h0m15.4 0h0m4.5 0h0m3.3 0h0m-9.4 0h0m-6.2.1h0m19.9.1h0m-26.1.1h0m-1.1 0h0m21.1.1h0m1.9 0h0m-5 0h0m-4.5.1h0m.3 0h0m-4 0h0m8.8.1h0m-3.5 0h0m-12.7.1h0m8 .1h0m1.6 0h0m-7.1.1h0m-4.7.1h0m5.5 0h0m10.7 0h0m-8.1.1h0m11.4 0h0m-2 0h0m-15.2 0h0m3.4 0h0m12 .1h0m-8.6 0h0m-8.9 0h0m19 .1h0m-16 0h0m-.1 0h0m6.1 0h0m2.6.1h0m6.3.1h0m4.3 0h0m-13.3 0h0m2 0h0m-8.2.1h0m17.9 0h0m-11.7 0h0m.1.1h0m5.8 0h0m-14.1.1h0m6.1 0h0m8.7.1h0m-9.2 0h0m-2.8 0h0m6.4 0h0m1.8 0h0m-3.8 0h0m4.5.1h0m11.5 0h0m-21.4.1h0m13.4.1h0m-13.4 0h0m-1.4 0h0m4.8 0h0m-6.1.1h0m7.3.2h0m9.2 0h0m-2.1.2h0m-14.2.1h0m13.1 0h0m-3.5 0h0m4.5 0h0m0 0h0m1.4.1h0m1.8.1h0m-9.6 0h0m1.2.2h0m7.5 0h0m14.9.1h0m-17 .1h0m9.9 0h0m-13.2 0h0m16.9 0h0m-15.8.1h0m-10.5 0h0m12.8 0h0m-4.5.1h0m-.8 0h0m.9 0h0m-.4 0h0m4.1 0h0m2.4.1h0m-7.8.1h0m-2.2 0h0m4.9.1h0m-3.9.1h0m-7.9 0h0m4.8.1h0m-1.4.1h0m5 .2h0m4.8 0h0m-9.1 0h0m4.7.2h0m-2.3.1h0m-6.7 0h0m.4 0h0m14.7.1h0m-12.5 0h0m17 .1h0m-15.7.1h0m-2 0h0m2.5.1h0m21.4.2h0m-23.5 0h0m12 .1h0m-12.2 0h0m19.2.1h0m-21.4.2h0m.6 0h0m6.3 0h0m3.7.1h0m12.9 0h0m1.8.1h0m-24.6.1h0m2.7 0h0m-1.4 0h0m4.3.2h0m-2 0h0m12 .1h0m1 .1h0m8.5.2h0m-11 .4h0m5.4.1h0m-11.1 0h0m-.7.1h0m12.7 0h0m-1.3.1h0m9.1.1h0m-27.8 0h0m6.8.5h0m13.3.1h0m-15.9.1h0m.9.2h0m10.2.6h0m-16 .4h0m4.2.1h0m-.2.5h0m1.4.5h0m-1.7.3h0m5.7.4h0m4.5.5h0m.1 1.2h0m1.1 0h0"/><path stroke="#2020e8" stroke-opacity="0.75" stroke-width=".9" stroke-linecap="square" d="m254.9 741.5h0m-23.3 4h0m-3.5 2h0m4.4 0h0m4.7.7h0m6.9.5h0m-13.4.8h0m-7.2 2h0m8.3 1.2h0m-2.7 0h0m22.9.2h0m-30.6 0h0m20.4.2h0m-8.6.1h0m-10.4.2h0m10.1.3h0m.6 0h0m-10.3.1h0m3.7.5h0m.7 0h0m3.7.1h0m3.4.2h0m-11.1.2h0m13.3 0h0m-13.5.1h0m4.6.1h0m11.9.2h0m6.8.1h0m-5.2.1h0m5.9 0h0m-14 0h0m-3.7 0h0m10.9 0h0m-7.5.1h0m8 .1h0m18.2.1h0m-23.8 0h0m-3.7.1h0m-1.5.1h0m-5 0h0m9.2.1h0m-10.9.1h0m1.4.3h0m9.3 0h0m-5.3.1h0m3 .2h0m-4.1.2h0m-3.6 0h0m10.9.1h0m14.8.2h0m-11.3 0h0m-13 .1h0m13.7 0h0m-3.2.1h0m13.3 0h0m.2.1h0m-19.8.1h0m6.7.1h0m-3 0h0m4.4 0h0m12 0h0m-22.4.3h0m6.3.1h0m-8.5.1h0m18.4 0h0m2.6 0h0m-14 .1h0m8.8.1h0m2.1.1h0m4.8 0h0m-8.7 0h0m-1.4.2h0m-4 .1h0m-7.5 0h0m15.1 0h0m-4.4.1h0m-6.3 0h0m9.6 0h0m-11 0h0m-6 .1h0m26.8 0h0m-14.2.2h0m-8.8 0h0m-.4 0h0m6.8 0h0m-10.4.1h0m4.6 0h0m12 0h0m9.3 0h0m-14.1.1h0m-5.3.1h0m-5.8 0h0m17.6 0h0m-6.5.1h0m-6.1.1h0m-.6.1h0m-.1 0h0m22.9 0h0m-8.2.1h0m-8.6.1h0m2.1.1h0m-6.2 0h0m8.6 0h0m12 0h0m-25.8.1h0m14.8 0h0m-1 0h0m17.2 0h0m-32.4 0h0m19.7.1h0m-17.7.1h0m7.2.1h0m2.8 0h0m6.8 0h0m-1.5 0h0m-7 0h0m-9.6 0h0m28.8 0h0m-8.8.3h0m-21.6.1h0m6.9 0h0m10.4.1h0m-16.5 0h0m8.4.2h0m-3.1 0h0m11.7.1h0m-12.5 0h0m16.5.1h0m-19.6.1h0m5.3 0h0m.6.1h0m10.2 0h0m-17.6 0h0m17.8 0h0m-3.1.1h0m-14 0h0m17.6.1h0m-5.4 0h0m-2.8 0h0m-.1.1h0m11.4 0h0m-7.5.1h0m4.7 0h0m-7.4.2h0m9.4 0h0m6.6 0h0m-27.7.1h0m10.3 0h0m9.6 0h0m2.2.1h0m-7.9 0h0m-2.1 0h0m-10.7 0h0m16.2.1h0m-2.9.1h0m-5.6 0h0m11.7 0h0m-6.2 0h0m3.1.1h0m-15.5 0h0m2.9 0h0m1.5.1h0m23 .1h0m-11.4 0h0m1.2.1h0m2.3 0h0m-6.6 0h0m6.7 0h0m6.1.1h0m-14.8 0h0m7.6 0h0m-6 .1h0m-10.7 0h0m3.8 0h0m-2.7 0h0m7.4.1h0m3.1 0h0m-12.6.1h0m8.9.1h0m-10.1 0h0m13.9.1h0m14.7 0h0m-28.7 0h0m10 0h0m-.9 0h0m-8.8 0h0m13 .1h0m-11.9 0h0m-.8 0h0m2.8.1h0m1.2 0h0m-1.7.1h0m13.2 0h0m.1.1h0m8 .1h0m-2.3 0h0m-15 0h0m1.2.1h0m-5.1 0h0m-1 0h0m.5 0h0m16 0h0m-5.4 0h0m-4.9 0h0m13.6.2h0m-11.7.1h0m1.2 0h0m-6.9 0h0m3.6 0h0m11.6 0h0m1.1.1h0m11.9 0h0m-7.5 0h0m-13.5.1h0m6.6 0h0m6.7.1h0m-24.9 0h0m13.8 0h0m-14.6.1h0m1.7 0h0m-1.1 0h0m9.8 0h0m-7.2.1h0m10.6 0h0m1.4 0h0m-9 0h0m6.8 0h0m-2.9.1h0m4.3 0h0m-7.8.1h0m-2.2 0h0m3.2 0h0m-2.8.1h0m14.5.1h0m-10.5 0h0m-3.2 0h0m15.3 0h0m-18.4.1h0m-2.4 0h0m-.1.1h0m18.3 0h0m-17.3 0h0m11.8 0h0m3.9.1h0m3.6 0h0m-12 0h0m8.9.1h0m-10.2 0h0m-3 0h0m8.9.1h0m1 0h0m9.5 0h0m-10.1.1h0m-3.7 0h0m-7.1.1h0m11.2 0h0m1.6 0h0m-12.5 0h0m1 .1h0m6.2 0h0m18.2.1h0m-16.5.1h0m-9.7 0h0m1.1.1h0m2.2.1h0m5.7 0h0m-10.3 0h0m31.5 0h0m-29.2.1h0m3 .1h0m7.8 0h0m-2.8.1h0m5.3 0h0m-9.2.1h0m9.4 0h0m-5.4 0h0m5.5.1h0m-2.2.1h0m-5.9 0h0m4.9 0h0m11.5.1h0m-18 0h0m-4 .1h0m5.4 0h0m8.6 0h0m-1.2 0h0m-5.3.1h0m3.6 0h0m-13.1 0h0m14 0h0m6.4 0h0m-14.8.1h0m3.9.1h0m9 0h0m-12.8 0h0m-.7 0h0m7.4 0h0m-2.7 0h0m-4.6.1h0m-4.3.1h0m20.9 0h0m-14 .1h0m8.1.2h0m-2.6.1h0m5.6.1h0m-11.1 0h0m9.9 0h0m-9 .1h0m-1.2.1h0m5.4.2h0m-6.7 0h0m-2.4 0h0m30.3.1h0m-31.5 0h0m0 .1h0m7.3 0h0m13.6 0h0m-16 0h0m8.5.1h0m.2 0h0m-1.3.1h0m-15.1.1h0m12.4.1h0m-7 .1h0m12.2 0h0m-10 0h0m8.7 0h0m-3.1.1h0m-11.4.1h0m6.6 0h0m11.5 0h0m-10.3.1h0m-1.4 0h0m21.7.1h0m-22.9 0h0m12.6 0h0m16.1 0h0m-27.2.2h0m-6.7.1h0m.1 0h0m17.3 0h0m3.2 0h0m-9 .1h0m-6.4 0h0m28.5.1h0m-27.4.1h0m19.5 0h0m-20.6 0h0m.7.1h0m-8.4 0h0m7.2 0h0m1.8 0h0m17.9.1h0m-14.2 0h0m-4 .1h0m10.2 0h0m.4 0h0m-12.1 0h0m-7.1 0h0m6.2.1h0m15.4 0h0m-14.6 0h0m18.3.1h0m-15.5 0h0m5.6.1h0m-3.3 0h0m9.8 0h0m-16.9.1h0m.7 0h0m14.5 0h0m-8.8.2h0m-9 0h0m7.6.1h0m2.6.1h0m.4.2h0m.7 0h0m-11.6.1h0m12.7.2h0m-7.3 0h0m-2.4.1h0m-4.3.1h0m4.2 0h0m3.3.1h0m8 .2h0m-16 .1h0m25.7 0h0m-9.2.1h0m1.4 0h0m-17.7.1h0m17.8.3h0m-14.4 0h0m7.4.2h0m-5.5.2h0m-2.5 0h0m2.7 0h0m7.5.1h0m-11.3.1h0m2.1.1h0m10.2 0h0m-9.7 0h0m-1.2.2h0m12.4.1h0m-8.9.2h0m28 .1h0m-30.7.1h0m18 .4h0m2.1 0h0m-8 .1h0m.1.2h0m14.7 0h0m-21.1.1h0m16.9.6h0m-24.4 0h0m17.4.3h0m-11.3.4h0m-3.4.5h0m12 .1h0m-6 .5h0m-9.2.1h0m4.6.4h0m14 1.1h0m-9.5.6h0m-12.7 1.4h0m21.9 3.4h0"/><path stroke="#2020e8" stroke-opacity="1.00" stroke-width=".9" stroke-linecap="square" d="m238.1 739.9h0m-3 8.5h0m-10.1 1.1h0m9.7 2.5h0m11 .3h0m-21.4.2h0m15.2 1h0m-7.9.5h0m-3.1.5h0m8 .2h0m2.8.3h0m6.5.2h0m-1.4.2h0m-2.3.4h0m.4 0h0m-2 1.1h0m.9.1h0m-9.6 0h0m2.4.4h0m-37.2.3h0m42.8 0h0m-3.9.3h0m-1 .2h0m-1.4.2h0m18 .1h0m-25.2.1h0m-.4 0h0m-1.2 0h0m6.6.2h0m-4.8.1h0m23.8.4h0m-1.7.1h0m-21.5.1h0m12.9.2h0m8.7 0h0m-13.8.1h0m10.9.2h0m-11.2.1h0m-10.4.1h0m3.9.4h0m4.9.1h0m6.5.1h0m-12.1 0h0m20.1.1h0m-10.6 0h0m-3.9 0h0m-2.2.1h0m2.3.1h0m-8.3.1h0m.7.1h0m11 0h0m17 .2h0m-28 .1h0m19.5.2h0m-21.3 0h0m19.1.1h0m-.9.1h0m-15.1 0h0m14.9.1h0m-4.3.2h0m-3.5.3h0m-1.6.2h0m5.9 0h0m-13 0h0m38 .1h0m-12.4.2h0m-24.1.1h0m6.3.2h0m1.5 0h0m16.8.1h0m-25.4.1h0m10.5.1h0m-1.9.1h0m-6.6.1h0m10.2 0h0m-8.6 0h0m8.9.1h0m-5.3 0h0m-6 .1h0m-.8.1h0m4.1.2h0m7.3 0h0m-13.6.1h0m14.6 0h0m-3.9.2h0m-2.4 0h0m3.5 0h0m7.3 0h0m-4.8.5h0m2.1 0h0m-3.5.1h0m-6.6 0h0m5.9.2h0m-10 0h0m2.4 0h0m23.9.2h0m-27.4 0h0m11.3.2h0m7.3.1h0m-6.7 0h0m-2.4.2h0m-3.9 0h0m13.5.1h0m-13.2.1h0m11.4 0h0m-8 .1h0m-7.7.1h0m1.6.2h0m21.2.2h0m-13.6 0h0m8.4 0h0m-12.6.1h0m25.3.1h0m-16.3.2h0m-16.5 0h0m9.6.1h0m6.3.1h0m-4.8.2h0m-9.2.1h0m7.4.2h0m13 0h0m-12.5.2h0m-5.8.1h0m7.4 0h0m-1.9.1h0m7 .1h0m1.4.1h0m4.7.1h0m-11 .1h0m-1.4.2h0m-9.9.2h0m11.3 0h0m1.3 0h0m-10.2.1h0m16.1.2h0m-9.2.1h0m-7 .1h0m8.9 0h0m-10.4 0h0m23 0h0m-15 .2h0m-2.6 0h0m24.5.3h0m-7.8 0h0m-10.9.2h0m-4.9.1h0m1 0h0m4.7.1h0m-4.8.1h0m14.4.1h0m-22 0h0m1.9 0h0m5.7.4h0m1.9.1h0m10.8.1h0m.7.2h0m-1.4.1h0m-14.5 0h0m12.5.1h0m-3.8 0h0m-3.5.1h0m-2.9 0h0m-1.8.4h0m-3 .4h0m2.5.3h0m14.2.6h0m-5.3.1h0m10.9.1h0m-22.3 0h0m15.3.1h0m-4.7.1h0m-12 0h0m3.5 0h0m9.7 0h0m-4.4.8h0m-5.3.1h0m-4.1 0h0m3.8.7h0m14.7 0h0m-7.1 2.6h0m-12.9 0h0m9.8.4h0m9.9 2.3h0m-19.1.4h0"/><path stroke="#2020e8" stroke-opacity="0.30" stroke-width=".9" stroke-linecap="square" d="m241.5 757.1h0m-4.2 6.5h0m30.8.8h0m-15 .1h0m-19.7.5h0m25.1.7h0m5.9.2h0m-5.7 1.1h0m-32.1 1.6h0m13.1.7h0m16 .1h0m-3.5 1.3h0m-8.4.6h0m-4.9 1.3h0m15.3 2h0"/><path stroke="#2020e8" stroke-opacity="0.50" stroke-width=".9" stroke-linecap="square" d="m243.9 751.7h0m8.7.9h0m-22.3.4h0m11.9.8h0m-.8 1.2h0m23.2 2.2h0m-18.4.3h0m.2.1h0m-.1 1h0m-20.6 0h0m27.4.1h0m.1.1h0m-4.6.1h0m-4.1.1h0m-17.3.5h0m47.7 0h0m-22.2 0h0m-1.2.2h0m-28.5.1h0m46.6.1h0m-40.1.4h0m16.2.1h0m-15.9 0h0m22.2.2h0m6.3.2h0m-.6.2h0m.7 0h0m.4.2h0m-29.3.1h0m46 .1h0m-28.9.2h0m11.4.1h0m-10.1.1h0m20.5.1h0m-38 0h0m34 .1h0m-24.3.2h0m7.4.2h0m17.7.3h0m-29.2.3h0m25.6.2h0m13.6 0h0m-1.2 0h0m-35.7.1h0m15.6 0h0m9.4.2h0m-28.3.4h0m22.8.3h0m10.9.2h0m-37.9.1h0m10.6.1h0m-8.7 0h0m12.1 0h0m23.5.2h0m-23.8 0h0m9.7.3h0m-20.1 0h0m17.6.3h0m29.6.1h0m-42.1 0h0m19.7.1h0m-17.9 0h0m25.5.1h0m-1.7 0h0m-37.4 0h0m58 .1h0m-30.1.1h0m5.7 0h0m-10.9.1h0m-2.4 0h0m5.6.1h0m-8.8.3h0m11.1 0h0m-10.9.1h0m-20.5 0h0m20.5.2h0m2.9.1h0m-5.1 0h0m20.2 0h0m-13.9.1h0m20.3 0h0m-12.1.1h0m7.9 0h0m-6.4.1h0m-1.6 0h0m24.3.1h0m-83.4.1h0m49 .2h0m37.5 0h0m-58.3 0h0m26.4 0h0m3.2.1h0m-8.4 0h0m.1.2h0m28.4 0h0m-12.7 0h0m-9.8.1h0m-9.5 0h0m12.1.3h0m-12.2 0h0m22.8.2h0m-23.4 0h0m-4.6 0h0m11.5.1h0m-6.6 0h0m6.5 0h0m-11.7 0h0m5.1.1h0m-8 0h0m34.2.1h0m-41.1 0h0m4.9.1h0m17.5 0h0m-13.4.1h0m19.5.1h0m-23.5 0h0m25.2.1h0m-5.1.1h0m14.8.1h0m-40.5.1h0m13.1.2h0m19.9 0h0m-32.8 0h0m20 .2h0m2 .1h0m-12.8 0h0m.2 0h0m4.7.1h0m-2.7.1h0m26.8.2h0m-34.6 0h0m22.9.2h0m-4 0h0m9.6.1h0m-18.6 0h0m35.4.1h0m-32 0h0m28.2.1h0m-17.7 0h0m-8.8 0h0m-14.7.2h0m39.9 0h0m-16 .2h0m.1 0h0m-9.5 0h0m29.3.1h0m-43 0h0m28.8.3h0m-9.8 0h0m13.5.1h0m-38.8 0h0m17.7 0h0m1 0h0m16.7.1h0m19.7.1h0m-38.9.2h0m29.9 0h0m-18.1.3h0m2.7 0h0m-6.8.1h0m-4.2.1h0m-13 0h0m13.7.1h0m15.3.1h0m2.7.1h0m-12.7.5h0m10.5.1h0m22.6.2h0m-51.9 0h0m7.2.2h0m46.7.1h0m-43.9.1h0m8.7.3h0m2.6.6h0m7.6 0h0m-11.1.1h0m-23.4.4h0m45.5.3h0m-13.6.1h0m-17.5.3h0m13.8.1h0m-21.9.9h0m-3.7.5h0m22.8.4h0m-9 .6h0m-11.5 1.5h0m12.2 1h0m5.7 1.4h0"/><path stroke="#2020e8" stroke-opacity="0.75" stroke-width=".9" stroke-linecap="square" d="m263.5 749.7h0m-21.4 1.7h0m21.2 1.1h0m-20.4 1.2h0m27.6 1.5h0m-40.8.1h0m11.3 1.2h0m-9.5.1h0m-6.6.1h0m38.6.4h0m-26.7 0h0m24.3.2h0m-37.4 0h0m28.5.3h0m6.2.1h0m-19.2.5h0m4.5.4h0m-5.3.2h0m1.8.3h0m12.8 0h0m-6.5.5h0m-2.6.1h0m29.4 0h0m-6.9.1h0m-17.9.2h0m1.6.1h0m-4.3 0h0m-10 .3h0m-4.1.2h0m.6.2h0m25.1.1h0m-14.2.1h0m9.3.1h0m-3.8.1h0m13.8 0h0m-19.1.1h0m-13.9 0h0m9.4 0h0m-13.9 0h0m5.8.1h0m28.8.4h0m-12.6.1h0m-9.1.1h0m-7.9.1h0m23.6.1h0m-14 0h0m21.6.1h0m13.5.1h0m4.4 0h0m-34.9.1h0m-2.5.1h0m4.7.4h0m-4.7.1h0m9.9.2h0m-25.9.3h0m14.9.1h0m16 .1h0m-27.8.3h0m8.1 0h0m35.4.1h0m-9 .1h0m-7.1.1h0m-23.8.1h0m20.5 0h0m-16 .1h0m5.6.1h0m-7.3 0h0m3.2.3h0m14 .2h0m-10.2 0h0m3.5.4h0m16.8.1h0m-13.7 0h0m11 0h0m-17 .1h0m-4.2.1h0m36.4 0h0m-13.4.1h0m-32.8 0h0m20.2.1h0m26.9.1h0m-42.8.3h0m5.5 0h0m26.5 0h0m-16.6.1h0m.4 0h0m-7.3.2h0m20.6 0h0m-29.6 0h0m16.7.1h0m5.6 0h0m2.4.3h0m-4.8.3h0m-6.6.1h0m-16 .1h0m37.4 0h0m-32.6.2h0m25.4 0h0m6.3.1h0m-22.7.3h0m18.2.2h0m-15.2 0h0m-17.9.1h0m38.4.1h0m-42.7 0h0m13 0h0m19 .1h0m1.9.3h0m-1.6.1h0m-19.2.2h0m9.6.1h0m-1.5.1h0m7.4.1h0m16.3.2h0m-14.4 0h0m-21.2 0h0m39.9.2h0m-13.8 0h0m9.3.3h0m-10.8 0h0m.5 0h0m-32.5.1h0m9.1.1h0m23.8.1h0m-.8.1h0m15.2.3h0m-44.4.1h0m3.4.1h0m10.4 0h0m24.6.1h0m-14.9.1h0m-2.4.2h0m-11.6.1h0m18.7.2h0m-21.1.1h0m34.3.1h0m-25.4 0h0m-6.6 0h0m16.4.1h0m-28.9 0h0m21.8.2h0m-19.1.2h0m16 .1h0m1.9.4h0m-10.6.1h0m2.3.2h0m10.8.2h0m-18.2.1h0m31.3.2h0m-9.6.3h0m-13.4.4h0m-3.5.2h0m-11.9 0h0m8.7 0h0m12 .1h0m-18.1.3h0m-3 .6h0m51.3.4h0m-45.4.1h0m.2.2h0m-2.2.8h0m22.3.5h0m1.2.6h0m-7.5 0h0m12.2.6h0m-27.1.5h0m46.8 1.7h0"/><path stroke="#2020e8" stroke-opacity="1.00" stroke-width=".9" stroke-linecap="square" d="m235.4 752.8h0m12.3.5h0m4.4.4h0m1 0h0m-3.9 2.9h0m-.1.8h0m-20.7 1.4h0m14.6.6h0m16.8.6h0m9.8.1h0m-16 .2h0m-10.7 1.2h0m14.5.1h0m-26.8.1h0m16.1.2h0m-4.5 0h0m28.7 0h0m-45.4.6h0m19 0h0m16 .1h0m-7.1.1h0m-16 .2h0m-8.6 1.3h0m12.8.1h0m3.8.7h0m34.4.1h0m-55.3.4h0m1.2.1h0m9.8.3h0m4.5 0h0m-8.8.5h0m19.4.1h0m-9.1 0h0m15.9.2h0m1.5.2h0m-.6.3h0m-9.6 0h0m-.5 0h0m15.3.1h0m-38.3.1h0m10.1.1h0m-3.6.4h0m27.7.6h0m-24.9.2h0m-5.5.2h0m20.1 0h0m35.1.8h0m-14.7.1h0m-30 .2h0m-1.9 0h0m15.6 0h0m.1.4h0m4.2.3h0m15.5.2h0m-34.6 0h0m60.3.1h0m-61.3.2h0m-6.8.4h0m36.5.1h0m-28.8.4h0m40.5 0h0m-49.9.1h0m35.6.2h0m-30.1.1h0m-5 .2h0m31.5.7h0m-17.3.5h0m9.3.3h0m-10.4.8h0m28.7 0h0m-30.1 0h0m-5.2.1h0m14 .4h0m-10.5.7h0m10.5.1h0m4.6.2h0m-1.1 1.6h0m17.2.2h0m-36.2.1h0m32.4 1.8h0"/><path stroke="#2020e8" stroke-opacity="0.30" stroke-width=".9" stroke-linecap="square" d="m204.4 756.2h0m-1.5 1.5h0m-3.8 3.6h0m-2.1 1.6h0m.8.7h0m2.8 1.7h0m-1.5 1.3h0"/><path stroke="#2020e8" stroke-opacity="0.50" stroke-width=".9" stroke-linecap="square" d="m197.9 745.1h0m4.3 3.5h0m-3.3 1.1h0m2.9.2h0m-7.1.2h0m5.9 1h0m3.8.8h0m-.7.2h0m-4.9.7h0m2.4.2h0m1.9.7h0m-1 .2h0m-1.6 1.7h0m-1.9.1h0m3.8.5h0m.3 0h0m-5.2.7h0m3.2 0h0m-4.6.5h0m4.4.5h0m.4.4h0m-1.8.1h0m-3.1 1.2h0m2.5 0h0m2.1 0h0m.4.2h0m-4.8 0h0m1.1.1h0m-.4 0h0m4.1 1h0m-1.5.1h0m3.2.1h0m-1.3.2h0m-2.3 0h0m1.4.3h0m.1.1h0m-1.8 0h0m-2.5.6h0m4.3.1h0m-2.1.3h0m1.2.2h0m.1.3h0m-3 .2h0m.2.1h0m3.7 0h0m-1.6.2h0m-.5.5h0m.6.3h0m.3 0h0m.6.2h0m-4.7.1h0m2.8.5h0m2.6.6h0m-.4.5h0m-2 .2h0m-.1 1.1h0m1.9 0h0m-.5 2h0m-2.6.7h0m.4.3h0m-.4.5h0m1.7 1.5h0m.5.6h0m-1.6.7h0m.1.1h0m-.2 1.8h0m-.8.1h0m-.2.4h0m1.5.7h0m-3.1 2.8h0m2.5.2h0m-.4 1h0m-2.2.4h0m4 7.9h0m-2.7 1.4h0"/><path stroke="#2020e8" stroke-opacity="0.75" stroke-width=".9" stroke-linecap="square" d="m195.4 741.5h0m4.9 3.2h0m3.1 1.6h0m2.3 1.3h0m-10.5 1.3h0m9.8.4h0m-3.6.3h0m-2 .8h0m-1.9.4h0m1.7.2h0m2.2.6h0m5.5 1.7h0m-8 .2h0m3.2.3h0m-5 .2h0m8 .9h0m-7.8.1h0m3.5.6h0m-.3.2h0m-2.5.5h0m2.2.2h0m-3.4 0h0m1.1.1h0m1.7 0h0m4.6.1h0m-1.8 0h0m1.8.9h0m-5.9.2h0m1.7.8h0m2.1.1h0m-4.1.1h0m4.1 1.3h0m-7.2 0h0m3.6.5h0m.7 0h0m2.1.1h0m-3.4.2h0m-1.3.3h0m2.7.1h0m-3.1 1.3h0m3 .1h0m-.4 0h0m.1 1.3h0m-.5.3h0m-1.6.2h0m4.8 0h0m-1.1.2h0m-2.1.5h0m-2.2.4h0m.2 0h0m4.7.2h0m-3.5.5h0m.5.1h0m1.7.4h0m-1.2.1h0m-2.5.5h0m4.2.2h0m-1.6.1h0m1.5.2h0m-4 .5h0m3.7.1h0m-2.5 1.3h0m2.6.4h0m.1.1h0m-1.3.6h0m0 .4h0m.7 0h0m0 .1h0m.1.2h0m-.3.7h0m-.7 1.3h0m-.2 2.7h0m-.9.1h0m.9.4h0m-2.2 1.4h0m1.3.2h0m-.3.5h0m.7 0h0m-.3.7h0m.3 3.3h0m-1.6 2.4h0"/><path stroke="#2020e8" stroke-opacity="1.00" stroke-width=".9" stroke-linecap="square" d="m196.6 751.3h0m1.1 1.5h0m2.6.4h0m7.5 0h0m-6 1.1h0m-6.6.6h0m10 1.5h0m-10.4.4h0m2.6 1.3h0m.1 1.8h0m4.4.1h0m-1.6.8h0m2.7 0h0m-2.2.9h0m-1.4 1.5h0m1.7.1h0m-4.8.7h0m4.5 1.1h0m.3 0h0m-4.9 1.2h0m4.6.2h0m-3.4.4h0m-1.6.1h0m3.7.6h0m.9.3h0m-.3.4h0m-1.1 1.6h0m.2.7h0m-1.6 0h0m-2.8.5h0m2.2 1.6h0m.8 0h0m-2.4 2.9h0m2.7 1.5h0m.1 2h0m-.4.9h0m-1 5h0"/><path stroke="#8888cc" stroke-opacity="0.30" stroke-width=".9" stroke-linecap="square" d="m307.2 714.5h0m-22.5 9.9h0m-30.6 5.5h0"/><path stroke="#8888cc" stroke-opacity="0.50" stroke-width=".9" stroke-linecap="square" d="m209 682.4h0m-3.9 1.1h0m16.8 1.7h0m-4.6 1.9h0m41.8 1.1h0m-10.4 2.8h0m32.1.7h0m17.3 3.7h0m-53 2.6h0m-40.8 3.2h0m52.5 7.5h0m37 1.5h0m1.5.1h0m-75.2 2.1h0m31.1 1.4h0m10.5 6.3h0m16.3.1h0m12.7 1.5h0m6 2.5h0m-99.4 3.2h0m51.8.3h0m-26.1.7h0m-21.9 2.9h0m69.8.9h0m-38.8 4.8h0m65.6 2h0m-78.3 1h0m16.4 1h0m-37.2.6h0m5.5 2.2h0m64.9.3h0m-1.9 2.4h0m-66.6 1h0m59.7 7.8h0m-12.8.5h0m23.2 1.1h0m-7.6 7.7h0m-35.6.9h0m24.3 1.3h0m53.5 5h0m-77 3h0m23.7.4h0m-27.4 5.5h0m68.8 3.2h0"/><path stroke="#8888cc" stroke-opacity="0.75" stroke-width=".9" stroke-linecap="square" d="m276.5 682.6h0m20.6 22.5h0m-59.5.5h0m20.8.2h0m41 1.5h0m-33 4.8h0m-62.9 1.4h0m49.2 1.7h0m47 .7h0m-21.8.9h0m-65.4.2h0m-10.8 1.3h0m100.7.7h0m-7.9 2.4h0m-74.3.7h0m36.3 1.3h0m-4.1.5h0m-20.7.2h0m28.2.5h0m-18.1.5h0m-2.4 1.8h0m45 5.6h0m-24.9 1.1h0m-35.7 4.2h0m69.8 1.8h0m-81 2.4h0m63.6.7h0m20.3 2.4h0m-4.6 3.2h0m-44.6.5h0m29 .6h0m-39.8 2.3h0m-30.2 3.3h0m82.9 3.2h0m15.5 0h0m-28.1.2h0m-30.9.8h0m1 .2h0m25.2 3.1h0m-4.2 11.4h0m-9.5.3h0m-18.6.5h0m-42.6.5h0m92.5 5.8h0m-52.5.1h0m32.9.5h0m-5 1.6h0m-40.9 2.5h0m4.5 1.4h0m71.6 1.8h0m-47.7 0h0"/><path stroke="#8888cc" stroke-opacity="1.00" stroke-width=".9" stroke-linecap="square" d="m259.1 681.4h0m-35.2.7h0m24 8.4h0m13.8 1.5h0m-14.2 1.1h0m-43.7 6.5h0m18.2 2.8h0m-12.9 1.4h0m25.2 5h0m-37.1.4h0m101 .4h0m-59.1.8h0m16.7 2.1h0m49.8 2.9h0m-56.5 0h0m-46.4.7h0m85.5 17.2h0m-29.2 6.7h0m-58.1 1.1h0m83.7 4.2h0m-13.9 18.7h0m29.5 19.8h0"/><path stroke="#6060d0" stroke-opacity="0.30" stroke-width=".9" stroke-linecap="square" d="m208.1 704.7h0m.7 30.5h0m-.3.1h0m-.4 4.6h0"/><path stroke="#6060d0" stroke-opacity="0.50" stroke-width=".9" stroke-linecap="square" d="m208.9 691.2h0m.3 6.1h0m-1 1.5h0m0 3.8h0m1.5.9h0m.1 1.4h0m.1 5.1h0m-1.8 4.6h0m1.6 7.9h0m0 9.1h0m-1.1.9h0m1.1 9h0"/><path stroke="#6060d0" stroke-opacity="0.75" stroke-width=".9" stroke-linecap="square" d="m208.7 694.3h0m-.3 3h0m.4.9h0m-.1 10.7h0m.1 11.3h0"/><path stroke="#6060d0" stroke-opacity="1.00" stroke-width=".9" stroke-linecap="square" d="m209.8 696.1h0m-.6 3.9h0m-1.2 18.3h0m1.3 15.4h0"/></g><rect x="254.2" y="678.6" width="51.7" height="46.5" fill="none" stroke="#222" stroke-width="0.8"/><rect x="195" y="676.8" width="113.9" height="113.2" fill="none" stroke="#555" stroke-width=".8"/><path stroke="#333" stroke-width=".8" fill="none" d="M212 790v2.6M247 790v2.6M272 790v2.6M297 790v2.6M215.5 790v1.4M219 790v1.4M222.5 790v1.4M226 790v1.4M229.5 790v1.4M233 790v1.4M236.5 790v1.4M240 790v1.4M243.5 790v1.4M254.53 790v1.4M258.93 790v1.4M262.05 790v1.4M264.47 790v1.4M266.45 790v1.4M268.13 790v1.4M269.58 790v1.4M270.86 790v1.4M279.53 790v1.4M283.93 790v1.4M287.05 790v1.4M289.47 790v1.4M291.45 790v1.4M293.13 790v1.4M294.58 790v1.4M295.86 790v1.4M304.53 790v1.4M308.93 790v1.4M195 778.5h-2.6M195 761.3h-2.6M195 736.3h-2.6M195 711.3h-2.6M195 686.7h-2.6M195 775.06h-1.4M195 771.62h-1.4M195 768.18h-1.4M195 764.74h-1.4M195 753.77h-1.4M195 749.37h-1.4M195 746.25h-1.4M195 743.83h-1.4M195 741.85h-1.4M195 740.17h-1.4M195 738.72h-1.4M195 737.44h-1.4M195 728.77h-1.4M195 724.37h-1.4M195 721.25h-1.4M195 718.83h-1.4M195 716.85h-1.4M195 715.17h-1.4M195 713.72h-1.4M195 712.44h-1.4M195 703.89h-1.4M195 699.56h-1.4M195 696.49h-1.4M195 694.11h-1.4M195 692.16h-1.4M195 690.51h-1.4M195 689.08h-1.4M195 687.83h-1.4M195 679.29h-1.4M195 674.96h-1.4"/><text x="212" y="800.8" text-anchor="middle" font-size="4.6" fill="#111" stroke="#111" stroke-width="0.14">0</text><text x="247" y="800.8" text-anchor="middle" font-size="4.6" fill="#111" stroke="#111" stroke-width="0.14">10<tspan dy="-2.4" font-size="3.68">3</tspan></text><text x="272" y="800.8" text-anchor="middle" font-size="4.6" fill="#111" stroke="#111" stroke-width="0.14">10<tspan dy="-2.4" font-size="3.68">4</tspan></text><text x="297" y="800.8" text-anchor="middle" font-size="4.6" fill="#111" stroke="#111" stroke-width="0.14">10<tspan dy="-2.4" font-size="3.68">5</tspan></text><text x="186.8" y="781.9" text-anchor="end" font-size="4.6" fill="#111" stroke="#111" stroke-width="0.14">0</text><text x="190" y="764.7" text-anchor="end" font-size="4.6" fill="#111" stroke="#111" stroke-width="0.14">10<tspan dy="-2.4" font-size="3.68">2</tspan></text><text x="190" y="739.7" text-anchor="end" font-size="4.6" fill="#111" stroke="#111" stroke-width="0.14">10<tspan dy="-2.4" font-size="3.68">3</tspan></text><text x="190" y="714.7" text-anchor="end" font-size="4.6" fill="#111" stroke="#111" stroke-width="0.14">10<tspan dy="-2.4" font-size="3.68">4</tspan></text><text x="190" y="690.1" text-anchor="end" font-size="4.6" fill="#111" stroke="#111" stroke-width="0.14">10<tspan dy="-2.4" font-size="3.68">5</tspan></text><rect x="192.2" y="775.6" width="2.7" height="5.9" fill="#111" fill-opacity="0.85"/><rect x="205.1" y="790.6" width="7.8" height="2.4" fill="#111" fill-opacity="0.85"/><text x="252.6" y="810" text-anchor="middle" font-size="10.15">BG505 SOSIP (BUV737)</text><text transform="translate(179 737) rotate(-90)" text-anchor="middle" font-size="10.15">BG505 SOSIP (BV421)</text>
</svg>
</body></html>
